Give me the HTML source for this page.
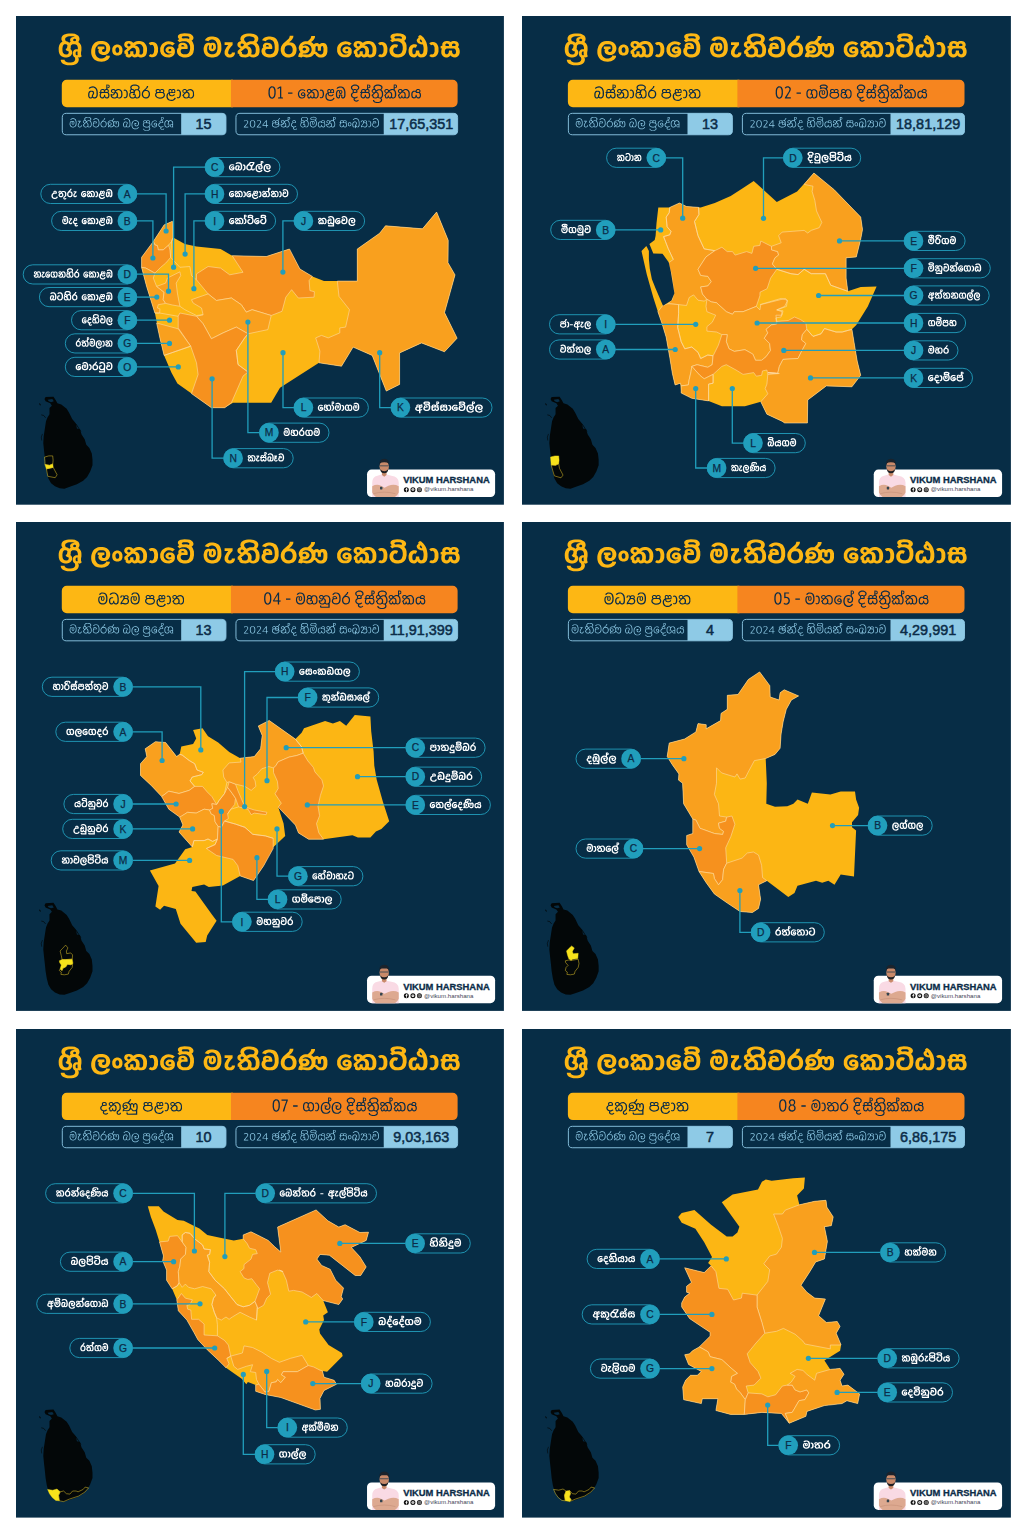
<!DOCTYPE html>
<html><head><meta charset="utf-8"><title>Sri Lanka electoral divisions</title>
<style>html,body{margin:0;padding:0;background:#fff}svg{display:block}text{font-family:"Liberation Sans",sans-serif}</style></head>
<body><svg width="1023" height="1528" viewBox="0 0 1023 1528">
<defs>
<path id="t0" fill-rule="evenodd" d="M611-168l-20 9-14 16-8 19-2 12 0 31 5 23 6 12 10 12 20 8 25 0 19-8 9-9 6-11 6-23 0-37-9-28-15-17-7-5-13-4zM618-133l9 1 7 8 5 16 0 22-3 14-9 10-4 1-9-1-7-6-6-20 0-18 3-15 8-10zM1731-198l0 35 38 1-18 28-17 40-3 17 0 28 5 17 6 11 11 12 9 5 14 3 18 0 12-2 15-9 7-9 9-20 2-23-33 0-2 12-3 6-8 5-10 2-6-3-6-6-3-6 0-15 4-20 6-18 19-34 17-22 0-35zM3879-202l-17 6-11 12 18 23 15-5 7 3 6 6 5 10 4 16 0 57-8 25-9 8-10 2-10-5-18 25 8 8 9 5 9 3 17 0 15-5 8-5 11-11 10-18 6-21 3-16 0-47-3-16-6-21-10-18-11-11-11-6-14-4zM3349-202l-18 8-9 8 0 3 19 24 7-5 8-2 7 4 9 13 4 13 2 24-2 44-8 20-6 6-5 3-6 0-10-5-17 20-2 6 10 9 16 6 16 0 10-3 14-7 10-10 9-14 10-35 1-50-5-29-6-17-8-13-10-10-12-7-14-4zM973-202l-19 8-8 8 0 3 18 24 8-5 7-2 8 4 9 13 3 13 3 24-3 44-7 20-6 6-5 3-7 0-10-5-16 20-2 6 10 9 16 6 16 0 10-3 14-7 10-10 9-14 10-35 1-50-5-29-6-17-8-13-10-10-12-7-14-4zM2999-209l-17-2-25 5-20 12-11 10-17 22-6 14-6 22 0 49 5 20 9 19 6 9 17 16 12 6 15 5 36 0 15-5 10-6 16-19 8-19 2-12 0-30-2-13-8-17-15-15-17-6-15 0-9 2-10 5-14 14-6 15 0 21 6 15 14 14 14 5 16 0 9-4 0 5-8 8-10 5-21 1-13-5-13-14-8-14-5-18 0-27 5-18 10-18 16-15 19-6 20 2 8 4 11 10 26-24-26-21zM2993-111l11 2 8 10-1 11-9 7-13-1-7-10 0-7 2-5zM1168-209l-19-2-16 3-11 4-19 11-15 15-9 12-7 15-8 27 0 46 10 32 12 18 10 10 12 9 20 7 30 1 19-5 11-6 10-9 6-8 7-13 5-20 0-34-8-23-14-17-11-6-10-2-15 0-9 2-11 6-11 12-8 17 0 19 8 17 15 14 11 4 16 0 10-5 2 2-3 4-14 11-10 3-15 0-13-6-12-12-10-18-3-18 0-21 3-18 9-17 14-15 16-9 16-1 15 4 17 12 25-24-24-20zM1161-111l11 2 7 8 0 10-10 10-12-1-5-5-3-6 2-9 3-5zM4007-209l-11 10-9 17-1 21 2 9-19 1 0 34 15 1-5 10-3 17 0 30 2 13 9 22 17 17 19 6 15 0 14-5 14-12 5-10 2 1 1 5 9 11 16 9 20 1 19-6 16-16 9-20 4-21 0-22-5-27-6-13-9-10 5-7 5-14 0-20-8-19-12-12-20-8-23 2-12 5-10 7-14-9-16-5-16 0zM4019-106l7-7 8-4 74 0 6 3 10 12 5 21-1 19-5 14-5 5-10 2-6-2-6-6-7-14-2-28-31 0-3 27-5 12-10 10-6 1-8-2-6-6-5-15 0-23zM4089-172l12-9 16 2 7 10 0 10-2 6-3 2-31 0-1-13zM4022-176l7-5 15 2 8 6 2 5 2 15-3 2-30 0-5-10 0-7zM3076-197l-8 18-1 12 2 15 8 15 10 10 10 5 1 4-30 35 3 36 6 0 5 5 0 18 2 7 10 11 14 5 15 0 11-5 13-12 11 12 15 5 18-1 10-5 7-7 15 11 9 2 16 0 19-5 7-3 12-10 7-13 8-22 3-38-1-32-4-22-6-18-12-22-10-11-19-12-21-7-19 0-18 4-13 6-18 14-2 0-17-16-20-8-16 0-14 4-8 5zM3173-123l8 7 5 10 3 18 0 24-5 18-6 7-7 0-7-5-2-8 0-30-31 0-2 34-5 7-10 2-5-7-1-20-6-10 45-47 9-4 10 0zM3202-174l25-2 15 8 10 11 10 24 2 15-1 54-4 13-8 12-7 2-10 0-5-2-5-8 3-21 0-23-4-25-7-18-15-15-22-8 10-10zM3109-181l15 2 10 12 0 6-16 19-10-5-7-10 0-14 3-6zM699-197l-7 18-1 12 2 15 8 15 10 10 10 5 1 4-30 35 2 36 7 0 5 5 0 18 2 7 10 11 14 5 15 0 11-5 13-12 11 12 15 5 17-1 10-5 8-7 15 11 9 2 16 0 19-5 7-3 11-10 8-13 7-22 4-38-1-32-4-22-6-18-13-22-10-11-18-12-22-7-18 0-18 4-14 6-17 14-3 0-16-16-20-8-16 0-14 4-9 5zM797-123l7 7 5 10 4 18 0 24-5 18-6 7-8 0-6-5-2-8 0-30-32 0-1 34-5 7-10 2-5-7-1-20-6-10 45-47 8-4 10 0zM826-174l25-2 15 8 10 11 10 24 2 15-1 54-4 13-9 12-6 2-10 0-5-2-5-8 3-21 0-23-4-25-8-18-15-15-21-8 10-10zM733-181l15 2 10 12 0 6-16 19-10-5-8-10 0-14 4-6zM442-216l-23 5-25 14-15 15-10 15-8 19-9 34-3 22 0 33 4 26 6 22 9 19 13 18 13 12 22 11 18 5 24 2 14-2 19-5 25-15 8-8 10-15 7-15 2-17-40-5-2 12-5 8-15 14-18 6-25-1-20-11-10-11-7-13-7-16-3-20 0-39 3-22 5-15 12-20 15-14 11-5 36 0 15 7 9 10 7 19 0 35-7 21-8 8-7 2-9-1-6-4-5-7-1-6 2-9 6-8 17-5 0-32-70 0 0 34 15 1-5 9-3 13 4 22 5 10 9 10 12 7 14 4 26 0 9-3 15-8 7-8 9-12 9-23 4-22 0-20-4-20-9-22-10-15-12-12-12-8-15-6-20-4zM2184-274l-23 6-15 9-17 16-10 19 39 13 3-6 10-10 16-6 16 0 13 4 15 12 11 20 7 34 2 51-3 20-5 19-7 14-12 11-16 6-16 1-16-3-13-9-6-9-4-11 0-20 5-11 4-4 10-4 51 0 3-11-2-28-8-20-14-13-24-9-22 2-15 9-7 8-6 17 0 15 4 10-9 10-5 11-4 15-1 18 3 17 6 18 7 12 15 15 13 8 15 5 15 2 21 0 20-3 23-10 15-14 10-15 8-23 7-32 0-64-5-32-7-20-8-19-9-13-15-13-16-9-27-6zM2159-152l8-10 11 0 4 1 7 8 3 10-30 1-3-2zM1591-274l-20 5-19 10-15 15-11 20 38 13 4-7 9-9 16-6 16 0 15 5 15 14 13 27 5 30 0 51-8 34-7 14-11 10-17 6-22 0-9-2-12-8-12-14-5-11-3-17 0-32 5-23 6-9 5 0 2 4 0 16-2 11 0 13 2 11 4 7 9 9 11 5 19 0 10-4 10-10 5-10 4-15 1-20-3-21-2-9-9-13-12-7-18 0-11 7-13-7-18 0-14 7-13 13-8 19-7 30 0 26 3 22 6 22 13 23 12 12 20 11 24 5 22 0 25-5 17-7 18-18 5-7 9-19 8-30 2-25-1-54-4-23-6-23-6-15-13-19-15-13-16-9-25-6zM1601-162l6 0 2 3 3 6 1 14-1 17-4 9-4 2-7-5 0-18zM2628-279l0 13-7 19-14 19-15 16-26 0-14 4-13 6-21 19-11 19-8 28 0 20 7 25 11 22-9 8-6 12-5 17-4 24 36 7 10-7 9 0 29 7 26-1 15-5 14-7 16-15 10-15 8 0 5 3 13 22 9 8 10 7 16 3 20 0 17-3 13-8 10-10 9-16 4-13 4-23 0-55-7-32-7-13-8-8-16-6-20 0-7 2-10 7-8 8-10-12-10-5-22 1-17 13-6-9-20-18 16-17 12-16 10-24 2-21zM2552-127l10 0 5 3 9 11 0 9-3 5-11 8-10 0-5-2-6-6-3-7 3-12zM2679-147l9-1 8 9 1 52 32 0 0-40 3-14 7-7 7 0 5 5 5 25-2 46-3 15-4 8-8 7-6 3-11 0-9-3-15-14-10-13-7-5-12-3 4-17 0-39 1-6zM2568-172l20 0 20 9 14 15 5 10 5 20 0 29-3 12-7 18-14 15-10 5-12 2-48-4 4-6 7-6 19 0 9-3 14-7 13-16 7-18 0-17-4-13-9-14-9-7-10-5-12-3-14 2-12 6-3-1 9-13 12-7zM2444-283l-38 0-2 16-7 18-14 18-47 52-18 35-5 26 0 35 8 32 12 23 18 16 16 8 20 3 15 0 30-7 10-6 15-15 11-20 4-12 5-33-1-28-4-19-9-21-6-10-13-12-10-7-16-5-19-1 20-22 13-18 10-24zM2386-161l18 0 12 5 11 13 9 26 0 33-5 20-12 16-15 7-18 0-14-6-10-11-5-10-4-15-1-19 5-31 5-10 9-10zM3754-294l-18 21 5 11-18 26-2 18 7 20 10 11 24 14 22 5 3 4 5 31 1 22-4 44-2 9-9 14-4 2-11 0-6-5-5-9-4-15-1-20-34 0-1 23-6 19-8 7-4 1-8-2-7-10-3-18 0-26 3-17 4-8 9-7 11-2 10 4 14-35-11-6-10-3-22 0-11 4-10 6-7 8-13 22-6 29 0 35 5 25 9 20 12 14 14 6 19 1 12-3 14-12 7-12 7 11 10 10 16 6 25-1 12-5 14-11 9-14 6-17 5-35 0-43-5-40-7-31-12-30-17-31-24-27zM3761-236l6 5 6 12 5 17-1 3-5 0-8-4-10-11-1-10 3-7zM1953-311l-25 12-20 17-9 15-3 13-2 18 7 20-20 10-8 8-6 11-3 9 0 20 5 15 12 14 15 10-30 35 1 37 10-1 5 4 2 17 9 13 18 10 10 2 27 1 24-5 16-10 21 14 24 1 13-2 13-5 18-15 9-15 7-30 1-39-5-36-12-30-16-20 10-13 8-21 2-21-3-15-10-20-16-15-18-9-33-7-28 0zM1947-121l11 5 6 7 7 11 2 11-1 25-4 10-7 9-13 5-16 0-9-3-7-5-4-7-1-14-10-10 42-44zM1997-172l21 0 13 6 12 14 9 23 2 16-1 46-7 20-9 8-8 2-11 0-6-2-5-5 4-19 0-29-3-14-9-20-12-13-19-9 13-14zM1907-181l14 2 8 8 3 8-18 21-10-5-5-5-2-6 0-11 2-5zM2037-257l4 8 1 13-6 18-8 7-35 0-19 8-16 12-16-20-8-16-1-16 3-8 10-12 16-9 25-4 16 2 23 7zM152-314l-35 0-20 3-26 12-10 7-9 10-8 14-3 15 0 22 10 25-7 4-12 13-6 10-8 20-5 26-1 27 2 35 7 25 8 18 12 12 16 10 20 5 20 0 20-5 15-10 10-12 6-14 4-16 0-19-8-20-11-12 4-12 1-31 4-9 9-8 7-4 20-1 13 5 11 11 4 7 5 23 0 21-22 0-13 8-8 8-6 13-4 16 0 20 4 18 5 10 11 11 4 10 1 24-6 16-13 11-12 5-13 3-22 0-18-4-15-9-8-10-3-14-39 0 0 13 3 11 7 15 12 13 12 8 14 7 20 5 21 2 24-1 19-4 23-10 12-9 12-16 6-19 2-22-4-18-4-7 6-1 12 6 21-19-5-9-3-11 0-29 4-27 0-38-2-18-4-15-9-19-17-18 8-16 4-17 0-15-4-18-8-16-17-15-20-10zM199-79l9 1-1 26 2 20-2 3-10 0-6-7-3-6 0-21 4-10zM76-174l15 1 10 10 2 5-4 31-5 9-10 9 0 2 15 26 9-5 8 10 0 17-3 7-7 9-15 5-17-3-8-6-9-14-5-20-1-38 5-33 6-12 7-8zM173-243l8 0 5 2 6 8 0 10-10 10-13-1-5-5-2-7 1-8zM173-272l3 3-2 1-8 0-14 4-14 10-7 17 0 18 5 15-15 11-12-11-18-8-7-7-5-15 2-17 3-6 13-11 10-5 15-4 31 0zM3518-317l-36 6-11 5-14 12-6 12-2 18 4 11 10 14-17 13 21 29 11-7 16-7 28-1 20 6 19 17 10 18 6 33-1 36-8 31-6 12-10 10-18 7-11 1-20-3-16-14-6-14-3-14 0-12 5-19 6-9 9-5 9 0 9 4 13-35-5-4-15-5-21 0-9 3-11 6-11 11-14 28-4 22 0 14 4 28 4 11 11 20 11 11 14 9 10 4 19 3 21 0 29-6 20-11 17-21 10-24 8-43-1-53-4-19-6-18-14-22 10-10 7-13 3-18-6-22-5-7-19-16-28-10zM3489-263l2-4 7-7 9-3 39 0 11 4 9 7 2 13-6 11-11-5-20-4-32 2-8-9zM1316-317l-37 6-11 5-14 12-6 11-1 19 4 11 10 14-18 13 21 29 12-7 16-7 27-1 18 5 11 8 9 8 10 18 6 24 1 32-5 35-10 23-10 10-12 6-16 2-19-2-11-6-7-7-5-8-3-18 1-11 4-10 5-5 10-4 51 0 2-15-2-27-11-22-17-12-10-4-17-1-9 1-14 6-7 7-8 12-2 11 0 14 2 11-7 9-8 19-2 30 6 25 10 17 10 12 13 8 18 8 15 2 22 0 28-6 20-11 18-21 10-24 7-43-1-53-9-34-8-18-7-7 10-10 8-13 2-18-6-22-5-7-15-14-11-6-20-6zM1283-153l3-5 5-4 11 0 10 8 4 11-32 1zM1287-264l5-8 12-5 39 0 14 5 6 6 3 5 0 9-7 10-7-4-24-5-31 2-8-7z"/>
<path id="t1" fill-rule="evenodd" d="M1653-97l-6 3-8 7-3 8-3 11 0 17 5 17 8 7 5 3 13 1 9-3 5-3 6-10 3-10 0-22-4-12-10-11-5-3zM1654-86l14 2 8 13 0 20-3 8-5 6-6 3-8-2-6-6-4-10 2-22zM1963-126l-9 3-6 5 0 2 6 7 5-4 10 0 8 7 5 12 2 13 0 33-3 17-4 8-8 7-8 0-7-3-6 6 0 2 10 7 13 0 11-7 9-13 5-19 1-31-4-23-6-15-10-10zM1923-124l-12-7-14 0-10 5-8 8-10-10-18-1-12 7-3 8-3 17 11 0 3-15 6-6 10 0 9 9 1 20-5 12-26 44-6 19 0 11 11 0 6-6 9-2 24 9 12 1 18-5 12-11 8-17 1-18-4-19-9-11 7-14 1-12-4-10zM1883-81l18 0 8 3 10 9 4 8 1 18-2 10-4 7-14 12-11 1-26-9-11 0-4 3-3-2 9-20zM1894-118l13-3 6 3 6 6 2 15-5 9-9-3-21-1 0-14 2-6zM1521-129l-7 6-3 9 0 15 2 6-12 1 0 10 12 1-7 17-3 17 4 25 6 11 14 9 16 0 11-7 8-14 6 14 8 6 13 2 10-2 7-4 10-15 3-21-2-23-6-15-5-5 6-13 0-17-4-7-6-6-15-5-14 2-11 9-10-8-11-3-12 1zM1522-73l5-5 11-4 49 0 9 3 6 7 5 15 0 23-4 11-6 7-5 3-9 0-5-3-5-5-5-11-1-20-11 0 0 14-5 16-12 9-7 0-6-3-7-7-3-11 0-22zM1569-116l12-7 10 0 5 2 6 9 0 11-3 7-2 2-29 0-1-19zM1523-117l9-6 14 1 7 6 3 5 1 17-3 2-28 0-5-9 0-11zM1263-129l-15-5-14 2-11 9-6 16-6-2-17 0-11 5-11 12-6 16-2 34 3 16 4 10 10 12 11 3 16-2 8-6 6-13 2 1 3 8 10 10 10 2 16-3 10-10 6-18 2-15-2-14-3-12-9-13 6-12 0-18-4-7zM1192-96l5-2 14 0 7 5 3 11 27 0 6 1 7 5 5 9 2 10 0 23-4 11-6 7-5 3-9 0-10-8-5-11-1-20-11 0-1 20-4 10-6 6-5 3-7 0-6-3-6-6-4-9-2-16 1-24 6-16zM1234-119l8-4 10 0 9 6 2 5 0 11-5 9-27 0-3-2 0-15zM789-134l-8 2-8 5-6 10-1 14 5 14-17 13-5 9-3 15 1 16 7 17 10 10 17 7-4 15 1 9 6 11 9 8 6 2 19 0 14-7 9-12-9-6-9 10-7 4-14 0-10-9-3-5 0-12 4-7 9-1 15-6 12-13-8-7-8 7-9 5-20 2-13-7-9-10-4-10 0-15 3-7 10-13 13-6 34 0 3-4 1-25-4-10-7-8-5-3zM778-116l9-7 15 1 7 8 3 6-1 14-30 1-5-11zM357-134l-59 90 0 3 3 7 55 0 1 33 11 0 0-32 20-1 0-10-17 0-3-3 0-87zM356-113l1 66-3 3-41 0 0-5zM227-133l-13 9-3 7 10 4 5-6 8-5 18 0 6 3 6 9 2 16-14 28-41 60 0 7 68 0 0-10-48 0-3-2 43-64 7-19 0-16-7-14-12-7-6-3-17 0zM136-136l-12 5-10 10-5 9-6 26 0 37 6 26 5 9 10 10 12 5 18 0 12-5 10-10 6-13 5-20 0-44-5-20-5-10-10-10-11-5zM139-126l15 2 12 10 3 6 5 20 2 21-4 31-9 18-12 9-12 0-12-9-6-11-5-23 0-32 2-15 8-17 6-6zM17-128l-5 5-3 6 10 4 10-10 9-3 13 2 11 10 2 7 0 9-2 9-10 18-41 60-2 10 69 0 0-10-51-1 19-31 21-30 10-24 0-12-5-13-14-11-7-3-18 0zM2052-169l-11 3-12 8-11 17 11 4 14-16 13-5 11 0 9 2 15 12 7 13 6 28 0 40-3 19-7 13-12 13-9 4-25 0-10-5-7-8-7-15 0-17 4-10 6-7 7-2 35-1-2-20-6-12-6-5-14-3-11 1-13 10-3 12 3 14-8 11-4 23 5 21 5 9 7 7 15 8 20 2 15-2 9-4 18-17 5-10 5-19 1-49-8-35-12-20-10-7-14-5zM2031-97l6-10 6-2 11 1 8 7 4 12-33 2zM1743-169l-17 7-12 10-6 11 13 4 7-11 6-5 13-5 14 0 16 6 11 11 8 14 5 20 2 23 0 32-5 24-7 11-4 3-9 0-10-8-7-17 0-7 11-22 0-18-5-13-9-8-7-2-19 0-15 7-10 16-4 15-1 25 2 20 5 14 5 6 7 4 15 0 7-5 3 19 12 1-2-11 1-26 7 15 10 7 17 0 6-2 7-8 8-17 2-14 0-53-5-27-12-28-10-10-9-5-12-3zM1747-98l6 2 6 9 0 20-11 21-5 27-6 6-9 1-7-5-5-11 0-45 3-11 10-12 5-2zM571-176l-13 0-1 12-5 10-18 20-13 1-8 4-7 7-3-4-12-7-12-1-12 3-9 9-4 9 0 12 8 17-8 7-5 10-1 28 4 11 6 10 11 10 13 6 10 3 27 0 10-3 13-6 15-15 5-11 2-17-2-16-5-9 2-7 0-24-5-14-7-10 12-15 8-12zM511-67l2-9 5-5 14 0 9 4 3 4-2 7-8 8-10 4-6-2-5-5zM461-63l3-8 12-8 27-2 1 3-3 7 0 8 6 12 9 5 16 0 10-5 9-8 1 16-8 16-10 9-10 5-12 2-20-1-15-6-13-13-5-12zM513-114l11-9 10 0 5 2 9 13 1 21-1 1-6-3-10-3-20 0-1-16zM466-114l11-9 10 0 5 2 7 9 2 19-22 1-7 3-8-13zM1432-193l-8-3-20 0-1 65-14-3-12 1-11 5-13 12-9-12-10-5-7-1-10 1-8 4-7 7-3 5-1 14 5 14 9 8 22 9-6 11-9 7-11-2-1-6-11 0 0 24 3 12 5 9 13 11 10 4 14 1 17-3 11-8 13 9 15 2 17-5 7-5 6-8 4-9 3-19 0-31-7-30-11-15 0-20 17-5 6-6 3-7 0-20-5-8zM1356-78l10 9 3 11 0 20-2 9-10 11-8 4-22 0-13-9-5-9-2-12 16 0 8-4 7-8 9-21 2-2zM1381-122l13 0 10 5 9 9 9 24 1 32-5 23-10 12-14 5-7-1-10-8 4-12 0-29-5-15-7-7-6-4-10-3 10-18 8-8zM1317-122l14-1 10 7 3 9 0 9-7 16-18-5-8-9-3-12 3-8zM1416-187l11 3 6 10-1 12-8 8-10-2zM933-193l-17 9-8 7-5 10-1 19 7 17-7 7-5 10 0 15 6 13-7 9-4 11 0 35 4 10 6 9 14 9 12 2 15-1 16-9 14 9 18 0 7-2 11-10 5-9 5-18 2-40-3-17-7-19-12-10 10-19 0-18-2-8-6-9-15-10-19-5-23 0zM916-81l26-1 2 3-3 15-9 10 5 7 7-4 7 0 5 7 1 10-5 12-9 8-24 0-5-3-10-12-2-8 0-22 5-14zM976-121l11 2 7 3 7 7 7 21 1 32-3 23-5 10-13 10-12 0-8-5-2-4 2-9-1-17-8-10-6-1-2-3 3-10 2-22 2-10 4-8 6-6zM911-118l7-5 11 0 5 2 8 10 1 17-2 2-29 0-5-10 0-9zM986-177l10 10 2 6 0 13-4 9-7 7-20 1-10 7-6 7-10-12-8-4-10-1-6-7-4-12 1-10 4-6 10-9 14-5 20-1 9 1zM723-192l-10-4-19 0-1 65-14-3-13 1-13 6-11 11-9-12-10-5-7-1-13 2-11 9-4 7 0 18 4 9 11 10 20 7-5 10-9 8-12-2-1-6-12 0 0 23 3 10 7 13 8 8 14 6 13 1 18-3 12-8 12 9 15 2 17-5 11-11 7-15 2-12 0-37-5-22-14-21 0-19 17-4 5-4 5-8 1-17-3-8zM646-78l7 6 5 11 0 24-4 10-5 6-15 8-13 0-10-4-10-10-5-17 16 0 6-3 11-12 8-19zM669-122l18 1 5 3 10 10 7 16 3 15 0 29-4 16-4 8-8 8-13 4-10-2-7-8 5-17-2-25-6-15-9-8-12-4 12-21 5-5zM609-123l14 1 9 10 1 14-7 16-15-4-10-8-3-5 0-13 3-5zM704-187l12 3 6 8-1 14-8 8-10-2zM1102-197l-24 1-20 9-10 13-1 18 5 10 12 9 28 0 19 3 7 3 9 9 5 10 4 24-2 29-7 25-5 7-10 9-15 5-18-1-11-7-9-10-6-13-2-12 0-26 3-16 8-9 7 0 4 3 1 3-2 25 4 15 8 8 15 0 8-6 5-13 1-17-2-15-9-12-6-2-8 0-9 5-5-4-10-1-10 4-8 10-7 23 2 33 8 25 13 14 12 6 15 2 24-3 16-12 12-18 6-27-1-47-7-19-8-10 10-10 2-5 1-17-5-10-11-10-11-5zM1087-108l9 0 3 4 4 10-1 23-3 5-5 4-7-1-5-8 0-15 2-13-1-5zM1058-164l3-8 10-9 12-3 21 0 19 6 8 7 2 9-2 9-8 7-6 2-11-4-37 0-7-5z"/>
<g id="cm">
<rect x="0" y="0" width="488.0" height="488.0" fill="#072d46"/>
<path d="M50.8 63.7H217V91H50.8a5 5 0 0 1-5-5V68.7a5 5 0 0 1 5-5z" fill="#fdb714"/>
<path d="M215 63.7H436.7a5 5 0 0 1 5 5V86a5 5 0 0 1-5 5H215z" fill="#f6851f"/>
<path d="M165.2 97.2H206a4 4 0 0 1 4 4v13.4a4 4 0 0 1-4 4H165.2z" fill="#8ecae6"/>
<rect x="46.3" y="97.2" width="163.7" height="21.4" rx="4" fill="none" stroke="#8ecae6" stroke-width="0.9"/>
<path d="M367.8 97.2H437.7a4 4 0 0 1 4 4v13.4a4 4 0 0 1-4 4H367.8z" fill="#8ecae6"/>
<rect x="220" y="97.2" width="221.7" height="21.4" rx="4" fill="none" stroke="#8ecae6" stroke-width="0.9"/>
<polygon points="29.6,380.5 37.5,380.1 39.8,383.6 41.4,386.8 45.3,387.9 50.7,392.2 53.1,396.1 56.2,402.4 60.1,407.1 60.9,411.8 64.0,412.6 65.6,418.0 68.7,422.7 70.3,428.2 73.4,431.3 75.8,436.8 76.5,443.1 76.5,448.5 74.2,454.8 71.1,460.3 67.2,464.2 60.9,467.7 53.1,470.4 48.4,472.0 43.7,471.6 39.0,469.6 35.1,466.5 32.4,461.8 30.8,455.6 29.6,448.5 28.9,441.5 28.1,434.5 27.3,426.6 27.7,419.6 28.9,411.8 30.0,404.7 31.6,400.8 33.5,397.7 33.5,391.5 35.9,389.1 34.3,386.8 29.6,384.8 28.5,382.5" fill="#030708"/><polygon points="31.6,383.2 36.3,382.5 37.8,384.8 35.1,385.6 32.8,384.8" fill="#072d46"/><polyline points="25.3,398.3 27.7,398.9 29.6,401.2" fill="none" stroke="#030708" stroke-width="0.7"/><polyline points="26.5,417.3 25.3,420.4 25.7,423.9" fill="none" stroke="#030708" stroke-width="0.6"/><polygon points="23.0,387.2 23.8,386.8 24.9,388.5 24.2,389.0" fill="#030708"/><polyline points="60.1,407.5 63.6,413.0 64.8,414.9" fill="none" stroke="#030708" stroke-width="0.8"/>
<g transform="translate(0,-0.6)"><rect x="351.1" y="453.5" width="128.1" height="27.4" rx="4.6" fill="#fff"/>
<g id="person">
<path d="M356.3 481V466.5Q356.3 460.6 361.5 459.6L365.6 458.4H370.8L375.4 459.6Q382.8 460.6 382.8 466.5V481Z" fill="#f9dae4"/>
<path d="M366 455.5H370.6V459L368.3 460.6L366 459Z" fill="#c98a6a"/>
<path d="M356.3 470.2Q361 467.6 365 469.8L368.6 471.6L372.5 469.8Q378 467.6 382.8 470.2V476.5Q381.5 479.6 379 481H360Q357.6 479.6 356.3 476.5Z" fill="#dda990"/>
<path d="M357.5 477.6Q368 474.5 379.5 477.6" fill="none" stroke="#c48f77" stroke-width="0.6"/>
<rect x="364.1" y="470.6" width="2.4" height="2.7" rx="0.4" fill="#34444f"/>
<ellipse cx="368.3" cy="450.3" rx="4.7" ry="6.3" fill="#c98a6a"/>
<path d="M363.4 449.2Q362.8 442.6 368.3 442.6Q373.9 442.6 373.2 449.2Q372.6 446.6 370.8 446.4Q368.3 446 365.8 446.4Q364 446.6 363.4 449.2Z" fill="#1b232c"/>
<path d="M364.3 453.2Q366 455.1 368.3 455.1Q370.6 455.1 372.3 453.2Q372 457.2 368.3 457.3Q364.6 457.2 364.3 453.2Z" fill="#1f2024"/>
<path d="M363.8 449.8H372.8" stroke="#3b4650" stroke-width="0.9" fill="none"/>
</g>
<text x="387.3" y="467.3" font-family="Liberation Sans, sans-serif" font-weight="700" font-size="9.6" fill="#0b2c48" stroke="#0b2c48" stroke-width="0.3" textLength="86.5" lengthAdjust="spacingAndGlyphs">VIKUM HARSHANA</text>
<circle cx="390.4" cy="473.6" r="2.5" fill="#111"/><circle cx="397" cy="473.6" r="2.5" fill="#111"/><circle cx="403.5" cy="473.6" r="2.5" fill="#111"/><path d="M390.1 475.6v-1.9h-.6v-.7h.6v-.5q0-.9 1-.9h.5v.7h-.4q-.3 0-.3.3v.4h.7l-.1.7h-.6v1.9z" fill="#fff"/><ellipse cx="397" cy="473.5" rx="1.4" ry="1.2" fill="#fff"/><path d="M396.2 473.9l.6-.8.5.4.6-.4-.6.9-.5-.4z" fill="#111"/><rect x="402.2" y="472.3" width="2.6" height="2.6" rx="0.8" fill="none" stroke="#fff" stroke-width="0.45"/><circle cx="403.5" cy="473.6" r="0.55" fill="none" stroke="#fff" stroke-width="0.35"/>
<text x="408" y="475.3" font-family="Liberation Sans, sans-serif" font-size="5.4" fill="#445" textLength="49.5" lengthAdjust="spacingAndGlyphs">@vikum.harshana</text></g>
<use href="#t0" fill="#fdb714" transform="translate(41.50,41.40) scale(0.09655,0.07650)"/><use href="#t1" fill="#8ecae6" transform="translate(227.30,111.30) scale(0.06410,0.05380)"/></g>
<path id="t2" fill-rule="evenodd" d="M1071-126l-12 4-5 6 8 9 5-4 11 2 8 10 5 23-2 33-2 11-9 13-11 1-5-4-8 10 9 8 11 1 7-1 10-7 8-12 7-25 0-33-5-21-9-15-9-6zM442-126l-11 4-5 6 7 9 5-4 11 2 8 10 5 23-1 33-3 11-9 13-11 1-5-4-7 10 8 8 12 1 6-1 10-7 9-12 6-25 0-33-5-21-9-15-9-6zM1131-128l-9 12 0 18 4 9 7 7 11 6-22 29 2 10 8 5 0 8 4 10 12 10 16 3 20-2 13-8 11 8 11 2 13-1 11-5 6-6 7-11 5-19-2-46-5-17-6-11-12-11-13-5-22 1-10 5-14 13-6-10-13-9-14-1zM1176-81l6 3 6 6 4 8 1 28-4 9-8 9-8 2-17-1-10-9-3-16-5-5 28-32zM1207-118l14 0 7 4 11 12 7 19 1 31-3 15-6 13-12 8-13 0-9-7 4-11 0-25-5-17-9-11-6-4-10-2 14-16zM1143-121l14 2 7 7 2 11-14 17-11-5-4-4-4-9 0-7 3-5zM974-134l-8 3-8 10-1 23 5 11-15 13-9 15-5 20 1 25 9 23 14 15 20 9 21 1 15-3 15-9 9-10 5-10 2-11-15-3-6 15-15 13-7 2-25-1-12-8-11-15-5-23 3-22 3-10 8-8 4 20 3 6 8 6 15 5 14 0 16-6 6-6 4-8 1-9-14 0-2 8-10 7-16 0-7-2-7-8-1-13 3-7 57 0 3-21-1-17-7-15-10-5-13 1-10 11-4-6-6-5zM1014-121l7 2 5 5 1 21-3 4-20-2 0-17 4-9zM974-119l8-2 7 5 4 14 0 10-2 3-15 0-5-5-3-13zM824-133l-7 4-8 7-3 10 1 16 6 12-7 7-5 11-2 24 3 10 9 15 20 14 23 5 28-4 17-10 7-6 6-10 4-11-2-27-5-11-7-9 7-15-1-16-10-12-12-5-10 0-8 2-10 8-9-7-10-3zM816-64l5-8 10-6 53 0 9 5 6 9 3 11-1 12-7 12-6 6-11 6-10 3-19 0-10-3-11-6-11-15-3-13zM873-119l13-2 8 7 3 5 0 7-6 11-27-2 0-16zM821-114l8-7 13 2 9 10 0 16-27 2-6-11zM289-131l-8 9-4 9 1 17 10 14 10 6 14 4-6 11-8 5-10-1 0-5-14-1 0 27 4 12 6 10 14 10 16 3 17-1 12-5 6-5 7 6 16 5 12-1 12-5 7-7 5-9 4-11 2-19-2-38-5-16-9-14-9-7-17-6-13 0-8 2-9 5-9 9-11-11-9-4-10-1zM338-74l5 6 4 10 0 19-6 13-8 7-10 3-16-1-8-4-6-6-5-11 0-5 11 0 9-3 11-11 10-21zM363-119l11 1 8 4 11 13 5 17 1 35-2 13-5 10-13 10-12 0-9-6 4-17 0-18-4-16-6-10-5-4-14-4 9-15 9-8zM296-118l12-3 10 7 4 8 0 8-6 15-9-1-8-4-7-8-3-6 0-7zM48-169l-17 7-7 5-8 11-2 5 14 5 9-11 11-6 21-1 13 5 11 11 5 9 8 28 1 49-3 15-5 11-11 9-11 0-8-5-3-7 0-12 13-27-1-23-4-7-7-8-10-3-15-2-10 3-6 4-8 7-6 13-4 18 0 29 3 14 6 12 6 7 6 2 17 0 5-2 6-8 10 9 11 2 15-1 10-5 9-9 9-23 2-30-2-35-4-19-9-21-12-15-17-9-15-3zM53-94l5 2 6 9 0 14-12 23-1 22-5 6-10 2-9-7-4-13 1-37 5-13 7-6 5-2zM718-176l-15 0-4 17-12 17-29 30-11 20-4 13-1 27 2 14 8 17 14 14 17 6 19-1 16-7 11-13 8-17 2-14 0-19-2-14-8-17-6-8-12-7-8-3-17 0 25-30 5-10zM699-107l9 4 6 6 7 11 3 20-1 17-7 20-9 8-8 4-17 0-10-5-6-6-5-10-4-18 1-18 6-17 10-11 12-5zM533-192l-10 5-10 9-7 16 0 15 7 16-9 8-5 11 2 15 6 11-9 10-4 14-1 21 4 15 11 17 15 7 24 0 7-2 9-7 14 9 11 1 13-2 10-6 5-7 5-10 5-20-2-48-5-17-13-16 5-6 5-13 1-7-3-15-5-9-7-7-18-9-12-3-23 0zM521-78l26 0-4 14-9 8 8 10 6-3 6 0 4 5 1 8-2 9-9 9-7 2-17-1-5-2-10-13-2-11 1-19 4-9zM577-117l14 0 8 5 9 14 3 10 1 34-3 16-6 14-11 8-14-1-6-6 0-26-5-8-10-5 7-44 9-10zM516-116l7-5 10 0 6 4 5 8 2 15-28 2-4-4-2-8zM521-158l3-9 5-5 12-6 10-3 21 0 15 5 11 10 3 5 0 15-4 8-6 6-20 1-9 5-8 8-2-5-9-8-15-3-2-3-5-11zM249-194l-26-2-1 62-14 5-6 6-6-6-8-4-14-1-15 6-7 10-1 19 2 5-12 1 0 14 11 1-6 14-3 18 5 27 4 6 11 10 11 2 10-1 12-7 6-13 7 14 5 4 12 3 11-1 12-7 7-10 5-27-2-15-3-12-9-13 6-12 0-16-6-12-11-7 0-10 16-4 10-12 1-17-2-8-7-8zM163-69l5-7 10-3 50 0 6 2 7 6 3 10 2 22-4 13-9 9-11 0-8-6-2-5-4-25-12 0-2 17-5 13-7 6-14-1-6-8-4-13 0-13zM216-118l5-3 10 0 8 8 2 14-5 7-28-2 0-13 3-6zM164-113l9-8 10 0 5 3 5 5 3 6 0 13-29 1-4-8zM236-186l10 3 5 7 0 12-7 7-3 1-7-1z"/>
<path id="t3" fill-rule="evenodd" d="M247-68l0 14 52 0 0-14zM151-134l-32 17 5 13 23-13 4 1 0 103-23 1 0 11 58 0 0-11-20-1 0-121zM53-137l-7 1-13 7-10 11-4 7-5 19-1 38 4 22 7 18 17 13 21 3 17-8 8-7 6-11 6-27 0-37-2-14-9-20-9-9-7-3zM51-123l15 1 8 8 5 10 4 16 1 20-3 32-7 14-12 10-11 0-13-10-6-15-3-15 0-32 3-15 6-14z"/>
<path id="t4" fill-rule="evenodd" d="M284-126l-10 4-5 6 8 9 5-4 9 0 7 8 4 7 4 28-2 24-5 17-6 8-11 1-5-4-9 10 10 8 11 1 12-4 8-9 5-8 7-28 0-26-4-20-6-14-10-10zM54-131l-12 4-9 5-16 19-9 26 0 28 9 26 12 14 17 7 16 1 11-2 9-5 7-8 5-8 4-13 0-22-4-13-10-11-8-4-13 0-12 8-5 7-3 10 3 11 3 7 8 6 9 2 10-1 8-6 2 1-5 15-8 8-9 3-12 0-14-6-10-12-6-24 2-25 9-18 14-12 6-3 18 0 7 4 9 9 10-10-10-10-9-5-10-3zM64-73l10 0 8 7 0 9-8 9-10 0-7-8 0-10zM1463-131l-10-3-15 1-14 10-6 15-11-3-15 3-8 4-11 12-5 11-2 13 0 26 5 23 3 7 7 6 13 5 17-2 7-6 6-13 5 10 8 8 11 3 13-1 8-5 7-7 6-18 1-19-4-20-2-6-8-9 7-11 1-14-6-13zM1393-92l6-4 13 0 7 5 3 12 29 0 5 1 7 7 5 17 0 16-2 10-8 10-12 1-8-5-6-15-1-16-13 0-2 22-9 13-13 1-8-7-5-15 0-28 2-10zM1437-117l6-4 10 0 8 5 3 10-1 7-5 7-26-2-1-12 1-5zM1214-128l-8 14 0 16 6 12 7 7 8 2 1 3-22 26 2 15 5 1 1 18 7 10 10 3 10-1 5-2 7-10 9 11 7 2 14-2 8-6 8 6 18 2 11-3 9-8 6-11 4-14 1-40-4-20-5-12-15-18-12-6-18-1-12 3-20 15-11-13-8-4-15-1zM1274-81l8 10 4 18 0 15-4 15-9 7-9-2-5-9 0-16-12-1-3 21-3 5-5 2-7-1-3-5-2-19-3-5 31-36 6-2 9 0zM1296-119l7 0 11 5 12 12 5 13 2 15-1 36-5 14-10 8-10 0-5-2-5-8 2-7 0-29-7-22-10-9-16-5 15-15zM1228-121l13 2 7 7 1 11-13 17-9-4-9-11 0-12zM424-134l-8 0-7 2-7 10-9-10-6-2-10 0-6 2-8 8-4 11 0 12 3 9 4 5-18 15-9 18-2 10 0 27 4 15 8 16 9 9 10 6 11 4 22 1 21-6 16-14 9-17 1-6-15-3-6 14-6 7-8 5-10 4-19 0-13-6-10-10-7-13-2-11 0-19 5-18 9-12 1 17 4 8 13 12 10 2 20-1 13-6 9-14 0-8-14 0 0 4-4 6-9 5-20-1-8-7-3-7 0-7 5-8 56-1 3-14-1-25-5-11-5-5zM414-119l10 0 5 7 2 15-3 8-19 0-2-3 1-19zM381-121l7 2 6 7 0 23-16 0-5-7-1-15 2-5zM126-129l-10 12-2 16 7 14 16 13-23 28 3 12 6 3 0 14 4 10 7 5 12 1 7-2 9-11 7 10 10 3 10-1 12-9 6 7 12 3 13-1 7-4 9-8 8-20 2-24-2-31-8-22-5-7-15-13-12-3-12 0-10 2-15 9-7 7-10-12-10-5-14-1zM182-82l9 10 3 13 0 26-2 9-6 7-10 0-7-9-1-18-12 0 0 13-3 9-5 5-9 0-5-7 0-14-3-9 31-35 5-2 9 0zM199-118l13-1 14 6 8 10 7 16 2 24-1 21-6 19-9 7-14-1-6-7 2-14 0-19-2-14-5-12-9-9-17-6 12-14zM138-121l9 0 5 3 7 11-1 8-14 15-10-5-3-4-4-9 2-12zM504-169l-17 7-6 5-12 16 15 5 10-12 9-5 23-1 12 5 11 11 9 20 4 19 1 52-2 15-4 9-5 5-9 1-5-6 0-8 3-5-2-13-8-7-15-1-8 1-9 7-1 11 4 12-3 7-3 2-7 0-5-4-3-6-3-11 0-40 6-21 8-7 5 2 4 3 1 24 4 8 8 5 17-2 7-10 3-15-3-16-6-9-5-2-11 0-8 5-5-4-14-2-7 2-9 9-7 19-3 16 0 31 3 16 5 13 6 7 12 5 10-1 10-6 4-9-2-24 3-3 10 0 5 5-3 15 2 13 11 9 17 0 8-5 7-7 3-9 4-19 0-50-6-35-13-25-11-10-19-7zM518-107l5 0 5 5 1 6-1 14-5 5-5 0-5-7 0-18zM1187-192l-9-4-22 0-2 64-10-2-17 1-14 6-14 11-12-15-11-3-9 0-11 3-10 10-3 8 0 14 3 7 10 11 10 5-23 29 3 14 3 0 3 4 0 13 6 12 11 3 10-1 8-6 4-6 8 11 9 2 10-1 10-7 13 7 13 1 14-5 8-7 6-13 4-17 0-36-7-25-6-12-5-5 0-22 16-4 10-12 2-17-3-8zM1108-83l9 7 6 19 0 21-5 15-7 5-7-1-6-7-1-20-13 0 0 12-3 11-8 5-6-1-4-6-1-19-4-4 30-35 8-3zM1128-118l13-1 15 7 6 8 7 18 0 49-6 15-9 6-10 0-8-7 2-30-2-18-4-10-10-11-19-6 15-15zM1066-121l12 2 8 7 2 10-15 18-10-5-5-5-2-7 1-12zM1168-186l10 3 5 6 0 13-6 7-4 1-6-1zM954-196l-20 7-15 12-3 6-4 17 1 10 4 8-18 8-7 10 0 24 11 13 9 4 1 3-21 25-1 6 2 10 5 0 4 5 0 7 2 7 8 7 7 4 22 2 12-2 14-8 10 8 16 2 4 4 5 11-1 15-10 13-15 6-20 1-20-5-12-10-3-12-15 0 3 17 8 10 9 7 21 7 29 0 10-2 15-8 10-10 5-10 1-19-3-8-6-10 10-9 9-19 2-16 0-24-3-22-4-10-9-14-6-5 9-10 6-18-1-13-5-12-10-10-17-7-11-3zM946-81l8 5 7 10 2 13-1 19-5 10-8 6-7 2-13 0-8-3-5-5-3-14-6-9 29-32zM976-117l10 0 11 5 9 10 7 21 1 30-2 15-5 12-11 8-14 0-9-7 4-9 1-14-4-25-6-11-6-6-15-5 16-18zM913-121l13 2 7 7 3 10-15 18-10-5-5-5-3-7 0-10zM994-174l10 10 3 12-4 13-9 8-21-1-7 3-19 13-15-20-4-8-1-12 4-10 8-8 17-7 21 0zM863-194l-26-2-1 62-14 5-6 6-7-6-7-4-14-1-15 6-7 10-2 19 3 5-13 1 0 14 12 1-7 14-2 18 5 27 4 6 11 10 11 2 10-1 11-7 7-13 7 14 5 4 11 3 12-1 12-7 6-10 5-27-1-15-4-12-8-13 6-12 0-16-6-12-12-7 0-10 17-4 10-12 1-17-3-8-6-8zM777-69l5-7 10-3 50 0 6 2 6 6 4 10 1 22-3 13-9 9-11 0-8-6-2-5-4-25-13 0-1 17-5 13-7 6-14-1-6-8-4-13 0-13zM829-118l5-3 10 0 9 8 1 14-5 7-27-2 0-13 2-6zM778-113l9-8 10 0 5 3 5 5 2 6 0 13-28 1-4-8zM849-186l10 3 5 7 0 12-6 7-4 1-6-1zM681-196l-9 3-15 9-11 13-3 8 0 19 6 13 15 13-1 19 4 10-14 11-6 10-4 12 0 15 4 13 6 10 15 12 10 4-4 9 0 12 7 14 15 10 16 1 15-6 12-14-11-7-6 7-9 5-12 0-12-11 0-14 7-6 5 0 12-5 15-14-12-8-7 6-12 6-11 0-9-2-8-5-7-9-4-10 1-15 7-11 12-9 40-3 3-10 0-20-3-6 11-6 8-8 6-15 0-15-6-15-18-15-13-5zM677-113l9-8 10 0 5 3 6 9 0 13-26 3-5-8zM661-166l10-10 12-5 24 2 11 6 6 6 4 9-1 15-3 5-11 10-4 0-13-6-15 1-9 5-9-8-5-8-1-10z"/>
<path id="t5" fill-rule="evenodd" d="M137-123l0 11 29 1-22 40-7 25 0 18 2 9 5 8 10 8 8 2 17-1 10-6 4-5 5-13 1-13-11 0 0 7-4 10-10 9-10 0-10-5-3-5-3-8 0-10 6-23 27-47 0-12zM1331-131l-20 9-15 18-9 23-1 28 2 14 9 20 11 11 10 5 20 2 11-2 9-5 8-8 5-8 3-13 0-22-3-12-4-6-14-9-12 0-13 8-6 11 0 10 6 13 13 7 10 0 6-2 6-7 1 4-6 18-7 7-9 4-15 0-11-5-10-10-5-10-4-18 0-15 2-12 8-18 9-10 10-6 10-2 12 1 8 4 8 8 9-7-5-6-14-9-10-3zM1344-76l10 3 7 7-2 12-8 7-12-1-5-5-2-6 1-8 8-7zM1507-126l-11 15-7 25 0 42 4 16 6 12 12 10 17 5 15-1 6-2 12-10 6-15 1-17-5-13-10-9 3-9 0-19 5-12 8-9 10-4 7 0 11 4 11 14 5 21 0 18-19 0-11 10-5 12 1 24 5 10 8 5 11 1 13-2 5 3 7-6-4-6-2-11 2-20 0-43-3-17-9-17-13-8-11-3-10 0-12 4-13 10-10-10-11-4-11 0zM1601-56l5 0 6 4 0 36-8 4-8-1-5-5-3-8 0-13 3-8 5-6zM1526-121l11 3 9 10-2 29-2 7-9 8 4 8 2 0 5-3 4 0 5 5 4 11-3 16-10 11-5 3-13 0-12-5-8-11-5-20 0-33 5-21 10-14zM1178-133l-14 9-5 11 0 12 8 17-10 11-4 11-1 13 4 18 3 8 12 12 16 9 10 3 27 0 10-3 7-4 11 12 2 8 0 13-3 9-9 8-19 8-22 0-18-6-10-10-4-13-11 0 1 13 5 8 9 9 11 6 14 4 34-1 19-9 10-10 5-11 1-10-3-16-6-12-6-5 10-12 6-16 0-23-6-15-8-7 8-19-1-14-7-10-11-6-17 0-12 6-3 5-3-4-12-7zM1169-71l7-6 8-4 57 2 11 8 5 13 0 15-3 7-10 14-15 9-25 2-18-5-14-11-8-15 0-17zM1224-121l5-2 10 0 10 7 3 12-3 8-6 7-6-3-21-1 0-15 2-6zM1171-114l10-9 11 0 5 2 7 9 2 19-22 1-7 3-4-4-4-9zM1029-134l-23 8-12 10-7 12-8 18-3 20 0 38 6 25 10 17 9 9 17 9 30 1 15-5 15-12 6-10 4-14-11-1-6 13-14 13-10 4-23 0-15-8-11-12-5-10-5-19-1-28 6-33 10-18 6-6 10-6 10-3 14 0 16 6 12 12 7 17 0 24-5 16-11 11-14 2-5-3-9-10 0-11 8-11 11-5 0-10-37 0 1 10 16 1-5 4-4 6-2 11 1 8 5 11 5 5 10 5 23-1 12-9 10-20 3-13 0-17-3-13-9-17-12-13-18-7zM886-169l-23 11-7 7-5 10 11 4 11-14 16-7 14 0 9 2 9 5 8 9 9 16 6 29 2 39-4 25-4 9-11 10-14 1-10-6-4-8 0-14 15-30-1-20-6-11-10-6-23-1-10 3-7 7-6 10-4 11-3 17 0 20 4 20 5 10 6 7 7 2 15 0 5-2 6-8 7 6 9 4 20 0 9-4 9-7 5-9 5-16 1-54-6-35-13-25-12-11-18-6zM889-98l5 2 8 10 0 17-14 26-1 21-5 6-5 3-8 0-7-6-5-15 1-40 9-18 10-6zM409-169l-18 8-9 9-5 11 11 4 4-7 9-9 12-5 11 0 17 6 8 9 7 11 6 26 1 30-4 28-3 11-7 10-6 6-12 7-19 1-9-3-9-5-7-8-5-15 0-14 5-13 7-6 5-1 34 0 0-18-6-13-10-8-16-2-13 5-7 8-2 17 3 7-5 5-5 11-1 25 7 20 9 10 15 8 20 2 15-2 11-5 10-9 8-11 6-18 2-13 0-47-8-35-8-12-6-6-13-8-8-2zM389-101l8-7 11-1 10 6 4 6 1 8-31 2-3-2zM52-169l-19 8-9 9-5 11 12 4 2-6 10-10 13-5 11 0 16 6 9 9 9 19 5 33-2 32-5 20-3 7-12 13-11 5-17 1-7-1-11-7-6-6-8-14-3-16 0-25 2-12 9-13 9 0 3 8-2 25 4 13 8 8 15 0 9-8 5-17 0-18-5-13-6-7-6-2-8 0-9 5-5-4-10-1-10 4-6 6-7 19-2 32 7 26 7 13 9 9 12 6 20 2 15-2 17-9 8-10 7-12 5-18 1-54-9-35-7-12-8-8-20-8zM58-108l9 1 6 11-1 25-5 8-5 1-8-4-2-7 2-25-1-5zM773-109l-10-8-15 0-10 8-2 6-10-13-17-1-5 3-7 10-4-7-15-13 13-14 7-11 5-13 1-11-11 0-1 10-4 9-9 12-13 14-7-3-15 0-11 3-11 6-13 14-6 16 0 24 5 15 11 14-8 11-5 24 8 2 10-5 9 0 13 4 23-1 15-8 8-7 7-13 4 0 4 4 10 17 9 7 10 2 15 0 13-5 5-4 8-11 5-24-1-42zM631-83l10 0 5 2 5 5 2 7 0 8-2 5-13 9-6 0-8-4-7-11 0-7 2-5 8-8zM714-106l8 2 6 8 1 37 12 0 1-35 9-12 8 2 8 10 2 11-1 47-6 14-10 8-13 1-8-3-9-7-8-14-3-4-8-2 1-48 3-8zM662-118l14 7 6 7 7 13 4 29-5 25-5 9-7 7-9 5-46 0-2-5 4-7 6-6 18-4 11-9 5-10 1-10-2-10-9-11-10-5-16 1-5 3-8 8-1-7 3-9 12-15 9-5 15-2zM564-176l-11 0-4 17-15 20-26 27-11 19-5 16-1 24 5 22 7 14 8 8 16 7 22 0 17-7 12-15 6-17 3-16-1-22-5-17-7-10-10-8-11-5-22 0 25-29 7-16zM536-109l11 0 11 5 11 13 5 18 0 20-3 16-4 8-9 10-14 6-12 0-15-8-10-15-4-13 0-20 8-23 13-14zM1441-196l0 60-15 5-9 9-3 5-1 13 5 15-6 3-13 14-5 13-1 11 1 11 9 19 9 9 16 7-4 15 2 9 6 11 14 10 13 1 10-2 9-5 10-13-9-6-10 11-5 3-15 0-10-9-2-5 0-12 4-7 13-2 10-5 13-13-8-6-2 0-8 8-7 3-20 2-10-4-9-8-5-7-2-9 1-17 10-15 15-8 35 0 2-9-1-25-4-7-6-6-7-4 0-10 13-3 8-5 6-13-1-18-3-5-10-7zM1426-116l8-7 15 1 8 8 2 6-1 14-29 1-3-4-3-9zM1451-187l11 3 6 8-1 15-8 7-10-2zM274-194l-13 5-8 5-9 10-5 13 0 13 5 12-17 7-6 6-4 7 0 18 4 9 7 7 11 6 0 3-21 25-1 6 2 6 8 4 1 13 3 5 7 7 8 4 12 2 16-1 18-9 5 5 9 4 20 0 8-4 8-6 7-14 4-16 0-36-4-19-7-16-10-11 12-18 3-12-1-10-5-12-17-13-21-7zM274-82l9 6 6 14 2 24-5 14-13 10-24 0-6-4-4-5-2-15-6-8 30-35zM299-119l15 0 10 5 9 10 6 16 3 16-1 33-7 16-12 10-15 0-9-8 4-13 0-24-3-11-3-9-9-10-8-4-10-1 20-21zM238-123l14 1 5 4 5 9-1 10-14 16-10-4-10-12 0-13 2-5zM323-176l8 8 3 9 0 8-5 13-7 7-20-1-16 6-14 13-5-10-11-14-4-9 0-16 6-10 13-9 16-3 20 1z"/>
<path id="t6" fill-rule="evenodd" d="M349-106l0 18 22 1-24 35-4 11 1 22 10 13 13 5 11 0 10-3 8-8 5-14 0-8-18 0-1 7-5 5-5 1-9-8 0-10 9-19 22-30 0-18zM692-108l-8 2 4 19 10 1 5 7 3 8 0 32-4 11-5 5-9 0-4 19 4 2 13 0 10-5 7-7 6-13 3-11 0-33-4-15-5-10-11-10zM502-112l-15 6-8 7-7 10-8 18-1 27 4 16 6 11 8 8 15 7 18 1 18-7 10-15 2-9 0-20-2-9-9-12-9-4-13 0-8 4-6 6-4 9 0 11 4 9 11 9 18 0-9 7-15 1-5-2-11-14-4-17 1-12 5-12 13-13 6-2 10 0 14 9 13-13-11-9-14-6zM514-59l7 0 5 6-2 6-5 4-5 0-5-5 0-6zM774-116l-12 5-5 9-1 16 3 9-8 6-10 15-5 18 0 24 8 23 10 10 8 5 16 5 19 0 17-6 14-12 5-10 3-12-22-2-1 6-10 11-9 4-18-1-14-11-5-13 1-30 3-5 2 3 0 6 5 10 5 5 10 5 18 1 16-6 9-13 1-11-18 0-5 10-5 3-11 0-9-8-1-12 3-4 46 0 4-13 0-20-5-12-9-6-14 0-10 7-9-7zM806-97l6 0 2 3 0 13-13-1 0-7zM776-97l5 0 5 5 0 11-12 0-2-2-1-6zM556-104l-4 12 1 10 5 10 10 9-15 17 0 20 4 0 2 3 2 14 3 5 9 3 10 0 5-2 6-8 4 5 10 5 10-1 9-6 14 7 10 0 12-5 6-6 4-6 5-20 0-29-6-24-13-16-15-7-12-2-13 3-17 10-13-10-13-3-13 4zM607-67l7 8 3 7 0 21-3 7-3 3-8-3-1-19-16 0 0 16-5 6-3 0-5-6 0-9-2-5 26-26zM626-94l16 1 7 6 7 13 2 12-1 29-4 9-6 5-5 0-6-5 1-28-5-19-6-7-14-6 6-7zM573-97l9 0 6 8-2 6-8 7-9-8 0-8zM121-109l-7 10-1 15 6 12 10 9-15 17 0 20 7 0 5 15 13 9 22 1 10-2 8-5 9-13 4-21-1-12-8-17-7-6-5-1-2-3 9-8 9-4 14 1 10 9 6 17 0 30-4 10-14 13-6 9-4 11 0 12 4 10 11 9 15 1 10-3 7-9 1-13-15 0 0 4-4 5-6 0-4-4-1-5 2-10 22-21 6-16 0-39-4-14-6-11-13-11-12-5-19 0-15 6-5 5-11-10-11-4-10 2zM154-64l8 1 6 6 3 5 1 14-4 11-5 5-16 1-8-5-1-8-5-8zM134-97l9 0 6 8 0 2-10 11-8-7-2-5 2-5zM54-116l-10 5-6 9-2 10 2 13-17 11-9 12-5 18 0 24 7 21 15 15 17 6 20 1 11-2 12-6 12-13 6-19-20-3-5 11-11 9-10 2-15-2-12-9-6-15 0-16 3-10 3-7 8-7 12-5 33 0 4-14 0-14-5-13-8-8-7-4zM53-93l6-5 7 0 5 5 2 10-17 1-3-2zM874-144l-15 10-8 13 20 8 7-9 5-2 15-2 10 4 8 6 7 14 4 18 0 48-4 12-5 2-2-2 1-18-5-6-5-3-20 0-4 2-6 7 1 18-2 2-7-2-3-12 0-33 2-10 5-5 3 0 3 3-1 12 4 10 6 5 14 1 6-3 6-7 2-25-5-10-7-4-11 0-6 4-6-4-13 0-10 5-6 9-4 11-2 15 0 25 5 21 8 12 10 3 10 0 12-8 2-7-1-16 4-4 2 0 4 4-1 19 3 6 10 6 14-1 5-2 9-10 6-22 0-48-7-32-8-13-7-8-14-7-11-3-14 0zM897-88l5 7-1 8-3 2-5-5 0-10zM318-152l-21 1 0 8-5 11-31 35-7 10-5 15-1 31 4 14 5 10 9 9 18 7 14 0 18-6 11-12 6-15 1-34-7-20-13-13-10-3-11-2 19-22 5-13zM287-87l9 0 11 6 4 7 3 16-1 17-4 10-6 7-9 3-10-1-10-7-3-8-3-12 3-22 3-7 7-6z"/>
<path id="t7" fill-rule="evenodd" d="M116-106l0 18 18 0 2 2-10 13-14 22-4 15 1 14 4 9 9 9 10 3 16-1 9-5 5-6 4-10 1-11-18 0-2 8-4 4-5 1-7-5-3-10 4-12 5-9 24-32 0-17zM542-108l-8 2 3 19 11 1 5 8 3 10 0 27-3 10-6 8-10 0-3 19 4 2 11 0 12-5 7-7 5-10 4-18 0-26-5-20-5-9-10-9zM351-112l-17 8-13 16-8 20 0 29 6 17 13 14 12 6 19 1 10-2 6-4 8-7 4-8 3-17-2-20-4-8-11-9-16-1-7 3-11 13 0 17 4 7 10 8 17 0-3 5-8 3-12 0-12-8-6-13-1-20 2-10 4-7 10-10 8-4 13 1 12 8 12-13-17-12-8-3zM364-59l5 0 5 5 0 6-5 5-6 0-5-6 1-7zM623-116l-10 4-6 9-1 19 2 7-9 8-10 16-5 26 2 15 6 18 6 8 8 7 16 7 25 1 17-6 13-11 6-11 3-12-22-2-3 10-10 9-7 2-18-1-5-3-10-10-4-10-1-18 2-14 3-4 3 14 9 10 6 4 10 2 12 0 13-5 9-9 4-16-19 0 0 5-6 6-14 2-7-5-4-12 4-7 46 0 4-14 0-17-5-13-9-7-14 0-10 7-6-6zM656-97l6 0 2 3 0 13-13-1 0-9zM624-97l7 0 3 4 3 7-1 5-12 0-2-2-1-8zM407-107l-5 10 0 14 5 10 11 9-16 20 1 18 3 0 3 4 0 10 7 9 6 2 10 0 12-8 7 6 7 2 10-1 9-6 12 7 12 0 10-3 6-5 6-10 3-9 2-33-2-17-5-14-14-16-13-6-12-2-16 4-13 9-2 0-8-8-7-3-10-2-12 3zM458-66l6 8 3 10 0 14-4 11-6 2-4-3-1-19-16 0-2 19-3 3-4 0-4-3 0-9-2-8 23-25zM476-94l12 0 5 2 8 8 3 7 3 10 0 30-5 14-5 4-8-2-5-6 3-12-1-18-7-16-6-6-12-5 8-8zM423-97l9 0 6 9-10 12-7-5-3-6 0-4zM212-116l-10 3-5 4-6 10-2 13 4 10-12 12-7 13 0 17 3 8 7 12 9 7 10 5-4 15 5 14 13 10 20 1 9-4 12-13-12-9-3 0-10 7-7 0-7-7 0-6 5-8 14-5 10-11-15-11-9 6-13 1-12-7-5-12 3-11 9-9 8-2 27 0 3-25-5-15-5-6-8-5zM207-93l6-5 8 1 5 6 0 9-17 1-3-7zM724-144l-16 11-5 6-2 8 20 6 2-5 6-5 8-3 11 0 10 4 10 10 5 11 4 19 0 45-3 10-6 5-4-5 3-14-5-7-5-3-20 0-8 4-2 4 0 20-5 1-4-4-2-7-2-25 3-19 6-7 5 2 1 19 9 9 13 1 7-3 4-3 4-12-2-20-7-10-14-1-7 4-7-4-11 0-9 4-3 4-5 8-4 13-1 39 3 16 4 7 6 7 10 3 13-1 9-7 2-9-1-15 2-3 4 0 4 5-1 18 2 5 5 5 6 2 9 0 8-2 10-10 3-8 4-17 0-43-6-31-10-19-6-6-14-7-11-3-15 0zM746-88l5 4 0 11-3 2-5-3 0-12zM44-147l-10 3-8 5-9 8-5 12 20 5 10-10 15-2 14 9 5 8 3 11 3 17 0 22-4 18-4 8-8 9-8 2-11 0-10-4-8-7-5-13 0-28 4-9 4-3 2 3-1 24 3 7 5 5 5 3 11 0 6-3 6-7 3-9 0-21-5-13-9-5-9 0-6 4-6-4-11 0-13 10-7 20 0 29 6 21 12 14 19 7 18 0 11-2 11-6 8-8 5-9 5-15 2-20-1-32-5-21-6-13-9-10-18-9zM51-87l5 1 2 10-1 12-4 5-2 0-3-4z"/>
<path id="t8" fill-rule="evenodd" d="M141-106l0 18 18 0 2 2-10 13-14 22-4 15 1 14 4 9 9 9 10 3 16-1 9-5 5-6 4-10 1-11-18 0-2 8-4 4-5 1-7-5-3-10 4-12 5-9 24-32 0-17zM1058-108l-7 2 2 19 9 0 7 9 3 11 0 23-3 12-3 6-7 4-6-1-2 20 15 1 12-6 10-14 5-22 0-22-5-21-6-11-13-9zM867-112l-16 8-14 16-8 20 0 29 7 17 12 14 13 6 18 1 10-2 7-4 7-7 4-8 4-17-3-20-4-8-11-9-16-1-6 3-12 13 0 17 4 7 10 8 18 0-4 5-8 3-12 0-11-8-7-13-1-20 3-10 3-7 10-10 8-4 14 1 11 8 12-13-17-12-8-3zM881-59l5 0 5 5 0 6-5 5-7 0-5-6 2-7zM234-112l-15 6-16 19-6 18-1 22 3 18 5 10 9 10 15 7 19 1 10-2 6-4 11-15 3-9 0-22-3-9-8-11-9-4-13 0-11 6-7 14 0 9 2 7 8 9 5 3 17 0-11 8-13 0-11-8-6-12-1-23 5-14 12-13 6-2 10 0 9 4 5 5 14-13-9-7-12-7zM247-59l6 0 5 5 0 6-5 5-6 0-5-5 0-6zM302-108l-8 7-5 10-5 30 3 28 7 19 12 10 13 3 17-1 11-6 10 6 17 1 13-5 11-15 5-20 0-31-5-20-5-9-10-8-10-4-16 0-11 5-4 4-8-7-7-2-14 0zM359-93l13 1 6 6 5 15-1 35-4 9-6 6-9 0-5-3 0-23-9-11 3-25 4-8zM319-94l9 2 5 6-2 20-8 8 9 15 5-3 4 7-2 11-8 7-14-1-6-6-5-14-2-16 3-21 4-9zM1139-116l-10 4-6 9-1 20 2 6-11 10-6 10-5 16-1 23 3 16 8 14 6 6 20 10 25 1 15-5 14-11 7-14 2-10-20-2-5 11-9 8-6 2-19-1-8-4-10-14-2-8 1-25 4-9 5 17 9 9 8 4 18 1 14-5 7-7 5-18-19 0-1 6-5 5-14 2-8-7-3-5 0-6 4-6 46 0 4-16 0-12-3-11-8-11-12-3-7 3-8 6-10-7zM1172-97l5 0 5 6 0 8-3 2-12-1 0-9zM1141-97l5 0 5 4 0 12-10 0-4-3 0-8zM923-107l-5 10 0 14 5 10 11 9-16 20 1 18 3 0 4 4 0 10 6 9 6 2 10 0 13-8 6 6 7 2 10-1 9-6 13 7 11 0 10-3 6-5 6-10 3-9 2-33-2-17-5-14-14-16-12-6-13-2-16 4-13 9-2 0-8-8-7-3-10-2-11 3zM974-66l7 8 2 10 0 14-4 11-6 2-4-3-1-19-16 0-1 19-4 3-4 0-4-3 0-9-2-8 24-25zM992-94l12 0 5 2 8 8 4 7 2 10 0 30-5 14-5 4-7-2-5-6 2-12-1-18-6-16-7-6-12-5 9-8zM939-97l9 0 6 9-10 12-7-5-3-6 0-4zM424-109l-5 6-2 7 1 15 11 14 15 8-8 8-3 0-1-3-18-2 0 23 8 19 10 8 15 5 20-1 12-6 17 7 11 0 14-5 7-7 5-10 4-18-1-35-4-13-6-12-12-10-16-5-17 3-15 10-9-9-13-4-10 2zM469-59l5 8 0 15-2 7-5 5-10 3-10 0-6-2-7-6-1-5 15-4 9-9 6-14 3-1zM488-94l11 0 5 2 7 6 6 17 1 17-2 19-4 7-9 7-5 0-6-4 2-10 0-20-2-9-5-9-14-10 10-11zM438-97l9 0 5 5 1 11-4 7-3 0-12-10 0-9zM16-109l-5 6-3 7 1 15 12 14 15 8-9 8-3 0-1-3-17-2 0 23 7 19 10 8 15 5 20-1 13-6 16 7 11 0 14-5 7-7 5-10 4-18-1-35-4-13-6-12-11-10-17-5-17 3-15 10-9-9-12-4-10 2zM61-59l5 8 0 15-3 7-5 5-10 3-10 0-6-2-6-6-2-5 15-4 9-9 6-14 3-1zM79-94l12 0 5 2 6 6 6 17 1 17-2 19-4 7-9 7-5 0-6-4 3-10 0-20-3-9-5-9-14-10 10-11zM29-97l9 0 5 5 1 11-3 7-4 0-11-10 0-9zM1241-144l-12 6-7 7-5 12 20 5 5-7 6-3 15-2 9 3 11 10 6 14 4 21-1 46-3 6-5 4-3-4 2-13-4-8-6-4-20 0-6 3-5 7 2 14-1 3-5 2-4-4-3-15 0-23 5-18 3-2 5 2 0 15 4 9 11 5 8 0 9-4 3-5 3-11-1-16-7-10-5-3-10 0-7 4-6-4-17 1-8 8-8 19-2 26 1 17 6 19 13 10 17 0 8-6 2-5-1-18 4-5 3 0 3 3-1 16 2 8 6 6 7 2 12-1 9-5 5-6 4-9 3-19 0-36-2-20-5-17-11-19-15-10-14-4-15 0zM1262-88l5 5 0 9-4 3-4-3 0-12zM746-152l-20 0 0 8-4 10-31 35-13 25-2 21 1 15 4 12 10 15 10 7 12 3 20-1 13-6 10-11 6-17 1-30-6-20-6-8-7-5-11-5-11-2 17-21 7-15zM716-87l8 0 7 3 6 6 5 12-1 29-9 13-10 3-9-1-11-9-5-16 0-14 2-11 10-12zM582-164l-14 8-6 9-3 8-1 12 5 15-5 4-6 11 0 14 5 11-4 4-6 16 0 21 2 8 10 14 10 6 9 2 19-1 12-6 15 7 18-1 15-11 6-14 3-11 1-20-3-24-5-14-8-11 7-14-1-22-4-8-9-8-17-8-31-1zM577-63l12 1-7 14 10 11 9 0 0 9-7 6-16 1-11-8-3-8 0-10 4-10zM626-94l7 1 10 10 4 16-1 30-4 10-10 8-4 0-9-7 0-17-6-9-7-4 7-30 5-6zM568-91l5-6 10 0 5 5 1 10-17 1-4-5zM579-134l7-8 11-5 25 0 14 9 2 5 0 9-6 11-14 0-10 4-7 6-5-6-14-8-3-5z"/>
<path id="t9" fill-rule="evenodd" d="M733-108l-7 2 3 19 10 1 5 7 3 8 0 32-4 11-5 5-9 0-3 19 3 2 13 0 10-5 7-7 7-13 2-11 0-33-4-15-5-10-11-10zM543-112l-9 3-10 6-13 17-7 19 0 25 9 24 10 10 19 7 14 0 8-2 10-6 8-12 4-15 0-13-3-12-5-8-9-7-17-1-6 3-8 7-4 8 2 17 10 11 18 0 2 3-8 6-15 1-4-1-10-10-3-7-3-10 3-22 5-10 8-8 8-4 15 1 10 8 12-13-6-6-11-6-8-3zM553-58l9-1 4 3 1 7-4 5-9 1-3-4-2-5zM814-116l-10 4-6 9-1 19 2 7-8 8-10 16-5 26 1 15 6 18 6 8 8 7 16 7 25 1 18-6 12-11 6-11 3-12-21-2-4 10-10 9-6 2-19-1-5-3-10-10-4-10-1-18 2-14 3-4 4 14 8 10 7 4 10 2 11 0 14-5 8-9 4-16-19 0 0 5-6 6-14 2-7-5-4-12 4-7 46 0 4-14 0-17-5-13-9-7-14 0-10 7-6-6zM847-97l6 0 3 3 0 13-14-1 0-9zM816-97l6 0 4 4 2 7-1 5-11 0-3-2-1-8zM599-108l-5 9-1 15 6 12 10 9-15 17 0 20 4 0 3 3 0 11 6 9 7 2 10 0 12-8 5 5 8 3 10-1 9-6 14 7 10 0 10-3 7-7 7-11 2-10 1-32-5-23-11-17-14-9-11-3-17 3-18 11-10-10-12-4-14 3zM648-67l6 6 4 10 0 19-2 8-4 3-4 0-4-3-1-19-16 0-1 19-4 3-4 0-4-5 0-8-2-7 26-26zM667-94l12 0 5 2 8 8 5 11 2 16-1 23-4 10-6 5-5 0-6-5 1-25-2-14-4-9-8-7-12-5zM614-97l9 0 6 8 0 2-10 11-8-7-2-5 2-5zM916-144l-17 11-5 6-2 8 20 6 2-5 7-5 7-3 11 0 10 4 10 10 5 11 4 19 0 45-2 10-7 5-3-5 2-14-5-7-5-3-20 0-7 4-3 4 0 20-5 1-4-4-2-7-1-25 2-19 6-7 5 2 2 19 8 9 13 1 7-3 4-3 4-12-1-20-8-10-14-1-7 4-6-4-12 0-8 4-4 4-5 8-4 13-1 39 4 16 3 7 7 7 10 3 12-1 9-7 2-9-1-15 3-3 3 0 4 5-1 18 2 5 5 5 7 2 8 0 8-2 10-10 4-8 3-17 0-43-6-31-10-19-6-6-14-7-11-3-15 0zM937-88l5 4 0 11-3 2-5-3 0-12zM153-147l-17 6-12 12-3 10 20 5 6-8 7-4 9 0 13 5 6 8 5 11 4 23-2 30-3 12-10 11-9 4-15-1-6-4-5-6-4-15 2-14 7-7 6-2 5 3 7-18-12-6-8 0-10 4-11 11-5 14-1 21 6 21 13 14 17 6 18 0 10-2 11-6 7-8 5-9 5-15 3-16-1-36-5-21-7-13-8-10-13-7-11-3zM33-144l-14 8-10 15 20 8 8-9 5-2 15-2 10 4 6 5 9 15 4 19 0 42-5 13-5 5-8 1-6-9 0-7 10-20 0-11-4-13-11-10-8-2-18 0-12 5-3 3-9 18-3 22 3 24 6 13 10 7 15 1 6-2 5-5 10 6 18 1 12-5 8-7 6-13 5-31-1-25-4-22-9-22-13-13-10-5-12-3-13 0zM41-74l10 6 0 11-9 19 0 12-4 4-6 1-5-5-1-5 0-26 3-11 5-5zM422-152l-21 1 0 8-5 11-32 35-6 10-5 15-1 31 4 14 5 10 8 9 19 7 14 0 17-6 12-12 6-15 1-34-7-20-13-13-10-3-11-2 19-22 5-13zM391-87l8 0 12 6 3 7 4 16-1 17-4 10-6 7-9 3-10-1-10-7-4-8-2-12 2-22 4-7 6-6zM264-167l-16 8-7 7-5 9-2 22 4 9-7 8-4 8 0 12 5 12-8 11-2 10 1 23 10 17 15 9 19 1 20-7 4 4 8 3 14 0 8-2 11-10 4-6 5-18 0-40-4-14-6-11-5-5 7-12 0-20-5-12-9-8-12-7-13-2zM249-62l15 0-1 5-6 8 10 12 9 0 1 5-5 9-5 2-14 0-10-7-2-5-2-11 3-10zM301-94l7 1 8 6 3 6 3 12-1 33-4 9-10 8-6-2-5-5-2-17-2-5-10-8 5-26 9-11zM244-93l5-4 9 0 6 8 0 7-17 1-4-7zM306-143l7 9 0 11-6 10-14 0-11 5-5 5-8-8-10-3-3-5-2-14 7-9 7-4 20-2z"/>
<path id="t10" fill-rule="evenodd" d="M41-112l-15 6-8 7-7 10-8 18-1 27 4 16 6 11 7 8 15 7 19 1 18-7 10-15 2-9 0-20-2-9-9-12-9-4-14 0-7 4-6 6-4 9 0 11 4 9 11 9 17 0-8 7-15 1-5-2-12-14-3-17 1-12 5-12 12-13 7-2 10 0 13 9 14-13-11-9-14-6zM53-59l6 0 5 6-1 6-5 4-5 0-5-5 0-6zM461-116l-14 3-11 5-15 15-7 12-5 18-1 35 5 22 6 13 10 11 20 10 24 1 18-6 12-11 6-11 3-12-21-2-4 10-6 6-10 5-14 0-9-4-12-13-5-14-2-30 4-18 6-11 8-7 7-4 20 0 12 7 6 15 0 13-4 14-7 6-8 0-6-8 2-8 5-4 7-1 0-18-38 0 0 18 8 1-3 7 1 17 9 11 13 5 15 0 8-4 8-6 9-18 2-20-4-20-7-12-9-9-16-7zM128-116l-12 5-8 10-2 12 3 13-10 9-5 8-3 12 1 15 6 14 10 10 11 6-2 8 0 11 6 12 14 9 17 0 10-5 9-9 1-3-12-9-9 6-10 1-6-6 0-10 4-5 7-1 10-6 8-9-15-11-14 7-13-1-10-9-2-5 0-11 9-11 11-4 25 0 2-5 2-24-5-12-10-9-8-3zM123-92l5-5 6-1 8 6 1 10-16 1-4-5zM341-147l-14 4-6 4-8 7-6 11 20 8 6-9 9-4 10 0 9 4 7 8 5 10 4 20 0 28-4 17-9 12-10 5-17-1-10-9-3-6 0-13 5-7 7-3 26 0 1-3 0-15-5-13-6-6-13-5-10 0-7 2-6 7-4 7 1 16-7 12-3 16 3 15 5 10 10 10 13 6 23 1 20-7 14-16 7-28 0-36-4-20-10-21-10-10-10-5-10-3zM328-83l4-4 6 0 6 5 2 5-17 1zM209-164l-13 8-7 9-2 8-1 12 5 15-5 4-7 11 0 14 5 11-3 4-7 16 0 21 3 8 10 14 10 6 9 2 18-1 13-6 15 7 17-1 15-11 7-14 2-11 1-20-2-24-5-14-9-11 8-14-2-22-3-8-9-8-18-8-31-1zM204-63l13 1-8 14 10 11 9 0 0 9-6 6-16 1-12-8-2-8 0-10 4-10zM253-94l8 1 10 10 3 16-1 30-4 10-10 8-3 0-9-7 0-17-6-9-8-4 8-30 5-6zM196-91l5-6 10 0 5 5 1 10-18 1-3-5zM207-134l6-8 11-5 25 0 14 9 3 5 0 9-7 11-13 0-10 4-8 6-5-6-14-8-2-5z"/>
<path id="t11" fill-rule="evenodd" d="M463-108l-7 2 2 19 11 1 5 8 3 10 0 27-3 10-6 8-10 0-2 19 3 2 12 0 11-5 7-7 5-10 4-18 0-26-5-20-5-9-10-9zM518-111l-9 14 0 14 9 14 15 7 3 4-8 7-2 0-3-3-16-2 0 24 6 16 9 9 16 6 20-1 14-6 16 7 10 0 10-2 6-4 10-14 5-23-1-30-5-18-6-10-10-9-18-5-16 3-15 10-9-9-12-4-11 2zM558-62l6 6 3 7 0 13-4 8-4 4-10 3-11 0-9-5-5-8 12-2 5-2 7-8 8-15zM581-94l11 0 5 2 5 5 6 14 0 39-5 10-7 5-5 0-7-4 3-13 0-15-5-16-5-6-13-8 13-12zM531-97l7 0 5 4 3 5 0 6-4 8-6-2-8-6-2-9zM397-116l-14 3-11 5-15 15-6 12-5 18-2 35 5 22 7 13 10 11 20 10 23 1 18-6 12-11 7-11 2-12-21-2-4 10-6 6-10 5-14 0-9-4-12-13-5-14-1-30 3-18 7-11 7-7 8-4 20 0 11 7 6 15 0 13-4 14-7 6-8 0-6-8 3-8 5-4 6-1 0-18-38 0 0 18 8 1-3 7 2 17 8 11 13 5 15 0 9-4 7-6 9-18 2-20-3-20-8-12-9-9-16-7zM277-147l-14 4-6 4-9 8-5 12 20 6 6-9 9-4 10 0 6 3 9 7 8 17 2 15 0 27-4 18-5 8-7 7-6 2-13 0-10-4-6-6-5-10-1-30 2-9 5-5 3 3 0 27 5 8 7 4 11 0 10-8 5-19-1-16-4-9-8-6-10 0-7 4-6-4-10 0-12 9-7 12-2 10 0 27 4 16 3 7 12 13 18 7 19 0 20-7 14-16 7-30 0-30-3-23-4-11-8-13-7-7-11-6-12-3zM283-87l5 3 1 16-1 5-4 4-3-3-2-4zM74-152l-20 0 0 8-3 10-32 35-12 25-3 21 2 15 3 12 10 15 10 7 13 3 20-1 12-6 10-11 7-17 1-30-6-20-7-8-6-5-11-5-11-2 17-21 6-15zM44-87l9 0 6 3 7 6 5 12-2 29-8 13-10 3-9-1-11-9-5-16 0-14 2-11 10-12zM219-168l-25 0-1 56-20-1-11 4-10 6-9-8-7-3-9-2-14 4-7 8-4 12 1 10 5 10 10 9-15 17 0 20 6 0 3 3 1 9 3 5 5 3 12 5 16 0 20-7 14 7 13 0 15-6 7-9 6-20 0-30-5-20-8-13 0-23 13-4 8-7 2-6 0-14-5-10zM143-64l9 1 6 7 3 8 0 14-3 6-6 6-16 1-8-6-1-9-5-6zM174-93l9 0 6 2 9 9 5 14 0 35-2 6-10 8-9-2-4-3 3-24-5-18-9-10-9-3 9-10zM123-97l9 0 6 8-2 6-8 7-9-8 0-8zM211-154l3 0 5 5 0 6-3 5-7-1z"/>
<path id="t12" fill-rule="evenodd" d="M203-108l-7 2 2 19 9 0 7 9 3 11 0 23-3 12-3 6-7 4-6-1-2 20 15 1 12-6 10-14 5-22 0-22-5-21-6-11-13-9zM41-112l-15 6-8 7-7 10-8 18-1 27 4 16 6 11 7 8 15 7 19 1 18-7 10-15 2-9 0-20-2-9-9-12-9-4-14 0-7 4-6 6-4 9 0 11 4 9 11 9 17 0-8 7-15 1-5-2-12-14-3-17 1-12 5-12 12-13 7-2 10 0 13 9 14-13-11-9-14-6zM53-59l6 0 5 6-1 6-5 4-5 0-5-5 0-6zM484-147l-13 4-7 4-7 7-6 11 20 8 6-9 9-4 10 0 8 4 8 8 5 10 4 20 0 28-4 17-9 12-10 5-17-1-10-9-3-6 0-13 5-7 6-3 27 0 1-3 0-15-5-13-6-6-13-5-10 0-7 2-7 7-3 7 1 16-8 12-2 16 2 15 5 10 10 10 14 6 23 1 20-7 13-16 8-28 0-36-4-20-10-21-10-10-10-5-10-3zM472-83l4-4 6 0 6 5 1 5-16 1zM366-143l-14 11-6 11 20 8 11-11 14-2 8 4 8 8 6 13 3 15 0 33-5 17-9 10-8 4-13 0-7-2-10-13-1-20 3-6 6-6 5-2 6 3 6-19-11-5-12 1-7 3-8 9-5 10-3 10 1 27 8 16 6 7 11 6 9 2 18 0 17-6 1 25-47 1-4-5 1-3-20-2 0 19 7 9 7 2 76 0 0-81 3-9 0-37-6-28-7-12-11-11-10-5-10-3-14 0zM131-147l-10 3-12 6-12 17 20 8 9-10 7-3 9 0 7 3 9 9 6 12 4 26-1 24-4 14-10 12-9 4-12 0-9-4-7-7-5-11-2-24 3-11 5-7 4 4-2 24 3 6 5 5 5 3 11 0 8-4 3-5 4-11 0-19-6-15-8-4-8 0-7 4-6-4-11 0-9 5-6 9-4 10-2 27 5 24 3 8 9 10 9 5 12 3 18 0 14-3 8-5 7-7 7-13 5-22 0-40-6-26-13-19-8-6-10-4zM137-87l2 0 4 5 0 18-4 5-5-3zM316-152l-20 0-2 11-3 8-32 35-11 22-2 14 0 16 3 18 8 14 5 5 11 6 10 2 14 0 12-3 13-10 9-18 2-12 0-19-2-13-5-11-12-12-7-4-15-3 17-21 7-16zM286-87l8 0 7 3 7 8 4 12 0 21-3 9-6 8-11 5-13-2-7-8-5-13 0-19 4-13 8-8z"/>
<path id="t13" fill-rule="evenodd" d="M207-108l-8 2 4 19 10 1 5 7 3 8 0 32-4 11-5 5-9 0-4 19 4 2 13 0 10-5 7-7 6-13 3-11 0-33-4-15-5-10-11-10zM41-112l-15 6-8 7-7 10-8 18-1 27 4 16 6 11 7 8 15 7 19 1 18-7 10-15 2-9 0-20-2-9-9-12-9-4-14 0-7 4-6 6-4 9 0 11 4 9 11 9 17 0-8 7-15 1-5-2-12-14-3-17 1-12 5-12 12-13 7-2 10 0 13 9 14-13-11-9-14-6zM53-59l6 0 5 6-1 6-5 4-5 0-5-5 0-6zM552-116l-14 3-14 6-15 18-8 25-2 38 7 24 7 13 8 7 20 10 23 1 15-5 14-11 8-14 1-10-20-2-5 11-9 8-6 2-14 0-12-6-8-9-7-21 0-28 5-18 12-15 14-5 16 2 10 9 5 17-1 14-3 8-7 6-8 0-6-8 1-7 4-4 8-2 0-18-37 0 0 18 8 1-3 6 0 15 3 6 11 10 8 3 16 0 14-8 8-13 4-14 0-23-7-18-10-12-18-8zM119-144l-7 3-10 9-6 13 20 5 5-7 11-5 10 0 12 5 10 12 5 13 3 17 0 36-3 10-3 6-7 5-7-1-4-6 0-9 8-14 2-9-1-13-4-9-6-6-11-5-24 1-11 9-5 8-4 13-1 27 5 22 8 10 9 3 11 0 12-7 15 7 11 0 9-2 6-4 7-9 7-15 2-12 0-35-4-25-3-11-9-17-5-5-15-8-11-3-15 0zM127-74l9 5 1 11-8 15-1 16-5 5-5 1-6-8 0-29 4-10 5-5zM301-152l-2 9-5 11-27 30-13 21-3 15 0 25 3 14 5 10 9 9 19 7 20-1 11-5 5-5 9 8 10 3 11 0 9-2 7-6 5-9 3-16-18 0-1 6-5 6-9 0-6-10 0-24 4-18 15-25 11-25 1-28zM289-87l9 0 11 6 4 7 4 16-1 17-4 10-6 7-9 3-10-1-10-7-4-8-2-12 0-10 3-15 9-10zM347-133l0 10-19 32-12-11-20-4 13-15 8-12zM488-167l-29-1-1 55-22-3-18 4-7 4-10 9-10 16-5 16-3 18 1 28 5 18 7 11 7 9 14 9 16 3 15 0 10-2 11-6 10-10 5-10 3-12-21-2-4 10-13 10-17 1-9-4-10-10-4-7-5-20 0-18 5-22 12-15 15-6 13 1 8 4 9 12 0 28-4 7-5 4-8 0-6-6 1-10 5-4 7-1 0-18-37 0-1 18 9 1-4 9 3 17 6 8 14 6 15 0 7-3 10-8 8-15 2-24-4-18-8-13 0-23 15-5 5-5 3-10 0-10-2-7zM476-154l5 1 3 5 0 5-5 5-5-1z"/>
<path id="t14" fill-rule="evenodd" d="M789-108l-7 2 4 19 10 1 5 7 2 8 0 32-4 11-5 5-8 0-4 19 4 2 12 0 10-5 8-7 6-13 2-11 0-33-3-15-5-10-12-10zM474-108l-7 2 2 19 12 1 5 8 2 10 0 27-2 10-7 8-10 0-2 19 4 2 11 0 11-5 8-7 5-10 3-18 0-26-5-20-5-9-10-9zM232-108l-8 2 3 19 9 0 7 10 3 14 0 15-4 19-6 6-9 0-3 20 15 1 13-6 10-15 4-14 1-24-4-22-6-13-9-8zM309-112l-15 6-16 19-6 18-1 22 3 18 5 10 9 10 15 7 19 1 10-2 6-4 11-15 3-9 0-22-3-9-8-11-9-4-13 0-11 6-7 14 0 9 2 7 8 9 5 3 17 0-11 8-13 0-11-8-6-12-1-23 5-14 12-13 6-2 10 0 9 4 5 5 14-13-9-7-12-7zM322-59l6 0 5 5 0 6-5 5-6 0-5-5 0-6zM41-112l-15 6-8 7-7 10-8 18-1 27 4 16 6 11 7 8 15 7 19 1 18-7 10-15 2-9 0-20-2-9-9-12-9-4-14 0-7 4-6 6-4 9 0 11 4 9 11 9 17 0-8 7-15 1-5-2-12-14-3-17 1-12 5-12 12-13 7-2 10 0 13 9 14-13-11-9-14-6zM53-59l6 0 5 6-1 6-5 4-5 0-5-5 0-6zM667-112l-9 10-2 9 1 11 4 8 6 6 16 9-7 8-4 0-1-3-18 0 1 25 8 16 11 9 13 3 20-1 12-6 16 7 12 0 13-5 10-11 7-21-2-39-5-16-7-11-14-9-11-3-18 3-13 10-8-8-9-3-10-2zM711-57l3 11 0 7-3 10-7 6-7 2-11 0-7-2-5-5-2-6 10-2 9-5 6-7 5-11 2-3zM727-94l11 0 5 2 10 13 3 8 0 34-4 10-9 8-6 0-6-4 2-9-1-27-5-10-15-12 10-11zM676-96l10-1 5 5 1 13-4 5-7-3-7-6-1-9zM398-116l-10 4-6 9-1 19 2 7-9 8-10 16-5 26 2 15 6 18 6 8 8 7 16 7 25 1 17-6 13-11 6-11 3-12-22-2-3 10-10 9-7 2-18-1-5-3-10-10-4-10-1-18 2-14 3-4 3 14 9 10 6 4 10 2 12 0 13-5 9-9 4-16-19 0 0 5-6 6-14 2-7-5-4-12 4-7 46 0 4-14 0-17-5-13-9-7-14 0-10 7-6-6zM431-97l6 0 2 3 0 13-13-1 0-9zM399-97l7 0 3 4 3 7-1 5-12 0-2-2-1-8zM94-104l-3 12 1 10 5 10 10 9-15 17 0 20 4 0 2 3 1 14 4 5 9 3 10 0 5-2 6-8 4 5 10 5 10-1 9-6 13 7 10 0 13-5 6-6 4-6 5-20 0-29-6-24-13-16-15-7-12-2-13 3-17 10-13-10-14-3-12 4zM146-67l7 8 3 7 0 21-3 7-4 3-7-3-1-19-17 0 0 16-5 6-2 0-5-6 0-9-3-5 27-26zM164-94l17 1 7 6 6 13 3 12-1 29-4 9-6 5-5 0-7-5 2-28-5-19-7-7-13-6 6-7zM112-97l9 0 6 8-3 6-7 7-9-8 0-8zM869-147l-13 4-7 4-7 7-6 11 20 8 6-9 9-4 10 0 8 4 8 8 5 10 4 20 0 28-4 17-9 12-10 5-17-1-10-9-3-6 0-13 5-7 6-3 27 0 1-3 0-15-5-13-6-6-13-5-10 0-7 2-7 7-3 7 1 16-8 12-2 16 2 15 5 10 10 10 14 6 23 1 20-7 13-16 8-28 0-36-4-20-10-21-10-10-10-5-10-3zM857-83l4-4 6 0 6 5 1 5-16 1zM642-166l-8-2-23 0-2 56-21-1-19 9-11-9-14-3-12 4-9 9-2 7 0 10 3 10 9 9 14 8-9 8-2-1 0-2-18 0-1 11 2 17 5 12 8 7 16 6 15 0 9-2 11-8 11 9 17 1 13-5 9-8 5-12 3-12 0-25-5-21-9-15 0-23 15-5 7-10 2-15-3-7zM568-59l6 8 2 9-4 14-10 7-14 0-5-2-5-5-2-6 15-4 7-8 6-12zM589-93l10 0 7 2 7 8 6 16 2 24-3 12-2 5-9 7-8 0-6-5 0-34-4-8-6-6-10-4 3-6 10-10zM542-97l9 0 5 5 1 8-5 10-9-4-6-9 1-6zM627-154l5 1 4 5 0 5-5 5-5-1z"/>
<path id="t15" fill-rule="evenodd" d="M413-112l-15 6-7 7-8 10-7 18-2 27 4 16 6 11 8 8 15 7 19 1 17-7 10-15 3-9 0-20-3-9-9-12-8-4-14 0-8 4-6 6-4 9 0 11 4 9 11 9 18 0-9 7-15 1-5-2-11-14-4-17 1-12 5-12 13-13 6-2 10 0 14 9 14-13-12-9-13-6zM426-59l6 0 5 6-1 6-5 4-5 0-5-5 0-6zM41-112l-15 6-8 7-7 10-8 18-1 27 4 16 6 11 7 8 15 7 19 1 18-7 10-15 2-9 0-20-2-9-9-12-9-4-14 0-7 4-6 6-4 9 0 11 4 9 11 9 17 0-8 7-15 1-5-2-12-14-3-17 1-12 5-12 12-13 7-2 10 0 13 9 14-13-11-9-14-6zM53-59l6 0 5 6-1 6-5 4-5 0-5-5 0-6zM94-104l-3 12 1 10 5 10 10 9-15 17 0 20 4 0 2 3 1 14 4 5 9 3 10 0 5-2 6-8 4 5 10 5 10-1 9-6 13 7 10 0 13-5 6-6 4-6 5-20 0-29-6-24-13-16-15-7-12-2-13 3-17 10-13-10-14-3-12 4zM146-67l7 8 3 7 0 21-3 7-4 3-7-3-1-19-17 0 0 16-5 6-2 0-5-6 0-9-3-5 27-26zM164-94l17 1 7 6 6 13 3 12-1 29-4 9-6 5-5 0-7-5 2-28-5-19-7-7-13-6 6-7zM112-97l9 0 6 8-3 6-7 7-9-8 0-8zM249-168l-25 0 0 57-5 2 3 18 9 2 7 7 4 14 0 22-5 17-5 5-10 2-3 18 4 1 13-1 12-7 6-7 8-19 1-31-2-14-8-15-12-10 0-15 13-4 8-7 2-8 0-11-5-11zM241-154l3 0 5 5 0 6-3 5-7-1zM499-169l-12 2-10 5-5 5-4 14 8 15-9 7 11 15 14-7 15-1 11 3 10 9 5 9 4 16 0 19-4 19-10 13-10 4-11 0-9-4-7-10-3-11 3-15 8-9 9 3 8-18-2-2-11-4-12 1-13 9-9 19-1 21 6 21 12 13 17 7 19 0 10-2 11-6 10-12 6-15 4-22 0-20-6-28-8-11 10-14 0-13-5-10-12-10-19-5zM489-142l7-6 22-1 13 6 1 9-4 5-16-5-18 0zM309-169l-16 3-12 10-3 7 0 8 8 13-7 4-2 5 11 13 9-6 19-2 16 6 5 5 9 20 1 21-3 18-5 11-8 9-8 2-16-1-9-8-5-12 0-11 3-9 8-8 9 3 8-18-4-3-15-3-10 3-13 12-6 19 0 19 3 11 5 10 7 9 20 8 18 0 13-3 9-5 11-14 7-18 2-25-1-21-5-17-8-13 9-11 1-15-6-13-15-10-15-3zM299-143l7-5 22-1 8 2 6 6 0 7-4 5-16-5-19 0-4-5z"/>
<path id="t16" fill-rule="evenodd" d="M291-112l-15 6-8 7-7 10-8 18-1 27 4 16 6 11 7 8 15 7 19 1 18-7 10-15 2-9 0-20-2-9-9-12-9-4-14 0-7 4-6 6-4 9 0 11 4 9 11 9 17 0-8 7-15 1-5-2-12-14-3-17 1-12 5-12 12-13 7-2 10 0 13 9 14-13-11-9-14-6zM303-59l6 0 5 6-1 6-5 4-5 0-5-5 0-6zM498-116l-14 3-13 6-15 18-9 25-1 38 6 24 7 13 8 7 20 10 24 1 15-5 13-11 8-14 1-10-20-2-5 11-9 8-6 2-14 0-12-6-8-9-7-21 0-28 5-18 12-15 14-5 16 2 10 9 5 17-1 14-2 8-8 6-7 0-7-8 2-7 3-4 8-2 0-18-36 0 0 18 7 1-2 6 0 15 2 6 11 10 8 3 16 0 14-8 9-13 3-14 0-23-7-18-10-12-18-8zM16-112l-7 6-5 15 5 17 13 10-16 18 1 20 2 0 4 4 0 11 6 8 7 2 10 0 5-2 6-8 7 8 7 2 11-1 7-6 14 7 10 0 13-5 7-7 8-23 0-33-9-27-11-12-13-6-12-2-17 4-12 9-3 0-15-11-10-2zM62-66l7 13 2 16-3 11-5 5-6-2-1-20-18 0 0 17-2 4-5 1-4-3-1-13-3-4 23-23 5-3zM78-94l16 1 9 7 5 10 3 12 0 25-3 11-7 9-7 0-6-7 1-28-5-17-7-8-13-5zM27-97l7 0 7 6-2 7-7 8-4-1-6-7 0-8zM378-147l-14 4-6 4-9 8-5 12 20 6 7-9 8-4 9 0 8 3 8 7 7 13 3 21 0 24-5 21-11 13-7 2-17-1-5-3-6-7-2-13 2-8 5-5 31-2 2-16-4-12-6-8-14-6-11 0-7 2-7 8-4 12 3 10-5 5-4 10-1 17 6 20 12 12 13 5 21 1 19-6 14-14 5-10 3-15 2-38-4-23-4-11-7-13-8-7-11-6-11-3zM364-79l5-8 7 0 5 4 2 6-16 1zM171-144l-14 8-10 15 20 8 7-9 5-2 15-2 10 4 8 6 7 14 4 19 1 31-2 19-3 6-5 5-5 0-6-6-2-9 0-11-18 0-1 15-3 6-5 5-5 0-5-4-2-6 0-12 2-9 9-8 30 0 1-5 0-12-5-14-6-6-7-4-15-1-8 2-7 8-4 17-11 0 0 15 6 2-5 18 2 22 9 13 11 5 9 0 8-2 5-4 5-9 6 10 4 3 18 4 0 17-46 1-4-3 0-5-18-2 0 20 6 8 6 2 76 0 0-57 5-16 2-29-3-29-6-24-8-13-7-8-14-7-11-3-14 0zM169-83l4-4 6 0 7 5 1 5-16 1z"/>
<path id="t17" fill-rule="evenodd" d="M453-108l-7 2 2 19 9 0 7 9 3 11 0 23-3 12-3 6-7 4-6-1-2 20 15 1 12-6 10-14 5-22 0-22-5-21-6-11-13-9zM532-112l-9 3-10 6-14 17-6 19 0 25 9 24 10 10 19 7 13 0 9-2 10-6 8-12 3-15 0-13-2-12-5-8-9-7-17-1-7 3-7 7-4 8 1 17 10 11 19 0 1 3-7 6-15 1-4-1-10-10-4-7-2-10 2-22 5-10 9-8 8-4 15 1 10 8 12-13-6-6-11-6-8-3zM542-58l9-1 3 3 2 7-4 5-9 1-4-4-1-5zM854-116l-13 3-12 5-15 15-6 12-5 18-1 35 5 22 6 13 10 11 20 10 24 1 17-6 13-11 6-11 3-12-22-2-3 10-7 6-10 5-13 0-9-4-13-13-5-14-1-30 4-18 6-11 8-7 7-4 20 0 11 7 7 15 0 13-4 14-8 6-7 0-6-8 2-8 5-4 6-1 0-18-37 0 0 18 7 1-2 7 1 17 9 11 12 5 15 0 9-4 8-6 8-18 3-20-4-20-7-12-9-9-16-7zM353-112l-9 10-2 10 1 10-10 1 0 18 9 1-5 14 0 17 5 17 7 8 13 5 9 0 7-2 10-13 6 10 10 5 10 0 10-3 8-8 4-7 3-20-2-19-9-15 4-5 2-9-1-11-4-8-7-6-11-4-12 2-11 6-11-6-6-2zM358-53l4-6 6-4 40 0 6 4 4 7 0 23-6 7-6 0-8-9-2-17-17 0 0 10-3 11-4 4-6 1-8-6-1-4zM397-92l5-5 9 0 6 6-1 9-19 1zM359-92l5-5 9 0 4 3 2 5 0 7-17 1-3-3zM96-119l-14 3-13 10-10-7-7-3-10 0-13 5-8 14 0 14 3 7-8 7-5 6-5 12 0 19 5 13 16 13 11 4 19 3 0 38 20 0 0-43 15-8 11-10-12-15-13 10-1-1 0-29 16-2 6-5 4-8 0-16-2-10 2-11zM46-63l11 1 0 39-5 2-16-3-8-8-2-6 0-9 3-7 8-7zM84-96l4 8 0 10-5 5-5 0 0-14zM38-93l6-5 5 0 8 7 0 9-16 1-4-6zM787-168l-25 0-1 56-7-2-15-2-21 5-11 8-6 7-10 20-5 34 3 30 10 21 15 14 9 4 28 2 16-5 11-8 6-9 5-13 0-5-21-2-2 9-14 11-16 1-8-2-11-10-4-7-5-16-1-11 2-26 7-15 11-12 11-3 18 2 10 9 3 10 0 20-3 10-4 4-10 1-5-4-1-9 6-7 6-1 0-18-36 0 0 18 7 1-3 11 1 11 2 5 12 10 7 3 15 0 11-5 10-11 7-20 0-18-5-17-8-12 0-21 14-4 6-6 4-7 0-14-5-10zM778-154l4 0 5 5 0 6-4 5-6-1zM316-167l-29-1 0 52-14 8-11-6-6-2-18 4-9 10-2 10 1 10-10 1 0 18 9 1-5 14 1 24 6 13 13 9 19 0 8-7 4-7 4 8 6 5 6 2 10 0 10-3 8-8 4-7 3-20-1-14-2-9-8-11 4-5 2-9-1-11-5-9-10-7 0-8 14-4 6-6 4-9-1-16zM243-53l4-6 6-4 40 0 6 4 4 7 0 23-6 7-6 0-8-9-2-17-17 0 0 10-3 11-4 4-6 1-8-6-1-4zM282-92l5-5 9 0 6 6-1 9-19 1zM244-92l5-5 9 0 4 3 2 5 0 7-17 1-3-3zM303-154l4 0 5 5 0 6-4 5-6-1zM618-169l-16 3-13 10-2 7 0 8 7 13-6 4-2 5 11 13 9-6 18-2 17 6 5 5 8 20 2 21-3 18-5 11-9 9-7 2-13 0-8-4-5-5-4-10 0-7 2-6 5-5 32-2 0-21-4-9-14-11-16-1-10 5-5 6-3 9 2 14-4 3-4 9-1 21 6 17 9 10 16 7 21 1 14-3 9-5 11-14 6-18 3-25-1-21-5-17-8-13 9-11 1-15-6-13-15-10-15-3zM606-82l5-5 6 0 4 3 3 7-17 1zM608-143l6-5 23-1 7 2 7 6 0 7-4 5-16-5-19 0-4-5zM152-169l-16 3-8 4-9 9-3 7 0 15 3 9 12 10 8 3 27 0 7 3 9 9 5 15-1 36-5 13-13 10-16 1-9-4-6-6-3-7 0-10 8-10 30-2 1-2 0-18-5-11-10-9-7-2-12 0-8 4-8 10 0 18-5 7-4 11 0 19 5 13 12 13 13 6 23 1 16-5 8-5 8-11 5-11 4-19 0-32-5-20-7-14 3-3 5-8 2-12-4-11-10-10-15-6zM138-82l5-5 6 0 5 5 2 5-17 1zM137-141l5-5 9-2 18 0 9 2 6 7 0 5-6 6-9-3-27 0-5-3z"/>
<path id="t18" fill-rule="evenodd" d="M378-108l-7 2 3 19 10 1 5 7 3 8 0 32-4 11-5 5-9 0-3 19 3 2 13 0 10-5 7-7 7-13 2-11 0-33-4-15-5-10-11-10zM41-112l-15 6-8 7-7 10-8 18-1 27 4 16 6 11 7 8 15 7 19 1 18-7 10-15 2-9 0-20-2-9-9-12-9-4-14 0-7 4-6 6-4 9 0 11 4 9 11 9 17 0-8 7-15 1-5-2-12-14-3-17 1-12 5-12 12-13 7-2 10 0 13 9 14-13-11-9-14-6zM53-59l6 0 5 6-1 6-5 4-5 0-5-5 0-6zM438-108l-11 15-5 21 1 38 4 12 5 9 6 6 19 6 15-1 12-6 15 7 12 0 12-5 8-7 5-10 5-30-3-28-7-18-9-9-13-5-20 1-11 8-14-9-15 0zM496-93l12 1 8 8 3 11 2 20-3 19-5 10-5 3-9 0-5-3 0-24-3-6-5-4 2-10 0-14 3-6zM457-94l6 1 6 7-1 18-9 10 9 15 5-3 4 5 0 10-10 10-11 0-10-10-4-13 0-28 2-11 7-9zM106-111l-5 5-5 13 0 7 5 14-5 6-5 19 1 18 6 13 9 9 15 6 14 0 10-2 7-5 15 7 14 0 11-5 9-8 4-8 5-24 0-23-3-14-6-15-11-11-12-4-21 1-12 9-12-10-10-3-11 2zM118-62l16 0-8 13 10 12 7-1 3 2 0 5-5 8-5 2-14 0-9-6-4-7 0-15 3-7zM169-94l10 2 7 6 5 14 1 15-3 23-3 8-10 7-7-2-5-5-1-18-6-8-6-4 6-28 6-8zM113-92l5-5 9 0 6 6 0 9-17 1-3-3zM589-147l-10 3-8 5-9 8-5 12 20 5 10-10 15-2 14 9 5 8 3 11 3 17 0 22-4 18-4 8-8 9-8 2-11 0-10-4-8-7-5-13 0-28 4-9 4-3 2 3-1 24 3 7 5 5 5 3 11 0 6-3 6-7 3-9 0-21-5-13-9-5-9 0-6 4-6-4-11 0-13 10-7 20 0 29 6 21 12 14 19 7 18 0 11-2 11-6 8-8 5-9 5-15 2-20-1-32-5-21-6-13-9-10-18-9zM596-87l5 1 2 10-1 12-4 5-2 0-3-4zM307-147l-14 4-6 4-9 8-5 12 20 6 6-9 9-4 10 0 6 3 9 7 8 17 2 15 0 27-4 18-5 8-7 7-6 2-13 0-10-4-6-6-5-10-1-30 2-9 5-5 3 3 0 27 5 8 7 4 11 0 10-8 5-19-1-16-4-9-8-6-10 0-7 4-6-4-10 0-12 9-7 12-2 10 0 27 4 16 3 7 12 13 18 7 19 0 20-7 14-16 7-30 0-30-3-23-4-11-8-13-7-7-11-6-12-3zM313-87l5 3 1 16-1 5-4 4-3-3-2-4zM242-168l-24 0 0 57-5 2 0 7 3 11 8 2 9 11 3 12-2 27-5 11-6 5-7 0-4 19 4 1 13-1 9-4 11-13 7-18 1-25-3-17-8-17-12-9 0-15 12-2 8-8 3-5 1-14-4-10-5-5zM234-154l5 1 4 5 0 5-5 5-5-1z"/>
<path id="t19" fill-rule="evenodd" d="M357-108l-11 14-4 11-3 17 2 28 8 24 12 10 13 3 17-1 11-6 10 6 16 1 9-2 9-6 7-13 5-21-1-35-3-10-8-15-8-6-11-4-15 0-11 5-4 4-15-9-15 0zM414-93l13 1 7 9 3 7 0 39-4 10-6 6-9 0-6-5 2-8-1-12-2-6-8-7 3-4 1-21 2-5zM374-94l9 2 5 8-1 15-9 12 8 13 5-2 5 8-3 11-7 6-14-1-8-7-3-12-2-25 3-15 4-7zM126-109l-8 12 0 14 5 11-4 4-6 16 0 21 9 18 9 7 13 5 19-1 13-6 15 7 12 0 14-6 6-6 6-14 4-27-2-27-8-18-9-9-12-5-18 0-10 4-7 6-9-9-12-4-10 2zM143-63l13 1-8 14 10 11 9 0 0 9-6 6-17 1-11-8-2-8 0-10 3-10zM192-94l7 1 10 10 4 16-1 30-4 10-10 8-4 0-8-7 0-17-7-9-7-4 7-30 5-6zM134-91l5-6 10 0 5 5 2 10-18 1-4-5zM508-147l-14 4-6 4-7 7-7 11 20 8 7-9 8-4 10 0 9 4 8 8 6 13 2 14 0 34-3 14-4 7-6 6-9 4-13 0-11-5-6-7-4-9-1-28 1-6 6-9 4 4-1 25 4 8 8 5 12 0 10-8 5-15 0-14-4-13-10-8-10 0-5 4-6-4-12 0-11 8-9 20-1 27 4 18 7 13 7 7 15 7 23 1 10-2 14-8 11-16 7-25 0-36-4-20-10-21-10-10-10-5-10-3zM514-87l3 0 4 6 0 15-5 7-4-3 0-14zM44-147l-10 3-8 5-9 8-5 12 20 5 10-10 15-2 14 9 5 8 3 11 3 17 0 22-4 18-4 8-8 9-8 2-11 0-10-4-8-7-5-13 0-28 4-9 4-3 2 3-1 24 3 7 5 5 5 3 11 0 6-3 6-7 3-9 0-21-5-13-9-5-9 0-6 4-6-4-11 0-13 10-7 20 0 29 6 21 12 14 19 7 18 0 11-2 11-6 8-8 5-9 5-15 2-20-1-32-5-21-6-13-9-10-18-9zM51-87l5 1 2 10-1 12-4 5-2 0-3-4zM312-152l-20 0 0 8-4 10-31 35-13 25-2 21 1 15 4 12 10 15 10 7 12 3 20-1 13-6 10-11 6-17 1-30-6-20-6-8-6-5-12-5-11-2 18-21 6-15zM282-87l9 0 6 3 6 6 5 12-1 29-9 13-10 3-9-1-11-9-5-16 0-14 3-11 10-12z"/>
<path id="t20" fill-rule="evenodd" d="M428-106l0 18 18 1-18 14 0 16 8 1-7 8-3 10 1 20 2 5 14 11 18 1 7-2 10-9 3-5 2-17-17 0-3 10-4 3-5 2-5-2-5-5-1-6 3-10 7-9 9-5 11-1 0-15-22-1 22-16 0-17zM144-106l0 18 19 0 1 2-22 32-5 15 1 18 6 12 12 7 21 0 10-6 7-16 0-10-17 0-1 8-9 5-9-6-1-11 7-18 24-31 0-19zM16-112l-7 6-5 15 5 17 13 10-16 18 1 20 2 0 4 4 0 11 6 8 7 2 10 0 5-2 6-8 7 8 7 2 11-1 7-6 14 7 10 0 13-5 7-7 8-23 0-33-9-27-11-12-13-6-12-2-17 4-12 9-3 0-15-11-10-2zM62-66l7 13 2 16-3 11-5 5-6-2-1-20-18 0 0 17-2 4-5 1-4-3-1-13-3-4 23-23 5-3zM78-94l16 1 9 7 5 10 3 12 0 25-3 11-7 9-7 0-6-7 1-28-5-17-7-8-13-5zM27-97l7 0 7 6-2 7-7 8-4-1-6-7 0-8zM528-147l-14 4-6 4-7 7-7 11 20 8 7-9 8-4 10 0 9 4 8 8 5 10 3 20 0 28-3 17-9 12-10 5-18-1-10-9-2-6 0-13 5-7 6-3 26 0 2-3 0-15-5-13-7-6-12-5-10 0-8 2-6 7-4 7 2 16-8 12-2 16 2 15 5 10 10 10 14 6 22 1 20-7 14-16 8-28 0-36-4-20-10-21-10-10-10-5-10-3zM516-83l3-4 7 0 6 5 1 5-16 1zM346-144l-14 8-10 15 20 8 7-9 5-2 15-2 10 4 7 5 8 15 4 19 0 42-5 13-5 5-7 1-7-9 0-7 10-20 0-11-3-13-12-10-7-2-19 0-11 5-4 3-9 18-2 22 2 24 7 13 10 7 15 1 6-2 5-5 10 6 17 1 13-5 7-7 7-13 5-31-2-25-3-22-9-22-14-13-10-5-11-3-14 0zM353-74l10 6 0 11-9 19 0 12-3 4-7 1-5-5-1-5 0-26 4-11 5-5zM299-167l-28-1 0 52-14 8-11-6-7-2-17 4-9 10-2 10 1 10-10 1 0 18 9 1-5 14 1 24 6 13 13 9 18 0 9-7 4-7 4 8 6 5 6 2 10 0 10-3 8-8 3-7 4-20-1-14-3-9-7-11 4-5 2-9-1-11-5-9-10-7 0-8 14-4 6-6 4-9-2-16zM227-53l4-6 6-4 40 0 6 4 4 7 0 23-6 7-7 0-7-9-3-17-16 0 0 10-4 11-3 4-7 1-7-6-1-4zM266-92l5-5 8 0 7 6-2 9-18 1zM228-92l5-5 9 0 4 3 2 5 0 7-17 1-3-3zM287-154l4 0 5 5 0 6-4 5-6-1z"/>
<path id="t21" fill-rule="evenodd" d="M261-68l0 14 52 0 0-14zM138-133l-15 12-2 4 12 6 14-11 12-1 9 4 5 5 4 8 0 7-8 20-46 67-1 11 71 0 0-12-49-1 44-69 5-20-2-13-7-10-17-10-14-1zM53-137l-7 1-13 7-10 11-4 7-5 19-1 38 4 22 7 18 17 13 21 3 17-8 8-7 6-11 6-27 0-37-2-14-9-20-9-9-7-3zM51-123l15 1 8 8 5 10 4 16 1 20-3 32-7 14-12 10-11 0-13-10-6-15-3-15 0-32 3-15 6-14z"/>
<path id="t22" fill-rule="evenodd" d="M27-126l-8 8-8 21-3 18 1 38 4 14 6 11 9 9 8 4 12 2 15-1 15-9 14 9 7 1 17-2 10-6 7-10 4-9 5-34-3-32-2-10-6-13-13-11-12-4-18 1-11 7-4 5-11-10-10-3-15 1zM93-117l11 0 7 3 8 8 7 19 1 28-3 20-6 15-11 8-10 0-9-6 0-30-5-10-7-6 2-10 0-19 3-9 8-10zM42-117l15 1 7 9 2 5-3 24-2 6-8 8 5 10 9-4 6 6 3 10-2 10-3 8-5 5-9 3-10 0-9-3-7-8-7-15-1-39 3-15 7-15zM1434-129l-12-5-10 0-8 2-10 8-7 16-11-3-12 2-11 5-9 8-5 9-3 13-2 28 4 23 4 9 6 7 9 5 19 0 12-9 5-10 13 17 11 3 12-1 14-10 8-19 1-23-5-20-9-12 8-15 0-11-4-10zM1366-94l15-2 6 3 4 14 28 0 8 2 4 4 6 16 0 21-5 13-5 5-13 1-8-7-5-15 0-14-14 0 0 12-3 12-8 11-13 1-9-7-5-18 0-24 7-18zM1409-119l13-2 9 7 2 11-5 11-27-2 0-15zM1186-129l-10 12-2 16 7 14 16 13-23 28 3 12 6 3 0 14 4 10 7 5 12 1 7-2 9-11 7 10 10 3 10-1 12-9 6 7 12 3 13-1 7-4 9-8 8-20 2-24-2-31-8-22-5-7-15-13-12-3-12 0-10 2-15 9-7 7-10-12-10-5-14-1zM1242-82l9 10 3 13 0 26-2 9-6 7-10 0-7-9-1-18-12 0 0 13-3 9-5 5-9 0-5-7 0-14-3-9 31-35 5-2 9 0zM1259-118l13-1 14 6 8 10 7 16 2 24-1 21-6 19-9 7-14-1-6-7 2-14 0-19-2-14-5-12-9-9-17-6 12-14zM1198-121l9 0 5 3 7 11-1 8-14 15-10-5-3-4-4-9 2-12zM434-129l-7 7-4 10 0 11 6 15-7 10-5 22 1 21 9 19 9 7 17 6 18-1 7-2 9-7 10 8 11 2 11-1 15-7 10-17 5-21 0-39-2-13-8-18-12-11-13-4-20 1-8 5-7 8-8-10-14-6-10 0zM444-78l24-1 3 2-5 14-8 7 8 10 6-3 6 0 4 5 1 8-2 9-9 9-8 2-16-1-5-2-10-13-2-10 1-20 4-9zM501-117l13 0 5 3 9 8 6 18 2 32-3 18-6 14-11 8-14-1-6-6 0-26-5-8-10-5 7-44 9-10zM438-114l9-7 12 2 9 10 1 13-2 3-26 1-5-11zM309-133l-7 4-8 7-3 10 1 16 6 12-7 7-5 11-2 24 3 10 9 15 20 14 23 5 28-4 17-10 7-6 6-10 4-11-2-27-5-11-7-9 7-15-1-16-10-12-12-5-10 0-8 2-10 8-9-7-10-3zM301-64l5-8 10-6 53 0 9 5 6 9 3 11-1 12-7 12-6 6-11 6-10 3-19 0-10-3-11-6-11-15-3-13zM358-119l13-2 8 7 3 5 0 7-6 11-27-2 0-16zM306-114l8-7 13 2 9 10 0 16-27 2-6-11zM1154-193l-6-3-24 0-1 65-9-3-18 1-15 7-13 10-4-7-6-6-14-5-8 0-13 5-9 10-2 10 2 16 9 11 13 6-24 29 4 14 5 2 1 18 7 10 9 2 10-1 6-4 5-8 8 10 10 3 14-2 7-8 9 8 16 2 6-1 12-6 7-10 6-21 2-33-7-31-5-10-7-9 0-20 2-2 9 0 8-4 7-10 1-21-2-7zM1079-82l8 8 5 13 1 17-1 12-4 10-5 5-10 0-6-9-1-18-13 0 0 16-2 6-8 6-6-1-4-4-1-18-4-8 31-35 5-2 9 0zM1097-118l12-1 13 5 9 8 7 18 3 16-2 31-6 18-9 7-13-1-7-7 3-12 0-25-5-18-4-7-11-8-14-4 10-11zM1036-121l8 0 5 3 8 10 0 7-14 17-9-4-8-10 0-14 3-5zM1137-184l10 1 6 9-1 12-9 6-5 0-2-2zM924-196l-22 8-14 12-6 15 0 14 5 11-16 7-9 10-3 8 3 18 9 11 10 5 1 4-23 26 4 14 5 0 3 4 2 13 6 8 7 4 15 3 8 0 17-3 10-7 10 8 16 2 6 7 3 6 0 15-3 6-10 10-14 5-18 1-18-3-12-9-5-9 0-6-15 0 0 7 3 12 14 13 24 9 27 0 14-4 14-7 7-8 5-10 2-22-8-18 11-10 8-18 1-43-2-15-5-14-7-10-7-7 7-9 7-14 0-16-5-12-8-9-15-9-16-4zM914-81l7 3 8 11 3 9 0 21-3 8-8 10-10 3-13 0-11-6-4-6-1-13-6-5 31-35zM944-117l12 0 8 4 10 10 8 19 0 46-6 15-10 7-14 0-8-5-1-3 4-12 0-21-4-15-10-15-6-4-10-2 17-19zM883-121l9 0 5 3 7 10 0 7-13 17-13-7-5-7 0-14 4-5zM967-172l9 13 0 12-5 10-7 6-26 0-22 15-14-18-5-13 0-11 5-10 9-8 15-5 26 2zM836-193l-7-3-23 0-2 62-11 3-7 7-12-8-7-2-10 0-11 3-12 14-1 16 3 7-12 1 0 14 12 1-8 15-1 29 7 21 8 7 7 4 12 1 10-2 8-8 5-11 5 10 8 8 11 3 13-1 12-9 6-11 4-20-1-20-5-15-8-9 7-11 1-14-6-13-13-9 0-10 10-1 10-5 8-14-2-19zM747-71l6-6 8-2 50 0 7 2 8 11 2 10 0 19-5 14-7 6-13-1-9-11-3-24-13 0 0 12-5 17-9 7-10 0-5-2-6-10-2-15 1-14zM797-117l6-4 10 0 5 3 5 6 1 5-2 11-4 4-26-1-1-11zM748-114l9-7 12 2 8 7 1 18-27 1-5-9zM818-184l8 0 7 7 0 14-4 5-5 2-7-1zM649-196l-11 4-12 8-10 12-4 10 0 16 6 15 9 9 7 4-2 5 0 14 5 10-11 7-7 8-5 10-2 20 2 12 9 15 10 9 14 6-4 10 0 9 5 14 14 11 9 2 10 0 13-5 14-15-11-7-8 9-7 3-13 0-8-7-3-5 0-11 4-7 9-1 13-6 13-13-13-8-7 7-11 5-20-2-8-5-9-12-2-13 4-14 11-13 9-3 36 0 4-22-2-11-2-5 10-5 11-12 4-10 0-18-9-17-12-10-17-7zM646-113l8-8 14 2 8 8 1 14-3 3-25 1-5-8zM629-166l10-10 9-3 28 0 10 5 10 11 1 17-6 12-9 6-4 0-5-4-9-2-13 1-9 5-8-5-6-9-1-17zM209-197l-22 4-10 5-5 5-5 14 5 13 6 7-11 8 9 12 6-5 15-7 20 0 11 4 14 13 6 12 4 16 0 32-5 22-5 10-10 10-11 5-18 0-10-4-11-10-6-11-4-17 0-19 4-18 2-5 6-5 8 4 1 10-2 19 3 12 7 7 15 2 6-2 7-9 4-15 0-18-5-15-10-7-11 0-6 4-10-4-9 0-9 4-5 5-5 8-4 13-1 32 6 25 8 13 9 9 17 7 19 1 14-2 10-5 15-15 5-10 5-18 2-38-5-29-11-20 9-9 3-9 0-12-3-9-7-7-12-8-13-4zM209-107l5 1 5 5 3 13-1 15-7 9-6 0-5-8 1-31zM183-171l8-7 6-3 32 0 9 4 9 8 1 12-7 9-7-4-13-4-30 2-8-10z"/>
<path id="t23" fill-rule="evenodd" d="M249-108l-7 2 4 19 10 1 5 7 2 8 0 32-4 11-5 5-8 0-4 19 4 2 12 0 10-5 8-7 6-13 2-11 0-33-3-15-5-10-12-10zM307-112l-9 10-2 9 1 11 4 8 6 6 16 9-7 8-4 0-1-3-18 0 1 25 8 16 11 9 13 3 20-1 12-6 16 7 12 0 13-5 10-11 7-21-2-39-5-16-7-11-14-9-11-3-18 3-13 10-8-8-9-3-10-2zM351-57l3 11 0 7-3 10-7 6-7 2-11 0-7-2-5-5-2-6 10-2 9-5 6-7 5-11 2-3zM367-94l11 0 5 2 10 13 3 8 0 34-4 10-9 8-6 0-6-4 2-9-1-27-5-10-15-12 10-11zM316-96l10-1 5 5 1 13-4 5-7-3-7-6-1-9zM16-112l-7 6-5 15 5 17 13 10-16 18 1 20 2 0 4 4 0 11 6 8 7 2 10 0 5-2 6-8 7 8 7 2 11-1 7-6 14 7 10 0 13-5 7-7 8-23 0-33-9-27-11-12-13-6-12-2-17 4-12 9-3 0-15-11-10-2zM62-66l7 13 2 16-3 11-5 5-6-2-1-20-18 0 0 17-2 4-5 1-4-3-1-13-3-4 23-23 5-3zM78-94l16 1 9 7 5 10 3 12 0 25-3 11-7 9-7 0-6-7 1-28-5-17-7-8-13-5zM27-97l7 0 7 6-2 7-7 8-4-1-6-7 0-8zM177-147l-19 8-9 8-5 12 20 6 4-6 11-7 9 0 8 3 7 6 8 14 3 20 0 26-2 14-6 12-8 7-7 2-10 0-8-2-9-9-2-8 1-20 6-8 7-2 6 3 6-19-4-2-16-3-10 4-10 10-4 7-3 20 1 14 6 18 10 11 13 6 23 1 14-3 6-4 9-9 8-14 5-23 0-32-5-26-10-19-8-7-11-6-10-3z"/>
<path id="t24" fill-rule="evenodd" d="M129-108l-11 15-5 21 1 38 4 12 5 9 6 6 19 6 15-1 13-6 15 7 11 0 12-5 8-7 5-10 5-30-3-28-7-18-9-9-12-5-20 1-12 8-13-9-15 0zM187-93l12 1 8 8 4 11 1 20-3 19-5 10-5 3-8 0-5-3 0-24-4-6-5-4 2-10 0-14 3-6zM148-94l6 1 7 7-2 18-8 10 8 15 5-3 4 5 0 10-10 10-11 0-10-10-4-13 0-28 3-11 6-9zM386-147l-10 3-12 6-12 17 20 8 9-10 7-3 9 0 9 4 7 8 4 6 5 20-1 42-7 14-6 6-9 4-12 0-8-2-7-8-3-6 0-11 4-8 8-4 26 0 1-2 0-18-5-11-10-9-7-2-12 0-8 4-8 10 0 18-5 7-4 11 0 19 5 13 12 13 13 6 23 1 20-7 10-10 6-11 5-20 0-42-6-26-13-19-8-6-10-4zM373-82l5-5 6 0 5 5 2 5-17 1zM271-144l-9 5-9 8-5 12 20 5 10-10 15-2 14 9 5 8 5 17 1 33-2 15-5 11-9 9-8 2-16-1-12-10-5-13-2-8 2-20 3-9 4-3 4 4-1 25 3 8 8 5 15-2 6-6 4-10 1-16-4-16-6-7-12-1-7 4-6-4-11 0-13 10-6 15-2 18 2 23 8 18 16 14 12 3 18 0 17-6 2 25-48 1-2-2 0-6-19-2-1 18 3 7 10 5 77 0 0-78 3-20 0-20-6-35-10-18-15-11-14-4-13 0zM288-88l4 2 2 10-1 13-5 5-4-4 2-24zM46-169l-19 5-13 10-5 11 2 15 3 7 14 10 31 2 9 3 6 7 5 10 3 13 0 17-3 15-5 11-8 9-8 2-16-1-13-10-5-13-1-8 1-20 4-9 4-3 4 4-2 25 4 8 8 5 15-2 6-6 4-10 1-16-4-16-6-7-13-1-6 4-6-4-11 0-13 10-4 8-5 25 2 16 6 21 12 14 19 7 18 0 11-2 11-6 8-8 8-19 4-25-1-27-5-18-9-12 10-13 1-16-3-7-13-10-20-5zM52-88l4 2 2 10-1 13-5 5-4-4 1-24zM73-148l5 0 5 5 0 6-4 5-7 0-5-5 0-6zM51-151l0 19-15 1-5-5 1-7 9-6z"/>
<path id="t25" fill-rule="evenodd" d="M166-62l0 19 47 0 0-19zM338-106l0 18 21 1-23 35-4 11 1 22 10 13 13 5 11 0 10-3 7-8 5-14 0-8-17 0-1 7-5 5-5 1-9-8 0-10 9-19 22-30 0-18zM119-108l-7 2 4 19 10 1 5 7 2 8 0 32-4 11-5 5-8 0-4 19 4 2 12 0 10-5 8-7 6-13 2-11 0-33-3-15-5-10-12-10zM452-116l-14 3-14 6-15 18-8 25-2 38 7 24 7 13 8 7 20 10 23 1 15-5 14-11 8-14 1-10-20-2-5 11-9 8-6 2-14 0-12-6-8-9-7-21 0-28 5-18 12-15 14-5 16 2 10 9 5 17-1 14-3 8-7 6-8 0-6-8 1-7 4-4 8-2 0-18-37 0 0 18 8 1-3 6 0 15 3 6 11 10 8 3 16 0 14-8 8-13 4-14 0-23-7-18-10-12-18-8zM318-119l-14 3-12 10-18-10-10 0-12 5-5 5-5 15 4 15-10 9-5 8-4 12 0 10 4 14 8 11 17 9 23 4 0 38 19 0 0-42 21-13 7-6-13-15-12 10-3-1 0-29 19-4 4-2 5-10 0-13-3-10 0-8 3-4zM262-62l17 0-1 40-7 1-10-2-7-4-5-6-1-15 3-5zM307-96l4 9 0 8-4 5-8 1-1-1 3-14zM259-92l5-5 7-1 7 6 1 10-16 1-4-5zM114-152l-20 0-1 10-4 9-8 11-9 8-8 1-7 5-11-6-19 0-9 5-5 6-4 15 3 10 4 6-8 10-4 19 3 15 5 10 12 11 24 9 21-1 19-8 13-12 6-18 0-14-3-10-7-11 5-11 0-13-8-15 10-11 8-14zM26-52l5-7 7-4 35 0 6 2 5 5 3 5 0 13-4 7-12 9-12 3-15-2-10-5-7-7-3-8zM71-97l8 0 4 3 3 6-4 9-18-3 0-7zM27-91l6-6 9 0 5 6 1 9-17 3-3-3z"/>
<path id="t26" fill-rule="evenodd" d="M429-116l-13 3-14 6-15 18-9 25-1 38 6 24 8 13 7 7 20 10 24 1 15-5 14-11 7-14 1-10-20-2-5 11-8 8-7 2-13 0-13-6-7-9-8-21 0-28 5-18 13-15 13-5 17 2 10 9 5 17-2 14-2 8-8 6-7 0-6-8 1-7 4-4 7-2 0-18-36 0 0 18 7 1-2 6 0 15 2 6 12 10 7 3 16 0 14-8 9-13 4-14 0-23-8-18-10-12-17-8zM253-111l-9 14 0 14 4 7 13 10 0 3-14 15 0 17 2 0 4 4 1 11 7 9 15 6 21-1 12-6 13 6 14 1 10-2 6-4 10-14 5-23 0-19-3-16-11-23-12-10-14-4-15 3-10 5-9 7-9-10-11-5-12 2zM291-64l10 10 2 12-1 10-8 10-17 1-6-5-2-10-3-7 20-21zM317-94l15 1 9 9 5 12 1 33-5 13-9 7-6 0-6-4 1-29-5-15-9-9-9-3 10-12zM267-98l6 0 8 10-10 12-5-2-5-6 0-9zM42-147l-14 4-6 4-8 7-6 11 20 8 6-9 9-4 10 0 9 4 7 8 5 10 4 20 0 28-4 17-8 12-10 5-18-1-10-9-2-6 0-13 5-7 6-3 26 0 1-3 0-15-5-13-6-6-12-5-10 0-8 2-6 7-4 7 1 16-7 12-3 16 3 15 5 10 10 10 14 6 22 1 20-7 14-16 7-28 0-36-3-20-10-21-10-10-10-5-10-3zM29-83l4-4 6 0 7 5 1 5-16 1zM233-166l-7-2-24 0-1 56-22-1-15 6-5 5-11-10-15-4-12 4-9 9-3 9 2 13 5 9 10 9-15 17 0 20 7 2 3 11 5 6 15 6 15 0 21-7 6 5 8 2 11 0 14-5 8-8 5-12 3-12 0-25-5-21-9-15 0-23 14-4 9-11 1-15-3-7zM151-64l7 1 6 6 3 5 1 14-4 11-5 5-16 1-7-5-2-8-5-8zM182-93l9 0 6 2 7 8 7 16 0 33-4 8-9 7-5 0-7-4 2-19-4-20-8-12-10-5 3-7zM131-97l8 0 7 9-10 12-9-7-1-5 1-5zM218-154l5 1 4 4 0 6-5 5-5-1z"/>
<path id="t27" fill-rule="evenodd" d="M624-112l-11-4-12 2-13 8-6 12-20 0-8 3-8 9-7 14-2 20 2 24 5 12 7 6 12 5 9 0 9-2 10-11 7 10 9 3 10 0 10-3 7-8 7-17 0-23-5-15-5-6 5-9 0-15-5-10zM566-73l3-3 10 0 4 4 1 9 29 1 5 5 4 11 0 10-3 9-5 5-7-1-6-9-3-16-16 0 0 7-4 13-7 6-7-1-6-10-1-23 2-8zM599-92l5-5 9 0 6 8-1 7-19 1zM259-116l-13 3-12 5-15 15-6 12-5 18-1 35 5 22 6 13 10 11 20 10 24 1 17-6 13-11 6-11 3-12-22-2-3 10-7 6-10 5-13 0-9-4-13-13-5-14-1-30 4-18 6-11 8-7 7-4 20 0 11 7 7 15 0 13-4 14-8 6-7 0-6-8 2-8 5-4 6-1 0-18-37 0 0 18 7 1-2 7 1 17 9 11 12 5 15 0 9-4 8-6 8-18 3-20-4-20-7-12-9-9-16-7zM126-143l-15 12-5 12 20 6 6-9 9-4 8 0 8 3 9 7 6 13 2 11 0 43-5 15-12 11-16 1-10-4-4-3-5-13 2-12 5-5 5-2 27 0 1-6-1-16-7-11-11-8-16-1-6 2-9 10-3 10 3 10-6 8-4 15 1 16 9 18 14 10 15 3 13 0 18-5 1 24-47 1-4-5 0-3-19-2 0 19 5 8 9 3 75 0 0-72 5-23 0-28-3-18-5-16-7-13-8-7-11-6-11-3-13 0zM126-79l5-8 6 0 5 4 2 6-16 1zM359-168l-13 4-13 7-6 8-4 8-1 17 2 8 7 9-4 9-1 10 2 10 4 6-9 14-2 15 2 15 5 10 9 9 16 8 11 3 23-1 17-8 7-5 10-15 2-10 0-14-2-10-8-10 0-3 5-10 0-10-5-12 8-11 1-20-6-15-10-9-23-7zM342-52l5-7 7-4 35 0 7 2 5 5 2 5 0 13-4 7-12 9-11 3-15-2-10-5-9-10zM387-97l7 0 7 5 0 9-3 4-17-3 0-7zM343-92l5-5 10 0 5 6 1 9-17 3-4-5zM342-129l2-8 7-6 10-4 16-1 9 1 10 5 5 6 1 12-5 8-13 2-13 6-9-6-15-2-4-6zM42-168l-10 2-11 7-10 10-5 11-2 9 3 12 4 8 13 11-1 15 4 6-9 8-9 13-2 13 1 10 8 16 7 8 14 7-4 10 0 8 4 10 9 8 7 4 18 0 10-5 10-10 0-2-13-9-11 7-8 0-6-6 0-9 5-6 15-6 9-10-15-11-14 7-9 0-7-4-9-12 0-9 4-7 7-7 9-2 26 0 3-10-1-25 6-3 9-8 5-12 1-11-4-14-6-8-8-7-20-7zM41-93l6-5 5 0 5 4 2 5 0 7-16 1-4-6zM28-138l13-9 16-1 10 4 7 7 2 14-3 5-7 6-12-4-10 0-8 4-7-5-3-6 0-10zM471-169l-17 3-15 12-5 10 2 17 8 11 9 5 31 2 7 2 8 8 7 15 1 11-3 29-5 11-8 9-8 2-16-1-9-8-5-12 0-11 3-9 8-8 9 3 8-18-4-3-15-3-10 3-13 12-6 19 0 19 3 11 5 10 7 9 20 8 18 0 13-3 9-5 11-14 7-18 2-25-1-21-6-21-7-9 9-11 1-15-6-13-15-10-15-3zM456-141l8-6 24-1 9 2 6 7 0 6-6 5-8-3-28 0-5-5z"/>
<path id="t28" fill-rule="evenodd" d="M232-108l-11 14-4 11-3 17 2 28 8 24 12 10 13 3 17-1 11-6 10 6 16 1 9-2 9-6 7-13 5-21-1-35-3-10-8-15-8-6-11-4-15 0-11 5-4 4-15-9-15 0zM289-93l13 1 7 9 3 7 0 39-4 10-6 6-9 0-6-5 2-8-1-12-2-6-8-7 3-4 1-21 2-5zM249-94l9 2 5 8-1 15-9 12 8 13 5-2 5 8-3 11-7 6-14-1-8-7-3-12-2-25 3-15 4-7zM383-147l-14 4-6 4-7 7-7 11 20 8 7-9 8-4 10 0 9 4 8 8 6 13 2 14 0 34-3 14-4 7-6 6-9 4-13 0-11-5-6-7-4-9-1-28 1-6 6-9 4 4-1 25 4 8 8 5 12 0 10-8 5-15 0-14-4-13-10-8-10 0-5 4-6-4-12 0-11 8-9 20-1 27 4 18 7 13 7 7 15 7 23 1 10-2 14-8 11-16 7-25 0-36-4-20-10-21-10-10-10-5-10-3zM389-87l3 0 4 6 0 15-5 7-4-3 0-14zM178-168l-25 0-21 7-6 5-7 9-3 14 1 14 5 8 9 8-10 14-7 16 0 39 8 17 9 9 18 7 14 0 18-6 11-12 7-22 0-27-7-20-13-13-10-3-11-2 14-15 9-17-22 0-2 6-13 14-3-1-4-7 1-10 9-8 11-4 21 0 10 4 4 6-4 14 17 7 2-2 5-14-1-13-4-7-10-9zM152-87l12 1 10 9 5 19-1 17-4 10-6 7-9 3-10-1-10-7-3-8-3-12 3-22 3-7 7-6zM46-169l-19 5-13 10-5 11 2 15 3 7 14 10 31 2 9 3 6 7 5 10 3 13 0 17-3 15-5 11-8 9-8 2-16-1-13-10-5-13-1-8 1-20 4-9 4-3 4 4-2 25 4 8 8 5 15-2 6-6 4-10 1-16-4-16-6-7-13-1-6 4-6-4-11 0-13 10-4 8-5 25 2 16 6 21 12 14 19 7 18 0 11-2 11-6 8-8 8-19 4-25-1-27-5-18-9-12 10-13 1-16-3-7-13-10-20-5zM52-88l4 2 2 10-1 13-5 5-4-4 1-24zM73-148l5 0 5 5 0 6-4 5-7 0-5-5 0-6zM51-151l0 19-15 1-5-5 1-7 9-6z"/>
<path id="t29" fill-rule="evenodd" d="M704-108l-7 2 2 19 9 0 8 10 2 14 0 15-4 19-6 6-9 0-2 20 15 1 12-6 10-15 4-14 1-24-3-22-7-13-8-8zM521-112l-15 6-17 19-6 18-1 22 4 18 5 10 8 10 15 7 19 1 10-2 6-4 12-15 2-9 0-22-2-9-9-11-9-4-12 0-12 6-7 14 0 9 2 7 8 9 5 3 17 0-11 8-12 0-12-8-6-12-1-23 5-14 12-13 7-2 10 0 8 4 5 5 14-13-9-7-12-7zM533-59l6 0 5 5 0 6-5 5-6 0-5-5 0-6zM588-108l-7 7-5 10-5 30 2 28 8 19 11 10 14 3 16-1 11-6 10 6 18 1 12-5 11-15 5-20 0-31-5-20-5-9-10-8-10-4-16 0-11 5-4 4-7-7-8-2-14 0zM646-93l12 1 6 6 5 15-1 35-4 9-6 6-9 0-5-3 0-23-8-11 2-25 4-8zM606-94l8 2 5 6-2 20-8 8 9 15 5-3 4 7-1 11-9 7-14-1-6-6-5-14-1-16 2-21 4-9zM127-112l-9 10-2 9 1 11 4 8 6 6 15 9-8 8-2 0-1-3-18 0 0 22 8 19 8 7 15 5 19-1 15-9 8 7 8 3 15 0-1 20-60 0-4-5 2-3-20-2-2 14 4 10 11 6 90 0 0-57 4-6 3-13 0-30-5-19-5-10-12-11-13-6-23 1-11 8-3 0-11-9-10-3zM162-61l6 7 3 8 0 8-4 10-10 7-14 0-9-6-2-7 14-4 8-9zM184-93l10 0 7 2 8 9 5 14 0 34-2 7-10 8-6 0-8-7 1-28-3-10-9-9-9-3 4-7 9-9zM138-97l8 0 6 8 0 5-5 10-9-4-5-6 0-9zM777-144l-11 6-8 7-5 12 20 5 6-8 5-2 15-2 9 3 11 10 5 10 4 15 0 52-2 8-7 6-3 0-5-4-3-5-2-17-18 0 0 11-2 9-7 6-3 0-7-5-1-20 4-9 4-3 33-2 0-20-3-10-14-11-16-1-9 4-4 3-5 12-1 8-10 0 0 15 5 2-4 13 0 18 4 14 9 10 10 3 8 0 8-2 10-13 4 8 8 6 14 1 9-2 11-10 5-11 3-13 0-39-3-20-5-18-12-20-14-9-14-4-15 0zM774-82l5-5 7 0 6 6 0 4-16 1zM282-147l-10 3-9 5-9 8-5 12 20 5 10-10 14-2 9 4 9 9 6 16 2 20 0 15-3 21-4 8-8 7-8 4-17-1-10-8-3-10 1-12 6-6 31-2 0-21-3-9-14-11-16-1-10 5-5 6-3 9 1 14-3 3-4 9-1 21 6 17 9 10 16 7 21 1 19-6 10-9 6-10 5-15 3-18-2-34-5-21-6-13-9-10-17-9zM269-82l5-5 7 0 3 3 4 7-17 1zM474-166l-7-2-24 0-1 56-21-1-19 9-11-9-14-3-13 4-8 9-3 7 0 10 4 10 9 9 13 8-8 8-3-1 0-2-17 0-2 11 3 17 5 12 7 7 17 6 15 0 8-2 12-8 11 9 16 1 14-5 9-8 5-12 2-12 0-25-5-21-9-15 0-23 15-5 8-10 1-15-2-7zM401-59l6 8 1 9-4 14-10 7-13 0-5-2-5-5-3-6 15-4 8-8 6-12zM422-93l10 0 6 2 8 8 6 16 1 24-2 12-3 5-9 7-7 0-6-5 0-34-4-8-6-6-10-4 2-6 10-10zM374-97l9 0 5 5 1 8-5 10-8-4-7-9 2-6zM459-154l5 1 4 5 0 5-5 5-5-1zM46-169l-19 5-13 10-5 11 2 15 3 7 14 10 31 2 9 3 6 7 5 10 3 13 0 17-3 15-5 11-8 9-8 2-16-1-13-10-5-13-1-8 1-20 4-9 4-3 4 4-2 25 4 8 8 5 15-2 6-6 4-10 1-16-4-16-6-7-13-1-6 4-6-4-11 0-13 10-4 8-5 25 2 16 6 21 12 14 19 7 18 0 11-2 11-6 8-8 8-19 4-25 0-17-6-28-8-11 9-11 1-16-5-10-12-10-19-5zM52-88l4 2 2 10-1 13-5 5-4-4 1-24zM31-139l3-5 5-3 24-1 11 4 4 5 0 6-6 5-8-3-28 0-5-5z"/>
<path id="t30" fill-rule="evenodd" d="M531-108l-12 15-5 21 2 38 3 12 5 9 7 6 18 6 15-1 13-6 15 7 11 0 13-5 7-7 5-10 5-30-2-28-8-18-9-9-12-5-20 1-11 8-14-9-15 0zM588-93l13 1 7 8 4 11 1 20-2 19-5 10-5 3-9 0-5-3 0-24-4-6-5-4 3-10 0-14 2-6zM549-94l7 1 6 7-1 18-9 10 9 15 5-3 3 5 0 10-10 10-11 0-10-10-4-13 0-28 3-11 6-9zM811-116l-14 3-11 5-10 9-7 8-10 30-1 30 6 28 14 20 18 10 12 2 15 0 18-6 13-12 5-10 3-12-21-2-4 10-8 7-8 4-14 0-9-4-10-10-7-18-2-27 5-22 12-15 15-6 13 1 13 9 5 12 0 18-5 12-5 4-8 0-6-6 1-10 5-4 7-1 0-18-38 1 0 17 9 1-4 9 3 17 6 8 14 6 15 0 7-3 10-8 8-15 2-25-2-14-5-10-13-14-16-7zM392-109l-5 6-3 7 2 15 11 14 15 8-9 8-2 0-2-3-17-2 0 23 7 19 10 8 15 5 20-1 13-6 16 7 11 0 14-5 8-7 5-10 3-18-1-35-4-13-6-12-11-10-16-5-18 3-15 10-9-9-12-4-10 2zM437-59l5 8 0 15-3 7-5 5-10 3-10 0-6-2-6-6-1-5 15-4 8-9 7-14 2-1zM456-94l11 0 5 2 6 6 6 17 2 17-3 19-4 7-8 7-5 0-7-4 3-10 0-20-3-9-5-9-13-10 10-11zM406-97l8 0 5 5 2 11-4 7-4 0-11-10 0-9zM259-112l-6 6-5 15 4 14 14 11-15 20 1 15 2 0 4 4 1 13 10 10 12 3 21-1 12-6 13 6 14 1 10-2 6-4 10-15 5-29-3-27-8-20-12-11-17-7-19 4-15 11-9-10-11-5zM289-64l7 0 7 6 4 9 0 16-3 6-5 5-17 1-8-6-1-12-2-5zM322-94l11 0 5 2 6 6 7 15 0 35-5 12-8 5-10-2-4-3 3-9 0-18-3-10-3-7-8-8-9-3 10-12zM272-98l7 1 5 6 0 5-8 10-10-7-2-5 2-5zM96-119l-14 3-13 10-10-7-7-3-10 0-13 5-8 14 0 14 3 7-8 7-5 6-5 12 0 19 5 13 16 13 11 4 19 3 0 38 20 0 0-43 15-8 11-10-12-15-13 10-1-1 0-29 16-2 6-5 4-8 0-16-2-10 2-11zM46-63l11 1 0 39-5 2-16-3-8-8-2-6 0-9 3-7 8-7zM84-96l4 8 0 10-5 5-5 0 0-14zM38-93l6-5 5 0 8 7 0 9-16 1-4-6zM743-168l-25 0-1 56-6-2-15-2-14 3-14 6-15 18-6 15-4 18 0 30 4 18 5 11 12 15 20 10 24 1 15-5 14-11 9-17 0-7-20-2-5 11-9 8-6 2-14 0-8-2-10-9-6-11-4-14 0-28 5-18 13-15 14-5 16 2 10 9 5 17-1 14-3 8-5 5-10 1-5-5-1-6 5-8 7-2 0-18-36 0 0 18 8 1-3 6 0 15 3 6 11 10 7 3 17 0 8-4 10-10 8-21 0-21-3-10-8-14 0-24 12-4 8-7 2-6 0-15-4-8zM736-154l5 1 2 4 0 7-4 4-5-1zM238-166l-7-2-25 0-2 56-20-1-21 10-10-9-15-4-11 3-10 10-3 6 2 18 3 6 12 9-17 20 2 18 5 0 3 4 0 6 3 5 7 7 12 3 15 0 21-7 9 6 16 1 14-5 10-11 5-15 1-29-5-23-9-14 0-24 15-5 6-7 3-15-4-12zM156-64l7 1 6 6 4 15-1 9-6 10-5 2-13 0-7-5-3-11-5-4zM187-93l9 0 6 2 9 10 5 15 1 17-3 17-3 8-8 5-6 0-8-5 3-8 0-20-3-10-11-14-9-3 7-8zM136-97l7 0 6 6 0 5-8 10-8-5-2-6 0-4zM223-154l5 1 4 6-1 5-4 4-5-1z"/>
<path id="t31" fill-rule="evenodd" d="M22-108l-8 7-5 10-5 30 3 28 7 19 12 10 13 3 17-1 11-6 10 6 17 1 13-5 11-15 5-20 0-31-5-20-5-9-10-8-10-4-16 0-11 5-4 4-8-7-7-2-14 0zM79-93l13 1 6 6 5 15-1 35-4 9-6 6-9 0-5-3 0-23-9-11 3-25 4-8zM39-94l9 2 5 6-2 20-8 8 9 15 5-3 4 7-2 11-8 7-14-1-6-6-5-14-2-16 3-21 4-9zM369-112l-7 8-4 8 0 12 5 12-7 11-3 10 1 23 10 17 12 8 8 2 14 0 13-3 5-4 15 7 13 0 12-5 11-13 4-12 2-17-1-28-4-15-5-8-9-9-12-5-18 0-11 5-5 5-15-11-10-2zM381-62l15 0-2 5-6 8 10 12 9 0 1 5-5 9-5 2-14 0-10-7-2-5-1-11 2-10zM432-94l7 1 8 6 4 6 2 12-1 33-4 9-10 8-6-2-5-5-1-17-3-5-10-8 5-26 9-11zM376-93l5-4 8 0 7 8 0 7-18 1-4-7zM252-107l-5 10-1 9 2 10 4 6-9 14-2 14 2 16 5 10 16 14 20 6 23-1 14-5 15-14 5-9 2-10 0-14-2-10-8-10 0-3 5-10 0-12-4-8-7-8-11-4-12 2-11 6-11-6-8-2-11 2zM262-52l5-7 7-4 35 0 7 2 5 5 2 5 0 13-4 7-12 9-11 3-15-2-10-5-9-10zM307-97l7 0 7 5 0 9-3 4-17-3 0-7zM263-92l5-5 10 0 5 6 1 9-17 3-4-5zM173-169l-16 3-13 10-2 7 0 8 7 13-10 7 13 15 4-3 10-4 13-1 14 5 8 6 7 15 3 17-2 19-3 14-10 12-9 4-13 0-8-4-8-7-5-11-1-24 2-11 5-7 4 4-1 24 2 6 5 5 5 3 12 0 7-4 4-5 4-11 0-19-7-15-7-4-9 0-6 4-6-4-12 0-8 5-7 9-3 10-3 27 5 24 4 8 9 10 8 5 13 3 17 0 14-3 9-5 9-10 7-18 4-31-1-18-5-18-8-13 9-12 1-14-2-8-5-6-14-9-16-3zM179-87l3 0 4 5 0 18-4 5-5-3zM163-143l6-5 23-1 7 2 7 6 0 5-4 7-16-5-19 0-4-5z"/>
<path id="t32" fill-rule="evenodd" d="M126-109l-8 12 0 14 5 11-4 4-6 16 0 21 9 18 9 7 13 5 19-1 13-6 15 7 12 0 14-6 6-6 6-14 4-27-2-27-8-18-9-9-12-5-18 0-10 4-7 6-9-9-12-4-10 2zM143-63l13 1-8 14 10 11 9 0 0 9-6 6-17 1-11-8-2-8 0-10 3-10zM192-94l7 1 10 10 4 16-1 30-4 10-10 8-4 0-8-7 0-17-7-9-7-4 7-30 5-6zM134-91l5-6 10 0 5 5 2 10-18 1-4-5zM44-147l-10 3-8 5-9 8-5 12 20 5 10-10 15-2 14 9 5 8 3 11 3 17 0 22-4 18-4 8-8 9-8 2-11 0-10-4-8-7-5-13 0-28 4-9 4-3 2 3-1 24 3 7 5 5 5 3 11 0 6-3 6-7 3-9 0-21-5-13-9-5-9 0-6 4-6-4-11 0-13 10-7 20 0 29 6 21 12 14 19 7 18 0 11-2 11-6 8-8 5-9 5-15 2-20-1-32-5-21-6-13-9-10-18-9zM51-87l5 1 2 10-1 12-4 5-2 0-3-4zM312-152l-20 0 0 8-4 10-31 35-13 25-2 21 1 15 4 12 10 15 10 7 12 3 20-1 13-6 10-11 6-17 1-30-6-20-6-8-6-5-12-5-11-2 18-21 6-15zM282-87l9 0 6 3 6 6 5 12-1 29-9 13-10 3-9-1-11-9-5-16 0-14 3-11 10-12z"/>
<path id="t33" fill-rule="evenodd" d="M178-108l-7 2 2 19 11 1 5 8 3 10 0 27-3 10-6 8-10 0-2 19 3 2 12 0 11-5 7-7 5-10 4-18 0-26-5-20-5-9-10-9zM364-112l-15 6-7 7-8 10-7 18-1 27 3 16 7 11 7 8 15 7 19 1 17-7 10-15 3-9 0-20-3-9-8-12-9-4-14 0-7 4-7 6-3 9 0 11 3 9 12 9 17 0-9 7-15 1-5-2-11-14-4-17 2-12 5-12 12-13 6-2 10 0 14 9 14-13-11-9-14-6zM377-59l6 0 5 6-1 6-5 4-5 0-5-5 0-6zM41-112l-15 6-8 7-7 10-8 18-1 27 4 16 6 11 7 8 15 7 19 1 18-7 10-15 2-9 0-20-2-9-9-12-9-4-14 0-7 4-6 6-4 9 0 11 4 9 11 9 17 0-8 7-15 1-5-2-12-14-3-17 1-12 5-12 12-13 7-2 10 0 13 9 14-13-11-9-14-6zM53-59l6 0 5 6-1 6-5 4-5 0-5-5 0-6zM128-116l-12 5-8 10-2 12 3 13-10 9-5 8-3 12 1 15 6 14 10 10 11 6-2 8 0 11 6 12 14 9 17 0 10-5 9-9 1-3-12-9-9 6-10 1-6-6 0-10 4-5 7-1 10-6 8-9-15-11-14 7-13-1-10-9-2-5 0-11 9-11 11-4 25 0 2-5 2-24-5-12-10-9-8-3zM123-92l5-5 6-1 8 6 1 10-16 1-4-5zM504-168l-25 0-1 54-7 2-4 4-13-6-17 0-8 3-8 13-2 12 7 14-5 5-5 11 0 24 6 14 10 10 9 5 17 5 13 0 17-4 11-6 10-10 5-10 3-11-1-15-5-13-5-5 6-12 0-9-5-13-10-8 0-8 12-4 8-7 2-6 0-14-3-9zM434-49l3-7 5-5 6-2 35 0 6 2 5 5 3 7 0 10-3 6-11 10-14 4-7 0-16-5-9-9-3-6zM478-96l10-1 5 4 1 9-3 5-17-3 0-9zM437-92l5-5 9 0 5 4 2 9-2 3-15 2-4-5zM496-154l3 0 5 5 0 7-3 4-7-1zM261-169l-17 3-12 10-3 7 0 8 8 13-10 7 12 15 4-3 10-4 14-1 14 5 7 6 8 15 2 17-1 19-4 14-10 12-9 4-12 0-9-4-7-7-5-11-2-24 3-11 5-7 4 4-2 24 3 6 5 5 5 3 11 0 8-4 3-5 4-11 0-19-6-15-8-4-8 0-7 4-6-4-11 0-9 5-6 9-4 10-2 27 5 24 3 8 9 10 9 5 12 3 18 0 14-3 8-5 9-10 8-18 3-31-1-18-5-18-7-13 8-12 2-14-3-8-5-6-14-9-16-3zM267-87l2 0 4 5 0 18-4 5-5-3zM251-143l6-5 22-1 8 2 6 6 0 5-4 7-16-5-19 0-3-5z"/>
<path id="t34" fill-rule="evenodd" d="M248-108l-7 7-5 10-5 30 2 28 8 19 11 10 14 3 16-1 11-6 10 6 18 1 12-5 11-15 5-20 0-31-5-20-5-9-10-8-10-4-16 0-11 5-4 4-7-7-8-2-14 0zM306-93l12 1 6 6 5 15-1 35-4 9-6 6-9 0-5-3 0-23-8-11 2-25 4-8zM266-94l8 2 5 6-2 20-8 8 9 15 5-3 4 7-1 11-9 7-14-1-6-6-5-14-1-16 2-21 4-9zM204-112l-11-4-12 2-13 8-6 12-20 0-8 3-8 9-7 14-2 20 2 24 5 12 7 6 12 5 9 0 9-2 10-11 7 10 9 3 10 0 10-3 7-8 7-17 0-23-5-15-5-6 5-9 0-15-5-10zM146-73l3-3 10 0 4 4 1 9 29 1 5 5 4 11 0 10-3 9-5 5-7-1-6-9-3-16-16 0 0 7-4 13-7 6-7-1-6-10-1-23 2-8zM179-92l5-5 9 0 6 8-1 7-19 1zM399-147l-10 3-11 6-12 17 20 8 8-10 8-3 9 0 7 3 9 9 6 12 4 26-1 24-4 14-10 12-9 4-12 0-9-4-8-7-5-11-1-24 3-11 5-7 3 4-1 24 3 6 5 5 5 3 11 0 7-4 4-5 4-11 0-19-6-15-8-4-9 0-6 4-6-4-11 0-9 5-6 9-4 10-3 27 5 24 4 8 9 10 9 5 12 3 18 0 13-3 9-5 6-7 8-13 5-22 0-40-6-26-13-19-9-6-10-4zM406-87l2 0 4 5 0 18-4 5-5-3zM37-168l-15 6-10 10-4 13 3 13 3 7 10 7 9 3 28 0 8 3 8 7 5 8 4 14 0 36-5 13-5 5-8 1-6-9 0-7 10-20 0-11-4-13-11-10-8-2-18 0-12 5-3 3-9 18-3 22 3 24 6 13 10 7 15 1 6-2 5-5 10 6 18 1 12-5 8-7 6-13 4-16 1-16-2-26-4-14-6-13-7-7 9-13 0-15-10-13-14-8-12-2zM41-74l10 6 0 11-9 19 0 12-4 4-6 1-5-5-1-5 0-26 3-11 5-5zM29-138l2-4 7-5 24-1 11 4 5 7-1 4-6 5-8-3-27 0-5-3z"/>
<path id="t35" fill-rule="evenodd" d="M144-106l0 18 19 0 1 2-22 32-5 15 1 18 6 12 12 7 21 0 10-6 7-16 0-10-17 0-1 8-9 5-9-6-1-11 7-18 24-31 0-19zM576-112l-12-4-16 3-10 9-5 10-20 0-12 7-5 6-7 15-1 25 4 22 4 7 6 6 12 5 9 0 11-5 8-8 9 11 7 2 10 0 8-2 8-8 4-6 4-14 0-20-3-10-7-11 5-11 0-14-3-6zM513-69l8-7 10 0 2 3 3 10 28 1 8 11 1 10-4 15-5 4-3 0-8-6-4-13 0-7-16 0-1 12-4 9-6 5-5 0-6-6-3-9 0-20zM549-89l7-8 8 0 5 5 2 5-4 6-16 0zM256-116l-15 3-9 4-9 6-9 11-7 16-4 18 0 35 5 19 5 10 18 17 13 5 23 1 16-5 11-8 9-14 3-13-22-2-2 9-9 8-9 4-12 0-11-5-12-14-5-16-1-19 5-26 10-15 8-5 8-2 18 2 10 9 4 10 0 20-4 10-6 5-8 0-6-6 1-9 5-5 6-1 0-18-36 0 0 18 8 1-4 15 1 7 5 9 6 5 10 4 15 0 12-5 11-14 5-17 0-20-6-18-10-12-15-9zM16-112l-7 6-5 15 5 17 13 10-16 18 1 20 2 0 4 4 0 11 6 8 7 2 10 0 5-2 6-8 7 8 7 2 11-1 7-6 14 7 10 0 13-5 7-7 8-23 0-33-9-27-11-12-13-6-12-2-17 4-12 9-3 0-15-11-10-2zM62-66l7 13 2 16-3 11-5 5-6-2-1-20-18 0 0 17-2 4-5 1-4-3-1-13-3-4 23-23 5-3zM78-94l16 1 9 7 5 10 3 12 0 25-3 11-7 9-7 0-6-7 1-28-5-17-7-8-13-5zM27-97l7 0 7 6-2 7-7 8-4-1-6-7 0-8zM359-161l-10 9-6 15 0 15 5 10-16 11-5 7-6 16 0 21 8 20-8 13-4 20 16 3 8-3 18 3 19-1 18-10 10-12 2 0 16 18 8 4 17 1 12-3 10-9 7-23 0-37-6-19-6-6-7-3-12 0-8 4-5 6-3-6-8-4-12 2-8 6-15-15 11-13 9-17-20 0-9 14-7 7-8-7 0-9 3-5 6-5 15-5 18 0 10 4 3 5 0 8-2 7 16 7 6-12 0-14-3-9-5-6-8-5-17-5-25 0-12 2zM348-67l8 1 5 7-2 8-7 5-6-1-5-6 0-8zM417-79l5 0 4 5 1 27 16 0 1-29 4-3 4 0 2 2 3 6 0 33-4 11-5 5-9 1-6-2-14-15-6-1-2-3 2-14 0-18zM356-92l15 0 8 5 8 9 4 11 0 23-4 11-8 9-13 5-25-3 5-6 7 0 13-4 11-12 2-9-1-13-9-12-12-5-11 2-4-1 5-6z"/>
<path id="t36" fill-rule="evenodd" d="M834-126l-11 4-5 6 8 9 5-4 11 2 7 10 5 23-1 33-2 11-9 13-11 1-5-4-8 10 9 8 11 1 6-1 10-7 9-12 6-25 0-33-5-21-8-15-9-6zM358-126l-10-5-15 0-9 4-8 8-5-7-8-3-16 0-6 2-5 5-4 8-3 17 14 0 0-7 3-7 6-5 7 0 8 8 1 17-10 23-21 36-5 16-1 13 15 0 7-6 10 0 19 7 15 1 17-6 12-11 7-20 0-21-4-13-7-10 6-14 0-16-4-7zM321-78l20 1 10 6 6 12 1 13-2 12-4 7-6 6-8 4-12 0-22-7-15 0 9-19zM332-116l11-2 6 2 5 5 2 14-5 8-10-3-15 1-3-2 1-14zM894-128l-8 12 0 18 3 9 8 7 11 6-22 29 2 10 8 5 0 8 3 10 13 10 16 3 20-2 13-8 11 8 11 2 13-1 11-5 6-6 6-11 5-19-1-46-5-17-6-11-13-11-12-5-23 1-10 5-13 13-7-10-12-9-14-1zM939-81l7 3 6 6 4 8 1 28-4 9-9 9-7 2-18-1-10-9-2-16-5-5 27-32zM971-118l13 0 8 4 11 12 6 19 2 31-3 15-6 13-13 8-12 0-9-7 4-11 0-25-5-17-9-11-6-4-10-2 14-16zM907-121l14 2 7 7 1 11-13 17-12-5-3-4-4-9 0-7 2-5zM738-134l-9 3-7 10-1 23 5 11-15 13-9 15-5 20 1 25 9 23 14 15 20 9 21 1 15-3 15-9 9-10 5-10 2-11-15-3-6 15-15 13-8 2-25-1-11-8-11-15-5-23 2-22 4-10 8-8 3 20 4 6 8 6 15 5 13 0 17-6 6-6 4-8 1-9-14 0-2 8-10 7-17 0-6-2-7-8-2-13 4-7 56 0 4-21-1-17-8-15-10-5-12 1-10 11-4-6-6-5zM778-121l6 2 5 5 2 21-3 4-20-2 0-17 4-9zM738-119l8-2 7 5 4 14 0 10-3 3-15 0-5-5-2-13zM588-133l-12 9-7 13 2 14 6 13-9 10-5 16 0 15 4 14 5 8 10 10 16 9 20 4 28-4 12-6 13-11 8-19 0-25-5-13-8-10 3-3 4-10-1-18-11-14-12-3-13 1-8 4-6 6-14-10zM579-63l3-5 12-10 55 0 12 9 5 12 0 11-4 12-11 12-20 8-24-2-13-5-8-7-5-8-3-7zM636-118l5-3 10 0 8 8 2 12-7 10-26-2 0-15zM583-112l10-9 10 0 5 3 6 7 2 18-28 2-5-8zM442-171l-14 3-14 7-8 9-7 11 15 5 8-11 12-7 18 0 10 3 7 7 9 13 6 27 0 43-6 23-6 10-9 7-10 4-16 0-9-2-12-10-8-14-4-21 2-22 3-12 4-5 5-3 4 2 4 5-2 31 4 9 8 6 12 1 5-1 8-8 5-15 0-21-4-12-11-9-12 0-6 4-9-4-8 0-13 6-10 20-2 33 6 27 5 10 9 10 15 9 11 2 14 0 16-3 9-5 15-18 8-29 2-41-5-31-5-14-7-10-8-9-14-7zM442-107l4 0 5 4 3 10-1 21-5 8-7 0-5-9 2-25-1-5zM178-169l-22 11-7 6-6 11 15 5 11-13 8-4 22-1 13 5 10 10 10 22 4 20 1 45-3 19-7 14-5 2-9 0-9-7-2-5-3-12 0-12-13 0-2 17-5 13-7 6-11-1-8-11-2-13 0-17 2-12 4-7 7-8 5-2 13 1 5-11-1-3-7-2-16 0-7 4-10 10-8 16-2 14 0 18 2 14 8 16 6 7 9 3 13-1 8-4 6-7 4-9 7 14 5 4 12 3 12-1 8-4 7-7 5-10 3-11 1-54-6-38-12-23-15-14-16-6zM59-171l-12 3-11 5-10 9-8 13 15 5 3-6 7-7 10-5 21 1 8 4 9 8 8 20 4 24 0 30-6 28-5 8-13 12-7 2-18 0-12-5-10-10-5-10-4-15 0-24 4-16 9-9 7 4-1 31 5 13 7 5 13 1 6-2 5-5 5-13 1-20-5-17-5-7-5-2-11 0-6 4-10-4-9 0-9 4-6 6-5 10-4 16 0 29 3 12 7 18 13 14 17 7 19 1 9-1 15-6 11-10 6-10 7-18 2-15 0-45-7-31-12-19-16-11zM61-107l5 1 6 10 0 22-6 10-7 0-5-7 2-32z"/>
<path id="t37" fill-rule="evenodd" d="M274-68l0 14 53 0 0-14zM178-134l-56 85-3 7 3 9 54 0 1 32 15 0 0-31 19-1 0-13-17 0-2-2 0-86zM176-109l1 62-40 1 0-5zM53-137l-7 1-13 7-10 11-4 7-5 19-1 38 4 22 7 18 17 13 21 3 17-8 8-7 6-11 6-27 0-37-2-14-9-20-9-9-7-3zM51-123l15 1 8 8 5 10 4 16 1 20-3 32-7 14-12 10-11 0-13-10-6-15-3-15 0-32 3-15 6-14z"/>
<path id="t38" fill-rule="evenodd" d="M1542-129l-13-5-10 0-7 2-10 8-8 16-11-3-11 2-11 5-9 8-5 9-4 13-1 28 4 23 3 9 7 7 8 5 19 0 13-9 5-10 12 17 11 3 13-1 14-10 7-19 1-23-5-20-8-12 7-15 0-11-4-10zM1473-94l15-2 6 3 4 14 29 0 7 2 4 4 6 16 0 21-5 13-5 5-12 1-9-7-5-15 0-14-14 0 0 12-2 12-9 11-12 1-9-7-5-18 0-24 6-18zM1517-119l12-2 9 7 3 11-5 11-28-2 0-15zM1289-127l-5 6-2 8 0 14 5 11 7 7 9 4 1 3-21 25-1 5 2 11 4 0 3 4 0 13 6 12 11 3 10-1 8-6 3-6 9 11 9 2 10-1 10-7 12 7 14 1 14-5 7-7 7-13 3-17 0-36-6-25-14-20-16-9-17-1-19 7-14 11-12-15-12-3-13 1zM1347-83l9 7 6 19 0 21-5 15-8 5-6-1-6-7-1-20-13 0 0 12-4 11-7 5-6-1-4-6-1-19-4-4 30-35 7-3zM1367-118l12-1 15 7 7 8 7 18 0 49-6 15-9 6-10 0-9-7 3-30-3-18-3-10-10-11-19-6 15-15zM1304-121l13 2 7 7 3 10-15 18-10-5-5-5-3-7 2-12zM294-128l-8 14 1 20 11 13 9 5 10 3 1 5-5 7-7 5-8 0-2-2 0-4-14 0 0 23 4 13 5 9 15 13 15 3 17-1 18-10 16 10 26 0-1 33-81 0-4-4 0-13-14-1-1 20 2 6 4 4 8 3 102 0 0-63 4-6 5-19 0-36-3-14-8-20-10-11-10-6-9-3-18 0-16 8-7 7-9-11-10-5-18 0zM343-74l6 6 4 10 0 20-4 10-5 6-12 6-14 0-7-2-10-10-5-15 13 0 9-4 9-10 7-17zM367-117l11 0 11 5 10 11 7 17 0 46-5 12-8 8-6 2-13 0-10-8 4-14 0-20-4-14-10-12-13-4 2-8 8-11 8-7zM309-121l8 0 11 9 3 11-8 18-14-4-8-7-3-5 1-14zM151-128l-7 7-3 12 2 16 5 7-6 7-4 7-4 23 3 20 6 12 10 10 18 6 22-2 11-8 14 9 8 1 16-2 9-5 11-16 4-13 2-20-2-39-4-12-8-13-7-6-14-5-21 1-10 7-5 6-9-10-14-6-15 1zM162-78l26 0-2 11-4 6-5 4 0 3 6 8 8-3 5 0 5 7-2 13-2 5-8 6-7 2-15-1-8-4-7-8-4-18 1-14 5-11zM218-117l14 0 7 4 8 9 5 15 1 37-2 15-5 11-9 9-4 1-10 0-10-7 0-26-6-9-9-4 8-42 3-7zM156-113l8-8 10 0 5 3 7 7 1 17-28 2-5-7zM486-171l-13 3-11 5-11 10-7 12 14 5 11-13 10-5 17 0 7 2 13 10 8 18 5 31 0 22-5 28-7 14-6 6-14 6-19 0-11-5-8-7-6-17 1-16 5-9 8-5 36-1 0-17-5-13-7-7-13-5-15 1-9 5-3 5-4 12 1 9 3 4-9 12-4 24 5 20 13 16 13 8 25 2 17-3 11-7 10-11 6-12 6-27 0-43-3-22-12-25-11-11-9-5zM459-97l3-5 6-5 10 0 9 6 4 12-29 1-3-4zM59-171l-12 3-11 5-10 9-8 13 15 5 3-6 7-7 10-5 21 1 8 4 9 8 8 20 4 24 0 30-6 28-5 8-13 12-7 2-18 0-12-5-10-10-5-10-4-15 0-24 4-16 9-9 7 4-1 31 5 13 7 5 13 1 6-2 5-5 5-13 1-20-5-17-5-7-5-2-11 0-6 4-10-4-9 0-9 4-6 6-5 10-4 16 0 29 3 12 7 18 13 14 17 7 19 1 9-1 15-6 11-10 6-10 7-18 2-15 0-45-7-31-12-19-16-11zM61-107l5 1 6 10 0 22-6 10-7 0-5-7 2-32zM636-176l-15 0-2 12-5 10-38 43-10 18-4 11-1 35 5 18 6 11 10 10 14 6 16 1 19-5 15-13 10-23 1-35-3-11-6-14-10-11-9-5-8-3-18 0 18-18 8-13 5-11zM604-107l14 0 6 3 10 10 8 21 0 20-4 15-6 11-5 5-10 5-18 0-7-4-9-8-7-20 0-22 3-13 10-15zM1262-193l-6-3-24 0-1 65-10-3-18 1-11 5-16 12-5-8-8-7-11-3-9 0-12 5-8 7-4 10 2 16 11 15 10 5-23 29 3 13 6 3 0 14 5 11 13 5 10-1 8-7 3-5 7 10 10 3 10-1 12-9 8 8 17 2 13-5 9-8 8-20 2-30-4-30-6-17-9-11 0-21 17-4 6-5 4-7 0-23zM1187-82l9 10 3 13 0 26-2 9-6 7-10 0-7-9-1-18-12 0 0 13-3 9-5 5-9 0-5-7 0-14-3-9 31-35 5-2 9 0zM1204-118l13-1 14 6 8 10 7 16 2 24-1 21-6 19-9 7-14-1-6-7 2-14 0-19-2-14-5-12-9-9-17-6 12-14zM1143-121l9 0 5 3 7 11-1 8-14 15-10-5-3-4-4-9 2-12zM1244-184l10 1 4 4 3 7-3 11-7 5-8-1zM1032-196l-15 4-10 5-9 8-9 17 0 16 4 10-14 5-11 14 0 21 4 8 7 7 9 4 1 3-20 23-2 7 2 10 5 1 4 4 0 7 4 9 6 6 8 4 12 2 18-1 17-9 10 8 16 2 5 5 4 9 0 13-4 8-11 10-11 4-19 1-17-3-14-10-5-14-15 0 5 19 11 12 6 4 20 6 28 0 24-9 10-8 5-9 2-9 0-15-7-19 10-8 7-17 3-15 0-28-7-28-8-15-7-6 9-11 5-14 0-13-5-13-11-12-11-6-17-4zM1022-81l7 4 8 11 2 9 0 19-5 12-6 7-10 3-12 0-9-3-6-8-2-12-6-7 29-33zM1052-117l10 0 11 5 11 14 5 16 2 35-3 13-4 8-8 9-4 1-14 0-7-6 3-17 0-15-2-14-6-13-8-7-15-5 14-15zM989-121l13 2 6 5 4 8-1 7-14 15-10-5-5-5-3-8 0-7 3-5zM1074-172l9 14-1 14-5 8-6 5-25 0-7 3-16 12-5-8-7-8-7-14 0-13 4-8 10-9 14-5 27 2zM943-193l-6-3-24 0-1 62-11 3-8 7-11-8-8-2-10 0-11 3-11 14-1 16 2 7-11 1 0 14 11 1-7 15-2 29 8 21 7 7 8 4 11 1 10-2 9-8 5-11 5 10 7 8 12 3 12-1 13-9 6-11 4-20-2-20-5-15-7-9 6-11 1-14-6-13-12-9 0-10 10-1 10-5 7-14-1-19zM854-71l7-6 7-2 50 0 8 2 7 11 3 10 0 19-5 14-8 6-12-1-9-11-4-24-12 0 0 12-5 17-9 7-10 0-5-2-6-10-3-15 1-14zM904-117l7-4 10 0 5 3 5 6 1 5-3 11-3 4-27-1-1-11zM856-114l8-7 13 2 7 7 2 18-28 1-5-9zM926-184l7 0 8 7 0 14-4 5-5 2-8-1zM757-196l-11 4-13 8-10 12-4 10 0 16 7 15 8 9 8 4-3 5 0 14 5 10-11 7-6 8-5 10-3 20 3 12 9 15 10 9 13 6-3 10 0 9 5 14 13 11 9 2 10 0 14-5 14-15-12-7-7 9-8 3-12 0-9-7-2-5 0-11 3-7 9-1 14-6 12-13-12-8-8 7-11 5-20-2-7-5-9-12-3-13 4-14 11-13 9-3 36 0 4-22-1-11-3-5 10-5 12-12 3-10 0-18-8-17-13-10-16-7zM753-113l9-8 14 2 7 8 1 14-2 3-25 1-5-8zM737-166l10-10 9-3 27 0 10 5 10 11 1 17-6 12-9 6-3 0-5-4-9-2-14 1-9 5-7-5-6-9-2-17z"/>
<path id="t39" fill-rule="evenodd" d="M139-108l-7 2 2 19 9 0 8 10 2 14 0 15-4 19-6 6-9 0-2 20 15 1 12-6 10-15 4-14 1-24-3-22-7-13-8-8zM656-112l-7 6-5 15 5 17 13 10-16 18 1 20 5 0 2 3 3 11 6 6 9 4 20 1 17-6 8-7 5-12 1-25-6-17-8-8-7-2-1-3 7-7 10-5 10 0 9 4 5 5 5 10 2 12 0 21-5 17-18 18-5 18 1 10 4 9 10 7 15 1 8-2 9-11 1-12-15 0-1 5-4 4-5 0-5-5 2-12 21-22 6-15 1-36-5-20-5-9-11-11-14-6-18 0-20 10-18-11-9-2zM686-64l6 0 7 6 4 9 0 16-6 10-5 2-14 0-7-6-2-9-5-6zM667-97l7 0 7 6-2 7-7 8-4-1-6-7 0-8zM417-113l-9 7-5 13 1 12 5 9-8 13-3 12 0 9 5 16 13 14 20 9 18 1 14-3 11-5 14-12 5-10 3-11-3-20-9-13 7-12-3-18-7-9-14-5-11 2-10 6-9-5-10-3zM418-49l3-7 5-5 6-2 35 0 6 2 5 5 3 7 0 10-3 6-11 10-14 4-7 0-17-5-8-9-3-6zM462-96l10-1 5 4 1 9-4 5-16-3 0-9zM421-92l5-5 8 0 7 6 0 9-17 3-3-5zM18-109l-7 12 0 15 5 9-8 11-4 21 3 15 5 10 11 10 14 5 19-1 11-6 16 7 13 0 13-6 10-14 5-21-1-37-4-13-5-9-10-8-10-4-17 0-10 4-8 6-8-9-13-4-11 2zM32-62l16 0-9 13 12 13 2-2 6 1 0 8-6 7-16 1-8-3-6-12 0-12 3-8zM83-94l10 2 8 8 5 20 0 16-3 15-4 7-8 7-4 0-9-7 0-16-5-9-9-5 7-27 6-9zM27-92l5-5 10 0 5 6 1 9-19 1-2-3zM817-147l-14 4-6 4-9 8-5 12 20 6 6-9 9-4 9 0 7 3 9 7 6 13 4 21 0 24-5 21-11 13-8 2-16-1-5-3-6-7-3-13 3-8 5-5 31-2 1-16-3-12-7-8-13-6-12 0-6 2-7 8-4 12 2 10-5 5-3 10-2 17 7 20 12 12 13 5 21 1 19-6 13-14 5-10 4-15 1-38-3-23-4-11-8-13-7-7-11-6-12-3zM803-79l5-8 6 0 5 4 3 6-16 1zM634-166l-7-2-24 0-1 56-21-1-15 6-5 5-12-10-15-4-12 4-9 9-2 9 1 13 5 9 10 9-15 17 0 20 7 2 3 11 5 6 15 6 15 0 21-7 6 5 8 2 11 0 14-5 9-8 5-12 2-12 0-25-5-21-9-15 0-23 14-4 9-11 1-15-2-7zM552-64l7 1 7 6 2 5 1 14-3 11-5 5-17 1-7-5-1-8-5-8zM583-93l9 0 6 2 8 8 6 16 0 33-4 8-9 7-5 0-7-4 2-19-3-20-9-12-10-5 4-7zM532-97l9 0 6 9-10 12-9-7-1-5 1-5zM619-154l5 1 4 4 0 6-5 5-5-1zM383-166l-7-2-24 0 0 51-14 9-11-6-8-2-16 4-10 13 0 17-10 1 0 18 8 1-4 11 0 23 6 16 8 8 10 3 13-1 5-2 9-10 8 10 8 3 10 0 8-2 10-9 6-17 0-23-2-9-8-11 5-11 0-14-4-7-11-10 0-8 15-5 6-7 3-17-4-10zM308-54l6-8 4-1 40 0 8 6 2 6 1 13-2 11-6 5-8-1-6-10-1-15-17 0-1 15-4 7-5 4-5 0-5-4-2-5-1-12zM346-89l6-8 9 0 5 5 1 5-4 6-16 0zM311-94l3-3 9 0 5 5 1 10-17 1-3-2zM368-154l5 1 4 5 0 4-5 6-5-1zM248-168l-26 0-16 5-15 12-5 13-2 10 3 11 14 14-9 10-8 16-2 13 1 28 6 17 9 10 11 6 10 2 19-1 16-9 8-10 6-17 1-23-6-23-12-15-8-4-15-3 16-20 5-12-20 0-16 21-6-6-1-5 2-9 6-6 8-4 26-1 9 2 5 7 0 6-4 9 14 6 4 0 6-13 0-11-4-10-9-9zM222-87l9 0 7 4 8 11 2 11 0 15-2 10-10 13-8 2-10-1-6-4-5-6-4-11 1-28 9-12z"/>
<path id="t40" fill-rule="evenodd" d="M283-112l-16 8-14 16-7 20 0 29 6 17 12 14 13 6 19 1 10-2 6-4 7-7 4-8 4-17-3-20-3-8-12-9-16-1-6 3-11 13 0 17 3 7 10 8 18 0-4 5-7 3-13 0-11-8-6-13-2-20 3-10 4-7 10-10 7-4 14 1 11 8 13-13-18-12-7-3zM297-59l5 0 5 5 0 6-5 5-6 0-5-6 1-7zM351-108l-12 15-5 21 2 38 3 12 5 9 7 6 18 6 15-1 13-6 15 7 11 0 13-5 7-7 5-10 5-30-2-28-8-18-9-9-12-5-20 1-11 8-14-9-15 0zM408-93l13 1 7 8 4 11 1 20-2 19-5 10-5 3-9 0-5-3 0-24-4-6-5-4 3-10 0-14 2-6zM369-94l7 1 6 7-1 18-9 10 9 15 5-3 3 5 0 10-10 10-11 0-10-10-4-13 0-28 3-11 6-9zM22-108l-8 7-5 10-5 30 3 28 7 19 12 10 13 3 17-1 11-6 10 6 17 1 13-5 11-15 5-20 0-31-5-20-5-9-10-8-10-4-16 0-11 5-4 4-8-7-7-2-14 0zM79-93l13 1 6 6 5 15-1 35-4 9-6 6-9 0-5-3 0-23-9-11 3-25 4-8zM39-94l9 2 5 6-2 20-8 8 9 15 5-3 4 7-2 11-8 7-14-1-6-6-5-14-2-16 3-21 4-9zM499-116l-8 3-10 10-3 6 0 14 4 7-9 7-9 13-2 13 1 10 8 16 7 8 14 7-4 9 0 9 4 10 9 8 7 4 18 0 10-5 10-10 0-2-13-9-9 6-10 1-6-6 0-9 5-6 15-6 9-10-15-11-10 6-13 1-7-4-6-6-3-6 0-9 4-7 7-7 9-2 26 0 2-4 1-26-4-10-14-11zM496-93l6-5 5 0 5 4 2 5 0 7-16 1-4-5zM186-116l-14 3-11 5-10 9-7 8-10 30-1 30 6 28 14 20 18 10 12 2 15 0 18-6 13-12 5-10 3-12-21-2-4 10-8 7-8 4-14 0-9-4-10-10-7-18-2-27 5-22 12-15 15-6 13 1 13 9 5 12 0 18-5 12-5 4-8 0-6-6 1-10 5-4 7-1 0-18-38 1 0 17 9 1-4 9 3 17 6 8 14 6 15 0 7-3 10-8 8-15 2-25-2-14-5-10-13-14-16-7zM616-152l-22 1 0 8-5 11-31 35-6 10-5 15-1 31 3 14 5 10 9 9 19 7 14 0 17-6 11-12 7-15 1-34-8-20-12-13-10-3-11-2 18-22 5-13zM584-87l9 0 11 6 4 7 4 16-1 17-4 10-6 7-9 3-10-1-10-7-4-8-2-12 2-22 4-7 6-6z"/>
<path id="t41" fill-rule="evenodd" d="M237-112l-9 11-1 19 10 14 12 6 3 4-8 7-2 0-1-3-18 0 1 27 8 15 7 6 15 5 19-1 16-9 12 9 17 0 3 3-2 18-61 0-2-2 0-6-20-2 0 18 2 5 5 5 6 2 90 0 0-56 5-11 3-26-3-22-8-20-13-12-11-5-19 0-10 4-6 5-3 0-11-9-10-3zM273-59l5 5 3 6 0 11-5 11-8 5-14 0-7-3-5-10 9-2 7-3 8-9 3-9zM294-93l10 0 9 4 10 15 3 10 0 26-4 11-9 8-7 0-8-7 3-12-3-21-9-13-11-4 5-8zM248-97l8 0 6 6 0 8-5 9-6-3-8-9 0-6zM92-112l-11-4-13 2-12 8-7 12-20 0-7 3-9 9-6 14-3 20 3 24 5 12 6 6 13 5 8 0 9-2 10-11 8 10 8 3 10 0 10-3 8-8 6-17 0-23-5-15-5-6 5-9 0-15-5-10zM33-73l4-3 10 0 4 4 1 9 29 1 5 5 3 11 0 10-2 9-5 5-8-1-6-9-2-16-17 0 0 7-3 13-8 6-6-1-6-10-2-23 3-8zM67-92l5-5 9 0 6 8-1 7-19 1zM393-147l-14 4-6 4-9 8-5 12 20 6 7-9 8-4 9 0 8 3 8 7 7 13 3 21 0 24-5 21-11 13-7 2-17-1-5-3-6-7-2-13 2-8 5-5 31-2 2-16-4-12-6-8-14-6-11 0-7 2-7 8-4 12 3 10-5 5-4 10-1 17 6 20 12 12 13 5 21 1 19-6 14-14 5-10 3-15 2-38-4-23-4-11-7-13-8-7-11-6-11-3zM379-79l5-8 7 0 5 4 2 6-16 1zM531-152l-20 0-2 10-3 9-33 36-10 20-2 13 0 21 3 16 7 11 6 7 15 7 20 1 16-6 10-10 8-16 2-28-6-23-13-15-7-4-15-3 16-20 6-13zM501-87l8 0 8 4 7 11 3 10 0 16-3 10-10 13-7 2-10-1-6-4-5-6-4-11 1-28 9-12zM156-169l-19 5-11 8-7 15 2 12 6 11 9 6 8 3 27 0 7 3 8 8 6 17-1 34-7 15-11 9-16 1-11-6-7-13 2-21 6-7 6-2 6 3 7-16-2-4-11-4-12 1-12 8-8 16-3 19 4 21 5 10 9 9 18 7 18 0 20-7 10-10 7-16 4-20 0-29-4-18-8-17 7-9 3-11-4-14-13-11-12-5zM141-138l1-4 7-5 25-1 9 2 5 5 1 5-6 8-9-3-27 0-5-3z"/>
<path id="t42" fill-rule="evenodd" d="M241-112l-9 11-1 19 10 14 12 6 3 4-8 7-2 0-2-3-17 0 1 27 8 15 7 6 15 5 19-1 16-9 11 9 18 0 2 3-1 18-61 0-3-2 0-6-20-2 0 18 3 5 5 5 6 2 90 0 0-56 5-11 3-26-3-22-9-20-12-12-11-5-19 0-10 4-6 5-3 0-11-9-10-3zM277-59l5 5 2 6 0 11-5 11-7 5-14 0-7-3-5-10 8-2 8-3 7-9 4-9zM298-93l10 0 9 4 10 15 2 10 0 26-3 11-9 8-8 0-7-7 2-12-2-21-9-13-11-4 5-8zM252-97l7 0 7 6 0 8-5 9-7-3-7-9 0-6zM54-116l-10 5-6 9-2 10 2 13-17 11-9 12-5 18 0 24 7 21 15 15 17 6 20 1 11-2 12-6 12-13 6-19-20-3-5 11-11 9-10 2-15-2-12-9-6-15 0-16 3-10 3-7 8-7 12-5 33 0 4-14 0-14-5-13-8-8-7-4zM53-93l6-5 7 0 5 5 2 10-17 1-3-2zM397-147l-14 4-6 4-9 8-5 12 20 6 6-9 9-4 9 0 7 3 9 7 6 13 4 21 0 24-5 21-11 13-8 2-16-1-5-3-6-7-3-13 3-8 5-5 31-2 1-16-3-12-7-8-13-6-12 0-6 2-7 8-4 12 2 10-5 5-3 10-2 17 7 20 12 12 13 5 21 1 19-6 13-14 5-10 4-15 1-38-3-23-4-11-8-13-7-7-11-6-12-3zM383-79l5-8 6 0 5 4 3 6-16 1zM143-144l-11 6-8 7-5 12 20 5 7-8 5-2 15-2 8 3 12 10 5 10 3 15 0 52-2 8-6 6-4 0-5-4-3-5-2-17-18 0 0 11-2 9-6 6-4 0-6-5-2-20 4-9 4-3 34-2 0-20-4-10-14-11-16-1-9 4-4 3-5 12-1 8-10 0 0 15 5 2-4 13 2 24 5 11 6 7 10 3 9 0 7-2 10-13 8 12 8 3 13 2 0 17-48 1-2-2 0-6-20-2-1 12 2 10 4 5 9 3 76 0 0-58 2-5 3-17 0-35-3-20-5-18-12-20-14-9-14-4-15 0zM141-82l5-5 6 0 6 6 0 4-16 1zM534-152l-21 1 0 8-5 11-31 35-6 10-5 15-2 31 4 14 5 10 9 9 19 7 13 0 18-6 11-12 6-15 2-34-8-20-12-13-10-3-12-2 19-22 5-13zM503-87l9 0 11 6 4 7 4 16-2 17-3 10-7 7-8 3-10-1-10-7-4-8-3-12 3-22 4-7 6-6z"/>
<path id="t43" fill-rule="evenodd" d="M142-108l-8 2 3 19 11 1 5 8 3 10 0 27-3 10-6 8-10 0-3 19 4 2 11 0 12-5 7-7 5-10 4-18 0-26-5-20-5-9-10-9zM709-111l-13-5-13 2-11 7-8 13-18 0-10 5-7 6-6 11-2 10 0 28 3 16 9 12 13 5 10 0 7-2 10-13 5 9 11 6 10 0 10-3 9-9 5-14 1-16-3-19-7-10 5-14-1-12zM644-68l9-8 9 0 4 3 1 10 26 0 5 2 4 5 2 9-1 19-6 6-8-1-6-9-1-16-18 0 0 10-5 12-5 4-7-1-5-8-3-13 2-15zM683-93l5-4 10 1 4 5-1 9-18 1-2-2zM342-116l-14 3-11 5-15 15-6 12-5 18-2 35 5 22 7 13 10 11 20 10 23 1 18-6 12-11 7-11 2-12-21-2-4 10-6 6-10 5-14 0-9-4-12-13-5-14-1-30 3-18 7-11 7-7 8-4 20 0 11 7 6 15 0 13-4 14-7 6-8 0-6-8 3-8 5-4 6-1 0-18-38 0 0 18 8 1-3 7 2 17 8 11 13 5 15 0 9-4 7-6 9-18 2-20-3-20-8-12-9-9-16-7zM16-109l-5 6-3 7 1 15 12 14 15 8-9 8-3 0-1-3-17-2 0 23 7 19 10 8 15 5 20-1 13-6 16 7 11 0 14-5 7-7 5-10 4-18-1-35-4-13-6-12-11-10-17-5-17 3-15 10-9-9-12-4-10 2zM61-59l5 8 0 15-3 7-5 5-10 3-10 0-6-2-6-6-2-5 15-4 9-9 6-14 3-1zM79-94l12 0 5 2 6 6 6 17 1 17-2 19-4 7-9 7-5 0-6-4 3-10 0-20-3-9-5-9-14-10 10-11zM29-97l9 0 5 5 1 11-3 7-4 0-11-10 0-9zM222-147l-14 4-6 4-8 7-6 11 20 8 6-9 9-4 10 0 9 4 7 8 5 10 4 20 0 28-4 17-8 12-10 5-18-1-10-9-2-6 0-13 5-7 6-3 26 0 1-3 0-15-5-13-6-6-12-5-10 0-8 2-6 7-4 7 1 16-7 12-3 16 3 15 5 10 10 10 14 6 22 1 20-7 14-16 7-28 0-36-3-20-10-21-10-10-10-5-10-3zM209-83l4-4 6 0 7 5 1 5-16 1zM442-168l-14 4-12 7-7 8-3 8-2 17 3 8 6 9-4 9-1 10 3 10 3 6-8 14-3 15 3 15 5 10 8 9 17 8 11 3 22-1 18-8 6-5 10-15 3-10 0-14-3-10-7-10 0-3 5-10 0-10-5-12 7-11 1-20-6-15-10-9-22-7zM424-52l5-7 8-4 35 0 6 2 5 5 3 5 0 13-4 7-13 9-11 3-15-2-10-5-9-10zM469-97l8 0 6 5 0 9-2 4-18-3 0-7zM426-92l5-5 10 0 5 6 1 9-18 3-3-5zM424-129l3-8 6-6 10-4 16-1 9 1 10 5 5 6 1 12-5 8-12 2-14 6-9-6-15-2-3-6zM553-169l-16 3-15 12-5 10 1 17 9 11 9 5 31 2 6 2 9 8 6 15 1 11-2 29-5 11-9 9-7 2-17-1-8-8-5-12 0-11 2-9 9-8 9 3 7-18-4-3-15-3-10 3-12 12-6 19 0 19 2 11 5 10 8 9 20 8 17 0 14-3 9-5 11-14 6-18 3-25-2-21-6-21-6-9 9-11 1-15-6-13-15-10-15-3zM538-141l9-6 24-1 8 2 7 7 0 6-7 5-7-3-29 0-5-5z"/>
<path id="t44" fill-rule="evenodd" d="M227-89l-8 3-7 8-4 7-2 14 1 19 4 11 8 10 7 3 17 0 8-4 6-6 4-8 2-12-1-22-5-12-9-9-6-2zM234-72l9 6 3 13-3 15-7 6-5-1-5-5-3-14 4-15zM41-112l-15 6-8 7-7 10-8 18-1 27 4 16 6 11 7 8 15 7 19 1 18-7 10-15 2-9 0-20-2-9-9-12-9-4-14 0-7 4-6 6-4 9 0 11 4 9 11 9 17 0-8 7-15 1-5-2-12-14-3-17 1-12 5-12 12-13 7-2 10 0 13 9 14-13-11-9-14-6zM53-59l6 0 5 6-1 6-5 4-5 0-5-5 0-6zM539-108l-11 15-5 21 1 38 4 12 5 9 6 6 19 6 15-1 13-6 15 7 11 0 12-5 8-7 5-10 5-30-3-28-7-18-9-9-12-5-20 1-12 8-13-9-15 0zM597-93l12 1 8 8 4 11 1 20-3 19-5 10-5 3-8 0-5-3 0-24-4-6-5-4 2-10 0-14 3-6zM558-94l6 1 7 7-2 18-8 10 8 15 5-3 4 5 0 10-10 10-11 0-10-10-4-13 0-28 3-11 6-9zM704-116l-15 3-8 4-9 6-9 11-7 16-4 18 0 35 5 19 5 10 17 17 14 5 23 1 16-5 11-8 9-14 2-13-21-2-2 9-9 8-9 4-12 0-12-5-11-14-5-16-1-19 5-26 10-15 7-5 9-2 18 2 10 9 3 10 0 20-3 10-7 5-7 0-6-6 1-9 5-5 6-1 0-18-36 0 0 18 7 1-3 15 1 7 5 9 6 5 10 4 15 0 11-5 12-14 5-17 0-20-7-18-10-12-15-9zM278-107l-5 10 0 14 5 10 11 9-16 20 1 18 3 0 4 4 0 10 6 9 6 2 10 0 13-8 6 6 7 2 10-1 9-6 13 7 11 0 10-3 6-5 6-10 3-9 2-33-2-17-5-14-14-16-12-6-13-2-16 4-13 9-2 0-8-8-7-3-10-2-11 3zM329-66l7 8 2 10 0 14-4 11-6 2-4-3-1-19-16 0-1 19-4 3-4 0-4-3 0-9-2-8 24-25zM347-94l12 0 5 2 8 8 4 7 2 10 0 30-5 14-5 4-7-2-5-6 2-12-1-18-6-16-7-6-12-5 9-8zM294-97l9 0 6 9-10 12-7-5-3-6 0-4zM111-112l-10 13 0 17-10 1 0 18 7 1-4 11 0 23 7 16 7 8 10 3 9 0 10-3 7-10 9 10 9 3 10 0 7-2 10-9 7-17 0-23-3-9-7-11 5-11 0-14-3-6-9-9-11-4-11 2-11 6-12-6-7-2zM116-54l6-8 4-1 40 0 7 6 3 6 1 13-3 11-6 5-7-1-7-10-1-15-16 0-1 15-4 7-5 4-5 0-5-4-3-5-1-12zM153-89l6-8 9 0 5 5 1 5-3 6-17 0zM118-94l4-3 9 0 5 5 1 10-18 1-2-2zM438-144l-9 5-10 10-5 8 20 8 8-9 5-2 15-2 12 5 7 7 5 8 5 20 0 49-4 10-5 5-4 0-7-7-3-19-17 0 0 9-4 12-5 5-5 0-5-5-3-15 3-10 6-7 33-2 1-2 0-18-5-11-10-9-8-2-11 0-7 2-7 7-3 8-2 10-10 0 0 15 5 2-3 11 0 22 2 9 10 13 9 3 9 0 10-3 7-10 10 11 8 2 10 0 8-2 12-10 5-13 2-15-1-45-8-31-6-11-16-14-16-5-15 0zM437-82l4-5 7 0 5 5 1 5-16 1z"/>
<path id="t45" fill-rule="evenodd" d="M511-108l-8 2 3 19 11 1 5 8 2 10 0 27-2 10-6 8-10 0-3 19 4 2 11 0 11-5 8-7 5-10 4-18 0-26-5-20-5-9-10-9zM589-112l-15 6-7 7-8 10-7 18-1 27 3 16 7 11 7 8 15 7 19 1 17-7 10-15 3-9 0-20-3-9-8-12-9-4-14 0-7 4-7 6-3 9 0 11 3 9 12 9 17 0-9 7-15 1-5-2-11-14-4-17 2-12 5-12 12-13 6-2 10 0 14 9 14-13-11-9-14-6zM602-59l6 0 5 6-1 6-5 4-5 0-5-5 0-6zM413-113l-7 6-4 6 0 19-10 1 0 18 7 1-5 15 0 14 3 12 4 8 6 7 12 5 9 0 8-2 10-13 6 10 10 5 10 0 10-3 9-9 6-21-3-25-7-13 5-14-3-16-7-9-14-5-11 2-10 6-9-5-10-3zM417-56l9-7 43 1 5 6 3 8-1 20-7 6-7-1-6-9-2-16-17 0 0 11-4 10-4 4-6 1-6-5-3-6 0-15zM456-93l5-4 10 1 3 5-1 9-17 1-3-3zM418-93l4-4 11 1 4 5 0 9-18 1-2-3zM16-111l-9 14 0 14 4 9 10 8 0 3-17 19 2 18 2 0 4 4 0 10 2 5 10 6 12 0 11-8 9 7 12 1 6-2 7-6 6-14 2-15-2-25-4-9-7-7-13-5 6-5 10-4 13 0 6 2 10 13 4 15 0 25-4 12-15 14-7 13 0 25 5 7 8 5 14 1 11-3 5-7 3-15-16 0-4 8-5 0-4-6 0-7 3-5 20-20 6-20 0-33-4-15-7-14-14-11-10-4-20 0-9 2-12 8-9-9-13-4-11 2zM61-66l5 5 3 12 0 16-2 9-4 3-4 0-3-3-2-19-16 0-1 19-4 3-4 0-3-5 0-8-3-7 24-25zM37-97l4 4 1 5-10 11-3 0-5-5-1-9 5-6zM307-144l-9 5-10 10-5 8 20 8 8-9 5-2 15-2 12 5 6 7 5 8 5 20 0 49-3 10-5 5-4 0-8-7-2-19-18 0 0 9-3 12-5 5-5 0-5-5-3-15 3-10 6-7 32-2 2-2 0-18-5-11-10-9-8-2-11 0-8 2-6 7-4 8-1 10-10 0 0 15 5 2-4 11 0 22 3 9 10 13 9 3 8 0 10-3 8-10 10 11 7 2 10 0 9-2 11-10 5-13 3-15-1-45-8-31-6-11-16-14-17-5-15 0zM306-82l3-5 8 0 5 5 1 5-16 1zM744-167l-28-1-2 55-22-3-18 4-7 4-10 9-10 16-5 16-3 18 2 28 5 18 6 11 7 9 14 9 16 3 15 0 10-2 12-6 10-10 5-10 2-12-21-2-4 10-12 10-18 1-9-4-10-10-3-7-5-20 0-18 5-22 11-15 15-6 14 1 7 4 9 12 0 28-4 7-5 4-7 0-7-6 2-10 5-4 6-1 0-18-36 0-2 18 9 1-4 9 3 17 6 8 14 6 15 0 7-3 10-8 8-15 2-24-3-18-9-13 0-23 15-5 5-5 4-10 0-10-3-7zM732-154l5 1 4 5 0 5-5 5-5-1zM267-166l-8-2-23 0-2 56-21-1-19 9-11-9-14-3-12 4-9 9-2 7 0 10 3 10 9 9 14 8-9 8-2-1 0-2-18 0-1 11 2 17 5 12 8 7 16 6 15 0 9-2 11-8 11 9 17 1 13-5 9-8 5-12 3-12 0-25-5-21-9-15 0-23 15-5 7-10 2-15-3-7zM193-59l6 8 2 9-4 14-10 7-14 0-5-2-5-5-2-6 15-4 7-8 6-12zM214-93l10 0 7 2 7 8 6 16 2 24-3 12-2 5-9 7-8 0-6-5 0-34-4-8-6-6-10-4 3-6 10-10zM167-97l9 0 5 5 1 8-5 10-9-4-6-9 1-6zM252-154l5 1 4 5 0 5-5 5-5-1z"/>
<path id="t46" fill-rule="evenodd" d="M121-108l-8 2 4 19 10 1 5 7 2 8 0 32-3 11-5 5-9 0-4 19 4 2 12 0 10-5 8-7 6-13 3-11 0-33-4-15-5-10-11-10zM328-114l-9 5-6 10-1 13 4 10-13 12-6 13 0 17 6 15 13 12 16 6 12 0 7-2 1 21-34 1-4-5 2-3-20-2 0 19 5 8 8 3 63 0 0-68-18 0-7 6-14 1-7-4-8-10-1-10 7-12 13-5 26 0 4-16-1-15-9-15-14-7zM329-93l7-5 7 1 5 6 0 9-16 1-4-7zM173-111l-9 14 0 14 4 7 13 10 0 3-14 15 0 17 2 0 4 4 1 11 7 9 15 6 21-1 12-6 13 6 14 1 10-2 6-4 10-14 5-23 0-19-3-16-11-23-12-10-14-4-15 3-10 5-9 7-9-10-11-5-12 2zM211-64l10 10 2 12-1 10-8 10-17 1-6-5-2-10-3-7 20-21zM237-94l15 1 9 9 5 12 1 33-5 13-9 7-6 0-6-4 1-29-5-15-9-9-9-3 10-12zM187-98l6 0 8 10-10 12-5-2-5-6 0-9zM16-107l-5 10-2 9 3 10 4 6-9 14-3 14 3 16 5 10 16 14 20 6 23-1 13-5 15-14 5-9 3-10 0-14-3-10-7-10 0-3 5-10 0-12-4-8-7-8-12-4-11 2-11 6-11-6-8-2-11 2zM26-52l5-7 7-4 35 0 6 2 5 5 3 5 0 13-4 7-12 9-12 3-15-2-10-5-8-10zM71-97l7 0 6 5 0 9-2 4-18-3 0-7zM27-92l5-5 10 0 5 6 1 9-17 3-4-5zM522-146l-14 7-10 10-5 8 20 8 8-9 5-2 15-2 10 4 7 6 6 10 4 13 3 21-2 33-3 10-7 6-7 1-6-10 1-9 9-17 0-14-4-10-11-10-8-2-19 0-13 7-8 13-4 15 2 36 7 15 6 5 8 2 10 0 12-7 4 4 10 3 18-1 7-4 8-7 8-20 3-38-5-35-10-22-16-14-17-5zM524-74l5 1 5 5 2 7-9 20 0 14-5 5-6 1-4-3-3-8 0-22 5-15zM672-152l-21 1 0 8-5 11-32 35-6 10-5 15-1 31 4 14 5 10 8 9 19 7 14 0 17-6 12-12 6-15 1-34-7-20-13-13-10-3-11-2 19-22 5-13zM641-87l8 0 12 6 3 7 4 16-1 17-4 10-6 7-9 3-10-1-10-7-4-8-2-12 2-22 4-7 6-6zM421-169l-17 3-11 9-4 9 0 6 8 14-8 5-1 4 11 13 14-7 14-1 12 3 10 9 7 13 2 15-2 30-5 11-9 9-8 2-16-1-12-10-5-13-2-8 2-20 3-9 4-3 3 3-2 24 3 7 10 8 11 0 6-3 7-7 2-9 0-21-5-13-5-4-12-1-7 4-6-4-11 0-13 10-3 8-5 25 1 16 6 21 13 14 18 7 18 0 11-2 11-6 8-8 9-19 3-25-1-27-6-20-6-9 8-11 2-16-5-10-5-5-12-7-15-3zM427-87l5 1 2 10-1 12-4 5-2 0-3-4zM411-142l6-6 22-1 13 6 1 9-4 5-16-5-17 0z"/>
<path id="t47" fill-rule="evenodd" d="M259-114l-6 2-9 10-2 15 4 11-12 10-7 17 0 13 6 17 15 13 14 5 12 0 7-2 1 21-34 1-2-2 0-6-20-2 0 18 7 10 6 2 63 0 0-68-16 0-9 6-13 1-10-5-6-10-1-6 2-9 8-7 10-4 26 0 4-14 0-14-6-15-13-8zM261-94l5-4 7 1 5 6 1 8-2 2-14 0-4-3zM54-116l-10 5-6 9-2 10 2 13-17 11-9 12-5 18 0 24 7 21 15 15 17 6 20 1 11-2 12-6 12-13 6-19-20-3-5 11-11 9-10 2-15-2-12-9-6-15 0-16 3-10 3-7 8-7 12-5 33 0 4-14 0-14-5-13-8-8-7-4zM53-93l6-5 7 0 5 5 2 10-17 1-3-2zM448-144l-10 5-9 8-5 12 20 5 7-8 5-2 15-2 8 3 10 9 7 11 3 16 0 49-3 9-8 7-6 0-4-4-1-13 9-18 0-16-3-8-6-7-9-5-22-1-10 3-12 14-5 21 2 32 5 12 7 8 9 3 11 0 11-7 4 4 10 3 18-1 11-6 5-6 7-18 3-14 0-28-5-33-10-21-14-13-19-6-15 0zM454-74l9 3 3 5 0 7-9 20 0 12-5 5-5 1-5-3-1-4-2-24 4-15 6-6zM143-144l-11 6-8 7-5 12 20 5 7-8 5-2 15-2 8 3 12 10 5 10 3 15 0 52-2 8-6 6-4 0-5-4-3-5-2-17-18 0 0 11-2 9-6 6-4 0-6-5-2-20 4-9 4-3 34-2 0-20-4-10-14-11-16-1-9 4-4 3-5 12-1 8-10 0 0 15 5 2-4 13 0 18 4 14 9 10 10 3 9 0 7-2 10-13 4 8 9 6 13 1 9-2 11-10 5-11 3-13 0-39-3-20-5-18-12-20-14-9-14-4-15 0zM141-82l5-5 6 0 6 6 0 4-16 1zM602-152l-20 0-1 10-4 9-33 36-10 20-2 13 0 21 4 16 6 11 6 7 15 7 20 1 16-6 10-10 8-16 2-28-6-23-12-15-8-4-15-3 16-20 7-13zM572-87l9 0 7 4 8 11 2 10 0 16-2 10-10 13-8 2-10-1-6-4-5-6-4-11 1-28 9-12zM351-169l-19 5-9 7-4 11 2 8 6 10-9 7 11 15 14-7 15-1 11 3 12 10 7 22 0 22-2 14-7 12-13 9-18-1-5-3-10-12-2-9 0-25 2-9 5-5 3 3 0 27 5 8 7 4 11 0 10-8 5-19-1-16-4-9-8-6-10 0-7 4-6-4-10 0-12 9-7 12-2 10 0 27 4 16 3 7 12 13 18 7 19 0 20-7 9-9 9-17 3-20 0-27-5-22-8-14 8-10 3-11-5-15-11-10-13-5zM358-87l5 3 1 16-1 5-4 4-3-3-2-4zM341-141l7-7 23-1 8 3 4 4 0 9-4 4-16-5-17 0z"/>
<path id="t48" fill-rule="evenodd" d="M374-112l-15 6-16 19-6 18-1 22 3 18 5 10 9 10 15 7 19 1 10-2 6-4 11-15 3-9 0-22-3-9-8-11-9-4-13 0-11 6-7 14 0 9 2 7 8 9 5 3 17 0-11 8-13 0-11-8-6-12-1-23 5-14 12-13 6-2 10 0 9 4 5 5 14-13-9-7-12-7zM387-59l6 0 5 5 0 6-5 5-6 0-5-5 0-6zM41-112l-15 6-8 7-7 10-8 18-1 27 4 16 6 11 7 8 15 7 19 1 18-7 10-15 2-9 0-20-2-9-9-12-9-4-14 0-7 4-6 6-4 9 0 11 4 9 11 9 17 0-8 7-15 1-5-2-12-14-3-17 1-12 5-12 12-13 7-2 10 0 13 9 14-13-11-9-14-6zM53-59l6 0 5 6-1 6-5 4-5 0-5-5 0-6zM767-112l-11-4-17 3-10 9-5 10-20 0-12 7-5 6-6 15-2 25 4 22 4 7 6 6 13 5 8 0 12-5 7-8 9 11 7 2 10 0 8-2 9-8 3-6 4-14 0-20-2-10-8-11 5-11 0-14-2-6zM704-69l8-7 10 0 2 3 3 10 29 1 7 11 1 10-3 15-5 4-4 0-8-6-3-13 0-7-17 0-1 12-4 9-6 5-5 0-6-6-3-9 0-20zM741-89l6-8 9 0 5 5 1 5-4 6-16 0zM462-116l-9 3-10 10-2 6 0 14 3 7-8 7-9 13-3 13 2 10 7 16 8 8 13 7-3 9 0 9 3 10 9 8 8 4 17 0 10-5 10-10 0-2-12-9-9 6-10 1-6-6 0-9 5-6 15-6 8-10-15-11-10 6-12 1-8-4-6-6-2-6 0-9 3-7 8-7 9-2 26 0 1-4 1-26-3-10-14-11zM458-93l6-5 5 0 5 4 3 5 0 7-16 1-4-5zM102-112l-9 10-2 14 2 10 4 5 11 7-15 19 0 16 6 3 4 16 6 6 14 5 21-1 13-6 16 7 16-1 8-4 9-8 3-8 4-16 0-31-5-19-6-11-13-12-16-5-15 3-19 12-10-11-8-4zM132-64l9 1 6 7 2 8 0 14-1 5-5 6-5 2-14 0-7-6-4-17zM164-94l12 0 5 2 6 6 6 17 0 32-4 10-8 8-10-2-4-3 2-24-3-15-10-13-9-3 11-13zM113-98l9 1 5 6 0 5-9 10-4-1-7-9 0-6zM551-161l-10 9-7 15 0 15 5 10-16 11-5 7-6 16 0 21 9 20-9 13-4 20 16 3 8-3 19 3 18-1 18-10 10-12 2 0 17 18 7 4 18 1 11-3 10-9 7-23 0-37-6-19-6-6-6-3-13 0-7 4-5 6-4-6-8-4-12 2-8 6-15-15 12-13 8-17-20 0-8 14-8 7-7-7 0-9 2-5 6-5 15-5 18 0 10 4 4 5 0 8-3 7 16 7 7-12 0-14-4-9-5-6-8-5-17-5-25 0-11 2zM539-67l8 1 5 7-1 8-8 5-6-1-5-6 0-8zM608-79l5 0 4 5 1 27 16 0 2-29 3-3 4 0 3 2 2 6 0 33-4 11-5 5-8 1-7-2-13-15-7-1-2-3 2-14 0-18zM547-92l15 0 9 5 7 9 4 11 0 23-4 11-7 9-14 5-25-3 5-6 7 0 13-4 11-12 3-9-2-13-8-12-13-5-11 2-4-1 5-6zM328-167l-29-1-1 55-22-3-18 4-7 4-10 9-10 16-5 16-3 18 1 28 5 18 7 11 7 9 14 9 16 3 15 0 10-2 11-6 10-10 5-10 3-12-21-2-4 10-13 10-17 1-9-4-10-10-4-7-5-20 0-18 5-22 12-15 15-6 13 1 8 4 9 12 0 28-4 7-5 4-8 0-6-6 1-10 5-4 7-1 0-18-37 0-1 18 9 1-4 9 3 17 6 8 14 6 15 0 7-3 10-8 8-15 2-24-4-18-8-13 0-23 15-5 5-5 3-10 0-10-2-7zM316-154l5 1 3 5 0 5-5 5-5-1z"/>
<path id="t49" fill-rule="evenodd" d="M511-106l0 18 18 0 2 2-23 32-5 15 1 18 7 12 11 7 21 0 10-6 8-16 0-10-18 0-1 8-9 5-9-6-1-11 8-18 23-31 0-19zM334-108l-7 2 4 19 10 1 5 7 2 8 0 32-4 11-5 5-8 0-4 19 4 2 12 0 10-5 8-7 6-13 2-11 0-33-3-15-5-10-12-10zM41-112l-15 6-8 7-7 10-8 18-1 27 4 16 6 11 7 8 15 7 19 1 18-7 10-15 2-9 0-20-2-9-9-12-9-4-14 0-7 4-6 6-4 9 0 11 4 9 11 9 17 0-8 7-15 1-5-2-12-14-3-17 1-12 5-12 12-13 7-2 10 0 13 9 14-13-11-9-14-6zM53-59l6 0 5 6-1 6-5 4-5 0-5-5 0-6zM391-109l-8 12 0 14 5 11-4 4-6 16 0 21 9 18 9 7 13 5 19-1 13-6 15 7 12 0 14-6 6-6 6-14 4-27-2-27-8-18-9-9-12-5-18 0-10 4-7 6-9-9-12-4-10 2zM408-63l13 1-8 14 10 11 9 0 0 9-6 6-17 1-11-8-2-8 0-10 3-10zM457-94l7 1 10 10 4 16-1 30-4 10-10 8-4 0-8-7 0-17-7-9-7-4 7-30 5-6zM399-91l5-6 10 0 5 5 2 10-18 1-4-5zM604-147l-18 8-9 8-5 12 20 6 4-6 11-7 9 0 7 3 8 6 7 14 4 20 0 26-3 14-6 12-7 7-8 2-10 0-7-2-9-9-3-8 2-20 6-8 6-2 6 3 7-19-4-2-16-3-10 4-10 10-4 7-4 20 1 14 7 18 10 11 12 6 24 1 14-3 6-4 9-9 7-14 5-23 0-32-5-26-10-19-7-7-12-6-10-3zM263-147l-14 4-6 4-7 7-7 11 20 8 7-9 8-4 10 0 9 4 8 8 5 10 3 20 0 28-3 17-9 12-10 5-18-1-10-9-2-6 0-13 5-7 6-3 26 0 2-3 0-15-5-13-7-6-12-5-10 0-8 2-6 7-4 7 2 16-8 12-2 16 2 15 5 10 10 10 14 6 22 1 20-7 14-16 8-28 0-36-4-20-10-21-10-10-10-5-10-3zM251-83l3-4 7 0 6 5 1 5-16 1zM212-166l-8-2-23 0-2 55-21 1-12 9-12-10-13-3-12 3-8 7-5 13 0 7 5 14-8 13-2 22 5 18 11 12 15 6 14 0 20-7 12 7 14 0 11-5 9-8 7-22 2-33-4-19-10-16 0-18 15-5 6-7 3-17-4-10zM118-62l16 0-8 13 10 12 7-1 3 2 0 5-5 8-5 2-14 0-9-6-4-7 0-15 3-7zM169-94l10 2 7 6 5 14 1 15-3 23-3 8-10 7-7-2-5-5-1-18-6-8-6-4 6-28 6-8zM113-92l5-5 9 0 6 6 0 9-17 1-3-3zM197-154l5 1 4 5 0 5-5 5-5-1z"/>
<path id="t50" fill-rule="evenodd" d="M443-108l-7 2 2 19 11 1 5 8 3 10 0 27-3 10-6 8-10 0-2 19 3 2 12 0 11-5 7-7 5-10 4-18 0-26-5-20-5-9-10-9zM277-112l-15 6-8 7-7 10-8 18-1 27 4 16 6 11 8 8 15 7 18 1 18-7 10-15 2-9 0-20-2-9-9-12-9-4-13 0-8 4-6 6-4 9 0 11 4 9 11 9 18 0-9 7-15 1-5-2-11-14-4-17 1-12 5-12 13-13 6-2 10 0 14 9 13-13-11-9-14-6zM289-59l7 0 5 6-2 6-5 4-5 0-5-5 0-6zM22-108l-8 7-5 10-5 30 3 28 7 19 12 10 13 3 17-1 11-6 10 6 17 1 13-5 11-15 5-20 0-31-5-20-5-9-10-8-10-4-16 0-11 5-4 4-8-7-7-2-14 0zM79-93l13 1 6 6 5 15-1 35-4 9-6 6-9 0-5-3 0-23-9-11 3-25 4-8zM39-94l9 2 5 6-2 20-8 8 9 15 5-3 4 7-2 11-8 7-14-1-6-6-5-14-2-16 3-21 4-9zM539-116l-15 3-8 4-9 6-9 11-7 16-4 18 0 35 5 19 5 10 17 17 14 5 23 1 16-5 11-8 9-14 2-13-21-2-2 9-9 8-9 4-12 0-12-5-11-14-5-16-1-19 5-26 10-15 7-5 9-2 18 2 10 9 3 10 0 20-3 10-7 5-7 0-6-6 1-9 5-5 6-1 0-18-36 0 0 18 7 1-3 15 1 7 5 9 6 5 10 4 15 0 11-5 12-14 5-17 0-20-7-18-10-12-15-9zM346-113l-9 7-5 13 1 12 5 9-9 13-2 12 0 9 5 16 12 14 20 9 19 1 14-3 11-5 14-12 5-10 2-11-2-20-9-13 6-12-2-18-8-9-13-5-12 2-10 6-8-5-10-3zM347-49l2-7 5-5 7-2 35 0 6 2 5 5 2 7 0 10-2 6-11 10-14 4-8 0-16-5-9-9-2-6zM391-96l10-1 5 4 1 9-4 5-16-3 0-9zM349-92l5-5 9 0 6 6 0 9-16 3-4-5zM173-169l-16 3-13 10-2 7 0 8 7 13-10 7 13 15 4-3 10-4 13-1 14 5 8 6 7 15 3 17-2 19-3 14-10 12-9 4-13 0-8-4-8-7-5-11-1-24 2-11 5-7 4 4-1 24 2 6 5 5 5 3 12 0 7-4 4-5 4-11 0-19-7-15-7-4-9 0-6 4-6-4-12 0-8 5-7 9-3 10-3 27 5 24 4 8 9 10 8 5 13 3 17 0 14-3 9-5 9-10 7-18 4-31-1-18-5-18-8-13 9-12 1-14-2-8-5-6-14-9-16-3zM179-87l3 0 4 5 0 18-4 5-5-3zM163-143l6-5 23-1 7 2 7 6 0 5-4 7-16-5-19 0-4-5z"/>
<path id="t51" fill-rule="evenodd" d="M253-109l-7 13 1 15 11 14 14 8-9 8-2-1 0-2-18 0 0 23 6 17 8 7 17 6 19-1 15-9 5 5 10 5 16 0-1 20-60 0-4-3 0-5-18-2-2 15 3 8 5 5 6 2 91 0 0-57 4-8 3-13 0-25-5-22-7-11-10-10-13-6-23 1-14 9-8-9-13-4-10 2zM293-59l6 8 2 9-4 14-10 7-14 0-5-2-5-5-2-6 15-4 7-8 6-12zM314-93l10 0 7 2 7 8 6 16 2 24-3 12-2 5-9 7-8 0-6-5 0-34-4-8-6-6-10-4 3-6 10-10zM267-97l9 0 5 5 1 8-5 10-9-4-6-9 1-6zM126-109l-8 12 0 14 5 11-4 4-6 16 0 21 9 18 9 7 13 5 19-1 13-6 15 7 12 0 14-6 6-6 6-14 4-27-2-27-8-18-9-9-12-5-18 0-10 4-7 6-9-9-12-4-10 2zM143-63l13 1-8 14 10 11 9 0 0 9-6 6-17 1-11-8-2-8 0-10 3-10zM192-94l7 1 10 10 4 16-1 30-4 10-10 8-4 0-8-7 0-17-7-9-7-4 7-30 5-6zM134-91l5-6 10 0 5 5 2 10-18 1-4-5zM412-147l-10 3-11 6-13 17 20 8 9-10 7-3 9 0 9 4 7 8 4 6 5 20-1 42-6 14-7 6-8 4-13 0-7-2-8-8-2-6 0-11 3-8 8-4 26 0 1-2 0-18-5-11-10-9-7-2-11 0-9 4-8 10 0 18-5 7-3 11 0 19 5 13 11 13 14 6 22 1 20-7 10-10 6-11 5-20 0-42-6-26-12-19-9-6-10-4zM399-82l5-5 7 0 5 5 1 5-16 1zM44-147l-10 3-8 5-9 8-5 12 20 5 10-10 15-2 14 9 5 8 3 11 3 17 0 22-4 18-4 8-8 9-8 2-11 0-10-4-8-7-5-13 0-28 4-9 4-3 2 3-1 24 3 7 5 5 5 3 11 0 6-3 6-7 3-9 0-21-5-13-9-5-9 0-6 4-6-4-11 0-13 10-7 20 0 29 6 21 12 14 19 7 18 0 11-2 11-6 8-8 5-9 5-15 2-20-1-32-5-21-6-13-9-10-18-9zM51-87l5 1 2 10-1 12-4 5-2 0-3-4zM549-152l-20 0-1 11-4 8-31 35-11 22-3 14 0 16 4 18 8 14 5 5 11 6 10 2 14 0 12-3 13-10 8-18 3-12 0-19-3-13-5-11-11-12-7-4-15-3 17-21 6-16zM519-87l9 0 6 3 8 8 4 12 0 21-3 9-6 8-11 5-13-2-7-8-5-13 0-19 3-13 9-8z"/>
<path id="t52" fill-rule="evenodd" d="M263-67l0 13 54 0 0-14zM131-134l0 63 17-3 10 1 13 6 6 8 4 8 0 17-7 12-12 9-14 1-10-2-9-5-6 12 15 6 13 3 20-3 12-7 5-5 6-11 4-15-1-15-6-15-10-10-12-5-23-3 0-32 2-3 41 0 0-12zM53-137l-7 1-13 7-10 11-4 7-5 19-1 38 4 22 7 18 17 13 21 3 17-8 8-7 6-11 6-27 0-37-2-14-9-20-9-9-7-3zM51-123l15 1 8 8 5 10 4 16 1 20-3 32-7 14-12 10-11 0-13-10-6-15-3-15 0-32 3-15 6-14z"/>
<path id="t53" fill-rule="evenodd" d="M146-126l-10 4-5 6 7 9 5-4 9 0 7 8 4 7 4 28-1 24-5 17-7 8-11 1-5-4-9 10 10 8 12 1 11-4 9-9 5-8 6-28 0-26-4-20-6-14-10-10zM414-131l-20 2-15 7-12 13-4 6-9 24 0 31 4 15 6 12 13 13 10 5 14 2 15-1 12-6 11-14 5-16 0-19-3-14-9-11-10-5-13 0-13 9-7 14 2 11 3 7 9 8 9 2 10-1 7-5 2 1-3 12-7 8-10 5-14 0-11-5-10-11-7-16-1-24 8-24 17-17 14-4 9 1 10 5 7 8 10-9-12-12zM411-73l8 0 9 9-1 10-8 6-8 0-8-8 0-10zM1462-131l-11-3-10 0-8 2-12 11-5 13-12-3-15 3-8 5-9 10-8 20 0 37 8 23 9 9 12 3 13-1 12-10 5-10 5 11 5 5 14 5 11-1 8-4 7-7 8-21 0-23-5-19-8-10 6-13 0-14-3-9zM1393-93l5-3 13 0 6 4 2 13 30 0 7 2 5 5 5 14 1 14-3 15-8 11-13 1-9-7-5-17 0-12-12 0-4 24-9 11-12 1-8-6-5-13-1-27 3-13 5-10zM1438-119l14-2 9 8 1 12-5 9-28-2 2-18zM1214-129l-10 12-1 16 6 14 17 13-23 28 3 12 6 3 0 14 4 10 7 5 11 1 8-2 9-11 7 10 10 3 10-1 11-9 7 7 12 3 13-1 7-4 9-8 7-20 3-24-3-31-7-22-5-7-15-13-13-3-11 0-10 2-15 9-7 7-10-12-10-5-14-1zM1271-82l8 10 4 13 0 26-2 9-7 7-10 0-6-9-1-18-13 0 0 13-2 9-5 5-9 0-5-7 0-14-4-9 32-35 5-2 8 0zM1288-118l13-1 13 6 9 10 6 16 3 24-1 21-7 19-8 7-14-1-6-7 2-14 0-19-2-14-5-12-9-9-18-6 13-14zM1227-121l9 0 5 3 7 11-1 8-14 15-10-5-4-4-3-9 2-12zM208-129l-10 12-1 15 2 9 5 7 17 10-20 24-3 6 3 10 3 0 4 4 0 10 5 10 14 9 14 2 15-1 12-5 4-4 12 8 12 2 12-1 13-6 10-14 6-24-1-41-5-17-8-14-11-10-13-5-18 0-8 2-10 7-10 10-2-2-4-8-13-9-13-1zM244-81l8 0 6 3 8 9 3 11 0 21-2 8-10 11-8 2-12 0-8-2-7-8-3-16-5-5 24-29zM283-118l14 0 7 4 9 8 8 18 2 24-2 26-8 15-11 7-13 0-7-5-1-3 3-13 0-19-3-16-4-7-10-10-14-4 18-19zM219-121l14 2 6 6 3 6-1 8-13 15-10-4-6-6-3-7 0-10zM59-171l-12 3-11 5-10 9-8 13 15 5 3-6 7-7 10-5 21 1 8 4 9 8 8 20 4 24 0 30-6 28-5 8-13 12-7 2-18 0-12-5-10-10-5-10-4-15 0-24 4-16 9-9 7 4-1 31 5 13 7 5 13 1 6-2 5-5 5-13 1-20-5-17-5-7-5-2-11 0-6 4-10-4-9 0-9 4-6 6-5 10-4 16 0 29 3 12 7 18 13 14 17 7 19 1 9-1 15-6 11-10 6-10 7-18 2-15 0-45-7-31-12-19-16-11zM61-107l5 1 6 10 0 22-6 10-7 0-5-7 2-32zM1183-193l-6-3-24 0-1 65-9-3-19 1-15 7-12 10-4-7-6-6-14-5-9 0-12 5-9 10-2 10 2 16 9 11 12 6-23 29 3 14 5 2 2 18 7 10 9 2 10-1 6-4 5-8 8 10 10 3 13-2 8-8 9 8 16 2 6-1 11-6 8-10 6-21 1-33-6-31-5-10-7-9 0-20 2-2 9 0 7-4 8-10 1-21-2-7zM1108-82l8 8 5 13 1 17-1 12-4 10-5 5-10 0-6-9-2-18-12 0 0 16-3 6-7 6-6-1-4-4-1-18-4-8 31-35 5-2 9 0zM1126-118l12-1 13 5 8 8 8 18 2 16-1 31-6 18-9 7-14-1-6-7 3-12 0-25-5-18-4-7-11-8-14-4 10-11zM1064-121l9 0 5 3 8 10 0 7-14 17-9-4-9-10 0-14 4-5zM1166-184l10 1 6 9-1 12-9 6-5 0-3-2zM953-196l-22 8-13 11-7 18 1 16 4 7-18 8-9 12-1 9 5 18 10 10 9 3-23 28 0 6 3 9 5 0 2 2 2 12 2 5 11 10 8 2 16 1 14-2 14-8 8 8 17 2 7 8 3 16-4 10-6 8-17 7-20 1-13-2-10-5-8-8-4-7 0-5-15 0 0 6 5 14 13 12 24 9 27 0 14-4 12-6 9-9 5-8 3-13-2-12-7-15 9-8 5-7 5-14 2-21-1-27-5-20-8-13-8-9 8-10 5-13 0-17-3-10-10-11-14-8-16-4zM943-81l6 3 7 6 3 8 3 16-1 12-4 9-9 9-7 2-18-1-10-9-1-12-8-8 30-33zM974-117l10 0 14 8 8 10 5 13 2 24-1 20-6 18-12 8-13 0-9-7 4-11 0-25-4-14-10-14-6-4-10-2 17-19zM912-121l12 2 8 7 1 11-14 17-8-4-8-8-1-3 0-12zM994-173l10 12 0 14-3 9-8 7-21-1-8 3-18 13-12-13-7-14-1-14 3-9 9-8 16-7 22 0zM862-194l-28-2-1 62-11 3-8 7-11-8-7-2-10 0-13 5-9 10-2 8 2 17-11 1 0 14 11 1-3 5-4 11-1 25 6 21 7 9 9 5 13 1 11-3 6-7 6-11 5 11 9 8 9 2 12-1 8-4 11-15 4-16 0-19-4-16-9-14 7-15 0-11-4-10-15-12 0-8 2-2 9 0 8-4 5-5 3-9-1-21zM776-71l6-6 7-2 50 0 8 2 6 8 4 12 0 21-4 12-9 7-12-1-9-11-2-12 0-12-14 0 0 14-5 15-9 7-12-1-7-6-3-12 0-20zM829-119l13-2 9 7 2 5 0 7-5 10-27-2 0-15zM778-116l8-5 12 2 9 10 1 15-29 1-3-5-2-6zM847-184l10 1 6 9-1 12-9 6-5 0-2-2zM678-196l-14 5-13 10-10 20 0 14 5 14 8 10 9 5-2 6 0 11 5 10-17 15-5 9-2 9 0 20 5 14 7 10 10 7 12 5-4 16 1 8 5 10 13 10 20 2 17-8 9-12-11-7-9 10-6 2-13 0-9-7-2-6 0-9 4-8 18-5 8-5 9-10-12-8-12 10-8 2-16-1-7-4-10-10-3-5-1-19 6-12 10-9 6-2 37 0 3-17-2-21 12-7 7-8 3-7 3-15-1-9-5-11-14-14-19-8zM676-114l7-7 14 2 7 8 2 15-28 3-5-10zM659-167l8-7 15-7 19 0 12 5 10 10 4 13-1 9-4 7-11 9-4 0-5-4-9-2-14 1-8 5-12-10-3-9 0-12zM574-196l-23 0 0 65-3 2-14-5-17 0-21 7-15 14-13 25-5 29 0 25 8 32 8 15 12 11 20 9 27 0 16-6 9-6 8-9 6-13 1-8-14-3-7 15-8 8-11 6-21 1-16-7-14-17-6-17-3-28 4-28 6-17 5-7 13-11 8-4 12-1 10 1 11 5 11 11 6 15 2 13-5 25-12 11-11 1-6-2-5-7-3-8 5-12 4-3 10-4 0-13-39 0 0 13 15 1-5 5-3 9 0 14 6 12 14 9 16 1 9-2 11-8 6-9 5-12 3-28-4-17-6-13-7-7 0-25 17-4 7-7 4-14-3-16-6-8zM564-186l12 4 3 6 0 12-6 7-4 1-6-1z"/>
<path id="t54" fill-rule="evenodd" d="M137-123l0 11 29 1-22 40-7 25 0 18 2 9 5 8 10 8 8 2 17-1 10-6 4-5 5-13 1-13-11 0 0 7-4 10-10 9-10 0-10-5-3-5-3-8 0-10 6-23 27-47 0-12zM1331-131l-20 9-15 18-9 23-1 28 2 14 9 20 11 11 10 5 20 2 11-2 9-5 8-8 5-8 3-13 0-22-3-12-4-6-14-9-12 0-13 8-6 11 0 10 6 13 13 7 10 0 6-2 6-7 1 4-6 18-7 7-9 4-15 0-11-5-10-10-5-10-4-18 0-15 2-12 8-18 9-10 10-6 10-2 12 1 8 4 8 8 9-7-5-6-14-9-10-3zM1344-76l10 3 7 7-2 12-8 7-12-1-5-5-2-6 1-8 8-7zM1507-126l-11 15-7 25 0 42 4 16 6 12 12 10 17 5 15-1 6-2 12-10 6-15 1-17-5-13-10-9 3-9 0-19 5-12 8-9 10-4 7 0 11 4 11 14 5 21 0 18-19 0-11 10-5 12 1 24 5 10 8 5 11 1 13-2 5 3 7-6-4-6-2-11 2-20 0-43-3-17-9-17-13-8-11-3-10 0-12 4-13 10-10-10-11-4-11 0zM1601-56l5 0 6 4 0 36-8 4-8-1-5-5-3-8 0-13 3-8 5-6zM1526-121l11 3 9 10-2 29-2 7-9 8 4 8 2 0 5-3 4 0 5 5 4 11-3 16-10 11-5 3-13 0-12-5-8-11-5-20 0-33 5-21 10-14zM1742-131l-13-3-11 1-14 9-7 17-5-2-18 0-12 6-9 10-7 21 0 36 5 19 3 6 8 7 11 3 13-1 12-10 5-11 5 11 13 10 17 0 8-4 7-7 8-23 0-20-4-16-9-14 6-15 0-12-6-13zM1671-94l7-4 14 0 6 4 4 12 32 1 9 8 5 12 1 23-2 11-9 11-5 3-7 0-9-5-6-11-3-23-10 0-2 23-8 12-7 4-5 0-8-3-5-5-6-18 0-28 4-14zM1717-121l5-2 11 0 10 9 1 12-6 10-29-1 0-19zM1178-133l-14 9-5 11 0 12 8 17-10 11-4 11-1 13 4 18 3 8 12 12 16 9 10 3 27 0 10-3 7-4 11 12 2 8 0 13-3 9-9 8-19 8-22 0-18-6-10-10-4-13-11 0 1 13 5 8 9 9 11 6 14 4 34-1 19-9 10-10 5-11 1-10-3-16-6-12-6-5 10-12 6-16 0-23-6-15-8-7 8-19-1-14-7-10-11-6-17 0-12 6-3 5-3-4-12-7zM1169-71l7-6 8-4 57 2 11 8 5 13 0 15-3 7-10 14-15 9-25 2-18-5-14-11-8-15 0-17zM1224-121l5-2 10 0 10 7 3 12-3 8-6 7-6-3-21-1 0-15 2-6zM1171-114l10-9 11 0 5 2 7 9 2 19-22 1-7 3-4-4-4-9zM1029-134l-23 8-12 10-7 12-8 18-3 20 0 38 6 25 10 17 9 9 17 9 30 1 15-5 15-12 6-10 4-14-11-1-6 13-14 13-10 4-23 0-15-8-11-12-5-10-5-19-1-28 6-33 10-18 6-6 10-6 10-3 14 0 16 6 12 12 7 17 0 24-5 16-11 11-14 2-5-3-9-10 0-11 8-11 11-5 0-10-37 0 1 10 16 1-5 4-4 6-2 11 1 8 5 11 5 5 10 5 23-1 12-9 10-20 3-13 0-17-3-13-9-17-12-13-18-7zM886-169l-23 11-7 7-5 10 11 4 11-14 16-7 14 0 9 2 9 5 8 9 9 16 6 29 2 39-4 25-4 9-11 10-14 1-10-6-4-8 0-14 15-30-1-20-6-11-10-6-23-1-10 3-7 7-6 10-4 11-3 17 0 20 4 20 5 10 6 7 7 2 15 0 5-2 6-8 7 6 9 4 20 0 9-4 9-7 5-9 5-16 1-54-6-35-13-25-12-11-18-6zM889-98l5 2 8 10 0 17-14 26-1 21-5 6-5 3-8 0-7-6-5-15 1-40 9-18 10-6zM409-169l-18 8-9 9-5 11 11 4 4-7 9-9 12-5 11 0 17 6 8 9 7 11 6 26 1 30-4 28-3 11-7 10-6 6-12 7-19 1-9-3-9-5-7-8-5-15 0-14 5-13 7-6 5-1 34 0 0-18-6-13-10-8-16-2-13 5-7 8-2 17 3 7-5 5-5 11-1 25 7 20 9 10 15 8 20 2 15-2 11-5 10-9 8-11 6-18 2-13 0-47-8-35-8-12-6-6-13-8-8-2zM389-101l8-7 11-1 10 6 4 6 1 8-31 2-3-2zM52-169l-19 8-9 9-5 11 12 4 2-6 10-10 13-5 11 0 16 6 9 9 9 19 5 33-2 32-5 20-3 7-12 13-11 5-17 1-7-1-11-7-6-6-8-14-3-16 0-25 2-12 9-13 9 0 3 8-2 25 4 13 8 8 15 0 9-8 5-17 0-18-5-13-6-7-6-2-8 0-9 5-5-4-10-1-10 4-6 6-7 19-2 32 7 26 7 13 9 9 12 6 20 2 15-2 17-9 8-10 7-12 5-18 1-54-9-35-7-12-8-8-20-8zM58-108l9 1 6 11-1 25-5 8-5 1-8-4-2-7 2-25-1-5zM773-109l-10-8-15 0-10 8-2 6-10-13-17-1-5 3-7 10-4-7-15-13 13-14 7-11 5-13 1-11-11 0-1 10-4 9-9 12-13 14-7-3-15 0-11 3-11 6-13 14-6 16 0 24 5 15 11 14-8 11-5 24 8 2 10-5 9 0 13 4 23-1 15-8 8-7 7-13 4 0 4 4 10 17 9 7 10 2 15 0 13-5 5-4 8-11 5-24-1-42zM631-83l10 0 5 2 5 5 2 7 0 8-2 5-13 9-6 0-8-4-7-11 0-7 2-5 8-8zM714-106l8 2 6 8 1 37 12 0 1-35 9-12 8 2 8 10 2 11-1 47-6 14-10 8-13 1-8-3-9-7-8-14-3-4-8-2 1-48 3-8zM662-118l14 7 6 7 7 13 4 29-5 25-5 9-7 7-9 5-46 0-2-5 4-7 6-6 18-4 11-9 5-10 1-10-2-10-9-11-10-5-16 1-5 3-8 8-1-7 3-9 12-15 9-5 15-2zM564-176l-11 0-4 17-15 20-26 27-11 19-5 16-1 24 5 22 7 14 8 8 16 7 22 0 17-7 12-15 6-17 3-16-1-22-5-17-7-10-10-8-11-5-22 0 25-29 7-16zM536-109l11 0 11 5 11 13 5 18 0 20-3 16-4 8-9 10-14 6-12 0-15-8-10-15-4-13 0-20 8-23 13-14zM1441-196l0 60-15 5-9 9-3 5-1 13 5 15-6 3-13 14-5 13-1 11 1 11 9 19 9 9 16 7-4 15 2 9 6 11 14 10 13 1 10-2 9-5 10-13-9-6-10 11-5 3-15 0-10-9-2-5 0-12 4-7 13-2 10-5 13-13-8-6-2 0-8 8-7 3-20 2-10-4-9-8-5-7-2-9 1-17 10-15 15-8 35 0 2-9-1-25-4-7-6-6-7-4 0-10 13-3 8-5 6-13-1-18-3-5-10-7zM1426-116l8-7 15 1 8 8 2 6-1 14-29 1-3-4-3-9zM1451-187l11 3 6 8-1 15-8 7-10-2zM274-194l-13 5-8 5-9 10-5 13 0 13 5 12-17 7-6 6-4 7 0 18 4 9 7 7 11 6 0 3-21 25-1 6 2 6 8 4 1 13 3 5 7 7 8 4 12 2 16-1 18-9 5 5 9 4 20 0 8-4 8-6 7-14 4-16 0-36-4-19-7-16-10-11 12-18 3-12-1-10-5-12-17-13-21-7zM274-82l9 6 6 14 2 24-5 14-13 10-24 0-6-4-4-5-2-15-6-8 30-35zM299-119l15 0 10 5 9 10 6 16 3 16-1 33-7 16-12 10-15 0-9-8 4-13 0-24-3-11-3-9-9-10-8-4-10-1 20-21zM238-123l14 1 5 4 5 9-1 10-14 16-10-4-10-12 0-13 2-5zM323-176l8 8 3 9 0 8-5 13-7 7-20-1-16 6-14 13-5-10-11-14-4-9 0-16 6-10 13-9 16-3 20 1z"/>
<path id="t55" fill-rule="evenodd" d="M369-116l-13 3-12 5-15 15-6 12-5 18-1 35 5 22 6 13 10 11 20 10 24 1 17-6 13-11 6-11 3-12-22-2-3 10-7 6-10 5-13 0-9-4-13-13-5-14-1-30 4-18 6-11 8-7 7-4 20 0 11 7 7 15 0 13-4 14-8 6-7 0-6-8 2-8 5-4 6-1 0-18-37 0 0 18 7 1-2 7 1 17 9 11 12 5 15 0 9-4 8-6 8-18 3-20-4-20-7-12-9-9-16-7zM42-116l-9 3-10 10-2 6 0 14 3 7-8 7-9 13-3 13 2 10 7 16 8 8 13 7-3 9 0 9 3 10 9 8 8 4 17 0 10-5 10-10 0-2-12-9-9 6-10 1-6-6 0-9 5-6 15-6 8-10-15-11-10 6-12 1-8-4-6-6-2-6 0-9 3-7 8-7 9-2 26 0 1-4 1-26-3-10-14-11zM38-93l6-5 5 0 5 4 3 5 0 7-16 1-4-5zM117-144l-15 10-9 13 20 8 8-9 5-2 15-2 10 4 7 6 8 14 3 18 2 36-3 19-2 5-5 2-3-2 1-18-5-6-5-3-20 0-3 2-7 7 2 18-3 2-6-2-4-12 0-33 3-10 5-5 2 0 4 3-1 12 3 10 7 5 13 1 7-3 6-7 1-25-5-10-6-4-11 0-7 4-6-4-12 0-10 5-7 9-3 11-3 15 0 25 3 14 3 10 8 9 10 3 10 0 11-8 3-7-2-16 4-4 3 0 3 4-1 19 4 6 6 5 13 3 0 17-47 1-3-3 0-5-19-2 0 20 6 8 6 2 77 0 0-57 5-16 1-32-3-27-6-23-7-13-8-8-14-7-11-3-14 0zM139-88l5 7-1 8-2 2-5-5 0-10zM302-168l-25 0-1 56-7-2-15-2-21 5-11 8-6 7-10 20-5 34 3 30 10 21 15 14 9 4 28 2 16-5 11-8 6-9 5-13 0-5-21-2-2 9-14 11-16 1-8-2-11-10-4-7-5-16-1-11 2-26 7-15 11-12 11-3 18 2 10 9 3 10 0 20-3 10-4 4-10 1-5-4-1-9 6-7 6-1 0-18-36 0 0 18 7 1-3 11 1 11 2 5 12 10 7 3 15 0 11-5 10-11 7-20 0-18-5-17-8-12 0-21 14-4 6-6 4-7 0-14-5-10zM293-154l4 0 5 5 0 6-4 5-6-1z"/>
<path id="t56" fill-rule="evenodd" d="M117-108l-8 2 3 19 11 1 5 8 3 10 0 27-3 10-6 8-10 0-3 19 4 2 11 0 12-5 7-7 5-10 4-18 0-26-5-20-5-9-10-9zM328-112l-15 6-7 7-8 10-7 18-2 27 4 16 6 11 8 8 15 7 19 1 17-7 10-15 3-9 0-20-3-9-9-12-8-4-14 0-8 4-6 6-4 9 0 11 4 9 11 9 18 0-9 7-15 1-5-2-11-14-4-17 1-12 5-12 13-13 6-2 10 0 14 9 14-13-12-9-13-6zM341-59l6 0 5 6-1 6-5 4-5 0-5-5 0-6zM171-112l-7 6-5 15 4 14 14 11-15 20 1 15 3 0 3 4 2 13 10 10 11 3 21-1 13-6 12 6 14 1 10-2 6-4 10-15 5-29-2-27-9-20-11-11-18-7-19 4-15 11-8-10-12-5zM201-64l6 0 7 6 4 9 0 16-2 6-5 5-18 1-7-6-2-12-2-5zM233-94l11 0 5 2 7 6 6 15 0 35-5 12-8 5-10-2-3-3 2-9 0-18-2-10-4-7-8-8-8-3 10-12zM183-98l8 1 5 6 0 5-9 10-10-7-1-5 1-5zM44-147l-10 3-8 5-9 8-5 12 20 5 10-10 15-2 14 9 5 8 3 11 3 17 0 22-4 18-4 8-8 9-8 2-11 0-10-4-8-7-5-13 0-28 4-9 4-3 2 3-1 24 3 7 5 5 5 3 11 0 6-3 6-7 3-9 0-21-5-13-9-5-9 0-6 4-6-4-11 0-13 10-7 20 0 29 6 21 12 14 19 7 18 0 11-2 11-6 8-8 5-9 5-15 2-20-1-32-5-21-6-13-9-10-18-9zM51-87l5 1 2 10-1 12-4 5-2 0-3-4zM483-167l-29-1-1 55-22-3-18 4-7 4-10 9-10 16-5 16-3 18 1 28 5 18 7 11 7 9 14 9 16 3 15 0 10-2 11-6 10-10 5-10 3-12-21-2-4 10-13 10-17 1-9-4-10-10-4-7-5-20 0-18 5-22 12-15 15-6 13 1 8 4 9 12 0 28-4 7-5 4-8 0-6-6 1-10 5-4 7-1 0-18-37 0-1 18 9 1-4 9 3 17 6 8 14 6 15 0 7-3 10-8 8-15 2-24-4-18-8-13 0-23 15-5 5-5 3-10 0-10-2-7zM471-154l5 1 3 5 0 5-5 5-5-1z"/>
<path id="t57" fill-rule="evenodd" d="M264-107l-10 15-5 23 0 25 3 13 6 15 5 7 10 6 11 2 15-1 13-6 15 7 11 0 13-5 8-8 4-8 5-25-1-29-4-15-5-8-10-10-11-4-15 0-10 4-6 5-5-5-9-4-15 0zM323-93l10 0 9 6 5 13 0 36-5 12-6 5-9 0-5-5 1-18-4-9-6-5 3-8 1-18zM284-94l7 1 6 6 0 15-4 9-5 4 0 2 8 13 5-2 3 4 0 13-5 6-5 2-10 0-8-6-4-7-3-13 0-22 3-13 2-5zM431-116l-14 3-14 6-15 18-9 25-1 38 6 24 8 13 7 7 20 10 24 1 15-5 14-11 7-14 2-10-20-2-5 11-9 8-6 2-14 0-13-6-7-9-8-21 0-28 5-18 13-15 14-5 16 2 10 9 5 17-1 14-3 8-7 6-8 0-6-8 1-7 4-4 7-2 0-18-36 0 0 18 8 1-3 6 0 15 3 6 11 10 7 3 17 0 13-8 9-13 4-14 0-23-8-18-10-12-17-8zM58-116l-15 3-9 4-8 6-9 11-8 16-3 18 0 35 5 19 5 10 17 17 14 5 22 1 17-5 11-8 9-14 2-13-21-2-3 9-8 8-9 4-13 0-11-5-11-14-5-16-1-19 5-26 10-15 7-5 9-2 17 2 10 9 4 10 0 20-4 10-6 5-7 0-7-6 2-9 5-5 6-1 0-18-36 0 0 18 7 1-4 15 2 7 5 9 6 5 10 4 15 0 11-5 11-14 5-17 0-20-6-18-10-12-15-9zM237-164l-9-4-25 0-1 55-10 0-10 4-6 5-5-5-9-4-14 0-10 4-10 10-7 20-2 35 5 21 4 7 10 10 9 4 17 1 19-7 9 6 16 1 13-5 10-11 6-19 1-31-5-24-6-11-6-6 0-14 12-4 9-10 1-18zM193-93l10 0 9 6 5 13 0 36-5 12-6 5-8 0-6-5 1-17-4-9-6-6 3-8 1-20zM154-94l7 1 6 6-1 19-4 6-5 4 7 12 7 0 3 5 0 10-2 5-8 5-10 0-8-6-4-7-3-13 0-22 3-13 2-5zM221-154l5 1 2 4 0 7-4 4-5-1z"/>
<path id="t58" fill-rule="evenodd" d="M459-108l-7 2 2 19 12 1 5 8 2 10 0 27-2 10-7 8-10 0-2 19 4 2 11 0 11-5 8-7 5-10 3-18 0-26-5-20-5-9-10-9zM272-112l-15 6-16 19-7 18-1 22 4 18 5 10 9 10 15 7 18 1 10-2 7-4 11-15 2-9 0-22-2-9-9-11-9-4-12 0-11 6-8 14 0 9 3 7 7 9 5 3 18 0-12 8-12 0-11-8-7-12-1-23 5-14 13-13 6-2 10 0 9 4 5 5 13-13-8-7-13-7zM284-59l7 0 5 5 0 6-5 5-7 0-5-5 0-6zM333-112l-6 6-5 15 4 14 13 11-15 20 2 15 2 0 4 4 1 13 10 10 11 3 22-1 12-6 13 6 13 1 10-2 7-4 10-15 5-29-3-27-9-20-11-11-17-7-19 4-15 11-9-10-11-5zM363-64l6 0 8 6 4 9 0 16-3 6-5 5-17 1-8-6-1-12-3-5zM396-94l11 0 5 2 6 6 6 15 0 35-5 12-7 5-10-2-4-3 3-9 0-18-3-10-4-7-7-8-9-3 10-12zM346-98l7 1 5 6 0 5-9 10-10-7-1-5 1-5zM538-147l-17 6-12 12-3 10 20 5 6-8 7-4 9 0 13 5 6 8 5 11 4 23-2 30-3 12-10 11-9 4-15-1-6-4-5-6-4-15 2-14 7-7 6-2 5 3 7-18-12-6-8 0-10 4-11 11-5 14-1 21 6 21 13 14 17 6 18 0 10-2 11-6 7-8 5-9 5-15 3-16-1-36-5-21-7-13-8-10-13-7-11-3zM74-152l-20 0 0 8-3 10-32 35-12 25-3 21 2 15 3 12 10 15 10 7 13 3 20-1 12-6 10-11 7-17 1-30-6-20-7-8-6-5-11-5-11-2 17-21 6-15zM44-87l9 0 6 3 7 6 5 12-2 29-8 13-10 3-9-1-11-9-5-16 0-14 2-11 10-12zM219-168l-25 0-1 56-20-1-11 4-10 6-9-8-7-3-9-2-14 4-7 8-4 12 1 10 5 10 10 9-15 17 0 20 6 0 3 3 1 9 3 5 5 3 12 5 16 0 20-7 14 7 13 0 15-6 7-9 6-20 0-30-5-20-8-13 0-23 13-4 8-7 2-6 0-14-5-10zM143-64l9 1 6 7 3 8 0 14-3 6-6 6-16 1-8-6-1-9-5-6zM174-93l9 0 6 2 9 9 5 14 0 35-2 6-10 8-9-2-4-3 3-24-5-18-9-10-9-3 9-10zM123-97l9 0 6 8-2 6-8 7-9-8 0-8zM211-154l3 0 5 5 0 6-3 5-7-1z"/>
<path id="t59" fill-rule="evenodd" d="M786-126l-12 4-5 6 8 9 5-4 11 2 8 10 5 23-2 33-2 11-9 13-11 1-5-4-8 10 9 8 11 1 7-1 10-7 8-12 7-25 0-33-5-21-9-15-9-6zM846-128l-9 12 0 18 4 9 7 7 11 6-22 29 2 10 8 5 0 8 4 10 12 10 16 3 20-2 13-8 11 8 11 2 13-1 11-5 6-6 7-11 5-19-2-46-5-17-6-11-12-11-13-5-22 1-10 5-14 13-6-10-13-9-14-1zM891-81l6 3 6 6 4 8 1 28-4 9-8 9-8 2-17-1-10-9-3-16-5-5 28-32zM922-118l14 0 7 4 11 12 7 19 1 31-3 15-6 13-12 8-13 0-9-7 4-11 0-25-5-17-9-11-6-4-10-2 14-16zM858-121l14 2 7 7 2 11-14 17-11-5-4-4-4-9 0-7 3-5zM689-134l-8 3-8 10-1 23 5 11-15 13-9 15-5 20 1 25 9 23 14 15 20 9 21 1 15-3 15-9 9-10 5-10 2-11-15-3-6 15-15 13-7 2-25-1-12-8-11-15-5-23 3-22 3-10 8-8 4 20 3 6 8 6 15 5 14 0 16-6 6-6 4-8 1-9-14 0-2 8-10 7-16 0-7-2-7-8-1-13 3-7 57 0 3-21-1-17-7-15-10-5-13 1-10 11-4-6-6-5zM729-121l7 2 5 5 1 21-3 4-20-2 0-17 4-9zM689-119l8-2 7 5 4 14 0 10-2 3-15 0-5-5-3-13zM539-133l-7 4-8 7-3 10 1 16 6 12-7 7-5 11-2 24 3 10 9 15 20 14 23 5 28-4 17-10 7-6 6-10 4-11-2-27-5-11-7-9 7-15-1-16-10-12-12-5-10 0-8 2-10 8-9-7-10-3zM531-64l5-8 10-6 53 0 9 5 6 9 3 11-1 12-7 12-6 6-11 6-10 3-19 0-10-3-11-6-11-15-3-13zM588-119l13-2 8 7 3 5 0 7-6 11-27-2 0-16zM536-114l8-7 13 2 9 10 0 16-27 2-6-11zM118-128l-9 12 0 18 7 12 15 12-23 26 3 15 3 0 3 5 0 14 2 6 4 4 10 3 15-3 8-10 5 8 11 5 14-2 6-5 5-8 5-17 0-29-3-11-3-9-8-9-6-3-14-4 15-14 13-5 12 0 8 3 10 8 7 14 4 18-1 37-7 14-13 10-10 11-4 10 0 18 4 10 12 8 14 2 12-4 7-8 2-7 0-10-12 0-2 9-6 6-11-1-4-4-2-9 2-12 23-19 6-11 4-13 0-47-5-18-8-12-14-13-13-5-23 1-9 4-12 10-3 0-10-12-7-4-15-1zM177-81l7 10 4 18 0 15-4 15-10 7-7-2-5-9 0-16-13-1-2 21-4 5-5 2-6-1-4-5-1-19-4-5 33-36 11-2zM132-121l12 2 8 7 1 10-14 16-8-2-9-11 0-12zM52-134l-14 5-9 11-2 11 5 18-14 11-6 10-4 12 0 15 4 13 6 10 13 11 12 5-4 9 0 12 8 15 14 9 16 1 15-6 9-9 2-6-10-6-6 7-9 5-14 0-6-5-4-6 0-14 4-5 15-3 9-5 10-10 0-3-11-7-7 6-12 6-16-1-10-5-7-6-6-14 1-15 7-11 7-7 9-3 36-2 3-11 0-17-5-13-8-7-7-4zM42-113l9-8 10 0 5 3 6 9 0 15-26 1-5-6zM358-173l0 7-5 13-20 24-24-2-8 3-9 5-13 12-7 18-1 21 5 18 10 13-9 13-5 24 15 2 4-4 13 0 13 4 19-1 20-10 11-16 4-3 5 4 6 12 12 12 9 2 19 0 6-2 3 1 0 32-94 2-4-5 0-12-14-1-1 20 3 6 3 4 8 3 114 0 0-68 3-9 3-18 0-27-5-26-8-11-11-5-7 0-9 4-8 10-10-12-12-2-8 2-8 10-5-7-13-11 16-20 9-20 0-9zM299-82l10 0 5 3 7 8 0 9-3 5-5 5-6 3-11-3-8-9 0-10 3-5zM382-102l7 0 7 9 1 35 14 0 0-30 6-13 9-1 5 4 5 15 0 40-5 16-9 9-21 0-9-8-6-11-5-5-8-2 1-45 3-8zM313-116l14 0 17 9 9 11 5 15 1 22-5 22-12 15-13 5-40-2 3-8 9-9 11 0 9-3 10-10 3-10 0-12-2-7-11-13-9-3-10 0-11 5-5 6-2-1 2-9 3-8 10-10z"/>
<path id="t60" fill-rule="evenodd" d="M257-68l0 14 54 0 0-14zM194-134l-75 0 0 15 58 1-26 64-10 28-7 25 17 0 18-61 25-60zM53-137l-7 1-13 7-10 11-4 7-5 19-1 38 4 22 7 18 17 13 21 3 17-8 8-7 6-11 6-27 0-37-2-14-9-20-9-9-7-3zM51-123l15 1 8 8 5 10 4 16 1 20-3 32-7 14-12 10-11 0-13-10-6-15-3-15 0-32 3-15 6-14z"/>
<path id="t61" fill-rule="evenodd" d="M168-126l-11 4-5 6 7 9 5-4 12 2 7 10 5 23-1 33-3 11-8 13-12 1-5-4-7 10 9 8 11 1 6-1 10-7 9-12 6-25 0-33-5-21-9-15-8-6zM27-126l-8 8-8 21-3 18 1 38 4 14 6 11 9 9 8 4 12 2 15-1 15-9 14 9 7 1 17-2 10-6 7-10 4-9 5-34-3-32-2-10-6-13-13-11-12-4-18 1-11 7-4 5-11-10-10-3-15 1zM93-117l11 0 7 3 8 8 7 19 1 28-3 20-6 15-11 8-10 0-9-6 0-30-5-10-7-6 2-10 0-19 3-9 8-10zM42-117l15 1 7 9 2 5-3 24-2 6-8 8 5 10 9-4 6 6 3 10-2 10-3 8-5 5-9 3-10 0-9-3-7-8-7-15-1-39 3-15 7-15zM1353-131l-11-3-10 0-8 2-12 11-5 13-11-3-15 3-9 5-9 10-7 20 0 37 7 23 9 9 12 3 13-1 12-10 5-10 5 11 5 5 14 5 11-1 8-4 7-7 8-21 0-23-5-19-8-10 7-13 0-14-4-9zM1284-93l5-3 13 0 6 4 3 13 30 0 6 2 5 5 5 14 1 14-2 15-9 11-13 1-8-7-5-17 0-12-13 0-4 24-8 11-13 1-7-6-5-13-2-27 3-13 5-10zM1329-119l14-2 9 8 1 12-5 9-27-2 1-18zM1106-129l-10 12-2 16 7 14 16 13-23 28 3 12 6 3 0 14 4 10 7 5 12 1 7-2 9-11 7 10 10 3 10-1 12-9 6 7 12 3 13-1 7-4 9-8 8-20 2-24-2-31-8-22-5-7-15-13-12-3-12 0-10 2-15 9-7 7-10-12-10-5-14-1zM1162-82l9 10 3 13 0 26-2 9-6 7-10 0-7-9-1-18-12 0 0 13-3 9-5 5-9 0-5-7 0-14-3-9 31-35 5-2 9 0zM1179-118l13-1 14 6 8 10 7 16 2 24-1 21-6 19-9 7-14-1-6-7 2-14 0-19-2-14-5-12-9-9-17-6 12-14zM1118-121l9 0 5 3 7 11-1 8-14 15-10-5-3-4-4-9 2-12zM406-134l-14 3-11 7-17 18-10 28-2 17 0 27 7 32 9 15 11 11 20 9 27 0 10-2 17-12 6-7 7-13 1-8-14-3-7 15-8 8-11 6-21 1-17-7-13-17-8-23 0-38 5-20 8-15 10-10 12-6 11-1 14 2 8 4 11 11 6 15 0 25-6 16-6 7-7 2-7 0-6-2-4-4-4-9 4-12 5-5 10-4 0-13-39 0 0 13 15 1-9 13 0 15 4 8 10 10 13 4 15-1 15-9 10-17 3-19 0-11-3-19-9-16-10-10-18-9zM1074-193l-6-3-24 0-1 65-9-3-18 1-15 7-13 10-4-7-6-6-14-5-8 0-13 5-9 10-2 10 2 16 9 11 13 6-24 29 4 14 5 2 1 18 7 10 9 2 10-1 6-4 5-8 8 10 10 3 14-2 7-8 9 8 16 2 6-1 12-6 7-10 6-21 2-33-7-31-5-10-7-9 0-20 2-2 9 0 8-4 7-10 1-21-2-7zM999-82l8 8 5 13 1 17-1 12-4 10-5 5-10 0-6-9-1-18-13 0 0 16-2 6-8 6-6-1-4-4-1-18-4-8 31-35 5-2 9 0zM1017-118l12-1 13 5 9 8 7 18 3 16-2 31-6 18-9 7-13-1-7-7 3-12 0-25-5-18-4-7-11-8-14-4 10-11zM956-121l8 0 5 3 8 10 0 7-14 17-9-4-8-10 0-14 3-5zM1057-184l10 1 6 9-1 12-9 6-5 0-2-2zM844-196l-22 8-14 12-6 15 0 14 5 11-16 7-9 10-3 8 3 18 9 11 10 5 1 4-23 26 4 14 5 0 3 4 2 13 6 8 7 4 15 3 8 0 17-3 10-7 10 8 16 2 6 7 3 6 0 15-3 6-10 10-14 5-18 1-18-3-12-9-5-9 0-6-15 0 0 7 3 12 14 13 24 9 27 0 14-4 14-7 7-8 5-10 2-22-8-18 11-10 8-18 1-43-2-15-5-14-7-10-7-7 7-9 7-14 0-16-5-12-8-9-15-9-16-4zM834-81l7 3 8 11 3 9 0 21-3 8-8 10-10 3-13 0-11-6-4-6-1-13-6-5 31-35zM864-117l12 0 8 4 10 10 8 19 0 46-6 15-10 7-14 0-8-5-1-3 4-12 0-21-4-15-10-15-6-4-10-2 17-19zM803-121l9 0 5 3 7 10 0 7-13 17-13-7-5-7 0-14 4-5zM887-172l9 13 0 12-5 10-7 6-26 0-22 15-14-18-5-13 0-11 5-10 9-8 15-5 26 2zM753-194l-27-2-2 62-11 3-7 7-12-8-7-2-10 0-13 5-8 10-3 8 3 17-12 1 0 14 12 1-4 5-4 11-1 25 6 21 8 9 8 5 13 1 11-3 6-7 7-11 5 11 8 8 9 2 13-1 7-4 11-15 4-16 0-19-4-16-8-14 6-15 0-11-4-10-15-12 0-8 3-2 8 0 8-4 5-5 4-9-2-21zM667-71l6-6 8-2 50 0 7 2 6 8 4 12 0 21-4 12-8 7-13-1-9-11-2-12 0-12-14 0 0 14-5 15-9 7-12-1-6-6-4-12 0-20zM721-119l12-2 9 7 2 5 0 7-5 10-27-2 0-15zM669-116l8-5 12 2 9 10 1 15-28 1-4-5-1-6zM738-184l10 1 6 9-1 12-9 6-5 0-2-2zM569-196l-13 5-14 10-10 20 0 14 5 14 9 10 8 5-2 6 0 11 5 10-16 15-5 9-3 9 0 20 5 14 8 10 10 7 11 5-4 16 1 8 5 10 13 10 20 2 17-8 9-12-11-7-9 10-6 2-13 0-8-7-3-6 0-9 4-8 19-5 7-5 9-10-11-8-13 10-7 2-17-1-7-4-10-10-3-5-1-19 6-12 10-9 7-2 36 0 4-17-3-21 13-7 6-8 4-7 2-15-1-9-5-11-14-14-19-8zM567-114l7-7 14 2 8 8 1 15-28 3-5-10zM551-167l7-7 15-7 19 0 12 5 10 10 4 13-1 9-4 7-11 9-4 0-5-4-9-2-13 1-9 5-11-10-4-9 0-12zM332-196l-23 0 0 65-3 2-14-5-18 0-21 7-14 13-13 27-4 19-1 30 2 19 5 16 10 17 9 9 21 10 28 0 15-5 15-12 8-15 3-10-15-3-6 14-10 10-10 5-20 1-18-7-11-13-9-22-1-40 2-14 9-21 14-14 11-5 10-1 10 1 11 5 9 7 9 18 1 20-2 14-4 7-8 8-6 2-11-1-9-10 0-10 8-11 10-4 0-13-39 0 0 13 15 1-9 14 1 16 8 13 9 5 10 2 17-2 13-9 8-15 3-9 1-27-5-18-6-11-5-5 0-25 10-1 10-5 7-15 0-13-3-10-5-5zM322-186l10 3 5 6 0 14-4 5-6 2-6-1z"/>
<path id="t62" fill-rule="evenodd" d="M409-112l-8 3-10 6-14 17-6 19 0 25 8 24 10 10 19 7 14 0 9-2 10-6 7-12 4-15 0-13-3-12-5-8-8-7-18-1-6 3-8 7-3 8 1 17 10 11 19 0 1 3-8 6-15 1-3-1-10-10-4-7-3-10 3-22 5-10 9-8 7-4 15 1 10 8 13-13-7-6-11-6-7-3zM419-58l9-1 4 3 1 7-4 5-8 1-4-4-1-5zM801-112l-12-4-12 2-13 8-6 12-20 0-7 3-9 9-6 14-3 20 3 24 5 12 6 6 12 5 9 0 9-2 10-11 7 10 9 3 10 0 10-3 8-8 6-17 0-23-5-15-5-6 5-9 0-15-5-10zM742-73l4-3 10 0 3 4 2 9 28 1 5 5 4 11 0 10-2 9-5 5-8-1-6-9-3-16-16 0 0 7-4 13-7 6-6-1-7-10-1-23 3-8zM776-92l5-5 8 0 7 8-2 7-18 1zM497-116l-11 4-9 10-3 15 4 11-11 10-8 17 0 13 5 14 8 10 16 10-2 6 0 14 5 10 5 5 10 5 16 0 12-6 9-11-12-9-3 0-10 7-7 0-5-5-2-7 5-9 14-5 11-11-16-11-12 7-13-1-6-4-5-6-3-9 3-10 7-7 10-4 27 0 2-8 1-20-6-15-12-8zM493-94l5-4 8 1 5 6 1 8-3 2-15 0-2-3zM16-112l-7 6-5 15 5 17 13 10-16 18 1 20 2 0 4 4 0 11 6 8 7 2 10 0 5-2 6-8 7 8 7 2 11-1 7-6 14 7 10 0 13-5 7-7 8-23 0-33-9-27-11-12-13-6-12-2-17 4-12 9-3 0-15-11-10-2zM62-66l7 13 2 16-3 11-5 5-6-2-1-20-18 0 0 17-2 4-5 1-4-3-1-13-3-4 23-23 5-3zM78-94l16 1 9 7 5 10 3 12 0 25-3 11-7 9-7 0-6-7 1-28-5-17-7-8-13-5zM27-97l7 0 7 6-2 7-7 8-4-1-6-7 0-8zM211-152l-20 0 0 8-4 10-31 35-13 25-2 21 1 15 4 12 10 15 10 7 12 3 20-1 13-6 10-11 6-17 1-30-6-20-6-8-7-5-11-5-11-2 17-21 7-15zM181-87l8 0 7 3 6 6 5 12-1 29-9 13-10 3-9-1-11-9-5-16 0-14 2-11 10-12zM584-161l-11 12-5 13 0 13 5 11-14 9-6 7-7 19 0 19 8 21-7 10-5 23 17 3 8-3 17 3 19-1 15-7 13-15 5 1 8 12 13 9 17 1 14-5 11-13 4-15 1-27-2-20-4-10-7-7-7-3-12 0-11 9-12-9-10 0-11 8-14-14 0-2 12-13 8-16-21 0-7 12-9 9-8-7 0-9 9-10 15-5 18 0 8 2 5 5 0 12-2 5 16 7 5-7 3-12-2-8-5-10-13-10-15-4-25 0zM573-67l6 0 7 6 0 9-9 6-8-2-3-6 1-8zM642-79l5 0 4 5 1 27 16 0 1-27 4-5 4 0 4 3 2 12-1 27-4 10-5 5-9 1-6-2-14-15-7-4 1-31zM581-92l15 0 8 5 8 9 5 16-1 19-5 12-10 9-10 3-25-3 5-6 13-1 10-5 7-8 3-10-1-15-10-12-11-4-10 1-4 3-2-2 5-6zM364-164l-8-4-25 0-2 56-21-1-19 9-6-7-7-3-10-2-12 3-8 7-5 15 1 9 10 14 15 9-8 8-2 0-1-3-18 0 1 27 5 11 10 10 15 5 14 0 9-2 12-8 12 9 16 1 11-3 9-8 7-16 3-26-4-25-10-19 0-24 13-4 8-10 2-18zM288-59l5 5 3 6 0 11-5 11-8 5-14 0-7-3-5-10 9-2 7-3 8-9 3-9zM309-93l10 0 9 4 10 15 3 10 0 26-4 11-9 8-7 0-8-7 3-12-3-21-9-13-11-4 5-8zM263-97l8 0 6 6 0 8-5 9-6-3-8-9 0-6zM348-154l5 1 3 4 0 7-4 4-5-1z"/>
<path id="t63" fill-rule="evenodd" d="M536-112l-12-4-16 3-7 5-8 14-20 0-6 2-9 8-9 17-1 31 5 20 4 7 6 5 11 3 14-1 10-9 3-5 10 13 6 2 11 0 8-2 7-6 8-17 1-21-3-12-7-13 5-12 0-12-4-8zM473-69l8-7 10 0 2 3 3 10 28 1 4 4 4 10 0 16-4 8-4 2-5 0-5-4-5-12 0-10-16 0-1 11-4 10-6 5-5 0-6-6-3-8 0-22zM511-93l5-4 10 1 3 5-1 9-17 1zM169-116l-13 3-12 5-10 9-6 8-10 30-1 30 6 28 14 20 17 10 13 2 15 0 17-6 14-12 5-10 3-12-22-2-3 10-8 7-9 4-13 0-9-4-10-10-8-18-1-27 5-22 11-15 15-6 14 1 13 9 5 12 0 18-5 12-5 4-8 0-6-6 1-10 5-4 6-1 0-18-37 1 0 17 9 1-4 9 2 17 7 8 13 6 15 0 8-3 10-8 7-15 3-25-3-14-5-10-12-14-16-7zM33-144l-14 8-10 15 20 8 8-9 5-2 15-2 10 4 6 5 9 15 4 19 0 42-5 13-5 5-8 1-6-9 0-7 10-20 0-11-4-13-11-10-8-2-18 0-12 5-3 3-9 18-3 22 3 24 6 13 10 7 15 1 6-2 5-5 10 6 18 1 12-5 8-7 6-13 5-31-1-25-4-22-9-22-13-13-10-5-12-3-13 0zM41-74l10 6 0 11-9 19 0 12-4 4-6 1-5-5-1-5 0-26 3-11 5-5zM269-168l-10 2-12 7-8 7-5 9-1 21 4 10 5 6-5 10 0 12 5 10 0 3-4 4-5 11-1 20 6 17 11 11 15 7 12 3 12 0 18-4 12-7 10-12 5-12 0-21-4-10-6-8 6-15-5-20 8-12 1-15-2-10-4-7-13-11-20-6zM252-51l7-10 7-2 33 0 8 2 4 4 3 9 0 7-3 9-7 6-11 5-14 2-11-3-12-9-4-7zM297-97l9 0 6 6 0 5-4 7-17-3 1-10zM253-89l4-7 11-1 4 3 2 5 0 7-17 3zM253-132l3-6 11-8 12-2 17 1 8 4 7 6 1 15-4 6-14 2-12 6-10-6-14-2-5-7zM381-169l-19 5-11 8-7 15 2 12 6 11 9 6 8 3 27 0 7 3 8 8 6 17-1 34-7 15-11 9-16 1-11-6-7-13 2-21 6-7 6-2 6 3 7-16-2-4-11-4-12 1-12 8-8 16-3 19 4 21 5 10 9 9 18 7 18 0 20-7 10-10 7-16 4-20 0-29-4-18-8-17 7-9 3-11-4-14-13-11-12-5zM366-138l1-4 7-5 25-1 9 2 5 5 1 5-6 8-9-3-27 0-5-3z"/>
<path id="t64" fill-rule="evenodd" d="M803-108l-7 2 2 19 9 0 7 10 3 14 0 15-4 19-6 6-9 0-2 20 15 1 12-6 10-15 4-14 1-24-4-22-6-13-9-8zM619-112l-15 6-16 19-6 18-1 22 3 18 5 10 9 10 15 7 19 1 10-2 6-4 11-15 3-9 0-22-3-9-8-11-9-4-13 0-11 6-7 14 0 9 2 7 8 9 5 3 17 0-11 8-13 0-11-8-6-12-1-23 5-14 12-13 6-2 10 0 9 4 5 5 14-13-9-7-12-7zM632-59l6 0 5 5 0 6-5 5-6 0-5-5 0-6zM687-108l-8 7-5 10-5 30 3 28 7 19 12 10 13 3 17-1 11-6 10 6 17 1 13-5 11-15 5-20 0-31-5-20-5-9-10-8-10-4-16 0-11 5-4 4-8-7-7-2-14 0zM744-93l13 1 6 6 5 15-1 35-4 9-6 6-9 0-5-3 0-23-9-11 3-25 4-8zM704-94l9 2 5 6-2 20-8 8 9 15 5-3 4 7-2 11-8 7-14-1-6-6-5-14-2-16 3-21 4-9zM387-116l-14 3-11 5-15 15-6 12-5 18-2 35 5 22 7 13 10 11 20 10 23 1 18-6 12-11 7-11 2-12-21-2-4 10-6 6-10 5-14 0-9-4-12-13-5-14-1-30 3-18 7-11 7-7 8-4 20 0 11 7 6 15 0 13-4 14-7 6-8 0-6-8 3-8 5-4 6-1 0-18-38 0 0 18 8 1-3 7 2 17 8 11 13 5 15 0 9-4 7-6 9-18 2-20-3-20-8-12-9-9-16-7zM96-119l-14 3-13 10-10-7-7-3-10 0-13 5-8 14 0 14 3 7-8 7-5 6-5 12 0 19 5 13 16 13 11 4 19 3 0 38 20 0 0-43 15-8 11-10-12-15-13 10-1-1 0-29 16-2 6-5 4-8 0-16-2-10 2-11zM46-63l11 1 0 39-5 2-16-3-8-8-2-6 0-9 3-7 8-7zM84-96l4 8 0 10-5 5-5 0 0-14zM38-93l6-5 5 0 8 7 0 9-16 1-4-6zM874-144l-8 5-10 10-5 8 20 8 7-9 5-2 15-2 13 5 6 7 5 8 5 20 0 49-4 10-5 5-4 0-7-7-3-19-17 0 0 9-4 12-5 5-5 0-5-5-2-15 2-10 6-7 33-2 1-2 0-18-5-11-10-9-7-2-12 0-7 2-6 7-4 8-1 10-10 0 0 15 5 2-4 11 0 22 2 9 10 13 9 3 9 0 10-3 7-10 10 11 8 2 10 0 9-2 11-10 5-13 2-15-1-45-7-31-7-11-16-14-16-5-15 0zM873-82l4-5 7 0 5 5 2 5-17 1zM251-144l-10 5-9 8-5 12 20 5 6-8 5-2 15-2 9 3 10 9 6 11 4 16 0 49-4 9-7 7-7 0-3-4-2-13 9-18 0-16-2-8-7-7-8-5-23-1-10 3-11 14-5 21 1 32 5 12 8 8 8 3 12 0 11-7 4 4 10 3 17-1 11-6 5-6 8-18 2-14 0-28-5-33-10-21-13-13-19-6-15 0zM257-74l9 3 2 5 0 7-9 20 0 12-5 5-5 1-5-3-1-4-1-24 4-15 6-6zM573-166l-7-2-24 0-1 56-22-1-18 9-12-9-13-3-13 4-9 9-2 7 0 10 4 10 8 9 14 8-9 8-2-1 0-2-18 0-1 11 3 17 5 12 7 7 16 6 15 0 9-2 11-8 12 9 16 1 14-5 8-8 5-12 3-12 0-25-5-21-9-15 0-23 15-5 8-10 1-15-3-7zM499-59l7 8 1 9-4 14-10 7-14 0-5-2-5-5-2-6 15-4 7-8 7-12zM521-93l10 0 6 2 7 8 7 16 1 24-3 12-2 5-9 7-7 0-7-5 0-34-3-8-7-6-10-4 3-6 10-10zM473-97l9 0 5 5 1 8-5 10-9-4-6-9 1-6zM558-154l5 1 4 5 0 5-5 5-5-1zM153-169l-19 5-8 7-4 11 1 8 6 10-8 7 11 15 14-7 15-1 11 3 11 10 8 22 0 22-3 14-6 12-14 9-17-1-5-3-10-12-3-9 0-25 3-9 5-5 2 3 0 27 5 8 8 4 11 0 10-8 5-19-1-16-4-9-9-6-10 0-6 4-6-4-10 0-13 9-6 12-3 10 0 27 4 16 4 7 11 13 19 7 19 0 20-7 8-9 9-17 4-20 0-27-5-22-9-14 9-10 2-11-5-15-11-10-12-5zM161-87l5 3 1 16-1 5-4 4-4-3-1-4zM143-141l8-7 22-1 9 3 4 4 0 9-4 4-16-5-18 0z"/>
<path id="t65" fill-rule="evenodd" d="M253-108l-11 15-5 21 1 38 4 12 5 9 6 6 19 6 15-1 12-6 15 7 12 0 12-5 8-7 5-10 5-30-3-28-7-18-9-9-13-5-20 1-11 8-14-9-15 0zM311-93l12 1 8 8 3 11 2 20-3 19-5 10-5 3-9 0-5-3 0-24-3-6-5-4 2-10 0-14 3-6zM272-94l6 1 6 7-1 18-9 10 9 15 5-3 4 5 0 10-10 10-11 0-10-10-4-13 0-28 2-11 7-9zM406-147l-14 4-6 4-9 8-5 12 20 6 6-9 9-4 10 0 6 3 9 7 7 17 3 15 0 27-4 18-5 8-7 7-7 2-12 0-10-4-6-6-5-10-2-30 3-9 5-5 2 3 0 27 5 8 8 4 11 0 10-8 5-19-1-16-4-9-9-6-10 0-6 4-6-4-10 0-13 9-6 12-2 10 0 27 3 16 4 7 11 13 19 7 19 0 20-7 14-16 7-30 0-30-4-23-3-11-8-13-7-7-12-6-11-3zM412-87l5 3 1 16-1 5-4 4-4-3-1-4zM74-152l-20 0 0 8-3 10-32 35-12 25-3 21 2 15 3 12 10 15 10 7 13 3 20-1 12-6 10-11 7-17 1-30-6-20-7-8-6-5-11-5-11-2 17-21 6-15zM44-87l9 0 6 3 7 6 5 12-2 29-8 13-10 3-9-1-11-9-5-16 0-14 2-11 10-12zM219-168l-25 0-1 56-20-1-11 4-10 6-9-8-7-3-9-2-14 4-7 8-4 12 1 10 5 10 10 9-15 17 0 20 6 0 3 3 1 9 3 5 5 3 12 5 16 0 20-7 14 7 13 0 15-6 7-9 6-20 0-30-5-20-8-13 0-23 13-4 8-7 2-6 0-14-5-10zM143-64l9 1 6 7 3 8 0 14-3 6-6 6-16 1-8-6-1-9-5-6zM174-93l9 0 6 2 9 9 5 14 0 35-2 6-10 8-9-2-4-3 3-24-5-18-9-10-9-3 9-10zM123-97l9 0 6 8-2 6-8 7-9-8 0-8zM211-154l3 0 5 5 0 6-3 5-7-1z"/>
<path id="t66" fill-rule="evenodd" d="M631-62l0 19 47 0 0-19zM862-106l0 18 19 0 1 2-14 18-11 20-3 10 2 17 6 12 11 7 21 0 9-5 4-5 5-12 0-10-18 0-1 8-9 5-8-6-2-11 8-18 24-31 0-19zM41-112l-15 6-8 7-7 10-8 18-1 27 4 16 6 11 7 8 15 7 19 1 18-7 10-15 2-9 0-20-2-9-9-12-9-4-14 0-7 4-6 6-4 9 0 11 4 9 11 9 17 0-8 7-15 1-5-2-12-14-3-17 1-12 5-12 12-13 7-2 10 0 13 9 14-13-11-9-14-6zM53-59l6 0 5 6-1 6-5 4-5 0-5-5 0-6zM1341-112l-12-4-12 2-13 8-6 12-20 0-7 3-9 9-6 14-3 20 3 24 5 12 6 6 12 5 9 0 9-2 10-11 7 10 9 3 10 0 10-3 8-8 6-17 0-23-5-15-5-6 5-9 0-15-5-10zM1282-73l4-3 10 0 3 4 2 9 28 1 5 5 4 11 0 10-2 9-5 5-8-1-6-9-3-16-16 0 0 7-4 13-7 6-6-1-7-10-1-23 3-8zM1316-92l5-5 8 0 7 8-2 7-18 1zM349-112l-8 10-3 14 3 10 3 5 12 7-15 19 0 16 6 3 4 16 6 6 14 5 21-1 12-6 17 7 16-1 7-4 9-8 4-8 4-16 0-31-5-19-7-11-12-12-16-5-15 3-19 12-10-11-9-4zM379-64l9 1 6 7 3 8 0 14-1 5-5 6-5 2-14 0-8-6-3-17zM412-94l11 0 5 2 6 6 7 17 0 32-4 10-9 8-10-2-4-3 3-24-4-15-10-13-9-3 12-13zM361-98l8 1 5 6 0 5-8 10-4-1-8-9 0-6zM841-119l-14 3-13 10-10-7-7-3-10 0-13 5-8 14 0 14 3 7-8 7-5 6-5 12 0 19 5 13 16 13 11 4 19 3 0 38 20 0 0-43 15-8 11-10-12-15-13 10-1-1 0-29 16-2 6-5 4-8 0-16-2-10 2-11zM791-63l11 1 0 39-5 2-16-3-8-8-2-6 0-9 3-7 7-5zM829-96l4 8 0 10-5 5-5 0 0-14zM783-93l6-5 5 0 8 7 0 9-16 1-4-6zM119-144l-7 3-10 9-6 13 20 5 5-7 11-5 10 0 12 5 10 12 5 13 3 17 0 36-3 10-3 6-7 5-7-1-4-6 0-9 8-14 2-9-1-13-4-9-6-6-11-5-24 1-11 9-5 8-4 13-1 27 5 22 8 10 9 3 11 0 12-7 15 7 11 0 9-2 6-4 7-9 7-15 2-12 0-35-4-25-3-11-9-17-5-5-15-8-11-3-15 0zM127-74l9 5 1 11-8 15-1 16-5 5-5 1-6-8 0-29 4-10 5-5zM541-152l-20 0-2 11-3 8-32 35-11 22-2 14 0 16 3 18 8 14 5 5 11 6 10 2 14 0 12-3 13-10 9-18 2-12 0-19-2-13-5-11-12-12-7-4-15-3 17-21 7-16zM511-87l8 0 7 3 7 8 4 12 0 21-3 9-6 8-11 5-13-2-7-8-5-13 0-19 4-13 8-8zM1076-168l-14 4-13 7-6 8-4 8-1 17 3 8 6 9-4 9-1 10 2 10 4 6-9 14-2 15 2 15 5 10 9 9 16 8 12 3 22-1 18-8 6-5 10-15 2-10 0-14-2-10-8-10 0-3 5-10 0-10-5-12 8-11 1-20-6-15-10-9-23-7zM1058-52l5-7 8-4 35 0 6 2 5 5 2 5 0 13-3 7-13 9-11 3-15-2-10-5-9-10zM1103-97l8 0 6 5 0 9-3 4-17-3 0-7zM1059-92l5-5 10 0 5 6 2 9-18 3-4-5zM1058-129l3-8 6-6 10-4 16-1 9 1 10 5 5 6 1 12-5 8-12 2-14 6-9-6-15-2-4-6zM1022-168l-25 0-1 56-7-2-15-2-13 3-12 5-15 15-8 20-4 20 0 25 5 22 6 13 10 11 20 10 24 1 12-3 9-5 9-9 6-11 3-12-22-2-3 10-10 9-7 2-17-1-5-3-13-13-6-22 0-22 4-18 6-11 8-7 13-5 14 1 11 7 7 15 0 13-4 14-8 6-7 0-5-5-1-5 5-9 8-2 0-18-37 0 0 18 7 1-2 7 0 13 4 9 6 6 7 4 20 1 13-6 9-12 5-15 1-15-4-18-9-15 0-23 10-2 7-4 6-10 1-8-4-15-5-5zM1014-154l5 1 4 6-1 5-4 4-5-1zM329-164l-8-4-25 0-2 56-21-1-19 9-6-7-7-3-10-2-12 3-8 7-5 15 1 9 10 14 15 9-8 8-2 0-1-3-18 0 1 27 5 11 10 10 15 5 14 0 9-2 12-8 12 9 16 1 11-3 9-8 7-16 3-26-4-25-10-19 0-24 13-4 8-10 2-18zM253-59l5 5 3 6 0 11-5 11-8 5-14 0-7-3-5-10 9-2 7-3 8-9 3-9zM274-93l10 0 9 4 10 15 3 10 0 26-4 11-9 8-7 0-8-7 3-12-3-21-9-13-11-4 5-8zM228-97l8 0 6 6 0 8-5 9-6-3-8-9 0-6zM313-154l5 1 3 4 0 7-4 4-5-1zM1187-169l-16 3-15 12-5 10 1 17 9 11 8 5 32 2 6 2 9 8 6 15 1 11-2 29-5 11-9 9-8 2-16-1-9-8-5-12 0-11 3-9 9-8 8 3 8-18-4-3-15-3-10 3-12 12-7 19 0 19 3 11 5 10 7 9 20 8 18 0 14-3 8-5 12-14 6-18 2-25-1-21-6-21-6-9 8-11 2-15-7-13-15-10-15-3zM1172-141l9-6 23-1 9 2 6 7 0 6-6 5-7-3-29 0-5-5z"/>
<path id="t67" fill-rule="evenodd" d="M299-114l-11 7-5 10 0 14 4 7-9 7-9 13-2 13 1 10 8 16 11 10 15 6 20-1 1 20-34 1-3-3 0-5-19-2-1 15 3 9 4 4 8 2 61 0 0-68-16 0-9 6-13 1-7-4-6-6-3-6 1-13 8-8 11-4 26 0 3-10 0-20-4-10-14-11zM301-93l6-5 5 0 5 4 2 5 0 7-16 1-4-6zM392-147l-10 3-11 6-13 17 20 8 9-10 7-3 9 0 8 3 8 9 7 12 3 26-1 24-4 14-10 12-8 4-13 0-9-4-7-7-5-11-1-24 2-11 5-7 4 4-1 24 2 6 5 5 5 3 11 0 8-4 4-5 3-11 0-19-6-15-7-4-9 0-6 4-7-4-11 0-9 5-6 9-4 10-2 27 5 24 4 8 8 10 9 5 13 3 17 0 14-3 9-5 6-7 7-13 5-22 0-40-6-26-12-19-9-6-10-4zM398-87l3 0 3 5 0 18-3 5-5-3zM181-166l-13 7-10 10-5 11-1 9 4 13-14 10-4 9 0 14 3 6 11 11 10 4 1 4-7 7-4-3-16 0 0 26 5 12 8 9 12 5 20 1 20-10 5 5 10 5 17-1 9-4 7-7 7-14 2-15 0-19-4-20-6-13-7-9 10-21-2-18-6-11-16-11-15-4-21 0zM187-58l5 9 0 13-4 9-9 6-13 0-8-3-5-10 10-2 6-3 9-10 4-9zM207-93l9 0 8 4 8 8 5 15 1 15-2 19-4 8-8 5-7 0-8-8 3-7 0-17-3-10-8-11-10-4 5-10zM159-97l9 0 5 6 1 5-5 12-7-3-8-9 0-5zM229-136l0 14-6 9-19 0-13 6-4 4-13-15-2-9 1-6 5-8 11-6 8-1 20 2zM41-164l-17 11-7 17 1 17 4 7-9 9-4 12 3 13 4 5-5 6-5 14-2 12 3 15 5 10 7 8 13 6 17 1 10-2 8-5 16 7 18-1 8-5 9-11 6-24-1-37-7-20-7-7 8-16 0-15-3-9-10-12-18-9-32-1zM32-62l16 0-9 13 12 13 2-2 6 1 0 8-6 7-16 1-8-3-6-12 0-12 3-8zM83-94l10 2 8 8 5 20 0 16-3 15-4 7-8 7-4 0-9-7 0-16-5-9-9-5 7-27 6-9zM27-92l5-5 10 0 5 6 1 9-19 1-2-3zM92-141l4 5 1 10-3 8-5 5-12 0-10 4-8 6-8-9-8-2-5-7 0-13 8-9 5-3 21-2 9 1z"/>
<path id="t68" fill-rule="evenodd" d="M236-112l-15 6-17 19-6 18-1 22 4 18 5 10 8 10 15 7 19 1 10-2 6-4 12-15 2-9 0-22-2-9-9-11-9-4-12 0-12 6-7 14 0 9 2 7 8 9 5 3 17 0-11 8-12 0-12-8-6-12-1-23 5-14 12-13 7-2 10 0 8 4 5 5 14-13-9-7-12-7zM248-59l6 0 5 5 0 6-5 5-6 0-5-5 0-6zM384-107l-10 15-5 23 0 25 3 13 6 15 5 7 10 6 11 2 15-1 13-6 15 7 11 0 13-5 8-8 4-8 5-25-1-29-4-15-5-8-10-10-11-4-15 0-10 4-6 5-5-5-9-4-15 0zM443-93l10 0 9 6 5 13 0 36-5 12-6 5-9 0-5-5 1-18-4-9-6-5 3-8 1-18zM404-94l7 1 6 6 0 15-4 9-5 4 0 2 8 13 5-2 3 4 0 13-5 6-5 2-10 0-8-6-4-7-3-13 0-22 3-13 2-5zM538-147l-14 4-6 4-9 8-5 12 20 6 7-9 8-4 10 0 7 3 8 7 8 17 2 15 0 27-3 18-5 8-8 7-6 2-13 0-10-4-6-6-5-10-1-30 2-9 5-5 3 3 0 27 5 8 7 4 12 0 10-8 5-19-2-16-3-9-9-6-10 0-6 4-7-4-10 0-12 9-6 12-3 10 0 27 4 16 4 7 11 13 19 7 18 0 20-7 14-16 8-30 0-30-4-23-4-11-7-13-8-7-11-6-11-3zM544-87l5 3 2 16-2 5-3 4-4-3-1-4zM33-144l-14 8-10 15 20 8 8-9 5-2 15-2 10 4 6 5 9 15 4 19 0 42-5 13-5 5-8 1-6-9 0-7 10-20 0-11-4-13-11-10-8-2-18 0-12 5-3 3-9 18-3 22 3 24 6 13 10 7 15 1 6-2 5-5 10 6 18 1 12-5 8-7 6-13 5-31-1-25-4-22-9-22-13-13-10-5-12-3-13 0zM41-74l10 6 0 11-9 19 0 12-4 4-6 1-5-5-1-5 0-26 3-11 5-5zM321-168l0 52-10 5-8 10-1 18 4 7-9 7-9 13-2 14 3 16 5 9 8 8 14 7-4 9 0 9 4 10 8 8 8 4 17 0 10-5 10-10 0-2-12-9-9 6-10 1-6-6 0-9 5-6 15-6 9-10-15-11-14 7-9 0-7-4-7-6-2-6 0-9 4-7 7-7 9-2 26 0 3-10-2-25-2-5-14-11 0-8 13-4 7-7 3-6 0-14-4-9-8-5zM319-93l7-5 5 0 5 4 2 5 0 7-16 1-4-5zM338-154l3 0 5 5 0 7-4 4-5-1zM152-168l0 52-10 5-9 13-1 9 4 13-10 9-5 8-4 12 0 8 4 15 3 6 10 10 12 6-3 8 0 11 6 12 14 9 18 0 10-5 8-9 2-3-13-9-9 6-10 1-6-6 0-10 4-5 7-1 10-6 8-9-15-11-14 7-9 0-6-2-10-13 0-11 3-5 11-9 32-2 3-10-1-23-4-7-14-12 0-6 14-4 6-6 4-9 0-11-5-11-6-4zM149-92l5-5 7-1 7 6 1 10-16 1-4-5zM168-154l4 0 5 5 0 6-4 5-6-1z"/>
<path id="t69" fill-rule="evenodd" d="M348-108l-7 2 2 19 11 1 5 8 3 10 0 27-3 10-6 8-10 0-2 19 3 2 12 0 11-5 7-7 5-10 4-18 0-26-5-20-5-9-10-9zM423-114l-11 7-5 10 0 14 4 7-9 7-9 13-2 13 1 10 7 16 12 10 15 6 20-1 1 20-34 1-4-3 0-5-18-2-2 15 4 9 4 4 7 2 62 0 0-68-17 0-8 6-13 1-7-4-7-6-2-6 1-13 8-8 11-4 26 0 3-10 0-20-4-10-14-11zM424-93l7-5 5 0 5 4 2 5 0 7-16 1-4-6zM18-109l-7 12 0 15 5 9-8 11-4 21 3 15 5 10 11 10 14 5 19-1 11-6 16 7 13 0 13-6 10-14 5-21-1-37-4-13-5-9-10-8-10-4-17 0-10 4-8 6-8-9-13-4-11 2zM32-62l16 0-9 13 12 13 2-2 6 1 0 8-6 7-16 1-8-3-6-12 0-12 3-8zM83-94l10 2 8 8 5 20 0 16-3 15-4 7-8 7-4 0-9-7 0-16-5-9-9-5 7-27 6-9zM27-92l5-5 10 0 5 6 1 9-19 1-2-3zM513-147l-14 4-6 4-9 8-5 12 20 6 7-9 8-4 9 0 8 3 8 7 7 13 3 21 0 24-5 21-11 13-7 2-17-1-5-3-6-7-2-13 2-8 5-5 31-2 2-16-4-12-6-8-14-6-11 0-7 2-7 8-4 12 3 10-5 5-4 10-1 17 6 20 12 12 13 5 21 1 19-6 14-14 5-10 3-15 2-38-4-23-4-11-7-13-8-7-11-6-11-3zM499-79l5-8 7 0 5 4 2 6-16 1zM163-144l-7 3-10 9-7 13 20 5 5-7 12-5 10 0 12 5 10 12 5 13 3 17 0 36-3 10-4 6-6 5-7-1-4-6 0-9 7-14 3-9-1-13-4-9-6-6-12-5-23 1-12 9-5 8-3 13-2 27 5 22 9 10 9 3 11 0 11-7 15 7 12 0 8-2 7-4 7-9 6-15 3-12 0-35-4-25-4-11-8-17-5-5-15-8-12-3-15 0zM171-74l8 5 2 11-8 15-1 16-5 5-5 1-6-8 0-29 3-10 5-5zM317-152l-20 0-1 10-4 9-33 36-10 20-2 13 0 21 4 16 6 11 6 7 15 7 20 1 16-6 10-10 8-16 2-28-6-23-12-15-8-4-15-3 16-20 7-13zM287-87l9 0 7 4 8 11 2 10 0 16-2 10-10 13-8 2-10-1-6-4-5-6-4-11 1-28 9-12z"/>
<path id="t70" fill-rule="evenodd" d="M482-112l-9 10-2 9 1 11 4 8 6 6 16 9-7 8-4 0-1-3-18 0 1 25 8 16 11 9 13 3 20-1 12-6 16 7 12 0 13-5 10-11 7-21-2-39-5-16-7-11-14-9-11-3-18 3-13 10-8-8-9-3-10-2zM526-57l3 11 0 7-3 10-7 6-7 2-11 0-7-2-5-5-2-6 10-2 9-5 6-7 5-11 2-3zM542-94l11 0 5 2 10 13 3 8 0 34-4 10-9 8-6 0-6-4 2-9-1-27-5-10-15-12 10-11zM491-96l10-1 5 5 1 13-4 5-7-3-7-6-1-9zM96-119l-14 3-13 10-10-7-7-3-10 0-13 5-8 14 0 14 3 7-8 7-5 6-5 12 0 19 5 13 16 13 11 4 19 3 0 38 20 0 0-43 15-8 11-10-12-15-13 10-1-1 0-29 16-2 6-5 4-8 0-16-2-10 2-11zM46-63l11 1 0 39-5 2-16-3-8-8-2-6 0-9 3-7 8-7zM84-96l4 8 0 10-5 5-5 0 0-14zM38-93l6-5 5 0 8 7 0 9-16 1-4-6zM399-147l-10 3-8 5-9 8-5 12 20 5 10-10 15-2 14 9 5 8 3 11 3 17 0 22-4 18-4 8-8 9-8 2-11 0-10-4-8-7-5-13 0-28 4-9 4-3 2 3-1 24 3 7 5 5 5 3 11 0 6-3 6-7 3-9 0-21-5-13-9-5-9 0-6 4-6-4-11 0-13 10-7 20 0 29 6 21 12 14 19 7 18 0 11-2 11-6 8-8 5-9 5-15 2-20-1-32-5-21-6-13-9-10-18-9zM406-87l5 1 2 10-1 12-4 5-2 0-3-4zM243-164l-9-4-25 0-1 55-9-3-13 2-23 11-7-8-8-3-10-2-11 3-8 6-5 10 0 14 5 10 12 9-17 20 2 18 2 0 4 4 0 10 6 9 6 2 10 0 13-8 6 6 8 2 7 0 11-7 12 7 12 0 14-6 6-7 6-20 2-25-3-18-4-11-7-13 0-21 10-2 6-4 6-10 0-16zM171-66l6 8 2 10 0 14-3 11-7 2-5-5 0-17-16 0-1 17-4 5-4 0-3-3 0-9-3-8 24-25zM188-94l11 0 7 2 8 10 4 10 1 35-5 14-5 4-7-2-5-6 2-12-1-18-6-16-6-6-13-5 5-5zM136-97l7 0 6 6 0 5-8 10-8-5-2-6 0-4zM227-154l5 1 2 4 0 7-3 4-5-1zM293-169l-16 3-8 4-8 9-4 9 0 13 4 9 7 8 8 3 31 2 14 8 6 13 2 17-1 19-4 14-10 12-8 4-13 0-9-4-7-7-5-11-1-24 2-11 5-7 5 5-2 14 1 11 6 9 5 3 11 0 10-8 4-11 0-23-4-10-7-6-10 0-6 4-7-4-11 0-9 5-6 9-4 10-2 27 5 24 4 8 8 10 9 5 13 3 17 0 14-3 9-5 8-10 8-18 4-31-2-18-3-16-10-16 10-13 1-15-5-10-15-10-16-3zM299-88l5 5 0 19-6 6-2-3 1-25zM319-148l7 0 5 5 0 6-5 5-8 0-4-5 0-6zM278-142l6-6 7-3 8 2-2 8 0 10-14 0-5-5z"/>
<path id="t71" fill-rule="evenodd" d="M138-108l-7 2 2 19 9 0 7 10 3 14 0 15-4 19-6 6-9 0-2 20 15 1 12-6 10-15 4-14 1-24-4-22-6-13-9-8zM22-108l-8 7-5 10-5 30 3 28 7 19 12 10 13 3 17-1 11-6 10 6 17 1 13-5 11-15 5-20 0-31-5-20-5-9-10-8-10-4-16 0-11 5-4 4-8-7-7-2-14 0zM79-93l13 1 6 6 5 15-1 35-4 9-6 6-9 0-5-3 0-23-9-11 3-25 4-8zM39-94l9 2 5 6-2 20-8 8 9 15 5-3 4 7-2 11-8 7-14-1-6-6-5-14-2-16 3-21 4-9zM349-116l-15 3-8 4-9 6-9 11-7 16-4 18 0 35 5 19 5 10 17 17 14 5 23 1 16-5 11-8 9-14 2-13-21-2-2 9-9 8-9 4-12 0-12-5-11-14-5-16-1-19 5-26 10-15 7-5 9-2 18 2 10 9 3 10 0 20-3 10-7 5-7 0-6-6 1-9 5-5 6-1 0-18-36 0 0 18 7 1-3 15 1 7 5 9 6 5 10 4 15 0 11-5 12-14 5-17 0-20-7-18-10-12-15-9zM281-168l-25 0-2 56-6-2-15-2-14 3-11 5-15 15-9 20-3 20 0 25 5 22 6 13 10 11 20 10 24 1 12-3 9-5 9-9 6-11 2-12-21-2-4 10-10 9-6 2-17-1-5-3-13-13-6-22 0-22 4-18 6-11 7-7 14-5 14 1 11 7 6 15 0 13-3 14-8 6-7 0-5-5-2-5 5-9 9-2 0-18-37 0 0 18 7 1-2 7 0 13 3 9 7 6 7 4 20 1 13-6 8-12 5-15 2-15-4-18-9-15 0-23 10-2 6-4 7-10 1-8-4-15-5-5zM273-154l5 1 4 6-1 5-4 4-5-1z"/>
<path id="t72" fill-rule="evenodd" d="M277-68l0 14 52 0 0-14zM163-137l-19 6-8 8-4 6-3 9 0 12 7 14 12 10-10 6-9 10-5 13 0 15 5 12 5 7 9 6 10 4 19 1 15-4 15-11 6-13 1-15-6-17-7-8-12-6 8-4 10-12 2-8-1-18-6-12-10-7-15-4zM158-64l10-2 10 3 11 10 3 5 0 21-5 8-9 6-22 0-10-8-5-8-2-10 3-10 9-12zM159-123l19 1 10 10 1 18-5 10-7 6-19 0-10-9-2-5 0-17 2-5zM53-137l-7 1-13 7-10 11-4 7-5 19-1 38 4 22 7 18 17 13 21 3 17-8 8-7 6-11 6-27 0-37-2-14-9-20-9-9-7-3zM51-123l15 1 8 8 5 10 4 16 1 20-3 32-7 14-12 10-11 0-13-10-6-15-3-15 0-32 3-15 6-14z"/>
<path id="t73" fill-rule="evenodd" d="M146-126l-10 4-5 6 7 9 5-4 9 0 7 8 4 7 4 28-1 24-5 17-7 8-11 1-5-4-9 10 10 8 12 1 11-4 9-9 5-8 6-28 0-26-4-20-6-14-10-10zM1333-131l-11-3-10 0-8 2-12 11-5 13-11-3-15 3-9 5-9 10-7 20 0 37 7 23 9 9 12 3 13-1 12-10 5-10 5 11 5 5 14 5 11-1 8-4 7-7 8-21 0-23-5-19-8-10 7-13 0-14-4-9zM1264-93l5-3 13 0 6 4 3 13 30 0 6 2 5 5 5 14 1 14-2 15-9 11-13 1-8-7-5-17 0-12-13 0-4 24-8 11-13 1-7-6-5-13-2-27 3-13 5-10zM1309-119l14-2 9 8 1 12-5 9-27-2 1-18zM1086-129l-10 12-2 16 7 14 16 13-23 28 3 12 6 3 0 14 4 10 7 5 12 1 7-2 9-11 7 10 10 3 10-1 12-9 6 7 12 3 13-1 7-4 9-8 8-20 2-24-2-31-8-22-5-7-15-13-12-3-12 0-10 2-15 9-7 7-10-12-10-5-14-1zM1142-82l9 10 3 13 0 26-2 9-6 7-10 0-7-9-1-18-12 0 0 13-3 9-5 5-9 0-5-7 0-14-3-9 31-35 5-2 9 0zM1159-118l13-1 14 6 8 10 7 16 2 24-1 21-6 19-9 7-14-1-6-7 2-14 0-19-2-14-5-12-9-9-17-6 12-14zM1098-121l9 0 5 3 7 11-1 8-14 15-10-5-3-4-4-9 2-12zM208-129l-10 12-1 15 2 9 5 7 17 10-20 24-3 6 3 10 3 0 4 4 0 10 5 10 14 9 14 2 15-1 12-5 4-4 12 8 12 2 12-1 13-6 10-14 6-24-1-41-5-17-8-14-11-10-13-5-18 0-8 2-10 7-10 10-2-2-4-8-13-9-13-1zM244-81l8 0 6 3 8 9 3 11 0 21-2 8-10 11-8 2-12 0-8-2-7-8-3-16-5-5 24-29zM283-118l14 0 7 4 9 8 8 18 2 24-2 26-8 15-11 7-13 0-7-5-1-3 3-13 0-19-3-16-4-7-10-10-14-4 18-19zM219-121l14 2 6 6 3 6-1 8-13 15-10-4-6-6-3-7 0-10zM59-171l-12 3-11 5-10 9-8 13 15 5 3-6 7-7 10-5 21 1 8 4 9 8 8 20 4 24 0 30-6 28-5 8-13 12-7 2-18 0-12-5-10-10-5-10-4-15 0-24 4-16 9-9 7 4-1 31 5 13 7 5 13 1 6-2 5-5 5-13 1-20-5-17-5-7-5-2-11 0-6 4-10-4-9 0-9 4-6 6-5 10-4 16 0 29 3 12 7 18 13 14 17 7 19 1 9-1 15-6 11-10 6-10 7-18 2-15 0-45-7-31-12-19-16-11zM61-107l5 1 6 10 0 22-6 10-7 0-5-7 2-32zM428-176l-15 2 0 7-5 11-12 17-28 28-9 15-5 15-1 32 5 20 8 12 8 9 14 6 16 1 19-5 8-5 8-10 9-20 3-17-2-21-5-17-5-8-10-10-15-7-18 0 13-13 12-15 6-13zM411-107l6 3 14 16 3 14 0 23-6 19-9 10-10 5-17 0-8-4-7-7-5-9-4-15 1-24 5-13 13-14 10-4zM1054-193l-6-3-24 0-1 65-9-3-18 1-15 7-13 10-4-7-6-6-14-5-8 0-13 5-9 10-2 10 2 16 9 11 13 6-24 29 4 14 5 2 1 18 7 10 9 2 10-1 6-4 5-8 8 10 10 3 14-2 7-8 9 8 16 2 6-1 12-6 7-10 6-21 2-33-7-31-5-10-7-9 0-20 2-2 9 0 8-4 7-10 1-21-2-7zM979-82l8 8 5 13 1 17-1 12-4 10-5 5-10 0-6-9-1-18-13 0 0 16-2 6-8 6-6-1-4-4-1-18-4-8 31-35 5-2 9 0zM997-118l12-1 13 5 9 8 7 18 3 16-2 31-6 18-9 7-13-1-7-7 3-12 0-25-5-18-4-7-11-8-14-4 10-11zM936-121l8 0 5 3 8 10 0 7-14 17-9-4-8-10 0-14 3-5zM1037-184l10 1 6 9-1 12-9 6-5 0-2-2zM824-196l-22 8-14 12-6 15 0 14 5 11-16 7-9 10-3 8 3 18 9 11 10 5 1 4-23 26 4 14 5 0 3 4 2 13 6 8 7 4 15 3 8 0 17-3 10-7 10 8 16 2 6 7 3 6 0 15-3 6-10 10-14 5-18 1-18-3-12-9-5-9 0-6-15 0 0 7 3 12 14 13 24 9 27 0 14-4 14-7 7-8 5-10 2-22-8-18 11-10 8-18 1-43-2-15-5-14-7-10-7-7 7-9 7-14 0-16-5-12-8-9-15-9-16-4zM814-81l7 3 8 11 3 9 0 21-3 8-8 10-10 3-13 0-11-6-4-6-1-13-6-5 31-35zM844-117l12 0 8 4 10 10 8 19 0 46-6 15-10 7-14 0-8-5-1-3 4-12 0-21-4-15-10-15-6-4-10-2 17-19zM783-121l9 0 5 3 7 10 0 7-13 17-13-7-5-7 0-14 4-5zM867-172l9 13 0 12-5 10-7 6-26 0-22 15-14-18-5-13 0-11 5-10 9-8 15-5 26 2zM733-194l-27-2-2 62-11 3-7 7-12-8-7-2-10 0-13 5-8 10-3 8 3 17-12 1 0 14 12 1-4 5-4 11-1 25 6 21 8 9 8 5 13 1 11-3 6-7 7-11 5 11 8 8 9 2 13-1 7-4 11-15 4-16 0-19-4-16-8-14 6-15 0-11-4-10-15-12 0-8 3-2 8 0 8-4 5-5 4-9-2-21zM647-71l6-6 8-2 50 0 7 2 6 8 4 12 0 21-4 12-8 7-13-1-9-11-2-12 0-12-14 0 0 14-5 15-9 7-12-1-6-6-4-12 0-20zM701-119l12-2 9 7 2 5 0 7-5 10-27-2 0-15zM649-116l8-5 12 2 9 10 1 15-28 1-4-5-1-6zM718-184l10 1 6 9-1 12-9 6-5 0-2-2zM549-196l-13 5-14 10-10 20 0 14 5 14 9 10 8 5-2 6 0 11 5 10-16 15-5 9-3 9 0 20 5 14 8 10 10 7 11 5-4 16 1 8 5 10 13 10 20 2 17-8 9-12-11-7-9 10-6 2-13 0-8-7-3-6 0-9 4-8 19-5 7-5 9-10-11-8-13 10-7 2-17-1-7-4-10-10-3-5-1-19 6-12 10-9 7-2 36 0 4-17-3-21 13-7 6-8 4-7 2-15-1-9-5-11-14-14-19-8zM547-114l7-7 14 2 8 8 1 15-28 3-5-10zM531-167l7-7 15-7 19 0 12 5 10 10 4 13-1 9-4 7-11 9-4 0-5-4-9-2-13 1-9 5-11-10-4-9 0-12z"/>
<path id="t74" fill-rule="evenodd" d="M424-108l-7 2 2 19 12 1 5 8 2 10 0 27-2 10-7 8-10 0-2 19 4 2 11 0 11-5 8-7 5-10 3-18 0-26-5-20-5-9-10-9zM41-112l-15 6-8 7-7 10-8 18-1 27 4 16 6 11 7 8 15 7 19 1 18-7 10-15 2-9 0-20-2-9-9-12-9-4-14 0-7 4-6 6-4 9 0 11 4 9 11 9 17 0-8 7-15 1-5-2-12-14-3-17 1-12 5-12 12-13 7-2 10 0 13 9 14-13-11-9-14-6zM53-59l6 0 5 6-1 6-5 4-5 0-5-5 0-6zM554-112l-11-4-12 2-13 8-6 12-20 0-8 3-8 9-7 14-2 20 2 24 5 12 7 6 12 5 9 0 9-2 10-11 7 10 9 3 10 0 10-3 7-8 7-17 0-23-5-15-5-6 5-9 0-15-5-10zM496-73l3-3 10 0 4 4 1 9 29 1 5 5 4 11 0 10-3 9-5 5-7-1-6-9-3-16-16 0 0 7-4 13-7 6-7-1-6-10-1-23 2-8zM529-92l5-5 9 0 6 8-1 7-19 1zM394-112l-11-4-16 3-8 5-7 14-20 0-6 2-9 8-9 17-1 31 5 20 4 7 6 5 11 3 14-1 10-9 2-5 10 13 7 2 11 0 7-2 8-6 7-17 2-21-3-12-7-13 5-12 0-12-4-8zM332-69l7-7 10 0 3 3 2 10 29 1 4 4 4 10 0 16-4 8-4 2-5 0-5-4-5-12 0-10-16 0-1 11-4 10-6 5-5 0-7-6-2-8 0-22zM369-93l5-4 10 1 4 5-1 9-18 1zM128-116l-12 5-8 10-2 12 3 13-10 9-5 8-3 12 1 15 6 14 10 10 11 6-2 8 0 11 6 12 14 9 17 0 10-5 9-9 1-3-12-9-9 6-10 1-6-6 0-10 4-5 7-1 10-6 8-9-15-11-14 7-13-1-10-9-2-5 0-11 9-11 11-4 25 0 2-5 2-24-5-12-10-9-8-3zM123-92l5-5 6-1 8 6 1 10-16 1-4-5zM229-168l-20 7-10 9-7 16 0 12 4 8-13 8-5 9-1 11 5 14 11 10 10 5-7 8-3 0-1-3-18 0 0 22 8 19 14 10 10 2 13 0 9-2 11-8 13 9 16 1 15-6 8-9 6-20 0-31-3-11-6-15-9-10 10-19 0-17-5-12-8-8-10-5-15-4zM223-61l6 7 3 8 0 8-4 10-10 7-14 0-8-6-3-7 14-4 9-9zM246-93l10 0 6 2 9 9 5 14 0 34-3 7-10 8-6 0-8-7 2-28-4-10-9-9-9-3 4-7 9-9zM199-97l8 0 6 8 0 5-5 10-9-4-5-6 0-9zM212-132l2-5 12-9 10-2 17 1 9 4 5 5 2 5 0 10-6 10-19 0-18 9-12-13-2-6z"/>
<path id="t75" fill-rule="evenodd" d="M519-112l-10 13 0 17-10 1 0 18 8 1-4 11 0 23 6 16 8 8 10 3 9 0 10-3 7-10 9 10 9 3 10 0 7-2 10-9 6-17 0-23-2-9-8-11 5-11 0-14-2-6-9-9-11-4-11 2-12 6-11-6-7-2zM524-54l7-8 3-1 40 0 8 6 2 6 2 13-3 11-6 5-8-1-6-10-1-15-16 0-2 15-3 7-5 4-5 0-5-4-3-5-1-12zM562-89l6-8 9 0 5 5 1 5-4 6-16 0zM527-94l4-3 8 0 5 5 2 10-18 1-2-2zM123-109l-5 6-2 7 0 12 5 11 10 9-17 18 0 20 4 0 3 3 0 10 2 6 6 5 15 1 5-2 7-8 3 5 7 4 12 1 13-10 5-11 2-12-1-25-8-17-16-8 4-4 11-5 16 1 10 9 5 11 2 36-4 10-14 13-6 9-4 11 0 12 4 10 11 9 15 1 10-3 6-9 2-13-17 0 0 4-3 4-4 0-5-8 2-10 20-20 7-17 0-38-5-17-7-10-11-10-12-5-20 0-9 2-11 8-10-9-13-4-11 2zM168-67l8 8 2 7 0 21-2 7-4 3-8-3-1-19-16 0 0 16-5 6-4 0-4-5 0-10-2-5 26-26zM146-97l5 5 0 4-12 11-5-4-2-8 5-8zM96-119l-14 3-13 10-10-7-7-3-10 0-13 5-8 14 0 14 3 7-8 7-5 6-5 12 0 19 5 13 16 13 11 4 19 3 0 38 20 0 0-43 15-8 11-10-12-15-13 10-1-1 0-29 16-2 6-5 4-8 0-16-2-10 2-11zM46-63l11 1 0 39-5 2-16-3-8-8-2-6 0-9 3-7 8-7zM84-96l4 8 0 10-5 5-5 0 0-14zM38-93l6-5 5 0 8 7 0 9-16 1-4-6zM302-152l-1 9-5 11-28 30-12 21-4 15 0 25 4 14 5 10 8 9 19 7 20-1 11-5 5-5 9 8 10 3 11 0 9-2 8-6 5-9 2-16-17 0-2 6-5 6-8 0-7-10 0-24 4-18 15-25 11-25 2-28zM291-87l8 0 12 6 3 7 4 16-1 17-4 10-6 7-9 3-10-1-10-7-4-8-2-12 0-10 4-15 8-10zM348-133l0 10-19 32-12-11-20-4 14-15 7-12zM484-166l-7-2-24 0 0 51-14 9-11-6-7-2-17 4-10 13 0 17-10 1 0 18 8 1-4 11 0 23 6 16 8 8 10 3 14-1 5-2 8-10 8 10 9 3 10 0 7-2 10-9 6-17 0-23-2-9-8-11 5-11 0-14-3-7-12-10 0-8 15-5 7-7 2-17-4-10zM409-54l7-8 3-1 40 0 8 6 2 6 2 13-3 11-6 5-8-1-6-10-1-15-16 0-2 15-3 7-5 4-5 0-5-4-3-5-1-12zM447-89l6-8 9 0 5 5 1 5-4 6-16 0zM412-94l4-3 8 0 5 5 2 10-18 1-2-2zM469-154l5 1 4 5 0 4-5 6-5-1z"/>
<path id="t76" fill-rule="evenodd" d="M112-106l0 18 21 1-22 31-5 14 0 19 5 11 10 9 8 2 12 0 7-2 9-8 5-11 1-12-17 0-2 7-8 6-9-5-3-7 3-11 5-10 25-34 0-18zM302-108l-11 15-5 21 1 38 4 12 5 9 6 6 19 6 15-1 12-6 15 7 11 0 13-5 7-7 5-10 5-30-2-28-8-18-8-9-13-5-20 1-11 8-14-9-15 0zM359-93l13 1 7 8 4 11 1 20-2 19-5 10-5 3-9 0-5-3 0-24-4-6-5-4 3-10 0-14 2-6zM321-94l6 1 6 7-1 18-9 10 9 15 5-3 4 5 0 10-10 10-12 0-10-10-3-13 0-28 2-11 6-9zM453-147l-10 3-9 5-8 8-5 12 20 5 10-10 15-2 13 9 5 8 4 11 3 17 0 22-4 18-4 8-9 9-7 2-11 0-10-4-8-7-5-13 0-28 4-9 4-3 2 3-1 24 2 7 5 5 5 3 12 0 6-3 6-7 3-9 0-21-5-13-9-5-9 0-6 4-6-4-12 0-12 10-8 20 0 29 7 21 12 14 19 7 17 0 12-2 11-6 7-8 5-9 5-15 3-20-1-32-5-21-7-13-8-10-18-9zM459-87l5 1 3 10-1 12-4 5-3 0-2-4zM42-147l-14 4-6 4-8 7-6 11 20 8 6-9 9-4 10 0 9 4 7 8 5 10 4 20 0 28-4 17-8 12-10 5-18-1-10-9-2-6 0-13 5-7 6-3 26 0 1-3 0-15-5-13-6-6-12-5-10 0-8 2-6 7-4 7 1 16-7 12-3 16 3 15 5 10 10 10 14 6 22 1 20-7 14-16 7-28 0-36-3-20-10-21-10-10-10-5-10-3zM29-83l4-4 6 0 7 5 1 5-16 1zM214-168l-13 4-12 6-5 5-6 11 0 24 6 11 7 5-9 11-8 19-3 21 0 20 6 28 14 20 17 10 13 2 15 0 17-6 14-12 5-10 2-12-21-2-4 10-7 7-9 4-14 0-8-4-10-10-8-18-1-27 2-15 8-16 12-10 15-2 15 5 5 5 5 12 0 18-6 13-4 3-7 0-6-6 1-10 5-4 6-1 0-18-36 0-1 18 8 1-3 9 0 8 2 9 6 8 14 6 15 0 11-5 7-6 6-12 4-16-3-25-10-20 6-5 7-11 1-19-8-16-8-8-23-7zM198-136l13-10 21-2 16 5 8 7 1 9-3 9-6 6-16-4-26 4-5-5-4-9z"/>
<path id="t77" fill-rule="evenodd" d="M394-112l-6 6-4 8 0 16 10 14 14 6 3 4-8 7-4 0-1-3-16-2-1 18 2 12 5 10 9 9 16 6 20-1 13-6 12 6 15 1 10-2 8-5 10-16 3-27-3-32-10-20-15-10-12-3-20 4-11 9-7-8-8-3-10-2zM439-56l3 8 0 10-5 11-13 6-11 0-7-3-7-10 10-2 8-3 10-13 2-7 3-3zM454-94l13 0 6 3 5 7 5 12 0 36-4 9-8 8-7 0-6-4 4-15-3-23-3-7-8-8-9-5 9-10zM406-97l7 0 6 6 2 8-4 9-4 0-6-4-6-8 0-6zM18-109l-7 12 0 15 5 9-8 11-4 21 3 15 5 10 11 10 14 5 19-1 11-6 16 7 13 0 13-6 10-14 5-21-1-37-4-13-5-9-10-8-10-4-17 0-10 4-8 6-8-9-13-4-11 2zM32-62l16 0-9 13 12 13 2-2 6 1 0 8-6 7-16 1-8-3-6-12 0-12 3-8zM83-94l10 2 8 8 5 20 0 16-3 15-4 7-8 7-4 0-9-7 0-16-5-9-9-5 7-27 6-9zM27-92l5-5 10 0 5 6 1 9-19 1-2-3zM313-147l-14 4-6 4-9 8-5 12 20 6 7-9 8-4 10 0 7 3 8 7 8 17 2 15 0 27-3 18-5 8-8 7-6 2-13 0-10-4-6-6-5-10-1-30 2-9 5-5 3 3 0 27 5 8 7 4 12 0 10-8 5-19-2-16-3-9-9-6-10 0-6 4-7-4-10 0-12 9-6 12-3 10 0 27 4 16 4 7 11 13 19 7 18 0 20-7 14-16 8-30 0-30-4-23-4-11-7-13-8-7-11-6-11-3zM319-87l5 3 2 16-2 5-3 4-4-3-1-4zM262-166l-8-2-23 0-2 55-10-3-12 2-23 11-10-9-15-4-13 4-8 8-4 12 2 10 5 10 10 9-15 17 0 20 3 0 3 3 1 14 4 5 9 3 10 0 5-2 6-8 4 5 10 5 11-1 7-6 13 7 11 0 13-5 6-6 4-6 5-20 0-29-5-20-9-14 0-21 14-4 8-11 0-20zM189-67l8 8 2 7 0 21-2 7-4 3-7-3-2-19-16 0 0 16-5 6-2 0-5-6 0-9-3-5 26-26zM208-94l13 0 7 3 6 8 4 9 3 12-2 29-3 9-7 5-5 0-6-5 1-28-5-19-6-7-14-6 7-7zM156-97l8 0 7 8-3 6-7 7-9-8 0-8zM247-154l4 0 5 5 0 6-4 5-6-1z"/>
<path id="t78" fill-rule="evenodd" d="M357-106l0 18 19 0 1 2-14 18-11 20-3 10 2 17 6 12 11 7 21 0 9-5 4-5 5-12 0-10-18 0-1 8-9 5-8-6-2-11 8-18 24-31 0-19zM719-111l-13-5-13 2-11 7-8 13-18 0-10 5-7 6-6 11-2 10 0 28 3 16 9 12 13 5 10 0 7-2 10-13 5 9 11 6 10 0 10-3 9-9 5-14 1-16-3-19-7-10 5-14-1-12zM654-68l9-8 9 0 4 3 1 10 26 0 5 2 4 5 2 9-1 19-6 6-8-1-6-9-1-16-18 0 0 10-5 12-5 4-7-1-5-8-3-13 2-15zM693-93l5-4 10 1 4 5-1 9-18 1-2-2zM16-112l-7 6-5 15 5 17 13 10-16 18 1 20 2 0 4 4 0 11 6 8 7 2 10 0 5-2 6-8 7 8 7 2 11-1 7-6 14 7 10 0 13-5 7-7 8-23 0-33-9-27-11-12-13-6-12-2-17 4-12 9-3 0-15-11-10-2zM62-66l7 13 2 16-3 11-5 5-6-2-1-20-18 0 0 17-2 4-5 1-4-3-1-13-3-4 23-23 5-3zM78-94l16 1 9 7 5 10 3 12 0 25-3 11-7 9-7 0-6-7 1-28-5-17-7-8-13-5zM27-97l7 0 7 6-2 7-7 8-4-1-6-7 0-8zM171-144l-12 6-7 7-5 12 20 5 5-7 6-3 15-2 9 3 11 10 6 14 4 21-1 46-3 6-5 4-3-4 2-13-4-8-6-4-20 0-6 3-5 7 2 14-1 3-5 2-4-4-3-15 0-23 5-18 3-2 5 2 0 15 4 9 11 5 8 0 9-4 3-5 3-11-1-16-7-10-5-3-10 0-7 4-6-4-17 1-8 8-8 19-2 26 3 27 4 9 8 8 8 3 10 0 7-2 5-5 2-5-1-18 4-5 3 0 3 3 0 21 7 9 15 4 0 17-47 1-3-2 0-6-20-2-1 12 3 10 3 5 9 3 76 0 0-60 5-20 0-36-2-20-5-17-11-19-15-10-14-4-15 0zM192-88l5 5 0 9-4 3-4-3 0-12zM324-152l-20 0-1 10-4 9-32 36-10 20-3 13 0 21 4 16 6 11 8 8 14 6 20 1 16-6 10-10 7-16 3-28-6-23-13-15-7-4-15-3 16-20 6-13zM294-87l9 0 8 4 7 11 3 10 0 16-3 10-10 13-7 2-10-1-7-4-5-6-3-11 1-28 9-12zM452-168l-14 4-9 5-8 8-5 12 0 18 5 12 3 3-5 9 0 14 5 11-5 6-5 13 0 19 8 17 11 10 24 9 14 0 13-3 12-5 10-8 7-13 3-7 0-19-5-13-5-6 5-11 0-13-5-10 7-11 3-12-3-14-4-8-8-8-18-8zM436-54l7-8 5-1 39 1 9 11 0 14-8 10-9 5-11 3-15-2-10-5-6-6-4-11zM479-97l9 0 5 5 1 5-3 8-18-3 0-7zM436-91l5-6 10 0 5 5 1 10-18 3zM436-133l6-9 11-5 25 0 9 4 5 5 2 5 0 10-5 7-12 2-13 6-10-6-13-2-5-6zM563-169l-19 5-6 3-9 10-2 8 0 10 5 12 9 8 11 4 25 0 9 3 7 8 6 20 0 20-3 19-10 13-10 4-12 0-8-4-8-10-2-11 2-15 9-9 9 3 7-18-1-2-11-4-13 1-12 9-9 19-1 21 6 21 11 13 18 7 18 0 10-2 12-6 10-12 6-15 4-22 0-21-5-24-9-14 6-6 4-8 0-13-5-10-13-10-18-5zM548-139l4-5 5-3 24-1 11 4 4 3 0 8-5 5-9-3-29 0-5-5z"/>
<path id="t79" fill-rule="evenodd" d="M41-112l-15 6-8 7-7 10-8 18-1 27 4 16 6 11 7 8 15 7 19 1 18-7 10-15 2-9 0-20-2-9-9-12-9-4-14 0-7 4-6 6-4 9 0 11 4 9 11 9 17 0-8 7-15 1-5-2-12-14-3-17 1-12 5-12 12-13 7-2 10 0 13 9 14-13-11-9-14-6zM53-59l6 0 5 6-1 6-5 4-5 0-5-5 0-6zM291-111l-9 14 0 14 6 11 8 6 10 4 1 4-8 7-3-3-17 0-1 17 1 9 5 12 9 9 16 6 20-1 15-9 5 5 10 5 17 0-2 20-61 0-2-2 0-6-19-2-1 17 2 6 5 5 6 2 92 0 0-58 5-13 1-30-5-22-8-14-7-8-15-7-19 0-14 6-3 4-8-8-14-5-11 2zM331-58l5 9 0 13-4 9-9 6-14 0-7-3-5-10 10-2 6-3 9-10 4-9zM351-93l8 0 9 4 8 8 5 15 1 15-3 19-3 8-8 5-7 0-8-8 3-7 0-17-3-10-9-11-10-4 5-10zM303-97l9 0 5 6 1 5-5 12-7-3-8-9 0-5zM128-116l-12 5-8 10-2 12 3 13-10 9-5 8-3 12 1 15 6 14 10 10 11 6-2 8 0 11 6 12 14 9 17 0 10-5 9-9 1-3-12-9-9 6-10 1-6-6 0-10 4-5 7-1 10-6 8-9-15-11-14 7-13-1-10-9-2-5 0-11 9-11 11-4 25 0 2-5 2-24-5-12-10-9-8-3zM123-92l5-5 6-1 8 6 1 10-16 1-4-5zM448-147l-14 4-6 4-7 7-7 11 20 8 7-9 8-4 10 0 9 4 8 8 5 10 3 20 0 28-3 17-9 12-10 5-18-1-10-9-2-6 0-13 5-7 6-3 26 0 2-3 0-15-5-13-7-6-12-5-10 0-8 2-6 7-4 7 2 16-8 12-2 16 2 15 5 10 10 10 14 6 22 1 20-7 14-16 8-28 0-36-4-20-10-21-10-10-10-5-10-3zM436-83l3-4 7 0 6 5 1 5-16 1zM586-152l-20 0-2 10-3 9-33 36-10 20-2 13 0 21 3 16 7 11 6 7 15 7 20 1 16-6 10-10 8-16 2-28-6-23-13-15-7-4-15-3 16-20 6-13zM556-87l8 0 8 4 7 11 3 10 0 16-3 10-10 13-7 2-10-1-6-4-5-6-4-11 1-28 9-12zM212-169l-16 3-8 4-9 9-3 7 0 15 3 9 12 10 8 3 27 0 7 3 9 9 5 15-1 36-5 13-13 10-16 1-9-4-6-6-3-7 0-10 8-10 30-2 1-2 0-18-5-11-10-9-7-2-12 0-8 4-8 10 0 18-5 7-4 11 0 19 5 13 12 13 13 6 23 1 16-5 8-5 8-11 5-11 4-19 0-32-5-20-7-14 3-3 5-8 2-12-4-11-10-10-15-6zM198-82l5-5 6 0 5 5 2 5-17 1zM197-141l5-5 9-2 18 0 9 2 6 7 0 5-6 6-9-3-27 0-5-3z"/>
<path id="t80" fill-rule="evenodd" d="M117-108l-8 2 3 19 11 1 5 8 3 10 0 27-3 10-6 8-10 0-3 19 4 2 11 0 12-5 7-7 5-10 4-18 0-26-5-20-5-9-10-9zM171-112l-7 6-5 15 4 14 14 11-15 20 1 15 3 0 3 4 2 13 10 10 11 3 21-1 13-6 12 6 14 1 10-2 6-4 10-15 5-29-2-27-9-20-11-11-18-7-19 4-15 11-8-10-12-5zM201-64l6 0 7 6 4 9 0 16-2 6-5 5-18 1-7-6-2-12-2-5zM233-94l11 0 5 2 7 6 6 15 0 35-5 12-8 5-10-2-3-3 2-9 0-18-2-10-4-7-8-8-8-3 10-12zM183-98l8 1 5 6 0 5-9 10-10-7-1-5 1-5zM44-147l-10 3-8 5-9 8-5 12 20 5 10-10 15-2 14 9 5 8 3 11 3 17 0 22-4 18-4 8-8 9-8 2-11 0-10-4-8-7-5-13 0-28 4-9 4-3 2 3-1 24 3 7 5 5 5 3 11 0 6-3 6-7 3-9 0-21-5-13-9-5-9 0-6 4-6-4-11 0-13 10-7 20 0 29 6 21 12 14 19 7 18 0 11-2 11-6 8-8 5-9 5-15 2-20-1-32-5-21-6-13-9-10-18-9zM51-87l5 1 2 10-1 12-4 5-2 0-3-4zM362-152l-20 0 0 8-4 10-31 35-13 25-2 21 1 15 4 12 10 15 10 7 12 3 20-1 13-6 10-11 6-17 1-30-6-20-6-8-6-5-12-5-11-2 18-21 6-15zM332-87l9 0 6 3 6 6 5 12-1 29-9 13-10 3-9-1-11-9-5-16 0-14 3-11 10-12z"/>
</defs>
<use href="#cm" transform="translate(16,16) scale(0.99980,1.00143)"/>
<g transform="translate(16,16) scale(0.99980,1.00143)">
<use href="#t2" fill="#0b2c48" transform="translate(71.48,82.40) scale(0.08460,0.07100)"/>
<use href="#t3" fill="#0b2c48" transform="translate(251.39,82.40) scale(0.08400,0.09000)"/>
<use href="#t4" fill="#0b2c48" transform="translate(281.30,82.40) scale(0.08350,0.07100)"/>
<use href="#t5" fill="#8ecae6" transform="translate(53.04,111.30) scale(0.06410,0.05380)"/>
<text x="187.6" y="113.0" text-anchor="middle" font-family="Liberation Sans, sans-serif" font-size="14.4" fill="#0b2c48" stroke="#0b2c48" stroke-width="0.5">15</text>
<text x="405.4" y="113.0" text-anchor="middle" font-family="Liberation Sans, sans-serif" font-size="14.4" fill="#0b2c48" stroke="#0b2c48" stroke-width="0.5">17,65,351</text>
</g><g>
<polygon points="172.4,221.3 164.1,224.9 153.3,241.5 141.6,257.3 141.6,268.1 146.6,286.4 154.9,313.0 159.9,337.9 164.1,355.4 171.5,372.8 177.4,383.6 191.5,393.6 211.4,407.7 224.7,407.7 233.0,402.7 271.2,402.7 280.0,387.8 319.0,362.8 341.5,366.2 353.1,347.1 372.2,355.4 386.3,391.1 399.6,384.4 399.6,352.9 421.5,342.9 444.5,351.8 457.1,338.2 444.5,312.6 455.0,274.9 448.0,262.8 448.2,240.3 436.6,212.0 422.5,228.8 385.5,225.8 379.7,233.2 357.3,249.0 357.3,281.1 324.0,281.1 312.4,276.4 299.9,269.0 289.1,249.0 266.3,256.5 232.2,255.7 220.6,249.0 196.5,246.5 184.8,244.0 173.2,237.4" fill="#fcb614"/>
<polygon points="172.4,221.3 164.1,224.9 153.3,241.5 154.9,244.9 157.4,245.7 158.2,249.9 163.2,249.9 168.6,245.2 171.5,241.5 172.9,237.4" fill="#f9a01e" stroke="#fedba2" stroke-width="0.6" stroke-linejoin="round"/>
<polygon points="154.9,244.9 153.3,241.5 141.6,257.3 141.6,267.3 145.8,268.1 154.9,273.1 160.7,267.3 165.7,263.1 170.7,257.3 169.9,249.9 168.6,245.2 163.2,249.9 158.2,249.9 157.4,245.7" fill="#f6911e" stroke="#fedba2" stroke-width="0.6" stroke-linejoin="round"/>
<polygon points="141.6,267.3 145.8,268.1 154.9,273.1 153.3,278.1 156.6,286.4 164.1,292.2 163.2,299.7 165.7,303.4 158.2,304.7 157.4,308.0 159.9,308.8 159.6,313.0 154.9,313.0 146.6,286.4" fill="#f9a01e" stroke="#fedba2" stroke-width="0.6" stroke-linejoin="round"/>
<polygon points="156.6,286.4 165.7,283.1 167.4,278.1 179.9,271.8 180.7,275.6 176.2,283.1 177.4,293.1 179.9,306.3 172.4,305.0 165.7,303.4 163.2,299.7 164.1,292.2" fill="#f9a01e" stroke="#fedba2" stroke-width="0.6" stroke-linejoin="round"/>
<polygon points="232.2,255.7 266.3,256.5 289.5,249.0 299.9,269.0 312.4,276.4 309.1,280.6 309.9,290.6 314.4,291.7 314.1,297.2 298.3,298.0 291.6,289.7 285.8,297.2 282.0,311.3 271.2,315.5 252.1,309.7 246.3,312.2 241.3,304.7 231.4,298.0 216.4,300.5 208.1,293.9 196.5,279.8 196.5,273.9 208.1,266.5 220.6,268.1 229.7,274.8 243.0,272.3" fill="#f6911e" stroke="#fedba2" stroke-width="0.6" stroke-linejoin="round"/>
<polygon points="191.5,299.7 208.1,293.9 216.4,300.5 231.4,298.0 241.3,304.7 246.3,312.2 252.1,309.7 271.2,315.5 267.9,329.6 248.0,333.8 236.3,327.1 223.1,332.9 211.4,338.8 203.1,323.8 196.5,316.3 203.1,314.7 201.5,308.0 193.1,303.0" fill="#f9a01e" stroke="#fedba2" stroke-width="0.6" stroke-linejoin="round"/>
<polygon points="179.9,313.0 196.5,316.3 203.1,323.8 211.4,338.8 223.1,332.9 236.3,327.1 248.0,333.8 244.7,337.9 236.3,350.4 238.0,364.5 248.0,372.0 243.0,376.1 231.4,402.7 224.7,407.7 211.4,407.7 191.5,393.6 198.1,374.5 196.5,362.8 190.7,346.2 178.2,327.9 178.2,316.3" fill="#f6911e" stroke="#fedba2" stroke-width="0.6" stroke-linejoin="round"/>
<polygon points="156.6,323.0 178.2,328.8 190.7,346.2 164.1,355.4 159.9,337.9" fill="#f9a01e" stroke="#fedba2" stroke-width="0.6" stroke-linejoin="round"/>
<polygon points="337.3,281.1 357.3,281.1 357.3,249.0 379.7,233.2 385.5,225.8 422.5,228.8 436.6,212.0 448.2,240.3 448.0,262.8 455.0,274.9 444.5,312.6 457.1,338.2 444.5,351.8 421.5,342.9 399.6,352.9 399.6,384.4 386.3,391.1 372.2,355.4 353.1,347.1 341.5,366.2 319.0,362.8 319.9,351.2 315.7,337.9 321.5,335.4 328.2,337.9 339.8,332.9 339.8,327.9 345.6,327.1 349.5,309.7 339.0,296.4" fill="#f9a01e" stroke="#fedba2" stroke-width="0.6" stroke-linejoin="round"/>
<polyline points="173.2,237.4 171.5,241.5 170.7,257.3 179.9,267.3 189.8,266.5 191.5,275.6 196.5,279.8" fill="none" stroke="#fedba2" stroke-width="0.6" stroke-linejoin="round"/>
<polyline points="154.9,313.0 159.6,313.0 178.2,316.3" fill="none" stroke="#fedba2" stroke-width="0.6" stroke-linejoin="round"/>
<polyline points="164.1,355.4 190.7,346.2" fill="none" stroke="#fedba2" stroke-width="0.6" stroke-linejoin="round"/>
<polyline points="179.9,306.3 184.8,309.7 196.5,315.5 203.1,314.7" fill="none" stroke="#fedba2" stroke-width="0.6" stroke-linejoin="round"/>
<polyline points="248.0,333.8 244.7,337.9 236.3,350.4 238.0,364.5 248.0,372.0" fill="none" stroke="#fedba2" stroke-width="0.6" stroke-linejoin="round"/>
<polygon points="44.9,464.5 49.5,465.3 52.8,463.9 53.2,467.4 46.4,468.9" fill="#f7e21b" stroke="#f7e21b" stroke-width="0.4"/>
<polygon points="44.5,457.1 48.8,455.9 52.7,455.9 53.1,460.2 52.8,463.9 49.5,465.3 44.9,464.5 44.9,461.4" fill="none" stroke="#e8c92a" stroke-width="0.5"/>
<polygon points="46.4,468.9 53.2,467.4 57.1,474.8 55.2,477.7 47.8,476.3" fill="none" stroke="#e8c92a" stroke-width="0.5"/>
<polyline points="137.0,193.9 166.1,193.9 166.1,231.0" fill="none" stroke="#219ebc" stroke-width="1.3"/>
<circle cx="166.1" cy="231.0" r="2.6" fill="#219ebc"/>
<polyline points="137.0,220.9 152.9,220.9 152.9,258.0" fill="none" stroke="#219ebc" stroke-width="1.3"/>
<circle cx="152.9" cy="258.0" r="2.6" fill="#219ebc"/>
<polyline points="205.0,167.1 173.6,167.1 173.6,267.2" fill="none" stroke="#219ebc" stroke-width="1.3"/>
<circle cx="173.6" cy="267.2" r="2.6" fill="#219ebc"/>
<polyline points="205.0,193.9 185.1,193.9 185.1,254.1" fill="none" stroke="#219ebc" stroke-width="1.3"/>
<circle cx="185.1" cy="254.1" r="2.6" fill="#219ebc"/>
<polyline points="205.0,220.9 193.9,220.9 193.9,288.7" fill="none" stroke="#219ebc" stroke-width="1.3"/>
<circle cx="193.9" cy="288.7" r="2.6" fill="#219ebc"/>
<polyline points="137.0,274.2 168.5,274.2 168.5,291.2" fill="none" stroke="#219ebc" stroke-width="1.3"/>
<circle cx="168.5" cy="291.2" r="2.6" fill="#219ebc"/>
<polyline points="137.0,297.1 156.8,297.1" fill="none" stroke="#219ebc" stroke-width="1.3"/>
<circle cx="156.8" cy="297.1" r="2.6" fill="#219ebc"/>
<polyline points="137.0,320.2 169.5,320.2" fill="none" stroke="#219ebc" stroke-width="1.3"/>
<circle cx="169.5" cy="320.2" r="2.6" fill="#219ebc"/>
<polyline points="137.0,343.4 169.5,343.4" fill="none" stroke="#219ebc" stroke-width="1.3"/>
<circle cx="169.5" cy="343.4" r="2.6" fill="#219ebc"/>
<polyline points="137.0,366.9 178.3,366.9" fill="none" stroke="#219ebc" stroke-width="1.3"/>
<circle cx="178.3" cy="366.9" r="2.6" fill="#219ebc"/>
<polyline points="294.0,220.9 282.9,220.9 282.9,272.1" fill="none" stroke="#219ebc" stroke-width="1.3"/>
<circle cx="282.9" cy="272.1" r="2.6" fill="#219ebc"/>
<polyline points="294.0,407.6 283.0,407.6 283.0,352.7" fill="none" stroke="#219ebc" stroke-width="1.3"/>
<circle cx="283.0" cy="352.7" r="2.6" fill="#219ebc"/>
<polyline points="391.0,407.6 379.7,407.6 379.7,352.7" fill="none" stroke="#219ebc" stroke-width="1.3"/>
<circle cx="379.7" cy="352.7" r="2.6" fill="#219ebc"/>
<polyline points="259.5,432.7 247.9,432.7 247.9,322.1" fill="none" stroke="#219ebc" stroke-width="1.3"/>
<circle cx="247.9" cy="322.1" r="2.6" fill="#219ebc"/>
<polyline points="223.7,458.2 212.1,458.2 212.1,378.8" fill="none" stroke="#219ebc" stroke-width="1.3"/>
<circle cx="212.1" cy="378.8" r="2.6" fill="#219ebc"/>
<rect x="40.8" y="184.3" width="96.0" height="19.2" rx="9.6" fill="#072d46" stroke="#219ebc" stroke-width="0.9"/>
<circle cx="127.3" cy="193.9" r="9.75" fill="#219ebc"/>
<text x="127.3" y="197.6" text-anchor="middle" font-family="Liberation Sans, sans-serif" font-size="10.3" fill="#0b2c48" stroke="#0b2c48" stroke-width="0.25">A</text>
<use href="#t6" fill="#fff" transform="translate(51.00,197.30) scale(0.06481,0.05650)"/>
<rect x="51.6" y="211.3" width="85.2" height="19.2" rx="9.6" fill="#072d46" stroke="#219ebc" stroke-width="0.9"/>
<circle cx="127.3" cy="220.9" r="9.75" fill="#219ebc"/>
<text x="127.3" y="224.6" text-anchor="middle" font-family="Liberation Sans, sans-serif" font-size="10.3" fill="#0b2c48" stroke="#0b2c48" stroke-width="0.25">B</text>
<use href="#t7" fill="#fff" transform="translate(61.80,224.30) scale(0.06350,0.05650)"/>
<rect x="23.2" y="264.8" width="113.6" height="19.2" rx="9.6" fill="#072d46" stroke="#219ebc" stroke-width="0.9"/>
<circle cx="127.3" cy="274.4" r="9.75" fill="#219ebc"/>
<text x="127.3" y="278.1" text-anchor="middle" font-family="Liberation Sans, sans-serif" font-size="10.3" fill="#0b2c48" stroke="#0b2c48" stroke-width="0.25">D</text>
<use href="#t8" fill="#fff" transform="translate(33.40,277.80) scale(0.06019,0.05650)"/>
<rect x="39.4" y="287.5" width="97.4" height="19.2" rx="9.6" fill="#072d46" stroke="#219ebc" stroke-width="0.9"/>
<circle cx="127.3" cy="297.1" r="9.75" fill="#219ebc"/>
<text x="127.3" y="300.8" text-anchor="middle" font-family="Liberation Sans, sans-serif" font-size="10.3" fill="#0b2c48" stroke="#0b2c48" stroke-width="0.25">E</text>
<use href="#t9" fill="#fff" transform="translate(49.60,300.50) scale(0.06355,0.05650)"/>
<rect x="71.5" y="310.6" width="65.3" height="19.2" rx="9.6" fill="#072d46" stroke="#219ebc" stroke-width="0.9"/>
<circle cx="127.3" cy="320.2" r="9.75" fill="#219ebc"/>
<text x="127.3" y="323.9" text-anchor="middle" font-family="Liberation Sans, sans-serif" font-size="10.3" fill="#0b2c48" stroke="#0b2c48" stroke-width="0.25">F</text>
<use href="#t10" fill="#fff" transform="translate(81.70,323.60) scale(0.06008,0.05650)"/>
<rect x="65.3" y="333.8" width="71.5" height="19.2" rx="9.6" fill="#072d46" stroke="#219ebc" stroke-width="0.9"/>
<circle cx="127.3" cy="343.4" r="9.75" fill="#219ebc"/>
<text x="127.3" y="347.1" text-anchor="middle" font-family="Liberation Sans, sans-serif" font-size="10.3" fill="#0b2c48" stroke="#0b2c48" stroke-width="0.25">G</text>
<use href="#t11" fill="#fff" transform="translate(75.50,346.80) scale(0.05884,0.05650)"/>
<rect x="65.3" y="357.3" width="71.5" height="19.2" rx="9.6" fill="#072d46" stroke="#219ebc" stroke-width="0.9"/>
<circle cx="127.3" cy="366.9" r="9.75" fill="#219ebc"/>
<text x="127.3" y="370.6" text-anchor="middle" font-family="Liberation Sans, sans-serif" font-size="10.3" fill="#0b2c48" stroke="#0b2c48" stroke-width="0.25">O</text>
<use href="#t12" fill="#fff" transform="translate(75.50,370.30) scale(0.06821,0.05650)"/>
<rect x="205.1" y="157.5" width="74.8" height="19.2" rx="9.6" fill="#072d46" stroke="#219ebc" stroke-width="0.9"/>
<circle cx="214.6" cy="167.1" r="9.75" fill="#219ebc"/>
<text x="214.6" y="170.8" text-anchor="middle" font-family="Liberation Sans, sans-serif" font-size="10.3" fill="#0b2c48" stroke="#0b2c48" stroke-width="0.25">C</text>
<use href="#t13" fill="#fff" transform="translate(228.80,170.50) scale(0.06952,0.05650)"/>
<rect x="205.1" y="184.3" width="92.4" height="19.2" rx="9.6" fill="#072d46" stroke="#219ebc" stroke-width="0.9"/>
<circle cx="214.6" cy="193.9" r="9.75" fill="#219ebc"/>
<text x="214.6" y="197.6" text-anchor="middle" font-family="Liberation Sans, sans-serif" font-size="10.3" fill="#0b2c48" stroke="#0b2c48" stroke-width="0.25">H</text>
<use href="#t14" fill="#fff" transform="translate(228.80,197.30) scale(0.06427,0.05650)"/>
<rect x="205.1" y="211.3" width="70.5" height="19.2" rx="9.6" fill="#072d46" stroke="#219ebc" stroke-width="0.9"/>
<circle cx="214.6" cy="220.9" r="9.75" fill="#219ebc"/>
<text x="214.6" y="224.6" text-anchor="middle" font-family="Liberation Sans, sans-serif" font-size="10.3" fill="#0b2c48" stroke="#0b2c48" stroke-width="0.25">I</text>
<use href="#t15" fill="#fff" transform="translate(228.80,224.30) scale(0.06750,0.05650)"/>
<rect x="294.0" y="211.3" width="70.6" height="19.2" rx="9.6" fill="#072d46" stroke="#219ebc" stroke-width="0.9"/>
<circle cx="303.5" cy="220.9" r="9.75" fill="#219ebc"/>
<text x="303.5" y="224.6" text-anchor="middle" font-family="Liberation Sans, sans-serif" font-size="10.3" fill="#0b2c48" stroke="#0b2c48" stroke-width="0.25">J</text>
<use href="#t16" fill="#fff" transform="translate(317.70,224.30) scale(0.06865,0.05650)"/>
<rect x="391.0" y="398.0" width="101.0" height="19.2" rx="9.6" fill="#072d46" stroke="#219ebc" stroke-width="0.9"/>
<circle cx="400.5" cy="407.6" r="9.75" fill="#219ebc"/>
<text x="400.5" y="411.3" text-anchor="middle" font-family="Liberation Sans, sans-serif" font-size="10.3" fill="#0b2c48" stroke="#0b2c48" stroke-width="0.25">K</text>
<use href="#t17" fill="#fff" transform="translate(414.70,411.00) scale(0.07516,0.05650)"/>
<rect x="294.0" y="398.0" width="74.4" height="19.2" rx="9.6" fill="#072d46" stroke="#219ebc" stroke-width="0.9"/>
<circle cx="303.5" cy="407.6" r="9.75" fill="#219ebc"/>
<text x="303.5" y="411.3" text-anchor="middle" font-family="Liberation Sans, sans-serif" font-size="10.3" fill="#0b2c48" stroke="#0b2c48" stroke-width="0.25">L</text>
<use href="#t18" fill="#fff" transform="translate(317.70,411.00) scale(0.06418,0.05650)"/>
<rect x="259.5" y="423.1" width="69.5" height="19.2" rx="9.6" fill="#072d46" stroke="#219ebc" stroke-width="0.9"/>
<circle cx="269.0" cy="432.7" r="9.75" fill="#219ebc"/>
<text x="269.0" y="436.4" text-anchor="middle" font-family="Liberation Sans, sans-serif" font-size="10.3" fill="#0b2c48" stroke="#0b2c48" stroke-width="0.25">M</text>
<use href="#t19" fill="#fff" transform="translate(283.20,436.10) scale(0.06481,0.05650)"/>
<rect x="223.7" y="448.6" width="69.5" height="19.2" rx="9.6" fill="#072d46" stroke="#219ebc" stroke-width="0.9"/>
<circle cx="233.2" cy="458.2" r="9.75" fill="#219ebc"/>
<text x="233.2" y="461.9" text-anchor="middle" font-family="Liberation Sans, sans-serif" font-size="10.3" fill="#0b2c48" stroke="#0b2c48" stroke-width="0.25">N</text>
<use href="#t20" fill="#fff" transform="translate(247.40,461.60) scale(0.06265,0.05650)"/>
</g>
<use href="#cm" transform="translate(522.0,16) scale(1.00184,1.00143)"/>
<g transform="translate(522.0,16) scale(1.00184,1.00143)">
<use href="#t2" fill="#0b2c48" transform="translate(71.48,82.40) scale(0.08460,0.07100)"/>
<use href="#t21" fill="#0b2c48" transform="translate(252.11,82.40) scale(0.08400,0.09000)"/>
<use href="#t22" fill="#0b2c48" transform="translate(283.16,82.40) scale(0.08350,0.07100)"/>
<use href="#t5" fill="#8ecae6" transform="translate(53.04,111.30) scale(0.06410,0.05380)"/>
<text x="187.6" y="113.0" text-anchor="middle" font-family="Liberation Sans, sans-serif" font-size="14.4" fill="#0b2c48" stroke="#0b2c48" stroke-width="0.5">13</text>
<text x="405.4" y="113.0" text-anchor="middle" font-family="Liberation Sans, sans-serif" font-size="14.4" fill="#0b2c48" stroke="#0b2c48" stroke-width="0.5">18,81,129</text>
</g><g>
<polygon points="753.7,180.9 743.1,188.0 730.7,195.9 714.8,203.0 700.7,207.4 686.5,206.5 679.5,203.0 669.8,207.4 658.3,207.4 656.5,223.3 655.6,235.7 654.7,240.1 649.4,244.0 646.3,245.9 641.5,251.1 646.8,274.6 653.3,297.5 657.9,311.7 662.2,324.0 666.2,337.3 669.8,357.6 672.4,373.5 675.1,385.0 680.4,383.2 681.2,393.0 691.8,398.3 708.6,400.9 721.9,406.2 744.9,406.2 760.8,401.8 766.9,414.2 782.0,421.2 784.7,423.0 807.4,423.0 807.7,400.0 826.3,385.9 851.9,386.8 860.7,375.3 857.2,361.1 854.5,345.2 851.9,329.3 856.3,324.9 867.8,306.4 876.6,286.6 860.7,286.9 847.8,291.3 846.1,278.1 846.1,257.8 856.3,256.9 860.7,239.2 862.5,229.5 860.7,217.1 834.2,189.7 813.9,173.0 797.1,191.5 776.8,202.1" fill="#fcb614"/>
<polygon points="669.8,207.4 679.5,203.0 686.5,206.5 698.6,207.4 698.9,214.5 694.5,221.5 698.0,235.7 704.2,248.9 714.8,250.7 706.0,256.9 698.0,269.3 700.7,275.4 707.8,276.3 711.3,281.6 707.8,286.0 700.7,286.9 702.5,294.0 706.9,299.3 704.2,301.1 698.0,300.2 693.6,294.9 689.2,297.5 686.5,305.5 678.6,304.6 668.0,303.7 672.4,299.3 673.8,292.2 671.5,274.6 668.0,263.1 673.3,259.5 668.0,248.1 663.6,236.6 669.8,234.8 671.0,231.3 667.1,226.8 666.2,217.1 669.2,212.7" fill="#f9a01e" stroke="#fedba2" stroke-width="0.6" stroke-linejoin="round"/>
<polygon points="714.8,250.7 721.9,247.2 727.2,251.6 732.5,251.6 735.1,255.1 746.6,251.6 751.9,253.4 753.7,246.3 759.9,245.4 760.8,241.0 771.4,246.3 771.5,246.3 771.5,249.8 777.7,251.6 778.6,255.1 775.0,257.8 772.4,264.0 776.8,269.3 770.6,278.1 767.1,288.7 760.0,292.2 759.9,295.8 756.3,306.4 743.1,311.7 734.3,311.7 732.5,314.3 726.3,311.7 716.6,302.8 711.3,301.9 706.9,299.3 702.5,294.0 700.7,286.9 707.8,286.0 711.3,281.6 707.8,276.3 700.7,275.4 698.0,269.3 706.0,256.9" fill="#f6911e" stroke="#fedba2" stroke-width="0.6" stroke-linejoin="round"/>
<polygon points="804.2,184.4 813.9,173.0 834.2,189.7 860.7,217.1 862.5,229.5 860.7,239.2 856.3,256.9 846.1,257.8 846.1,278.1 847.8,291.3 830.7,285.2 825.4,273.7 811.2,273.7 804.2,269.3 798.0,274.6 790.9,273.7 776.8,269.3 772.4,264.0 775.0,257.8 778.6,255.1 777.7,251.6 771.5,249.8 771.5,246.3 781.2,242.8 778.6,235.7 782.1,232.1 804.2,230.4 807.7,233.0 811.2,230.4 819.2,227.7 821.8,222.4 816.5,210.9 814.8,200.3 812.1,191.5 813.0,186.2" fill="#f9a01e" stroke="#fedba2" stroke-width="0.6" stroke-linejoin="round"/>
<polygon points="657.9,311.7 662.7,305.5 668.0,303.7 678.6,304.6 678.6,313.4 677.7,327.6 681.2,341.7 684.8,348.8 691.8,347.0 698.0,352.3 700.7,358.5 707.8,355.0 713.1,355.8 712.2,364.7 707.8,367.3 697.1,364.7 691.8,366.4 691.0,371.8 689.2,379.7 688.3,385.0 681.2,385.9 680.4,383.2 675.1,385.0 672.4,373.5 669.8,357.6 666.2,337.3 662.2,324.0" fill="#f9a01e" stroke="#fedba2" stroke-width="0.6" stroke-linejoin="round"/>
<polygon points="706.9,299.3 711.3,301.9 716.6,302.8 726.3,311.7 732.5,314.3 734.3,311.7 743.1,311.7 756.3,306.4 759.9,309.9 760.8,304.6 785.5,298.4 787.3,301.1 784.6,306.4 776.7,309.9 782.0,311.7 781.1,317.0 775.8,317.9 776.7,324.0 771.4,324.9 766.1,329.3 767.8,332.9 764.3,338.2 769.6,343.5 770.5,350.5 766.1,356.7 761.6,360.3 755.5,360.3 752.8,354.1 744.9,349.7 734.3,351.4 729.0,348.8 726.3,341.7 727.2,334.6 721.9,334.6 716.6,332.0 706.9,331.1 706.9,326.7 712.2,322.3 715.7,315.2 706.9,311.7 706.0,306.4" fill="#f9a01e" stroke="#fedba2" stroke-width="0.6" stroke-linejoin="round"/>
<polygon points="721.9,334.6 727.2,334.6 726.3,341.7 729.0,348.8 734.3,351.4 744.9,349.7 752.8,354.1 755.5,360.3 761.6,360.3 766.1,356.7 770.5,350.5 769.6,343.5 764.3,338.2 767.8,332.9 766.1,329.3 771.4,324.9 776.7,324.0 776.8,321.4 788.3,320.5 794.5,317.0 800.6,319.6 805.9,323.2 806.8,329.3 802.4,334.6 801.5,339.9 805.9,343.5 801.5,351.4 798.0,358.5 783.0,359.4 779.4,366.4 777.7,373.5 768.0,372.6 779.3,373.5 767.8,374.4 766.9,370.0 762.5,370.9 761.6,375.3 756.3,376.2 753.7,372.6 743.1,374.4 736.0,370.0 726.3,364.7 721.9,366.4 713.1,374.4 704.2,378.8 699.8,375.3 691.8,366.4 697.1,364.7 707.8,367.3 712.2,364.7 713.1,355.8 718.4,345.2" fill="#f6911e" stroke="#fedba2" stroke-width="0.6" stroke-linejoin="round"/>
<polygon points="691.0,371.8 691.8,366.4 699.8,375.3 704.2,378.8 713.1,374.4 713.1,383.2 708.6,384.1 708.6,400.9 691.8,398.3 681.2,393.0 681.2,385.9 688.3,385.0 689.2,379.7" fill="#f9a01e" stroke="#fedba2" stroke-width="0.6" stroke-linejoin="round"/>
<polygon points="806.8,329.3 813.0,336.4 821.0,333.8 824.5,328.5 836.0,332.0 842.2,332.0 851.9,329.3 854.5,345.2 857.2,361.1 860.7,375.3 851.9,386.8 826.3,385.9 807.7,400.0 807.4,423.0 784.7,423.0 782.0,421.2 766.9,414.2 760.8,401.8 767.8,393.8 765.2,388.5 766.9,384.1 767.8,374.4 779.3,373.5 768.0,372.6 777.7,373.5 779.4,366.4 783.0,359.4 798.0,358.5 801.5,351.4 805.9,343.5 801.5,339.9 802.4,334.6" fill="#f9a01e" stroke="#fedba2" stroke-width="0.6" stroke-linejoin="round"/>
<polyline points="669.8,207.4 669.2,212.7 666.2,217.1 667.1,226.8 671.0,231.3 669.8,234.8 663.6,236.6 668.0,248.1 673.3,259.5" fill="none" stroke="#fedba2" stroke-width="0.6" stroke-linejoin="round"/>
<polyline points="698.6,207.4 698.9,214.5 694.5,221.5 698.0,235.7 704.2,248.9 714.8,250.7" fill="none" stroke="#fedba2" stroke-width="0.6" stroke-linejoin="round"/>
<polyline points="776.8,269.3 790.9,273.7 798.0,274.6 804.2,269.3 811.2,273.7 825.4,273.7 830.7,285.2 847.8,291.3" fill="none" stroke="#fedba2" stroke-width="0.6" stroke-linejoin="round"/>
<polyline points="760.0,304.6 781.2,298.4 787.4,300.2 786.5,306.4 776.8,309.9 783.0,310.8 782.1,315.2 775.9,315.2 776.8,321.4" fill="none" stroke="#fedba2" stroke-width="0.6" stroke-linejoin="round"/>
<polyline points="678.6,304.6 678.6,313.4 677.7,327.6 681.2,341.7 684.8,348.8 691.8,347.0 698.0,352.3 700.7,358.5 707.8,355.0 713.1,355.8" fill="none" stroke="#fedba2" stroke-width="0.6" stroke-linejoin="round"/>
<polyline points="708.6,400.9 708.6,384.1 713.1,383.2 713.1,374.4" fill="none" stroke="#fedba2" stroke-width="0.6" stroke-linejoin="round"/>
<polyline points="806.8,329.3 813.0,336.4 821.0,333.8 824.5,328.5 836.0,332.0 842.2,332.0 851.9,329.3" fill="none" stroke="#fedba2" stroke-width="0.6" stroke-linejoin="round"/>
<polygon points="647.0,244.0 649.4,244.0 653.3,253.4 662.5,253.7 668.7,262.2 670.8,271.4 674.4,293.3 671.4,300.4 663.0,305.7 659.9,298.6 655.4,288.0 651.9,279.2 649.8,268.7 648.9,259.0 648.9,251.1 646.8,246.8 645.7,245.4" fill="#072d46"/>
<polygon points="550.5,457.1 554.8,455.9 558.7,455.9 559.1,460.2 558.7,463.7 555.5,465.3 551.2,464.9 550.9,461.4" fill="#f7e21b" stroke="#f7e21b" stroke-width="0.4"/>
<polygon points="551.2,464.9 555.5,465.3 558.7,463.7 559.5,468.4 563.0,475.1 561.0,477.8 554.4,475.9 552.8,470.8" fill="none" stroke="#e8c92a" stroke-width="0.5"/>
<polyline points="666.0,157.8 682.7,157.8 682.7,218.2" fill="none" stroke="#219ebc" stroke-width="1.3"/>
<circle cx="682.7" cy="218.2" r="2.6" fill="#219ebc"/>
<polyline points="615.0,229.9 660.7,229.9" fill="none" stroke="#219ebc" stroke-width="1.3"/>
<circle cx="660.7" cy="229.9" r="2.6" fill="#219ebc"/>
<polyline points="615.0,324.3 695.7,324.3" fill="none" stroke="#219ebc" stroke-width="1.3"/>
<circle cx="695.7" cy="324.3" r="2.6" fill="#219ebc"/>
<polyline points="615.0,349.5 675.2,349.5" fill="none" stroke="#219ebc" stroke-width="1.3"/>
<circle cx="675.2" cy="349.5" r="2.6" fill="#219ebc"/>
<polyline points="783.4,157.8 763.5,157.8 763.5,218.3" fill="none" stroke="#219ebc" stroke-width="1.3"/>
<circle cx="763.5" cy="218.3" r="2.6" fill="#219ebc"/>
<polyline points="904.0,240.9 839.5,240.9" fill="none" stroke="#219ebc" stroke-width="1.3"/>
<circle cx="839.5" cy="240.9" r="2.6" fill="#219ebc"/>
<polyline points="904.0,268.3 755.6,268.3" fill="none" stroke="#219ebc" stroke-width="1.3"/>
<circle cx="755.6" cy="268.3" r="2.6" fill="#219ebc"/>
<polyline points="904.0,295.5 818.6,295.5" fill="none" stroke="#219ebc" stroke-width="1.3"/>
<circle cx="818.6" cy="295.5" r="2.6" fill="#219ebc"/>
<polyline points="904.0,323.0 757.1,323.0" fill="none" stroke="#219ebc" stroke-width="1.3"/>
<circle cx="757.1" cy="323.0" r="2.6" fill="#219ebc"/>
<polyline points="904.0,350.4 783.8,350.4" fill="none" stroke="#219ebc" stroke-width="1.3"/>
<circle cx="783.8" cy="350.4" r="2.6" fill="#219ebc"/>
<polyline points="904.0,377.9 810.5,377.9" fill="none" stroke="#219ebc" stroke-width="1.3"/>
<circle cx="810.5" cy="377.9" r="2.6" fill="#219ebc"/>
<polyline points="743.6,443.1 732.3,443.1 732.3,388.5" fill="none" stroke="#219ebc" stroke-width="1.3"/>
<circle cx="732.3" cy="388.5" r="2.6" fill="#219ebc"/>
<polyline points="707.2,468.0 695.7,468.0 695.7,388.5" fill="none" stroke="#219ebc" stroke-width="1.3"/>
<circle cx="695.7" cy="388.5" r="2.6" fill="#219ebc"/>
<rect x="606.6" y="148.2" width="59.1" height="19.2" rx="9.6" fill="#072d46" stroke="#219ebc" stroke-width="0.9"/>
<circle cx="656.2" cy="157.8" r="9.75" fill="#219ebc"/>
<text x="656.2" y="161.5" text-anchor="middle" font-family="Liberation Sans, sans-serif" font-size="10.3" fill="#0b2c48" stroke="#0b2c48" stroke-width="0.25">C</text>
<use href="#t23" fill="#fff" transform="translate(616.80,161.20) scale(0.05920,0.05650)"/>
<rect x="550.7" y="220.3" width="64.4" height="19.2" rx="9.6" fill="#072d46" stroke="#219ebc" stroke-width="0.9"/>
<circle cx="605.6" cy="229.9" r="9.75" fill="#219ebc"/>
<text x="605.6" y="233.6" text-anchor="middle" font-family="Liberation Sans, sans-serif" font-size="10.3" fill="#0b2c48" stroke="#0b2c48" stroke-width="0.25">B</text>
<use href="#t24" fill="#fff" transform="translate(560.90,233.30) scale(0.06730,0.05650)"/>
<rect x="549.5" y="314.7" width="65.7" height="19.2" rx="9.6" fill="#072d46" stroke="#219ebc" stroke-width="0.9"/>
<circle cx="605.7" cy="324.3" r="9.75" fill="#219ebc"/>
<text x="605.7" y="328.0" text-anchor="middle" font-family="Liberation Sans, sans-serif" font-size="10.3" fill="#0b2c48" stroke="#0b2c48" stroke-width="0.25">I</text>
<use href="#t25" fill="#fff" transform="translate(559.70,327.70) scale(0.06194,0.05650)"/>
<rect x="549.5" y="339.9" width="65.7" height="19.2" rx="9.6" fill="#072d46" stroke="#219ebc" stroke-width="0.9"/>
<circle cx="605.7" cy="349.5" r="9.75" fill="#219ebc"/>
<text x="605.7" y="353.2" text-anchor="middle" font-family="Liberation Sans, sans-serif" font-size="10.3" fill="#0b2c48" stroke="#0b2c48" stroke-width="0.25">A</text>
<use href="#t26" fill="#fff" transform="translate(559.70,352.90) scale(0.06478,0.05650)"/>
<rect x="783.4" y="148.2" width="77.3" height="19.2" rx="9.6" fill="#072d46" stroke="#219ebc" stroke-width="0.9"/>
<circle cx="792.9" cy="157.8" r="9.75" fill="#219ebc"/>
<text x="792.9" y="161.5" text-anchor="middle" font-family="Liberation Sans, sans-serif" font-size="10.3" fill="#0b2c48" stroke="#0b2c48" stroke-width="0.25">D</text>
<use href="#t27" fill="#fff" transform="translate(807.10,161.20) scale(0.06931,0.05650)"/>
<rect x="904.1" y="231.3" width="61.0" height="19.2" rx="9.6" fill="#072d46" stroke="#219ebc" stroke-width="0.9"/>
<circle cx="913.6" cy="240.9" r="9.75" fill="#219ebc"/>
<text x="913.6" y="244.6" text-anchor="middle" font-family="Liberation Sans, sans-serif" font-size="10.3" fill="#0b2c48" stroke="#0b2c48" stroke-width="0.25">E</text>
<use href="#t28" fill="#fff" transform="translate(927.80,244.30) scale(0.06391,0.05650)"/>
<rect x="904.1" y="258.7" width="86.2" height="19.2" rx="9.6" fill="#072d46" stroke="#219ebc" stroke-width="0.9"/>
<circle cx="913.6" cy="268.3" r="9.75" fill="#219ebc"/>
<text x="913.6" y="272.0" text-anchor="middle" font-family="Liberation Sans, sans-serif" font-size="10.3" fill="#0b2c48" stroke="#0b2c48" stroke-width="0.25">F</text>
<use href="#t29" fill="#fff" transform="translate(927.80,271.70) scale(0.06275,0.05650)"/>
<rect x="904.1" y="285.9" width="85.1" height="19.2" rx="9.6" fill="#072d46" stroke="#219ebc" stroke-width="0.9"/>
<circle cx="913.6" cy="295.5" r="9.75" fill="#219ebc"/>
<text x="913.6" y="299.2" text-anchor="middle" font-family="Liberation Sans, sans-serif" font-size="10.3" fill="#0b2c48" stroke="#0b2c48" stroke-width="0.25">G</text>
<use href="#t30" fill="#fff" transform="translate(927.80,298.90) scale(0.06061,0.05650)"/>
<rect x="904.1" y="313.4" width="61.5" height="19.2" rx="9.6" fill="#072d46" stroke="#219ebc" stroke-width="0.9"/>
<circle cx="913.6" cy="323.0" r="9.75" fill="#219ebc"/>
<text x="913.6" y="326.7" text-anchor="middle" font-family="Liberation Sans, sans-serif" font-size="10.3" fill="#0b2c48" stroke="#0b2c48" stroke-width="0.25">H</text>
<use href="#t31" fill="#fff" transform="translate(927.80,326.40) scale(0.06067,0.05650)"/>
<rect x="904.1" y="340.8" width="53.9" height="19.2" rx="9.6" fill="#072d46" stroke="#219ebc" stroke-width="0.9"/>
<circle cx="913.6" cy="350.4" r="9.75" fill="#219ebc"/>
<text x="913.6" y="354.1" text-anchor="middle" font-family="Liberation Sans, sans-serif" font-size="10.3" fill="#0b2c48" stroke="#0b2c48" stroke-width="0.25">J</text>
<use href="#t32" fill="#fff" transform="translate(927.80,353.80) scale(0.06394,0.05650)"/>
<rect x="904.1" y="368.3" width="68.4" height="19.2" rx="9.6" fill="#072d46" stroke="#219ebc" stroke-width="0.9"/>
<circle cx="913.6" cy="377.9" r="9.75" fill="#219ebc"/>
<text x="913.6" y="381.6" text-anchor="middle" font-family="Liberation Sans, sans-serif" font-size="10.3" fill="#0b2c48" stroke="#0b2c48" stroke-width="0.25">K</text>
<use href="#t33" fill="#fff" transform="translate(927.80,381.30) scale(0.06896,0.05650)"/>
<rect x="743.6" y="433.5" width="61.7" height="19.2" rx="9.6" fill="#072d46" stroke="#219ebc" stroke-width="0.9"/>
<circle cx="753.1" cy="443.1" r="9.75" fill="#219ebc"/>
<text x="753.1" y="446.8" text-anchor="middle" font-family="Liberation Sans, sans-serif" font-size="10.3" fill="#0b2c48" stroke="#0b2c48" stroke-width="0.25">L</text>
<use href="#t34" fill="#fff" transform="translate(767.30,446.50) scale(0.06314,0.05650)"/>
<rect x="707.2" y="458.4" width="67.9" height="19.2" rx="9.6" fill="#072d46" stroke="#219ebc" stroke-width="0.9"/>
<circle cx="716.7" cy="468.0" r="9.75" fill="#219ebc"/>
<text x="716.7" y="471.7" text-anchor="middle" font-family="Liberation Sans, sans-serif" font-size="10.3" fill="#0b2c48" stroke="#0b2c48" stroke-width="0.25">M</text>
<use href="#t35" fill="#fff" transform="translate(730.90,471.40) scale(0.05928,0.05650)"/>
</g>
<use href="#cm" transform="translate(16,522.0) scale(0.99980,1.00184)"/>
<g transform="translate(16,522.0) scale(0.99980,1.00184)">
<use href="#t36" fill="#0b2c48" transform="translate(81.47,82.40) scale(0.08460,0.07100)"/>
<use href="#t37" fill="#0b2c48" transform="translate(247.04,82.40) scale(0.08400,0.09000)"/>
<use href="#t38" fill="#0b2c48" transform="translate(279.25,82.40) scale(0.08350,0.07100)"/>
<use href="#t5" fill="#8ecae6" transform="translate(53.04,111.30) scale(0.06410,0.05380)"/>
<text x="187.6" y="113.0" text-anchor="middle" font-family="Liberation Sans, sans-serif" font-size="14.4" fill="#0b2c48" stroke="#0b2c48" stroke-width="0.5">13</text>
<text x="405.4" y="113.0" text-anchor="middle" font-family="Liberation Sans, sans-serif" font-size="14.4" fill="#0b2c48" stroke="#0b2c48" stroke-width="0.5">11,91,399</text>
</g><g>
<polygon points="193.1,729.9 202.5,728.3 208.0,736.2 218.2,742.5 229.2,751.9 240.2,758.2 254.3,756.6 260.6,748.8 262.2,735.4 258.3,726.0 269.2,720.5 295.4,739.1 301.6,732.8 304.0,728.2 325.1,721.1 332.9,723.5 339.9,721.1 346.2,725.8 354.8,714.9 370.4,716.4 371.2,731.3 373.6,751.6 374.3,765.7 376.7,779.8 382.9,801.7 389.2,821.2 381.4,829.0 375.9,831.4 370.4,837.6 357.9,837.6 352.4,835.3 323.5,839.2 308.6,839.2 298.5,832.9 295.4,825.1 278.2,807.1 283.6,823.6 285.2,836.1 270.3,850.1 263.7,865.7 253.5,880.6 240.2,875.9 222.9,885.4 208.8,886.9 204.1,884.6 192.3,886.9 191.5,890.9 195.4,891.6 211.9,914.4 216.6,920.7 207.2,935.6 205.7,941.9 196.2,942.7 180.5,923.8 175.8,908.9 164.0,905.8 160.1,909.7 155.4,906.6 158.6,886.1 149.9,870.4 175.0,863.4 185.2,849.2 192.3,846.9 179.0,832.0 182.9,824.9 179.7,817.1 168.8,809.2 161.7,796.6 151.5,785.7 140.5,775.4 140.5,763.7 146.8,756.6 145.2,748.8 155.4,741.7 165.6,742.5 176.6,756.6 179.7,754.3 181.3,746.4 193.1,744.0 196.2,738.6" fill="#fcb614"/>
<polygon points="176.6,756.6 165.6,742.5 155.4,741.7 145.2,748.8 146.8,756.6 140.5,763.7 140.5,775.4 151.5,785.7 161.7,796.6 168.8,791.2 179.0,793.5 189.2,790.4 194.7,786.4 190.0,780.9 192.3,777.0 201.7,774.7 203.3,772.3 197.0,770.0 194.7,763.7 189.2,760.5 182.1,755.0 179.7,754.3" fill="#f9a01e" stroke="#fedba2" stroke-width="0.6" stroke-linejoin="round"/>
<polygon points="161.7,796.6 168.8,791.2 179.0,793.5 189.2,790.4 194.7,786.4 202.5,786.4 207.2,791.9 211.9,796.6 216.6,804.5 211.9,803.7 212.7,808.4 209.6,810.0 204.1,809.2 196.2,813.1 187.6,812.3 180.5,817.1 179.7,817.1 168.8,809.2" fill="#f6911e" stroke="#fedba2" stroke-width="0.6" stroke-linejoin="round"/>
<polygon points="179.7,817.1 187.6,812.3 196.2,813.1 204.1,809.2 209.6,810.0 211.2,813.9 214.3,815.5 215.1,821.8 218.2,826.5 217.4,839.0 212.7,841.4 208.0,839.0 204.1,840.6 193.9,840.6 192.3,846.9 179.0,832.0 182.9,824.9" fill="#f9a01e" stroke="#fedba2" stroke-width="0.6" stroke-linejoin="round"/>
<polygon points="216.6,804.5 219.0,800.6 224.5,793.5 227.6,787.2 232.3,793.5 235.5,798.2 234.7,804.5 230.8,809.2 227.6,813.9 228.4,818.6 224.5,821.0 221.4,827.3 218.2,826.5 215.1,821.8 214.3,815.5 211.2,813.9 209.6,810.0 212.7,808.4 211.9,803.7" fill="#f6911e" stroke="#fedba2" stroke-width="0.6" stroke-linejoin="round"/>
<polygon points="218.2,826.5 221.4,827.3 224.5,821.0 235.5,824.1 244.9,827.3 252.8,834.3 265.3,835.9 273.2,838.3 273.2,848.5 263.7,865.7 253.5,880.6 240.2,875.9 237.8,865.7 233.1,859.4 216.6,855.5 206.4,848.5 215.1,844.5 217.4,839.0" fill="#f6911e" stroke="#fedba2" stroke-width="0.6" stroke-linejoin="round"/>
<polygon points="227.6,787.2 229.2,781.7 235.5,784.1 237.8,790.4 241.8,799.8 244.9,806.9 254.3,810.0 266.9,812.3 266.1,814.7 254.3,813.1 251.2,814.7 248.0,809.2 238.6,806.9 235.5,798.2 232.3,793.5" fill="#f6911e" stroke="#fedba2" stroke-width="0.6" stroke-linejoin="round"/>
<polygon points="226.9,782.5 223.7,777.0 222.9,770.0 229.2,762.9 241.0,762.1 240.2,758.2 254.3,756.6 260.6,748.8 262.2,735.4 258.3,726.0 269.2,720.5 295.4,739.1 301.6,746.9 303.2,753.2 296.9,755.5 289.1,757.1 278.2,761.8 275.8,765.7 273.5,768.0 268.8,766.5 261.7,768.8 257.0,774.3 253.1,777.4 255.1,780.9 255.9,786.4 251.2,790.4 244.9,786.4 235.5,784.1 229.2,781.7" fill="#f9a01e" stroke="#fedba2" stroke-width="0.6" stroke-linejoin="round"/>
<polygon points="303.2,753.2 307.9,761.0 313.3,767.3 314.9,771.9 321.9,779.8 323.5,786.0 320.4,795.4 318.0,806.3 319.6,815.7 316.5,823.6 318.8,832.9 323.5,839.2 308.6,839.2 298.5,832.9 295.4,825.1 278.2,807.1 281.3,803.2 275.0,793.8 278.2,788.4 277.4,781.3 273.5,772.7 273.5,768.0 275.8,765.7 278.2,761.8 289.1,757.1 296.9,755.5" fill="#f6911e" stroke="#fedba2" stroke-width="0.6" stroke-linejoin="round"/>
<polyline points="179.7,754.3 182.1,755.0 189.2,760.5 194.7,763.7 197.0,770.0 203.3,772.3 201.7,774.7 192.3,777.0 190.0,780.9 194.7,786.4" fill="none" stroke="#fedba2" stroke-width="0.6" stroke-linejoin="round"/>
<polyline points="216.6,804.5 219.0,800.6 224.5,793.5 226.9,782.5" fill="none" stroke="#fedba2" stroke-width="0.6" stroke-linejoin="round"/>
<polyline points="295.4,739.1 301.6,746.9 303.2,753.2" fill="none" stroke="#fedba2" stroke-width="0.6" stroke-linejoin="round"/>
<polyline points="227.6,813.9 230.8,809.2 238.6,806.9" fill="none" stroke="#fedba2" stroke-width="0.6" stroke-linejoin="round"/>
<polyline points="192.3,846.9 193.9,840.6 204.1,840.6 208.0,839.0 212.7,841.4 217.4,839.0 215.1,844.5 206.4,848.5" fill="none" stroke="#fedba2" stroke-width="0.6" stroke-linejoin="round"/>
<polyline points="224.5,821.0 235.5,824.1 244.9,827.3 252.8,834.3 265.3,835.9 273.2,838.3" fill="none" stroke="#fedba2" stroke-width="0.6" stroke-linejoin="round"/>
<polygon points="59.3,960.8 62.1,959.6 65.2,959.6 72.2,959.2 73.0,963.5 70.7,964.7 67.5,964.3 65.6,967.0 62.8,968.2 62.1,970.5 60.1,969.0 61.3,965.1 59.7,962.7" fill="#f7e21b" stroke="#f7e21b" stroke-width="0.4"/>
<polygon points="65.6,945.1 67.9,947.9 66.4,951.0 66.7,953.7 70.7,952.9 72.6,954.9 72.2,959.2 65.2,959.6 62.1,959.6 61.3,955.7 60.1,951.0 62.8,948.2" fill="none" stroke="#e8c92a" stroke-width="0.5"/>
<polygon points="60.1,969.0 62.1,970.5 62.8,968.2 65.6,967.0 67.5,964.3 70.7,964.7 72.6,964.3 72.2,967.4 69.1,971.3 68.3,974.1 64.4,974.8 60.9,974.4 61.3,972.1 59.3,970.5" fill="none" stroke="#e8c92a" stroke-width="0.5"/>
<polyline points="132.5,686.8 200.8,686.8 200.8,749.9" fill="none" stroke="#219ebc" stroke-width="1.3"/>
<circle cx="200.8" cy="749.9" r="2.6" fill="#219ebc"/>
<polyline points="132.5,731.8 162.1,731.8 162.1,760.5" fill="none" stroke="#219ebc" stroke-width="1.3"/>
<circle cx="162.1" cy="760.5" r="2.6" fill="#219ebc"/>
<polyline points="132.5,804.0 176.1,804.0" fill="none" stroke="#219ebc" stroke-width="1.3"/>
<circle cx="176.1" cy="804.0" r="2.6" fill="#219ebc"/>
<polyline points="132.5,828.9 192.6,828.9" fill="none" stroke="#219ebc" stroke-width="1.3"/>
<circle cx="192.6" cy="828.9" r="2.6" fill="#219ebc"/>
<polyline points="132.5,860.4 189.6,860.4" fill="none" stroke="#219ebc" stroke-width="1.3"/>
<circle cx="189.6" cy="860.4" r="2.6" fill="#219ebc"/>
<polyline points="275.3,671.6 244.6,671.6 244.6,806.6" fill="none" stroke="#219ebc" stroke-width="1.3"/>
<circle cx="244.6" cy="806.6" r="2.6" fill="#219ebc"/>
<polyline points="298.2,697.5 267.0,697.5 267.0,780.7" fill="none" stroke="#219ebc" stroke-width="1.3"/>
<circle cx="267.0" cy="780.7" r="2.6" fill="#219ebc"/>
<polyline points="405.9,747.7 286.2,747.7" fill="none" stroke="#219ebc" stroke-width="1.3"/>
<circle cx="286.2" cy="747.7" r="2.6" fill="#219ebc"/>
<polyline points="405.9,776.7 357.5,776.7" fill="none" stroke="#219ebc" stroke-width="1.3"/>
<circle cx="357.5" cy="776.7" r="2.6" fill="#219ebc"/>
<polyline points="405.9,804.9 307.3,804.9" fill="none" stroke="#219ebc" stroke-width="1.3"/>
<circle cx="307.3" cy="804.9" r="2.6" fill="#219ebc"/>
<polyline points="288.5,876.2 277.0,876.2 277.0,828.9" fill="none" stroke="#219ebc" stroke-width="1.3"/>
<circle cx="277.0" cy="828.9" r="2.6" fill="#219ebc"/>
<polyline points="268.1,899.4 256.9,899.4 256.9,857.7" fill="none" stroke="#219ebc" stroke-width="1.3"/>
<circle cx="256.9" cy="857.7" r="2.6" fill="#219ebc"/>
<polyline points="232.5,921.8 221.3,921.8 221.3,811.4" fill="none" stroke="#219ebc" stroke-width="1.3"/>
<circle cx="221.3" cy="811.4" r="2.6" fill="#219ebc"/>
<rect x="42.3" y="677.2" width="90.2" height="19.2" rx="9.6" fill="#072d46" stroke="#219ebc" stroke-width="0.9"/>
<circle cx="123.0" cy="686.8" r="9.75" fill="#219ebc"/>
<text x="123.0" y="690.5" text-anchor="middle" font-family="Liberation Sans, sans-serif" font-size="10.3" fill="#0b2c48" stroke="#0b2c48" stroke-width="0.25">B</text>
<use href="#t39" fill="#fff" transform="translate(52.50,690.20) scale(0.06368,0.05650)"/>
<rect x="55.8" y="722.2" width="76.7" height="19.2" rx="9.6" fill="#072d46" stroke="#219ebc" stroke-width="0.9"/>
<circle cx="123.0" cy="731.8" r="9.75" fill="#219ebc"/>
<text x="123.0" y="735.5" text-anchor="middle" font-family="Liberation Sans, sans-serif" font-size="10.3" fill="#0b2c48" stroke="#0b2c48" stroke-width="0.25">A</text>
<use href="#t40" fill="#fff" transform="translate(66.00,735.20) scale(0.06667,0.05650)"/>
<rect x="63.9" y="794.4" width="68.6" height="19.2" rx="9.6" fill="#072d46" stroke="#219ebc" stroke-width="0.9"/>
<circle cx="123.0" cy="804.0" r="9.75" fill="#219ebc"/>
<text x="123.0" y="807.7" text-anchor="middle" font-family="Liberation Sans, sans-serif" font-size="10.3" fill="#0b2c48" stroke="#0b2c48" stroke-width="0.25">J</text>
<use href="#t41" fill="#fff" transform="translate(74.10,807.40) scale(0.06224,0.05650)"/>
<rect x="62.7" y="819.3" width="69.8" height="19.2" rx="9.6" fill="#072d46" stroke="#219ebc" stroke-width="0.9"/>
<circle cx="123.0" cy="828.9" r="9.75" fill="#219ebc"/>
<text x="123.0" y="832.6" text-anchor="middle" font-family="Liberation Sans, sans-serif" font-size="10.3" fill="#0b2c48" stroke="#0b2c48" stroke-width="0.25">K</text>
<use href="#t42" fill="#fff" transform="translate(72.90,832.30) scale(0.06400,0.05650)"/>
<rect x="51.2" y="850.8" width="81.3" height="19.2" rx="9.6" fill="#072d46" stroke="#219ebc" stroke-width="0.9"/>
<circle cx="123.0" cy="860.4" r="9.75" fill="#219ebc"/>
<text x="123.0" y="864.1" text-anchor="middle" font-family="Liberation Sans, sans-serif" font-size="10.3" fill="#0b2c48" stroke="#0b2c48" stroke-width="0.25">M</text>
<use href="#t43" fill="#fff" transform="translate(61.40,863.80) scale(0.06462,0.05650)"/>
<rect x="275.3" y="662.0" width="84.1" height="19.2" rx="9.6" fill="#072d46" stroke="#219ebc" stroke-width="0.9"/>
<circle cx="284.8" cy="671.6" r="9.75" fill="#219ebc"/>
<text x="284.8" y="675.3" text-anchor="middle" font-family="Liberation Sans, sans-serif" font-size="10.3" fill="#0b2c48" stroke="#0b2c48" stroke-width="0.25">H</text>
<use href="#t44" fill="#fff" transform="translate(299.00,675.00) scale(0.06783,0.05650)"/>
<rect x="298.2" y="687.9" width="80.5" height="19.2" rx="9.6" fill="#072d46" stroke="#219ebc" stroke-width="0.9"/>
<circle cx="307.7" cy="697.5" r="9.75" fill="#219ebc"/>
<text x="307.7" y="701.2" text-anchor="middle" font-family="Liberation Sans, sans-serif" font-size="10.3" fill="#0b2c48" stroke="#0b2c48" stroke-width="0.25">F</text>
<use href="#t45" fill="#fff" transform="translate(321.90,700.90) scale(0.06397,0.05650)"/>
<rect x="405.9" y="738.1" width="79.2" height="19.2" rx="9.6" fill="#072d46" stroke="#219ebc" stroke-width="0.9"/>
<circle cx="415.4" cy="747.7" r="9.75" fill="#219ebc"/>
<text x="415.4" y="751.4" text-anchor="middle" font-family="Liberation Sans, sans-serif" font-size="10.3" fill="#0b2c48" stroke="#0b2c48" stroke-width="0.25">C</text>
<use href="#t46" fill="#fff" transform="translate(429.60,751.10) scale(0.06733,0.05650)"/>
<rect x="405.9" y="767.1" width="75.7" height="19.2" rx="9.6" fill="#072d46" stroke="#219ebc" stroke-width="0.9"/>
<circle cx="415.4" cy="776.7" r="9.75" fill="#219ebc"/>
<text x="415.4" y="780.4" text-anchor="middle" font-family="Liberation Sans, sans-serif" font-size="10.3" fill="#0b2c48" stroke="#0b2c48" stroke-width="0.25">D</text>
<use href="#t47" fill="#fff" transform="translate(429.60,780.10) scale(0.06924,0.05650)"/>
<rect x="405.9" y="795.3" width="84.5" height="19.2" rx="9.6" fill="#072d46" stroke="#219ebc" stroke-width="0.9"/>
<circle cx="415.4" cy="804.9" r="9.75" fill="#219ebc"/>
<text x="415.4" y="808.6" text-anchor="middle" font-family="Liberation Sans, sans-serif" font-size="10.3" fill="#0b2c48" stroke="#0b2c48" stroke-width="0.25">E</text>
<use href="#t48" fill="#fff" transform="translate(429.60,808.30) scale(0.06597,0.05650)"/>
<rect x="288.5" y="866.6" width="74.4" height="19.2" rx="9.6" fill="#072d46" stroke="#219ebc" stroke-width="0.9"/>
<circle cx="298.0" cy="876.2" r="9.75" fill="#219ebc"/>
<text x="298.0" y="879.9" text-anchor="middle" font-family="Liberation Sans, sans-serif" font-size="10.3" fill="#0b2c48" stroke="#0b2c48" stroke-width="0.25">G</text>
<use href="#t49" fill="#fff" transform="translate(312.20,879.60) scale(0.06270,0.05650)"/>
<rect x="268.1" y="889.8" width="73.1" height="19.2" rx="9.6" fill="#072d46" stroke="#219ebc" stroke-width="0.9"/>
<circle cx="277.6" cy="899.4" r="9.75" fill="#219ebc"/>
<text x="277.6" y="903.1" text-anchor="middle" font-family="Liberation Sans, sans-serif" font-size="10.3" fill="#0b2c48" stroke="#0b2c48" stroke-width="0.25">L</text>
<use href="#t50" fill="#fff" transform="translate(291.80,902.80) scale(0.06815,0.05650)"/>
<rect x="232.5" y="912.2" width="69.7" height="19.2" rx="9.6" fill="#072d46" stroke="#219ebc" stroke-width="0.9"/>
<circle cx="242.0" cy="921.8" r="9.75" fill="#219ebc"/>
<text x="242.0" y="925.5" text-anchor="middle" font-family="Liberation Sans, sans-serif" font-size="10.3" fill="#0b2c48" stroke="#0b2c48" stroke-width="0.25">I</text>
<use href="#t51" fill="#fff" transform="translate(256.20,925.20) scale(0.06505,0.05650)"/>
</g>
<use href="#cm" transform="translate(522.0,522.0) scale(1.00184,1.00184)"/>
<g transform="translate(522.0,522.0) scale(1.00184,1.00184)">
<use href="#t36" fill="#0b2c48" transform="translate(81.47,82.40) scale(0.08460,0.07100)"/>
<use href="#t52" fill="#0b2c48" transform="translate(250.75,82.40) scale(0.08400,0.09000)"/>
<use href="#t53" fill="#0b2c48" transform="translate(282.09,82.40) scale(0.08350,0.07100)"/>
<use href="#t54" fill="#8ecae6" transform="translate(48.90,111.30) scale(0.06410,0.05380)"/>
<text x="187.6" y="113.0" text-anchor="middle" font-family="Liberation Sans, sans-serif" font-size="14.4" fill="#0b2c48" stroke="#0b2c48" stroke-width="0.5">4</text>
<text x="405.4" y="113.0" text-anchor="middle" font-family="Liberation Sans, sans-serif" font-size="14.4" fill="#0b2c48" stroke="#0b2c48" stroke-width="0.5">4,29,991</text>
</g><g>
<polygon points="759.6,671.9 769.8,685.7 770.2,697.0 779.1,700.0 780.1,692.8 784.2,689.8 798.6,695.9 791.4,700.0 786.3,709.3 783.2,721.6 781.1,733.9 780.1,748.3 775.0,754.4 765.7,758.5 766.8,783.2 766.3,803.7 775.0,806.8 787.3,806.2 793.4,803.7 797.5,799.6 807.8,803.7 811.9,792.4 830.4,794.5 840.7,791.4 855.0,791.4 856.1,799.6 859.1,807.8 858.1,815.0 852.0,822.2 852.0,827.3 856.1,830.4 854.0,876.6 840.7,874.5 834.5,884.8 828.3,880.7 822.2,882.7 816.0,880.7 797.5,885.8 794.5,893.0 788.3,897.1 766.8,880.7 758.5,884.8 760.6,899.2 758.5,908.4 752.4,912.5 740.1,911.5 727.7,903.3 714.4,894.0 706.2,882.7 699.0,871.5 693.9,857.1 686.7,844.8 686.7,835.5 692.8,833.5 692.8,819.1 683.6,803.7 682.6,783.2 678.5,780.1 678.9,773.9 672.3,764.7 667.2,756.5 669.2,743.1 684.6,739.0 695.9,731.9 698.0,723.6 706.2,724.7 706.2,728.8 720.6,720.6 721.0,713.4 727.3,709.3 727.3,695.3 738.0,694.5 748.3,679.5" fill="#fcb614"/>
<polygon points="759.6,671.9 769.8,685.7 770.2,697.0 779.1,700.0 780.1,692.8 784.2,689.8 798.6,695.9 791.4,700.0 786.3,709.3 783.2,721.6 781.1,733.9 780.1,748.3 775.0,754.4 765.7,758.5 754.4,760.6 748.3,771.9 745.2,778.0 740.1,779.1 737.0,773.9 734.9,777.0 721.6,772.9 716.5,767.8 716.5,783.2 714.4,794.5 718.5,803.7 719.5,816.0 726.7,817.1 725.7,821.2 718.5,823.2 719.5,828.3 723.6,831.4 722.6,834.5 714.4,833.5 700.0,828.3 695.9,820.1 692.8,819.1 683.6,803.7 682.6,783.2 678.5,780.1 678.9,773.9 672.3,764.7 667.2,756.5 669.2,743.1 684.6,739.0 695.9,731.9 698.0,723.6 706.2,724.7 706.2,728.8 720.6,720.6 721.0,713.4 727.3,709.3 727.3,695.3 738.0,694.5 748.3,679.5" fill="#f9a01e" stroke="#fedba2" stroke-width="0.6" stroke-linejoin="round"/>
<polygon points="692.8,819.1 695.9,820.1 700.0,828.3 714.4,833.5 722.6,834.5 723.6,831.4 719.5,828.3 718.5,823.2 725.7,821.2 726.7,817.1 731.9,816.0 734.9,824.2 730.8,836.6 725.7,847.8 726.7,863.2 723.6,869.4 722.6,879.7 718.5,884.8 714.4,878.6 713.4,873.5 699.0,871.5 693.9,857.1 686.7,844.8 686.7,835.5 692.8,833.5" fill="#f6911e" stroke="#fedba2" stroke-width="0.6" stroke-linejoin="round"/>
<polygon points="699.0,871.5 713.4,873.5 714.4,878.6 718.5,884.8 722.6,879.7 723.6,869.4 726.7,863.2 742.1,858.1 747.3,853.0 753.4,852.0 758.5,855.0 761.6,865.3 762.6,877.6 766.8,880.7 758.5,884.8 760.6,899.2 758.5,908.4 752.4,912.5 740.1,911.5 727.7,903.3 714.4,894.0 706.2,882.7" fill="#f9a01e" stroke="#fedba2" stroke-width="0.6" stroke-linejoin="round"/>
<polygon points="571.6,945.9 574.3,947.9 572.4,951.4 573.1,953.7 578.2,953.3 577.8,958.4 572.4,959.2 571.2,960.4 568.8,958.8 567.7,955.7 566.5,951.0 568.8,948.6" fill="#f7e21b" stroke="#f7e21b" stroke-width="0.4"/>
<polygon points="565.3,960.8 568.8,960.0 571.2,960.4 578.2,959.2 579.0,963.5 578.2,967.4 575.1,971.3 574.3,974.1 570.4,974.8 566.9,974.4 567.3,972.1 565.3,970.5 566.1,967.4 568.1,965.4 565.7,962.7" fill="none" stroke="#e8c92a" stroke-width="0.5"/>
<polyline points="640.5,758.7 683.9,758.7" fill="none" stroke="#219ebc" stroke-width="1.3"/>
<circle cx="683.9" cy="758.7" r="2.6" fill="#219ebc"/>
<polyline points="643.0,848.6 699.6,848.6" fill="none" stroke="#219ebc" stroke-width="1.3"/>
<circle cx="699.6" cy="848.6" r="2.6" fill="#219ebc"/>
<polyline points="868.0,825.6 832.5,825.6" fill="none" stroke="#219ebc" stroke-width="1.3"/>
<circle cx="832.5" cy="825.6" r="2.6" fill="#219ebc"/>
<polyline points="751.2,932.3 739.9,932.3 739.9,890.5" fill="none" stroke="#219ebc" stroke-width="1.3"/>
<circle cx="739.9" cy="890.5" r="2.6" fill="#219ebc"/>
<rect x="576.0" y="749.1" width="64.5" height="19.2" rx="9.6" fill="#072d46" stroke="#219ebc" stroke-width="0.9"/>
<circle cx="631.0" cy="758.7" r="9.75" fill="#219ebc"/>
<text x="631.0" y="762.4" text-anchor="middle" font-family="Liberation Sans, sans-serif" font-size="10.3" fill="#0b2c48" stroke="#0b2c48" stroke-width="0.25">A</text>
<use href="#t55" fill="#fff" transform="translate(586.20,762.10) scale(0.07109,0.05650)"/>
<rect x="576.0" y="839.0" width="66.9" height="19.2" rx="9.6" fill="#072d46" stroke="#219ebc" stroke-width="0.9"/>
<circle cx="633.4" cy="848.6" r="9.75" fill="#219ebc"/>
<text x="633.4" y="852.3" text-anchor="middle" font-family="Liberation Sans, sans-serif" font-size="10.3" fill="#0b2c48" stroke="#0b2c48" stroke-width="0.25">C</text>
<use href="#t56" fill="#fff" transform="translate(586.20,852.00) scale(0.06686,0.05650)"/>
<rect x="868.1" y="816.0" width="64.1" height="19.2" rx="9.6" fill="#072d46" stroke="#219ebc" stroke-width="0.9"/>
<circle cx="877.6" cy="825.6" r="9.75" fill="#219ebc"/>
<text x="877.6" y="829.3" text-anchor="middle" font-family="Liberation Sans, sans-serif" font-size="10.3" fill="#0b2c48" stroke="#0b2c48" stroke-width="0.25">B</text>
<use href="#t57" fill="#fff" transform="translate(891.80,829.00) scale(0.06484,0.05650)"/>
<rect x="751.2" y="922.7" width="73.1" height="19.2" rx="9.6" fill="#072d46" stroke="#219ebc" stroke-width="0.9"/>
<circle cx="760.7" cy="932.3" r="9.75" fill="#219ebc"/>
<text x="760.7" y="936.0" text-anchor="middle" font-family="Liberation Sans, sans-serif" font-size="10.3" fill="#0b2c48" stroke="#0b2c48" stroke-width="0.25">D</text>
<use href="#t58" fill="#fff" transform="translate(774.90,935.70) scale(0.06746,0.05650)"/>
</g>
<use href="#cm" transform="translate(16,1029.0) scale(0.99980,1.00123)"/>
<g transform="translate(16,1029.0) scale(0.99980,1.00123)">
<use href="#t59" fill="#0b2c48" transform="translate(83.53,82.40) scale(0.08460,0.07100)"/>
<use href="#t60" fill="#0b2c48" transform="translate(255.57,82.40) scale(0.08400,0.09000)"/>
<use href="#t61" fill="#0b2c48" transform="translate(286.35,82.40) scale(0.08350,0.07100)"/>
<use href="#t5" fill="#8ecae6" transform="translate(53.04,111.30) scale(0.06410,0.05380)"/>
<text x="187.6" y="113.0" text-anchor="middle" font-family="Liberation Sans, sans-serif" font-size="14.4" fill="#0b2c48" stroke="#0b2c48" stroke-width="0.5">10</text>
<text x="405.4" y="113.0" text-anchor="middle" font-family="Liberation Sans, sans-serif" font-size="14.4" fill="#0b2c48" stroke="#0b2c48" stroke-width="0.5">9,03,163</text>
</g><g>
<polygon points="147.8,1206.3 158.8,1206.3 163.5,1211.4 177.5,1220.0 183.8,1220.8 193.2,1225.5 199.4,1228.6 207.3,1234.9 221.3,1238.0 233.8,1240.4 243.2,1238.8 243.2,1234.9 251.0,1231.8 260.4,1236.4 268.2,1240.4 274.5,1246.6 280.8,1252.1 277.6,1227.1 316.1,1209.9 327.9,1220.8 338.8,1227.1 345.1,1224.7 359.9,1232.5 368.5,1232.2 366.2,1240.4 351.3,1247.4 359.9,1256.8 366.2,1266.9 360.7,1275.5 355.2,1275.5 329.4,1255.2 320.0,1254.4 316.9,1259.1 321.6,1265.4 330.2,1269.3 335.7,1280.2 343.5,1288.1 341.2,1296.7 342.7,1299.0 338.8,1304.5 323.2,1300.6 327.9,1312.3 323.2,1315.4 324.0,1320.1 319.3,1329.5 320.0,1333.4 328.6,1345.1 341.9,1353.0 342.7,1356.1 327.1,1371.7 322.4,1370.9 324.0,1377.2 334.1,1380.3 336.5,1384.2 324.0,1390.5 320.0,1398.3 320.4,1409.3 315.4,1410.0 280.8,1397.5 265.1,1394.4 255.7,1391.3 255.7,1385.0 247.9,1381.9 246.3,1384.2 241.7,1378.8 233.8,1373.3 226.0,1367.8 218.2,1360.0 207.3,1349.8 197.9,1339.7 194.0,1332.6 186.9,1320.1 178.3,1310.7 176.8,1299.8 172.1,1288.8 166.6,1280.2 166.6,1270.1 162.7,1260.7 163.5,1256.0 159.5,1241.9 155.6,1229.4 150.9,1216.9" fill="#fcb614"/>
<polygon points="159.5,1241.9 168.2,1241.1 169.7,1236.4 177.5,1235.7 182.2,1241.9 186.1,1247.4 185.4,1254.4 180.7,1259.1 179.9,1266.2 178.3,1271.6 179.1,1282.6 177.5,1285.7 172.1,1288.8 166.6,1280.2 166.6,1270.1 162.7,1260.7 163.5,1256.0" fill="#f6911e" stroke="#fedba2" stroke-width="0.6" stroke-linejoin="round"/>
<polygon points="182.2,1241.9 182.2,1234.9 185.4,1232.5 190.0,1233.3 194.7,1238.8 202.6,1245.0 204.1,1249.0 210.4,1249.7 209.6,1254.4 207.3,1255.2 209.6,1262.3 208.8,1271.6 215.1,1280.2 224.5,1288.8 230.7,1296.7 237.0,1304.5 243.2,1306.8 249.5,1305.3 255.0,1301.3 257.3,1307.6 256.5,1320.1 249.5,1317.0 240.1,1312.3 232.3,1317.0 229.1,1319.3 226.0,1317.0 221.3,1320.1 216.6,1317.8 214.3,1312.3 211.9,1304.5 213.5,1298.2 215.9,1295.1 211.2,1288.8 202.6,1286.5 194.7,1288.8 188.5,1287.3 185.4,1284.1 182.2,1287.3 179.1,1282.6 178.3,1271.6 179.9,1266.2 180.7,1259.1 185.4,1254.4 186.1,1247.4" fill="#f9a01e" stroke="#fedba2" stroke-width="0.6" stroke-linejoin="round"/>
<polygon points="176.8,1299.8 179.1,1296.7 181.4,1293.5 185.4,1298.2 192.4,1299.8 190.0,1304.5 186.9,1305.3 187.7,1309.2 190.8,1310.0 191.6,1319.3 198.6,1319.3 204.1,1324.0 204.1,1335.0 217.4,1335.8 224.5,1340.4 228.4,1345.1 230.7,1356.1 226.8,1358.4 229.1,1363.9 226.0,1367.8 218.2,1360.0 207.3,1349.8 197.9,1339.7 194.0,1332.6 186.9,1320.1 178.3,1310.7" fill="#f6911e" stroke="#fedba2" stroke-width="0.6" stroke-linejoin="round"/>
<polygon points="243.2,1238.8 243.2,1234.9 251.0,1231.8 260.4,1236.4 268.2,1240.4 274.5,1246.6 280.8,1252.1 277.6,1227.1 316.1,1209.9 327.9,1220.8 338.8,1227.1 345.1,1224.7 359.9,1232.5 368.5,1232.2 366.2,1240.4 351.3,1247.4 359.9,1256.8 366.2,1266.9 360.7,1275.5 355.2,1275.5 329.4,1255.2 320.0,1254.4 316.9,1259.1 321.6,1265.4 330.2,1269.3 335.7,1280.2 343.5,1288.1 341.2,1296.7 342.7,1299.0 338.8,1304.5 323.2,1300.6 316.9,1293.5 311.4,1297.4 302.1,1292.0 293.5,1290.4 288.8,1291.2 286.4,1280.2 282.5,1271.6 279.4,1270.1 283.1,1271.6 277.6,1270.1 269.8,1273.2 267.5,1282.6 270.6,1294.3 266.7,1298.2 263.6,1305.3 258.1,1308.4 255.0,1301.3 259.6,1288.8 256.5,1284.9 251.8,1278.7 247.9,1279.5 244.0,1277.9 240.1,1271.6 244.0,1268.5 244.0,1264.6 251.0,1259.1 252.6,1254.4 257.3,1253.6 255.7,1249.7 249.5,1248.2 247.1,1243.5" fill="#f6911e" stroke="#fedba2" stroke-width="0.6" stroke-linejoin="round"/>
<polygon points="230.7,1356.1 242.4,1353.0 244.0,1345.9 252.6,1347.5 262.0,1352.2 271.4,1358.4 279.4,1362.3 290.3,1358.4 302.1,1355.3 308.3,1365.5 297.4,1371.7 283.1,1371.7 281.5,1374.9 285.4,1377.2 280.8,1382.7 277.6,1379.5 276.1,1381.9 271.4,1382.7 269.0,1391.3 265.1,1392.1 258.9,1384.2 256.5,1379.5 255.7,1372.5 250.3,1371.7 252.6,1364.7 246.3,1366.3 237.7,1369.4 233.8,1366.3" fill="#f9a01e" stroke="#fedba2" stroke-width="0.6" stroke-linejoin="round"/>
<polygon points="255.7,1385.0 258.9,1384.2 265.1,1392.1 269.0,1391.3 271.4,1382.7 276.1,1381.9 277.6,1379.5 280.8,1382.7 285.4,1377.2 281.5,1374.9 283.1,1371.7 297.4,1371.7 308.3,1365.5 313.8,1367.0 320.0,1370.2 322.4,1370.9 324.0,1377.2 334.1,1380.3 336.5,1384.2 324.0,1390.5 320.0,1398.3 320.4,1409.3 315.4,1410.0 280.8,1397.5 265.1,1394.4 255.7,1391.3" fill="#f6911e" stroke="#fedba2" stroke-width="0.6" stroke-linejoin="round"/>
<polyline points="172.1,1288.8 177.5,1285.7 179.1,1282.6" fill="none" stroke="#fedba2" stroke-width="0.6" stroke-linejoin="round"/>
<polyline points="215.9,1295.1 213.5,1298.2 211.9,1304.5 214.3,1312.3 216.6,1317.8 217.4,1324.8 217.4,1335.8" fill="none" stroke="#fedba2" stroke-width="0.6" stroke-linejoin="round"/>
<polyline points="226.8,1358.4 230.7,1356.1" fill="none" stroke="#fedba2" stroke-width="0.6" stroke-linejoin="round"/>
<polyline points="182.2,1241.9 182.2,1234.9 185.4,1232.5 190.0,1233.3 194.7,1238.8 202.6,1245.0 204.1,1249.0 210.4,1249.7 209.6,1254.4 207.3,1255.2 209.6,1262.3 208.8,1271.6 215.1,1280.2 224.5,1288.8 230.7,1296.7 237.0,1304.5 243.2,1306.8 249.5,1305.3 255.0,1301.3" fill="none" stroke="#fedba2" stroke-width="0.6" stroke-linejoin="round"/>
<polyline points="256.5,1320.1 257.3,1307.6 258.1,1308.4" fill="none" stroke="#fedba2" stroke-width="0.6" stroke-linejoin="round"/>
<polygon points="47.6,1489.4 52.7,1490.2 57.0,1489.0 60.1,1491.8 58.5,1495.3 59.3,1500.8 55.8,1500.4 52.3,1497.6 49.5,1493.7" fill="#f7e21b" stroke="#f7e21b" stroke-width="0.4"/>
<polygon points="60.1,1491.8 63.6,1491.0 66.4,1493.7 69.9,1494.1 72.6,1491.0 76.1,1491.0 78.1,1491.8 83.2,1489.4 85.1,1487.1 88.6,1487.9 84.7,1492.2 78.5,1496.1 69.1,1499.2 63.6,1501.6 59.3,1500.8 58.5,1495.3" fill="none" stroke="#e8c92a" stroke-width="0.5"/>
<polyline points="132.5,1193.3 194.4,1193.3 194.4,1251.0" fill="none" stroke="#219ebc" stroke-width="1.3"/>
<circle cx="194.4" cy="1251.0" r="2.6" fill="#219ebc"/>
<polyline points="132.5,1261.7 173.6,1261.7" fill="none" stroke="#219ebc" stroke-width="1.3"/>
<circle cx="173.6" cy="1261.7" r="2.6" fill="#219ebc"/>
<polyline points="132.5,1303.8 200.0,1303.8" fill="none" stroke="#219ebc" stroke-width="1.3"/>
<circle cx="200.0" cy="1303.8" r="2.6" fill="#219ebc"/>
<polyline points="132.5,1348.0 214.7,1348.0" fill="none" stroke="#219ebc" stroke-width="1.3"/>
<circle cx="214.7" cy="1348.0" r="2.6" fill="#219ebc"/>
<polyline points="255.8,1193.3 224.9,1193.3 224.9,1256.6" fill="none" stroke="#219ebc" stroke-width="1.3"/>
<circle cx="224.9" cy="1256.6" r="2.6" fill="#219ebc"/>
<polyline points="405.7,1243.4 339.8,1243.4" fill="none" stroke="#219ebc" stroke-width="1.3"/>
<circle cx="339.8" cy="1243.4" r="2.6" fill="#219ebc"/>
<polyline points="354.4,1321.9 305.7,1321.9" fill="none" stroke="#219ebc" stroke-width="1.3"/>
<circle cx="305.7" cy="1321.9" r="2.6" fill="#219ebc"/>
<polyline points="361.3,1383.6 312.8,1383.6" fill="none" stroke="#219ebc" stroke-width="1.3"/>
<circle cx="312.8" cy="1383.6" r="2.6" fill="#219ebc"/>
<polyline points="277.9,1427.6 266.7,1427.6 266.7,1371.4" fill="none" stroke="#219ebc" stroke-width="1.3"/>
<circle cx="266.7" cy="1371.4" r="2.6" fill="#219ebc"/>
<polyline points="255.1,1454.3 243.3,1454.3 243.3,1374.4" fill="none" stroke="#219ebc" stroke-width="1.3"/>
<circle cx="243.3" cy="1374.4" r="2.6" fill="#219ebc"/>
<rect x="45.6" y="1183.7" width="86.9" height="19.2" rx="9.6" fill="#072d46" stroke="#219ebc" stroke-width="0.9"/>
<circle cx="123.0" cy="1193.3" r="9.75" fill="#219ebc"/>
<text x="123.0" y="1197.0" text-anchor="middle" font-family="Liberation Sans, sans-serif" font-size="10.3" fill="#0b2c48" stroke="#0b2c48" stroke-width="0.25">C</text>
<use href="#t62" fill="#fff" transform="translate(55.80,1196.70) scale(0.06407,0.05650)"/>
<rect x="60.4" y="1252.1" width="72.1" height="19.2" rx="9.6" fill="#072d46" stroke="#219ebc" stroke-width="0.9"/>
<circle cx="123.0" cy="1261.7" r="9.75" fill="#219ebc"/>
<text x="123.0" y="1265.4" text-anchor="middle" font-family="Liberation Sans, sans-serif" font-size="10.3" fill="#0b2c48" stroke="#0b2c48" stroke-width="0.25">A</text>
<use href="#t63" fill="#fff" transform="translate(70.60,1265.10) scale(0.06806,0.05650)"/>
<rect x="36.7" y="1294.2" width="95.8" height="19.2" rx="9.6" fill="#072d46" stroke="#219ebc" stroke-width="0.9"/>
<circle cx="123.0" cy="1303.8" r="9.75" fill="#219ebc"/>
<text x="123.0" y="1307.5" text-anchor="middle" font-family="Liberation Sans, sans-serif" font-size="10.3" fill="#0b2c48" stroke="#0b2c48" stroke-width="0.25">B</text>
<use href="#t64" fill="#fff" transform="translate(46.90,1307.20) scale(0.06454,0.05650)"/>
<rect x="69.8" y="1338.4" width="62.7" height="19.2" rx="9.6" fill="#072d46" stroke="#219ebc" stroke-width="0.9"/>
<circle cx="123.0" cy="1348.0" r="9.75" fill="#219ebc"/>
<text x="123.0" y="1351.7" text-anchor="middle" font-family="Liberation Sans, sans-serif" font-size="10.3" fill="#0b2c48" stroke="#0b2c48" stroke-width="0.25">G</text>
<use href="#t65" fill="#fff" transform="translate(80.00,1351.40) scale(0.06090,0.05650)"/>
<rect x="255.8" y="1183.7" width="120.7" height="19.2" rx="9.6" fill="#072d46" stroke="#219ebc" stroke-width="0.9"/>
<circle cx="265.3" cy="1193.3" r="9.75" fill="#219ebc"/>
<text x="265.3" y="1197.0" text-anchor="middle" font-family="Liberation Sans, sans-serif" font-size="10.3" fill="#0b2c48" stroke="#0b2c48" stroke-width="0.25">D</text>
<use href="#t66" fill="#fff" transform="translate(279.50,1196.70) scale(0.06473,0.05650)"/>
<rect x="405.7" y="1233.8" width="64.6" height="19.2" rx="9.6" fill="#072d46" stroke="#219ebc" stroke-width="0.9"/>
<circle cx="415.2" cy="1243.4" r="9.75" fill="#219ebc"/>
<text x="415.2" y="1247.1" text-anchor="middle" font-family="Liberation Sans, sans-serif" font-size="10.3" fill="#0b2c48" stroke="#0b2c48" stroke-width="0.25">E</text>
<use href="#t67" fill="#fff" transform="translate(429.40,1246.80) scale(0.07053,0.05650)"/>
<rect x="354.4" y="1312.3" width="76.0" height="19.2" rx="9.6" fill="#072d46" stroke="#219ebc" stroke-width="0.9"/>
<circle cx="363.9" cy="1321.9" r="9.75" fill="#219ebc"/>
<text x="363.9" y="1325.6" text-anchor="middle" font-family="Liberation Sans, sans-serif" font-size="10.3" fill="#0b2c48" stroke="#0b2c48" stroke-width="0.25">F</text>
<use href="#t68" fill="#fff" transform="translate(378.10,1325.30) scale(0.07242,0.05650)"/>
<rect x="361.3" y="1374.0" width="70.8" height="19.2" rx="9.6" fill="#072d46" stroke="#219ebc" stroke-width="0.9"/>
<circle cx="370.8" cy="1383.6" r="9.75" fill="#219ebc"/>
<text x="370.8" y="1387.3" text-anchor="middle" font-family="Liberation Sans, sans-serif" font-size="10.3" fill="#0b2c48" stroke="#0b2c48" stroke-width="0.25">J</text>
<use href="#t69" fill="#fff" transform="translate(385.00,1387.00) scale(0.06655,0.05650)"/>
<rect x="277.9" y="1418.0" width="69.4" height="19.2" rx="9.6" fill="#072d46" stroke="#219ebc" stroke-width="0.9"/>
<circle cx="287.4" cy="1427.6" r="9.75" fill="#219ebc"/>
<text x="287.4" y="1431.3" text-anchor="middle" font-family="Liberation Sans, sans-serif" font-size="10.3" fill="#0b2c48" stroke="#0b2c48" stroke-width="0.25">I</text>
<use href="#t70" fill="#fff" transform="translate(301.60,1431.00) scale(0.06194,0.05650)"/>
<rect x="255.1" y="1444.7" width="60.1" height="19.2" rx="9.6" fill="#072d46" stroke="#219ebc" stroke-width="0.9"/>
<circle cx="264.6" cy="1454.3" r="9.75" fill="#219ebc"/>
<text x="264.6" y="1458.0" text-anchor="middle" font-family="Liberation Sans, sans-serif" font-size="10.3" fill="#0b2c48" stroke="#0b2c48" stroke-width="0.25">H</text>
<use href="#t71" fill="#fff" transform="translate(278.80,1457.70) scale(0.06802,0.05650)"/>
</g>
<use href="#cm" transform="translate(522.0,1029.0) scale(1.00184,1.00123)"/>
<g transform="translate(522.0,1029.0) scale(1.00184,1.00123)">
<use href="#t59" fill="#0b2c48" transform="translate(83.53,82.40) scale(0.08460,0.07100)"/>
<use href="#t72" fill="#0b2c48" transform="translate(255.58,82.40) scale(0.08400,0.09000)"/>
<use href="#t73" fill="#0b2c48" transform="translate(288.01,82.40) scale(0.08350,0.07100)"/>
<use href="#t5" fill="#8ecae6" transform="translate(53.04,111.30) scale(0.06410,0.05380)"/>
<text x="187.6" y="113.0" text-anchor="middle" font-family="Liberation Sans, sans-serif" font-size="14.4" fill="#0b2c48" stroke="#0b2c48" stroke-width="0.5">7</text>
<text x="405.4" y="113.0" text-anchor="middle" font-family="Liberation Sans, sans-serif" font-size="14.4" fill="#0b2c48" stroke="#0b2c48" stroke-width="0.5">6,86,175</text>
</g><g>
<polygon points="765.8,1179.4 771.7,1180.8 793.2,1178.2 804.9,1177.4 803.9,1188.6 797.1,1195.4 799.4,1204.8 814.7,1201.3 826.0,1200.3 826.8,1207.1 833.2,1216.9 831.3,1225.7 824.4,1226.7 827.4,1241.4 824.4,1259.0 815.7,1261.9 809.8,1271.7 801.0,1285.3 806.9,1292.2 814.7,1298.1 825.4,1299.0 818.6,1315.7 826.4,1322.5 837.2,1321.5 840.1,1326.4 836.2,1333.2 841.1,1345.0 840.1,1350.8 824.4,1360.6 830.3,1369.4 840.1,1368.4 844.0,1374.3 840.1,1380.2 842.0,1386.0 847.9,1385.1 859.6,1393.9 857.7,1403.6 846.9,1400.7 842.0,1403.6 824.4,1405.6 806.9,1411.4 805.9,1416.3 789.3,1423.2 781.4,1413.4 761.9,1412.4 744.3,1414.4 730.6,1414.4 715.9,1410.5 717.9,1398.7 702.3,1398.7 701.3,1403.6 683.7,1399.7 682.7,1387.0 685.6,1380.2 690.5,1375.3 697.4,1375.3 701.3,1371.4 688.6,1364.5 684.7,1354.8 689.6,1353.8 692.5,1350.8 699.3,1346.9 710.1,1336.2 710.1,1332.3 695.4,1322.5 689.6,1318.6 681.7,1306.9 681.7,1302.9 684.7,1297.1 689.6,1293.2 686.6,1292.2 686.6,1286.3 691.5,1282.4 684.7,1267.8 704.2,1272.6 711.1,1265.8 708.1,1262.9 712.0,1257.0 704.2,1242.3 695.4,1228.7 681.7,1222.8 678.2,1216.9 681.7,1213.0 694.4,1210.1 711.1,1224.7 726.7,1236.5 732.6,1236.5 737.4,1232.6 739.4,1226.7 721.8,1202.3 732.6,1194.4 758.0,1189.6 761.9,1181.7" fill="#fcb614"/>
<polygon points="799.4,1204.8 814.7,1201.3 826.0,1200.3 826.8,1207.1 833.2,1216.9 831.3,1225.7 824.4,1226.7 827.4,1241.4 824.4,1259.0 815.7,1261.9 809.8,1271.7 801.0,1285.3 806.9,1292.2 814.7,1298.1 825.4,1299.0 818.6,1315.7 826.4,1322.5 837.2,1321.5 840.1,1326.4 836.2,1333.2 841.1,1345.0 830.3,1345.0 830.3,1348.9 804.9,1344.0 802.9,1341.1 795.1,1334.2 783.4,1328.4 776.5,1331.3 764.8,1333.2 761.9,1322.5 757.0,1306.9 757.0,1295.1 767.8,1281.4 769.7,1269.7 763.8,1263.8 769.7,1256.0 776.5,1254.1 781.4,1247.2 782.4,1238.4 778.5,1226.7 773.6,1214.0 782.4,1214.0 785.3,1210.1" fill="#f9a01e" stroke="#fedba2" stroke-width="0.6" stroke-linejoin="round"/>
<polygon points="711.1,1265.8 715.9,1271.7 718.9,1288.3 727.7,1289.3 733.5,1300.0 741.4,1298.1 742.3,1293.2 757.0,1295.1 757.0,1306.9 761.9,1322.5 764.8,1333.2 756.0,1343.0 747.2,1353.8 750.2,1362.6 758.0,1371.4 760.9,1378.2 754.1,1385.1 746.2,1386.0 748.2,1392.9 745.3,1399.7 740.4,1392.9 736.5,1389.0 734.5,1384.1 730.6,1382.1 731.6,1376.3 737.4,1373.3 732.6,1369.4 721.8,1359.6 710.1,1356.7 708.1,1351.8 699.3,1346.9 710.1,1336.2 710.1,1332.3 695.4,1322.5 689.6,1318.6 681.7,1306.9 681.7,1302.9 684.7,1297.1 689.6,1293.2 686.6,1292.2 686.6,1286.3 691.5,1282.4 684.7,1267.8 704.2,1272.6" fill="#f6911e" stroke="#fedba2" stroke-width="0.6" stroke-linejoin="round"/>
<polygon points="699.3,1346.9 708.1,1351.8 710.1,1356.7 721.8,1359.6 732.6,1369.4 737.4,1373.3 731.6,1376.3 730.6,1382.1 734.5,1384.1 736.5,1389.0 740.4,1392.9 745.3,1399.7 744.3,1414.4 730.6,1414.4 715.9,1410.5 717.9,1398.7 702.3,1398.7 701.3,1403.6 683.7,1399.7 682.7,1387.0 685.6,1380.2 690.5,1375.3 697.4,1375.3 701.3,1371.4 688.6,1364.5 684.7,1354.8 689.6,1353.8 692.5,1350.8" fill="#f9a01e" stroke="#fedba2" stroke-width="0.6" stroke-linejoin="round"/>
<polygon points="745.3,1399.7 748.2,1392.9 761.9,1393.9 767.8,1396.8 775.6,1394.8 782.4,1386.0 787.3,1385.1 792.2,1385.1 795.1,1389.9 800.0,1391.9 806.9,1389.9 808.8,1392.9 804.9,1399.7 799.0,1400.7 795.1,1407.5 792.2,1412.4 785.3,1413.4 789.3,1423.2 781.4,1413.4 761.9,1412.4 744.3,1414.4" fill="#f6911e" stroke="#fedba2" stroke-width="0.6" stroke-linejoin="round"/>
<polygon points="830.3,1369.4 840.1,1368.4 844.0,1374.3 840.1,1380.2 842.0,1386.0 847.9,1385.1 859.6,1393.9 857.7,1403.6 846.9,1400.7 842.0,1403.6 824.4,1405.6 806.9,1411.4 805.9,1416.3 789.3,1423.2 785.3,1413.4 792.2,1412.4 795.1,1407.5 799.0,1400.7 804.9,1399.7 808.8,1392.9 806.9,1389.9 800.0,1391.9 795.1,1389.9 792.2,1385.1 787.3,1385.1 791.2,1382.1 795.1,1376.3 790.2,1373.3 797.1,1369.4 802.9,1370.4 806.9,1374.3 814.7,1380.2 816.6,1373.3" fill="#f9a01e" stroke="#fedba2" stroke-width="0.6" stroke-linejoin="round"/>
<polygon points="566.1,1491.0 569.6,1490.6 570.4,1493.7 569.2,1496.9 571.2,1500.0 569.6,1501.6 565.3,1500.8 564.5,1495.3" fill="#f7e21b" stroke="#f7e21b" stroke-width="0.4"/>
<polygon points="553.6,1489.4 558.7,1490.2 563.0,1489.0 566.1,1491.0 564.5,1495.3 565.3,1500.8 561.8,1500.4 558.3,1497.6 555.5,1493.7" fill="none" stroke="#e8c92a" stroke-width="0.5"/>
<polygon points="569.6,1490.6 572.4,1493.7 575.9,1494.1 578.6,1491.0 582.1,1491.0 584.1,1491.8 589.2,1489.4 591.1,1487.1 594.6,1487.9 590.7,1492.2 584.5,1496.1 575.1,1499.2 569.6,1501.6 571.2,1500.0 569.2,1496.9 570.4,1493.7" fill="none" stroke="#e8c92a" stroke-width="0.5"/>
<polyline points="659.4,1258.9 726.3,1258.9" fill="none" stroke="#219ebc" stroke-width="1.3"/>
<circle cx="726.3" cy="1258.9" r="2.6" fill="#219ebc"/>
<polyline points="659.4,1314.4 711.9,1314.4" fill="none" stroke="#219ebc" stroke-width="1.3"/>
<circle cx="711.9" cy="1314.4" r="2.6" fill="#219ebc"/>
<polyline points="659.4,1368.6 711.9,1368.6" fill="none" stroke="#219ebc" stroke-width="1.3"/>
<circle cx="711.9" cy="1368.6" r="2.6" fill="#219ebc"/>
<polyline points="880.6,1252.4 814.5,1252.4" fill="none" stroke="#219ebc" stroke-width="1.3"/>
<circle cx="814.5" cy="1252.4" r="2.6" fill="#219ebc"/>
<polyline points="877.8,1358.3 808.4,1358.3" fill="none" stroke="#219ebc" stroke-width="1.3"/>
<circle cx="808.4" cy="1358.3" r="2.6" fill="#219ebc"/>
<polyline points="877.8,1392.4 837.1,1392.4" fill="none" stroke="#219ebc" stroke-width="1.3"/>
<circle cx="837.1" cy="1392.4" r="2.6" fill="#219ebc"/>
<polyline points="778.8,1445.3 767.7,1445.3 767.7,1405.1" fill="none" stroke="#219ebc" stroke-width="1.3"/>
<circle cx="767.7" cy="1405.1" r="2.6" fill="#219ebc"/>
<rect x="587.1" y="1249.3" width="72.3" height="19.2" rx="9.6" fill="#072d46" stroke="#219ebc" stroke-width="0.9"/>
<circle cx="649.9" cy="1258.9" r="9.75" fill="#219ebc"/>
<text x="649.9" y="1262.6" text-anchor="middle" font-family="Liberation Sans, sans-serif" font-size="10.3" fill="#0b2c48" stroke="#0b2c48" stroke-width="0.25">A</text>
<use href="#t74" fill="#fff" transform="translate(597.30,1262.30) scale(0.06612,0.05650)"/>
<rect x="582.2" y="1304.8" width="77.2" height="19.2" rx="9.6" fill="#072d46" stroke="#219ebc" stroke-width="0.9"/>
<circle cx="649.9" cy="1314.4" r="9.75" fill="#219ebc"/>
<text x="649.9" y="1318.1" text-anchor="middle" font-family="Liberation Sans, sans-serif" font-size="10.3" fill="#0b2c48" stroke="#0b2c48" stroke-width="0.25">C</text>
<use href="#t75" fill="#fff" transform="translate(592.40,1317.80) scale(0.07051,0.05650)"/>
<rect x="590.4" y="1359.0" width="69.0" height="19.2" rx="9.6" fill="#072d46" stroke="#219ebc" stroke-width="0.9"/>
<circle cx="649.9" cy="1368.6" r="9.75" fill="#219ebc"/>
<text x="649.9" y="1372.3" text-anchor="middle" font-family="Liberation Sans, sans-serif" font-size="10.3" fill="#0b2c48" stroke="#0b2c48" stroke-width="0.25">G</text>
<use href="#t76" fill="#fff" transform="translate(600.60,1372.00) scale(0.06735,0.05650)"/>
<rect x="880.6" y="1242.8" width="64.9" height="19.2" rx="9.6" fill="#072d46" stroke="#219ebc" stroke-width="0.9"/>
<circle cx="890.1" cy="1252.4" r="9.75" fill="#219ebc"/>
<text x="890.1" y="1256.1" text-anchor="middle" font-family="Liberation Sans, sans-serif" font-size="10.3" fill="#0b2c48" stroke="#0b2c48" stroke-width="0.25">B</text>
<use href="#t77" fill="#fff" transform="translate(904.30,1255.80) scale(0.06372,0.05650)"/>
<rect x="877.8" y="1348.7" width="81.3" height="19.2" rx="9.6" fill="#072d46" stroke="#219ebc" stroke-width="0.9"/>
<circle cx="887.3" cy="1358.3" r="9.75" fill="#219ebc"/>
<text x="887.3" y="1362.0" text-anchor="middle" font-family="Liberation Sans, sans-serif" font-size="10.3" fill="#0b2c48" stroke="#0b2c48" stroke-width="0.25">D</text>
<use href="#t78" fill="#fff" transform="translate(901.50,1361.70) scale(0.06603,0.05650)"/>
<rect x="877.8" y="1382.8" width="74.7" height="19.2" rx="9.6" fill="#072d46" stroke="#219ebc" stroke-width="0.9"/>
<circle cx="887.3" cy="1392.4" r="9.75" fill="#219ebc"/>
<text x="887.3" y="1396.1" text-anchor="middle" font-family="Liberation Sans, sans-serif" font-size="10.3" fill="#0b2c48" stroke="#0b2c48" stroke-width="0.25">E</text>
<use href="#t79" fill="#fff" transform="translate(901.50,1395.80) scale(0.06943,0.05650)"/>
<rect x="778.8" y="1435.7" width="60.8" height="19.2" rx="9.6" fill="#072d46" stroke="#219ebc" stroke-width="0.9"/>
<circle cx="788.3" cy="1445.3" r="9.75" fill="#219ebc"/>
<text x="788.3" y="1449.0" text-anchor="middle" font-family="Liberation Sans, sans-serif" font-size="10.3" fill="#0b2c48" stroke="#0b2c48" stroke-width="0.25">F</text>
<use href="#t80" fill="#fff" transform="translate(802.50,1448.70) scale(0.07357,0.05650)"/>
</g>
</svg></body></html>
